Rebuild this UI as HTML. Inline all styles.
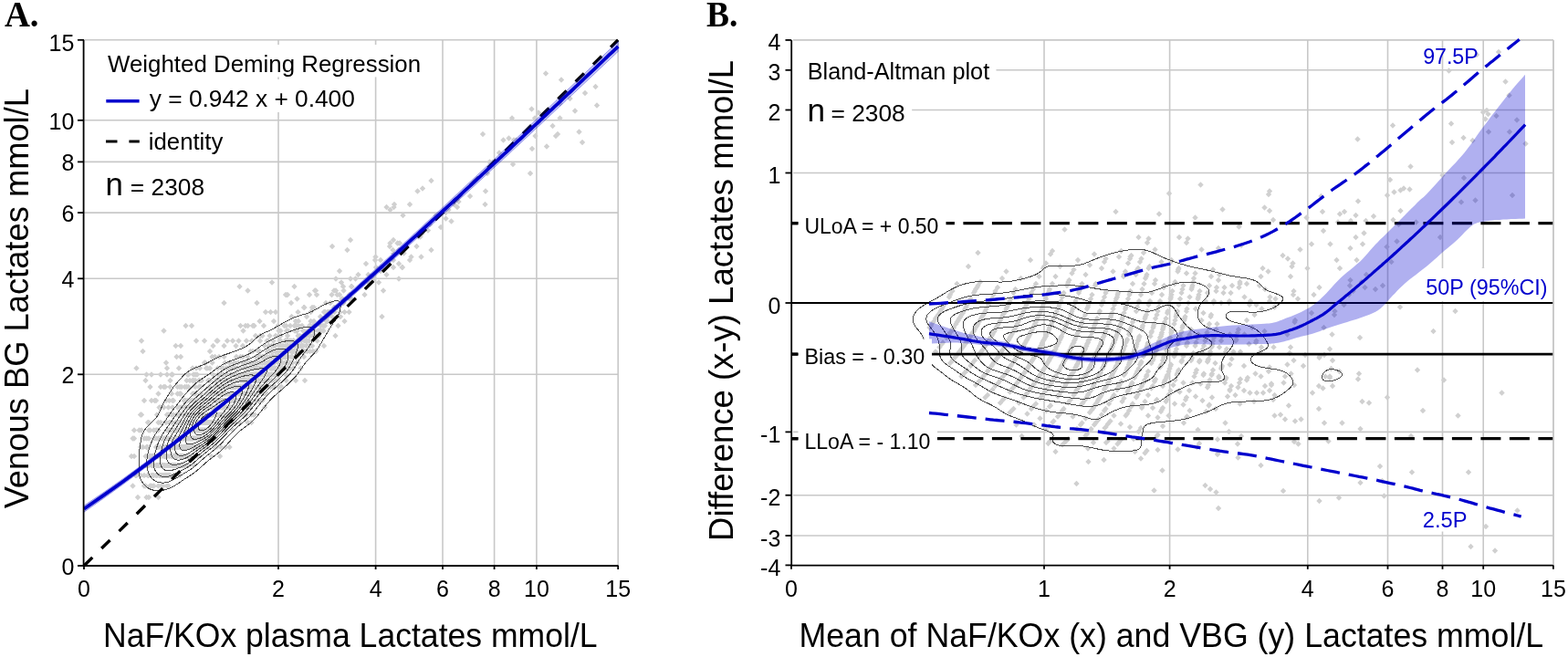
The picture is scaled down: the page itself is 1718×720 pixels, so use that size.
<!DOCTYPE html>
<html><head><meta charset="utf-8"><title>Lactates comparison</title>
<style>html,body{margin:0;padding:0;background:#fff;}svg{display:block;}</style></head>
<body><svg width="1718" height="720" viewBox="0 0 1718 720">
<rect width="1718" height="720" fill="#fff"/>
<g id="plotA">
<line x1="305" y1="44" x2="305" y2="620" stroke="#c8c8c8" stroke-width="1.6"/>
<line x1="92" y1="410.3" x2="677" y2="410.3" stroke="#c8c8c8" stroke-width="1.6"/>
<line x1="411.6" y1="44" x2="411.6" y2="620" stroke="#c8c8c8" stroke-width="1.6"/>
<line x1="92" y1="305.3" x2="677" y2="305.3" stroke="#c8c8c8" stroke-width="1.6"/>
<line x1="485" y1="44" x2="485" y2="620" stroke="#c8c8c8" stroke-width="1.6"/>
<line x1="92" y1="233.1" x2="677" y2="233.1" stroke="#c8c8c8" stroke-width="1.6"/>
<line x1="541.6" y1="44" x2="541.6" y2="620" stroke="#c8c8c8" stroke-width="1.6"/>
<line x1="92" y1="177.4" x2="677" y2="177.4" stroke="#c8c8c8" stroke-width="1.6"/>
<line x1="587.9" y1="44" x2="587.9" y2="620" stroke="#c8c8c8" stroke-width="1.6"/>
<line x1="92" y1="131.8" x2="677" y2="131.8" stroke="#c8c8c8" stroke-width="1.6"/>
<line x1="677.2" y1="44" x2="677.2" y2="620" stroke="#c8c8c8" stroke-width="1.6"/>
<line x1="92" y1="43.8" x2="677" y2="43.8" stroke="#c8c8c8" stroke-width="1.6"/>
<clipPath id="cA"><rect x="92" y="44" width="585" height="576"/></clipPath>
<g clip-path="url(#cA)"><path d="M144 496.8l3.2 3.2 -3.2 3.2 -3.2 -3.2zM145.5 477.3l3.2 3.2 -3.2 3.2 -3.2 -3.2zM145.5 529.3l3.2 3.2 -3.2 3.2 -3.2 -3.2zM147 468.3l3.2 3.2 -3.2 3.2 -3.2 -3.2zM147 477.3l3.2 3.2 -3.2 3.2 -3.2 -3.2zM147 496.8l3.2 3.2 -3.2 3.2 -3.2 -3.2zM148.5 517.8l3.2 3.2 -3.2 3.2 -3.2 -3.2zM149.5 400.3l3.2 3.2 -3.2 3.2 -3.2 -3.2zM149.5 517.8l3.2 3.2 -3.2 3.2 -3.2 -3.2zM151 541.8l3.2 3.2 -3.2 3.2 -3.2 -3.2zM152.5 468.3l3.2 3.2 -3.2 3.2 -3.2 -3.2zM152.5 517.8l3.2 3.2 -3.2 3.2 -3.2 -3.2zM154 451.3l3.2 3.2 -3.2 3.2 -3.2 -3.2zM154 486.8l3.2 3.2 -3.2 3.2 -3.2 -3.2zM154 517.8l3.2 3.2 -3.2 3.2 -3.2 -3.2zM155 370.3l3.2 3.2 -3.2 3.2 -3.2 -3.2zM155 451.3l3.2 3.2 -3.2 3.2 -3.2 -3.2zM155 468.3l3.2 3.2 -3.2 3.2 -3.2 -3.2zM156.5 381.8l3.2 3.2 -3.2 3.2 -3.2 -3.2zM156.5 486.8l3.2 3.2 -3.2 3.2 -3.2 -3.2zM158 435.8l3.2 3.2 -3.2 3.2 -3.2 -3.2zM158 477.3l3.2 3.2 -3.2 3.2 -3.2 -3.2zM158 517.8l3.2 3.2 -3.2 3.2 -3.2 -3.2zM158 529.3l3.2 3.2 -3.2 3.2 -3.2 -3.2zM159.5 413.8l3.2 3.2 -3.2 3.2 -3.2 -3.2zM159.5 496.8l3.2 3.2 -3.2 3.2 -3.2 -3.2zM159.5 506.8l3.2 3.2 -3.2 3.2 -3.2 -3.2zM159.5 529.3l3.2 3.2 -3.2 3.2 -3.2 -3.2zM160.5 407.3l3.2 3.2 -3.2 3.2 -3.2 -3.2zM160.5 477.3l3.2 3.2 -3.2 3.2 -3.2 -3.2zM160.5 486.8l3.2 3.2 -3.2 3.2 -3.2 -3.2zM160.5 506.8l3.2 3.2 -3.2 3.2 -3.2 -3.2zM160.5 541.8l3.2 3.2 -3.2 3.2 -3.2 -3.2zM162 459.8l3.2 3.2 -3.2 3.2 -3.2 -3.2zM162 486.8l3.2 3.2 -3.2 3.2 -3.2 -3.2zM162 506.8l3.2 3.2 -3.2 3.2 -3.2 -3.2zM162 517.8l3.2 3.2 -3.2 3.2 -3.2 -3.2zM163 459.8l3.2 3.2 -3.2 3.2 -3.2 -3.2zM163 468.3l3.2 3.2 -3.2 3.2 -3.2 -3.2zM163 477.3l3.2 3.2 -3.2 3.2 -3.2 -3.2zM163 496.8l3.2 3.2 -3.2 3.2 -3.2 -3.2zM163 506.8l3.2 3.2 -3.2 3.2 -3.2 -3.2zM163 517.8l3.2 3.2 -3.2 3.2 -3.2 -3.2zM163 541.8l3.2 3.2 -3.2 3.2 -3.2 -3.2zM164.5 420.8l3.2 3.2 -3.2 3.2 -3.2 -3.2zM164.5 468.3l3.2 3.2 -3.2 3.2 -3.2 -3.2zM164.5 496.8l3.2 3.2 -3.2 3.2 -3.2 -3.2zM164.5 529.3l3.2 3.2 -3.2 3.2 -3.2 -3.2zM166 407.3l3.2 3.2 -3.2 3.2 -3.2 -3.2zM166 435.8l3.2 3.2 -3.2 3.2 -3.2 -3.2zM166 496.8l3.2 3.2 -3.2 3.2 -3.2 -3.2zM166 506.8l3.2 3.2 -3.2 3.2 -3.2 -3.2zM166 517.8l3.2 3.2 -3.2 3.2 -3.2 -3.2zM166 529.3l3.2 3.2 -3.2 3.2 -3.2 -3.2zM167 496.8l3.2 3.2 -3.2 3.2 -3.2 -3.2zM167 506.8l3.2 3.2 -3.2 3.2 -3.2 -3.2zM167 517.8l3.2 3.2 -3.2 3.2 -3.2 -3.2zM168.5 468.3l3.2 3.2 -3.2 3.2 -3.2 -3.2zM168.5 477.3l3.2 3.2 -3.2 3.2 -3.2 -3.2zM168.5 496.8l3.2 3.2 -3.2 3.2 -3.2 -3.2zM168.5 506.8l3.2 3.2 -3.2 3.2 -3.2 -3.2zM168.5 517.8l3.2 3.2 -3.2 3.2 -3.2 -3.2zM168.5 529.3l3.2 3.2 -3.2 3.2 -3.2 -3.2zM169.5 435.8l3.2 3.2 -3.2 3.2 -3.2 -3.2zM169.5 496.8l3.2 3.2 -3.2 3.2 -3.2 -3.2zM171 435.8l3.2 3.2 -3.2 3.2 -3.2 -3.2zM171 468.3l3.2 3.2 -3.2 3.2 -3.2 -3.2zM171 477.3l3.2 3.2 -3.2 3.2 -3.2 -3.2zM171 486.8l3.2 3.2 -3.2 3.2 -3.2 -3.2zM171 506.8l3.2 3.2 -3.2 3.2 -3.2 -3.2zM171 517.8l3.2 3.2 -3.2 3.2 -3.2 -3.2zM172 451.3l3.2 3.2 -3.2 3.2 -3.2 -3.2zM172 468.3l3.2 3.2 -3.2 3.2 -3.2 -3.2zM172 486.8l3.2 3.2 -3.2 3.2 -3.2 -3.2zM172 496.8l3.2 3.2 -3.2 3.2 -3.2 -3.2zM172 506.8l3.2 3.2 -3.2 3.2 -3.2 -3.2zM172 517.8l3.2 3.2 -3.2 3.2 -3.2 -3.2zM173.5 428.3l3.2 3.2 -3.2 3.2 -3.2 -3.2zM173.5 459.8l3.2 3.2 -3.2 3.2 -3.2 -3.2zM173.5 468.3l3.2 3.2 -3.2 3.2 -3.2 -3.2zM173.5 477.3l3.2 3.2 -3.2 3.2 -3.2 -3.2zM173.5 486.8l3.2 3.2 -3.2 3.2 -3.2 -3.2zM173.5 496.8l3.2 3.2 -3.2 3.2 -3.2 -3.2zM173.5 506.8l3.2 3.2 -3.2 3.2 -3.2 -3.2zM173.5 529.3l3.2 3.2 -3.2 3.2 -3.2 -3.2zM173.5 541.8l3.2 3.2 -3.2 3.2 -3.2 -3.2zM174.5 443.3l3.2 3.2 -3.2 3.2 -3.2 -3.2zM174.5 477.3l3.2 3.2 -3.2 3.2 -3.2 -3.2zM174.5 506.8l3.2 3.2 -3.2 3.2 -3.2 -3.2zM174.5 517.8l3.2 3.2 -3.2 3.2 -3.2 -3.2zM176 407.3l3.2 3.2 -3.2 3.2 -3.2 -3.2zM176 420.8l3.2 3.2 -3.2 3.2 -3.2 -3.2zM176 443.3l3.2 3.2 -3.2 3.2 -3.2 -3.2zM176 459.8l3.2 3.2 -3.2 3.2 -3.2 -3.2zM176 486.8l3.2 3.2 -3.2 3.2 -3.2 -3.2zM176 506.8l3.2 3.2 -3.2 3.2 -3.2 -3.2zM176 517.8l3.2 3.2 -3.2 3.2 -3.2 -3.2zM177 477.3l3.2 3.2 -3.2 3.2 -3.2 -3.2zM177 496.8l3.2 3.2 -3.2 3.2 -3.2 -3.2zM177 506.8l3.2 3.2 -3.2 3.2 -3.2 -3.2zM177 517.8l3.2 3.2 -3.2 3.2 -3.2 -3.2zM177 529.3l3.2 3.2 -3.2 3.2 -3.2 -3.2zM178.5 486.8l3.2 3.2 -3.2 3.2 -3.2 -3.2zM178.5 506.8l3.2 3.2 -3.2 3.2 -3.2 -3.2zM178.5 517.8l3.2 3.2 -3.2 3.2 -3.2 -3.2zM178.5 529.3l3.2 3.2 -3.2 3.2 -3.2 -3.2zM179.5 359.3l3.2 3.2 -3.2 3.2 -3.2 -3.2zM179.5 420.8l3.2 3.2 -3.2 3.2 -3.2 -3.2zM179.5 443.3l3.2 3.2 -3.2 3.2 -3.2 -3.2zM179.5 477.3l3.2 3.2 -3.2 3.2 -3.2 -3.2zM179.5 486.8l3.2 3.2 -3.2 3.2 -3.2 -3.2zM179.5 496.8l3.2 3.2 -3.2 3.2 -3.2 -3.2zM179.5 506.8l3.2 3.2 -3.2 3.2 -3.2 -3.2zM179.5 517.8l3.2 3.2 -3.2 3.2 -3.2 -3.2zM181 420.8l3.2 3.2 -3.2 3.2 -3.2 -3.2zM181 477.3l3.2 3.2 -3.2 3.2 -3.2 -3.2zM181 486.8l3.2 3.2 -3.2 3.2 -3.2 -3.2zM181 496.8l3.2 3.2 -3.2 3.2 -3.2 -3.2zM181 506.8l3.2 3.2 -3.2 3.2 -3.2 -3.2zM181 517.8l3.2 3.2 -3.2 3.2 -3.2 -3.2zM182 394.3l3.2 3.2 -3.2 3.2 -3.2 -3.2zM182 435.8l3.2 3.2 -3.2 3.2 -3.2 -3.2zM182 459.8l3.2 3.2 -3.2 3.2 -3.2 -3.2zM182 477.3l3.2 3.2 -3.2 3.2 -3.2 -3.2zM182 486.8l3.2 3.2 -3.2 3.2 -3.2 -3.2zM182 496.8l3.2 3.2 -3.2 3.2 -3.2 -3.2zM182 517.8l3.2 3.2 -3.2 3.2 -3.2 -3.2zM183 400.3l3.2 3.2 -3.2 3.2 -3.2 -3.2zM183 407.3l3.2 3.2 -3.2 3.2 -3.2 -3.2zM183 451.3l3.2 3.2 -3.2 3.2 -3.2 -3.2zM183 468.3l3.2 3.2 -3.2 3.2 -3.2 -3.2zM183 477.3l3.2 3.2 -3.2 3.2 -3.2 -3.2zM183 486.8l3.2 3.2 -3.2 3.2 -3.2 -3.2zM183 496.8l3.2 3.2 -3.2 3.2 -3.2 -3.2zM183 506.8l3.2 3.2 -3.2 3.2 -3.2 -3.2zM183 517.8l3.2 3.2 -3.2 3.2 -3.2 -3.2zM183 529.3l3.2 3.2 -3.2 3.2 -3.2 -3.2zM184.5 443.3l3.2 3.2 -3.2 3.2 -3.2 -3.2zM184.5 451.3l3.2 3.2 -3.2 3.2 -3.2 -3.2zM184.5 477.3l3.2 3.2 -3.2 3.2 -3.2 -3.2zM184.5 486.8l3.2 3.2 -3.2 3.2 -3.2 -3.2zM184.5 506.8l3.2 3.2 -3.2 3.2 -3.2 -3.2zM184.5 517.8l3.2 3.2 -3.2 3.2 -3.2 -3.2zM184.5 529.3l3.2 3.2 -3.2 3.2 -3.2 -3.2zM185.5 435.8l3.2 3.2 -3.2 3.2 -3.2 -3.2zM185.5 459.8l3.2 3.2 -3.2 3.2 -3.2 -3.2zM185.5 468.3l3.2 3.2 -3.2 3.2 -3.2 -3.2zM185.5 486.8l3.2 3.2 -3.2 3.2 -3.2 -3.2zM185.5 496.8l3.2 3.2 -3.2 3.2 -3.2 -3.2zM185.5 506.8l3.2 3.2 -3.2 3.2 -3.2 -3.2zM185.5 517.8l3.2 3.2 -3.2 3.2 -3.2 -3.2zM186.5 413.8l3.2 3.2 -3.2 3.2 -3.2 -3.2zM186.5 420.8l3.2 3.2 -3.2 3.2 -3.2 -3.2zM186.5 459.8l3.2 3.2 -3.2 3.2 -3.2 -3.2zM186.5 468.3l3.2 3.2 -3.2 3.2 -3.2 -3.2zM186.5 477.3l3.2 3.2 -3.2 3.2 -3.2 -3.2zM186.5 486.8l3.2 3.2 -3.2 3.2 -3.2 -3.2zM186.5 506.8l3.2 3.2 -3.2 3.2 -3.2 -3.2zM186.5 517.8l3.2 3.2 -3.2 3.2 -3.2 -3.2zM188 407.3l3.2 3.2 -3.2 3.2 -3.2 -3.2zM188 428.3l3.2 3.2 -3.2 3.2 -3.2 -3.2zM188 451.3l3.2 3.2 -3.2 3.2 -3.2 -3.2zM188 468.3l3.2 3.2 -3.2 3.2 -3.2 -3.2zM188 477.3l3.2 3.2 -3.2 3.2 -3.2 -3.2zM188 486.8l3.2 3.2 -3.2 3.2 -3.2 -3.2zM188 496.8l3.2 3.2 -3.2 3.2 -3.2 -3.2zM188 506.8l3.2 3.2 -3.2 3.2 -3.2 -3.2zM189 407.3l3.2 3.2 -3.2 3.2 -3.2 -3.2zM189 435.8l3.2 3.2 -3.2 3.2 -3.2 -3.2zM189 443.3l3.2 3.2 -3.2 3.2 -3.2 -3.2zM189 459.8l3.2 3.2 -3.2 3.2 -3.2 -3.2zM189 477.3l3.2 3.2 -3.2 3.2 -3.2 -3.2zM189 486.8l3.2 3.2 -3.2 3.2 -3.2 -3.2zM189 496.8l3.2 3.2 -3.2 3.2 -3.2 -3.2zM189 506.8l3.2 3.2 -3.2 3.2 -3.2 -3.2zM190 435.8l3.2 3.2 -3.2 3.2 -3.2 -3.2zM190 451.3l3.2 3.2 -3.2 3.2 -3.2 -3.2zM190 468.3l3.2 3.2 -3.2 3.2 -3.2 -3.2zM190 486.8l3.2 3.2 -3.2 3.2 -3.2 -3.2zM190 496.8l3.2 3.2 -3.2 3.2 -3.2 -3.2zM190 506.8l3.2 3.2 -3.2 3.2 -3.2 -3.2zM190 517.8l3.2 3.2 -3.2 3.2 -3.2 -3.2zM191.5 468.3l3.2 3.2 -3.2 3.2 -3.2 -3.2zM191.5 486.8l3.2 3.2 -3.2 3.2 -3.2 -3.2zM191.5 496.8l3.2 3.2 -3.2 3.2 -3.2 -3.2zM191.5 506.8l3.2 3.2 -3.2 3.2 -3.2 -3.2zM191.5 517.8l3.2 3.2 -3.2 3.2 -3.2 -3.2zM192.5 375.8l3.2 3.2 -3.2 3.2 -3.2 -3.2zM192.5 459.8l3.2 3.2 -3.2 3.2 -3.2 -3.2zM192.5 468.3l3.2 3.2 -3.2 3.2 -3.2 -3.2zM192.5 477.3l3.2 3.2 -3.2 3.2 -3.2 -3.2zM192.5 486.8l3.2 3.2 -3.2 3.2 -3.2 -3.2zM192.5 496.8l3.2 3.2 -3.2 3.2 -3.2 -3.2zM192.5 506.8l3.2 3.2 -3.2 3.2 -3.2 -3.2zM193.5 387.8l3.2 3.2 -3.2 3.2 -3.2 -3.2zM193.5 451.3l3.2 3.2 -3.2 3.2 -3.2 -3.2zM193.5 477.3l3.2 3.2 -3.2 3.2 -3.2 -3.2zM193.5 486.8l3.2 3.2 -3.2 3.2 -3.2 -3.2zM193.5 496.8l3.2 3.2 -3.2 3.2 -3.2 -3.2zM194.5 420.8l3.2 3.2 -3.2 3.2 -3.2 -3.2zM194.5 428.3l3.2 3.2 -3.2 3.2 -3.2 -3.2zM194.5 443.3l3.2 3.2 -3.2 3.2 -3.2 -3.2zM194.5 459.8l3.2 3.2 -3.2 3.2 -3.2 -3.2zM194.5 468.3l3.2 3.2 -3.2 3.2 -3.2 -3.2zM194.5 477.3l3.2 3.2 -3.2 3.2 -3.2 -3.2zM194.5 486.8l3.2 3.2 -3.2 3.2 -3.2 -3.2zM194.5 496.8l3.2 3.2 -3.2 3.2 -3.2 -3.2zM194.5 506.8l3.2 3.2 -3.2 3.2 -3.2 -3.2zM196 400.3l3.2 3.2 -3.2 3.2 -3.2 -3.2zM196 451.3l3.2 3.2 -3.2 3.2 -3.2 -3.2zM196 459.8l3.2 3.2 -3.2 3.2 -3.2 -3.2zM196 468.3l3.2 3.2 -3.2 3.2 -3.2 -3.2zM196 477.3l3.2 3.2 -3.2 3.2 -3.2 -3.2zM196 486.8l3.2 3.2 -3.2 3.2 -3.2 -3.2zM196 506.8l3.2 3.2 -3.2 3.2 -3.2 -3.2zM197 420.8l3.2 3.2 -3.2 3.2 -3.2 -3.2zM197 428.3l3.2 3.2 -3.2 3.2 -3.2 -3.2zM197 443.3l3.2 3.2 -3.2 3.2 -3.2 -3.2zM197 451.3l3.2 3.2 -3.2 3.2 -3.2 -3.2zM197 459.8l3.2 3.2 -3.2 3.2 -3.2 -3.2zM197 477.3l3.2 3.2 -3.2 3.2 -3.2 -3.2zM197 486.8l3.2 3.2 -3.2 3.2 -3.2 -3.2zM197 496.8l3.2 3.2 -3.2 3.2 -3.2 -3.2zM197 506.8l3.2 3.2 -3.2 3.2 -3.2 -3.2zM197 517.8l3.2 3.2 -3.2 3.2 -3.2 -3.2zM198 375.8l3.2 3.2 -3.2 3.2 -3.2 -3.2zM198 387.8l3.2 3.2 -3.2 3.2 -3.2 -3.2zM198 428.3l3.2 3.2 -3.2 3.2 -3.2 -3.2zM198 451.3l3.2 3.2 -3.2 3.2 -3.2 -3.2zM198 468.3l3.2 3.2 -3.2 3.2 -3.2 -3.2zM198 477.3l3.2 3.2 -3.2 3.2 -3.2 -3.2zM198 486.8l3.2 3.2 -3.2 3.2 -3.2 -3.2zM198 496.8l3.2 3.2 -3.2 3.2 -3.2 -3.2zM198 506.8l3.2 3.2 -3.2 3.2 -3.2 -3.2zM199 420.8l3.2 3.2 -3.2 3.2 -3.2 -3.2zM199 443.3l3.2 3.2 -3.2 3.2 -3.2 -3.2zM199 459.8l3.2 3.2 -3.2 3.2 -3.2 -3.2zM199 468.3l3.2 3.2 -3.2 3.2 -3.2 -3.2zM199 477.3l3.2 3.2 -3.2 3.2 -3.2 -3.2zM199 486.8l3.2 3.2 -3.2 3.2 -3.2 -3.2zM199 496.8l3.2 3.2 -3.2 3.2 -3.2 -3.2zM199 506.8l3.2 3.2 -3.2 3.2 -3.2 -3.2zM200 459.8l3.2 3.2 -3.2 3.2 -3.2 -3.2zM200 468.3l3.2 3.2 -3.2 3.2 -3.2 -3.2zM200 477.3l3.2 3.2 -3.2 3.2 -3.2 -3.2zM200 486.8l3.2 3.2 -3.2 3.2 -3.2 -3.2zM200 496.8l3.2 3.2 -3.2 3.2 -3.2 -3.2zM200 506.8l3.2 3.2 -3.2 3.2 -3.2 -3.2zM201.5 435.8l3.2 3.2 -3.2 3.2 -3.2 -3.2zM201.5 451.3l3.2 3.2 -3.2 3.2 -3.2 -3.2zM201.5 459.8l3.2 3.2 -3.2 3.2 -3.2 -3.2zM201.5 468.3l3.2 3.2 -3.2 3.2 -3.2 -3.2zM201.5 477.3l3.2 3.2 -3.2 3.2 -3.2 -3.2zM201.5 486.8l3.2 3.2 -3.2 3.2 -3.2 -3.2zM201.5 496.8l3.2 3.2 -3.2 3.2 -3.2 -3.2zM201.5 506.8l3.2 3.2 -3.2 3.2 -3.2 -3.2zM202.5 420.8l3.2 3.2 -3.2 3.2 -3.2 -3.2zM202.5 435.8l3.2 3.2 -3.2 3.2 -3.2 -3.2zM202.5 443.3l3.2 3.2 -3.2 3.2 -3.2 -3.2zM202.5 451.3l3.2 3.2 -3.2 3.2 -3.2 -3.2zM202.5 459.8l3.2 3.2 -3.2 3.2 -3.2 -3.2zM202.5 468.3l3.2 3.2 -3.2 3.2 -3.2 -3.2zM202.5 486.8l3.2 3.2 -3.2 3.2 -3.2 -3.2zM202.5 496.8l3.2 3.2 -3.2 3.2 -3.2 -3.2zM202.5 506.8l3.2 3.2 -3.2 3.2 -3.2 -3.2zM203.5 353.8l3.2 3.2 -3.2 3.2 -3.2 -3.2zM203.5 435.8l3.2 3.2 -3.2 3.2 -3.2 -3.2zM203.5 451.3l3.2 3.2 -3.2 3.2 -3.2 -3.2zM203.5 468.3l3.2 3.2 -3.2 3.2 -3.2 -3.2zM203.5 477.3l3.2 3.2 -3.2 3.2 -3.2 -3.2zM203.5 486.8l3.2 3.2 -3.2 3.2 -3.2 -3.2zM203.5 496.8l3.2 3.2 -3.2 3.2 -3.2 -3.2zM203.5 506.8l3.2 3.2 -3.2 3.2 -3.2 -3.2zM204.5 413.8l3.2 3.2 -3.2 3.2 -3.2 -3.2zM204.5 420.8l3.2 3.2 -3.2 3.2 -3.2 -3.2zM204.5 443.3l3.2 3.2 -3.2 3.2 -3.2 -3.2zM204.5 459.8l3.2 3.2 -3.2 3.2 -3.2 -3.2zM204.5 468.3l3.2 3.2 -3.2 3.2 -3.2 -3.2zM204.5 477.3l3.2 3.2 -3.2 3.2 -3.2 -3.2zM204.5 486.8l3.2 3.2 -3.2 3.2 -3.2 -3.2zM204.5 496.8l3.2 3.2 -3.2 3.2 -3.2 -3.2zM204.5 506.8l3.2 3.2 -3.2 3.2 -3.2 -3.2zM205.5 407.3l3.2 3.2 -3.2 3.2 -3.2 -3.2zM205.5 435.8l3.2 3.2 -3.2 3.2 -3.2 -3.2zM205.5 451.3l3.2 3.2 -3.2 3.2 -3.2 -3.2zM205.5 459.8l3.2 3.2 -3.2 3.2 -3.2 -3.2zM205.5 468.3l3.2 3.2 -3.2 3.2 -3.2 -3.2zM205.5 477.3l3.2 3.2 -3.2 3.2 -3.2 -3.2zM205.5 486.8l3.2 3.2 -3.2 3.2 -3.2 -3.2zM205.5 496.8l3.2 3.2 -3.2 3.2 -3.2 -3.2zM205.5 506.8l3.2 3.2 -3.2 3.2 -3.2 -3.2zM206.5 407.3l3.2 3.2 -3.2 3.2 -3.2 -3.2zM206.5 420.8l3.2 3.2 -3.2 3.2 -3.2 -3.2zM206.5 443.3l3.2 3.2 -3.2 3.2 -3.2 -3.2zM206.5 451.3l3.2 3.2 -3.2 3.2 -3.2 -3.2zM206.5 459.8l3.2 3.2 -3.2 3.2 -3.2 -3.2zM206.5 468.3l3.2 3.2 -3.2 3.2 -3.2 -3.2zM206.5 477.3l3.2 3.2 -3.2 3.2 -3.2 -3.2zM206.5 486.8l3.2 3.2 -3.2 3.2 -3.2 -3.2zM206.5 496.8l3.2 3.2 -3.2 3.2 -3.2 -3.2zM206.5 506.8l3.2 3.2 -3.2 3.2 -3.2 -3.2zM208 413.8l3.2 3.2 -3.2 3.2 -3.2 -3.2zM208 435.8l3.2 3.2 -3.2 3.2 -3.2 -3.2zM208 443.3l3.2 3.2 -3.2 3.2 -3.2 -3.2zM208 451.3l3.2 3.2 -3.2 3.2 -3.2 -3.2zM208 468.3l3.2 3.2 -3.2 3.2 -3.2 -3.2zM208 477.3l3.2 3.2 -3.2 3.2 -3.2 -3.2zM208 486.8l3.2 3.2 -3.2 3.2 -3.2 -3.2zM208 496.8l3.2 3.2 -3.2 3.2 -3.2 -3.2zM209 435.8l3.2 3.2 -3.2 3.2 -3.2 -3.2zM209 443.3l3.2 3.2 -3.2 3.2 -3.2 -3.2zM209 451.3l3.2 3.2 -3.2 3.2 -3.2 -3.2zM209 459.8l3.2 3.2 -3.2 3.2 -3.2 -3.2zM209 477.3l3.2 3.2 -3.2 3.2 -3.2 -3.2zM209 486.8l3.2 3.2 -3.2 3.2 -3.2 -3.2zM210 353.8l3.2 3.2 -3.2 3.2 -3.2 -3.2zM210 451.3l3.2 3.2 -3.2 3.2 -3.2 -3.2zM210 459.8l3.2 3.2 -3.2 3.2 -3.2 -3.2zM210 468.3l3.2 3.2 -3.2 3.2 -3.2 -3.2zM210 477.3l3.2 3.2 -3.2 3.2 -3.2 -3.2zM210 486.8l3.2 3.2 -3.2 3.2 -3.2 -3.2zM210 496.8l3.2 3.2 -3.2 3.2 -3.2 -3.2zM211 400.3l3.2 3.2 -3.2 3.2 -3.2 -3.2zM211 413.8l3.2 3.2 -3.2 3.2 -3.2 -3.2zM211 428.3l3.2 3.2 -3.2 3.2 -3.2 -3.2zM211 435.8l3.2 3.2 -3.2 3.2 -3.2 -3.2zM211 443.3l3.2 3.2 -3.2 3.2 -3.2 -3.2zM211 451.3l3.2 3.2 -3.2 3.2 -3.2 -3.2zM211 459.8l3.2 3.2 -3.2 3.2 -3.2 -3.2zM211 468.3l3.2 3.2 -3.2 3.2 -3.2 -3.2zM211 477.3l3.2 3.2 -3.2 3.2 -3.2 -3.2zM211 486.8l3.2 3.2 -3.2 3.2 -3.2 -3.2zM211 496.8l3.2 3.2 -3.2 3.2 -3.2 -3.2zM212 407.3l3.2 3.2 -3.2 3.2 -3.2 -3.2zM212 413.8l3.2 3.2 -3.2 3.2 -3.2 -3.2zM212 428.3l3.2 3.2 -3.2 3.2 -3.2 -3.2zM212 435.8l3.2 3.2 -3.2 3.2 -3.2 -3.2zM212 451.3l3.2 3.2 -3.2 3.2 -3.2 -3.2zM212 459.8l3.2 3.2 -3.2 3.2 -3.2 -3.2zM212 468.3l3.2 3.2 -3.2 3.2 -3.2 -3.2zM212 477.3l3.2 3.2 -3.2 3.2 -3.2 -3.2zM212 486.8l3.2 3.2 -3.2 3.2 -3.2 -3.2zM212 496.8l3.2 3.2 -3.2 3.2 -3.2 -3.2zM212 506.8l3.2 3.2 -3.2 3.2 -3.2 -3.2zM213 435.8l3.2 3.2 -3.2 3.2 -3.2 -3.2zM213 451.3l3.2 3.2 -3.2 3.2 -3.2 -3.2zM213 459.8l3.2 3.2 -3.2 3.2 -3.2 -3.2zM213 468.3l3.2 3.2 -3.2 3.2 -3.2 -3.2zM213 477.3l3.2 3.2 -3.2 3.2 -3.2 -3.2zM213 486.8l3.2 3.2 -3.2 3.2 -3.2 -3.2zM214 407.3l3.2 3.2 -3.2 3.2 -3.2 -3.2zM214 413.8l3.2 3.2 -3.2 3.2 -3.2 -3.2zM214 420.8l3.2 3.2 -3.2 3.2 -3.2 -3.2zM214 428.3l3.2 3.2 -3.2 3.2 -3.2 -3.2zM214 443.3l3.2 3.2 -3.2 3.2 -3.2 -3.2zM214 451.3l3.2 3.2 -3.2 3.2 -3.2 -3.2zM214 459.8l3.2 3.2 -3.2 3.2 -3.2 -3.2zM214 468.3l3.2 3.2 -3.2 3.2 -3.2 -3.2zM214 477.3l3.2 3.2 -3.2 3.2 -3.2 -3.2zM214 486.8l3.2 3.2 -3.2 3.2 -3.2 -3.2zM215 370.3l3.2 3.2 -3.2 3.2 -3.2 -3.2zM215 400.3l3.2 3.2 -3.2 3.2 -3.2 -3.2zM215 435.8l3.2 3.2 -3.2 3.2 -3.2 -3.2zM215 459.8l3.2 3.2 -3.2 3.2 -3.2 -3.2zM215 468.3l3.2 3.2 -3.2 3.2 -3.2 -3.2zM215 477.3l3.2 3.2 -3.2 3.2 -3.2 -3.2zM215 486.8l3.2 3.2 -3.2 3.2 -3.2 -3.2zM216 407.3l3.2 3.2 -3.2 3.2 -3.2 -3.2zM216 435.8l3.2 3.2 -3.2 3.2 -3.2 -3.2zM216 451.3l3.2 3.2 -3.2 3.2 -3.2 -3.2zM216 459.8l3.2 3.2 -3.2 3.2 -3.2 -3.2zM216 468.3l3.2 3.2 -3.2 3.2 -3.2 -3.2zM216 477.3l3.2 3.2 -3.2 3.2 -3.2 -3.2zM216 486.8l3.2 3.2 -3.2 3.2 -3.2 -3.2zM216 496.8l3.2 3.2 -3.2 3.2 -3.2 -3.2zM217 443.3l3.2 3.2 -3.2 3.2 -3.2 -3.2zM217 451.3l3.2 3.2 -3.2 3.2 -3.2 -3.2zM217 459.8l3.2 3.2 -3.2 3.2 -3.2 -3.2zM217 468.3l3.2 3.2 -3.2 3.2 -3.2 -3.2zM217 477.3l3.2 3.2 -3.2 3.2 -3.2 -3.2zM217 486.8l3.2 3.2 -3.2 3.2 -3.2 -3.2zM217 496.8l3.2 3.2 -3.2 3.2 -3.2 -3.2zM218 413.8l3.2 3.2 -3.2 3.2 -3.2 -3.2zM218 420.8l3.2 3.2 -3.2 3.2 -3.2 -3.2zM218 435.8l3.2 3.2 -3.2 3.2 -3.2 -3.2zM218 443.3l3.2 3.2 -3.2 3.2 -3.2 -3.2zM218 451.3l3.2 3.2 -3.2 3.2 -3.2 -3.2zM218 459.8l3.2 3.2 -3.2 3.2 -3.2 -3.2zM218 468.3l3.2 3.2 -3.2 3.2 -3.2 -3.2zM218 477.3l3.2 3.2 -3.2 3.2 -3.2 -3.2zM218 496.8l3.2 3.2 -3.2 3.2 -3.2 -3.2zM219 400.3l3.2 3.2 -3.2 3.2 -3.2 -3.2zM219 413.8l3.2 3.2 -3.2 3.2 -3.2 -3.2zM219 420.8l3.2 3.2 -3.2 3.2 -3.2 -3.2zM219 435.8l3.2 3.2 -3.2 3.2 -3.2 -3.2zM219 443.3l3.2 3.2 -3.2 3.2 -3.2 -3.2zM219 451.3l3.2 3.2 -3.2 3.2 -3.2 -3.2zM219 459.8l3.2 3.2 -3.2 3.2 -3.2 -3.2zM219 468.3l3.2 3.2 -3.2 3.2 -3.2 -3.2zM219 477.3l3.2 3.2 -3.2 3.2 -3.2 -3.2zM219 486.8l3.2 3.2 -3.2 3.2 -3.2 -3.2zM220 420.8l3.2 3.2 -3.2 3.2 -3.2 -3.2zM220 428.3l3.2 3.2 -3.2 3.2 -3.2 -3.2zM220 435.8l3.2 3.2 -3.2 3.2 -3.2 -3.2zM220 443.3l3.2 3.2 -3.2 3.2 -3.2 -3.2zM220 451.3l3.2 3.2 -3.2 3.2 -3.2 -3.2zM220 459.8l3.2 3.2 -3.2 3.2 -3.2 -3.2zM220 468.3l3.2 3.2 -3.2 3.2 -3.2 -3.2zM220 477.3l3.2 3.2 -3.2 3.2 -3.2 -3.2zM220 486.8l3.2 3.2 -3.2 3.2 -3.2 -3.2zM221 413.8l3.2 3.2 -3.2 3.2 -3.2 -3.2zM221 451.3l3.2 3.2 -3.2 3.2 -3.2 -3.2zM221 459.8l3.2 3.2 -3.2 3.2 -3.2 -3.2zM221 468.3l3.2 3.2 -3.2 3.2 -3.2 -3.2zM221 477.3l3.2 3.2 -3.2 3.2 -3.2 -3.2zM221 486.8l3.2 3.2 -3.2 3.2 -3.2 -3.2zM222 435.8l3.2 3.2 -3.2 3.2 -3.2 -3.2zM222 443.3l3.2 3.2 -3.2 3.2 -3.2 -3.2zM222 451.3l3.2 3.2 -3.2 3.2 -3.2 -3.2zM222 459.8l3.2 3.2 -3.2 3.2 -3.2 -3.2zM222 468.3l3.2 3.2 -3.2 3.2 -3.2 -3.2zM222 477.3l3.2 3.2 -3.2 3.2 -3.2 -3.2zM223 435.8l3.2 3.2 -3.2 3.2 -3.2 -3.2zM223 443.3l3.2 3.2 -3.2 3.2 -3.2 -3.2zM223 451.3l3.2 3.2 -3.2 3.2 -3.2 -3.2zM223 459.8l3.2 3.2 -3.2 3.2 -3.2 -3.2zM223 468.3l3.2 3.2 -3.2 3.2 -3.2 -3.2zM223 477.3l3.2 3.2 -3.2 3.2 -3.2 -3.2zM223 486.8l3.2 3.2 -3.2 3.2 -3.2 -3.2zM224 370.3l3.2 3.2 -3.2 3.2 -3.2 -3.2zM224 394.3l3.2 3.2 -3.2 3.2 -3.2 -3.2zM224 435.8l3.2 3.2 -3.2 3.2 -3.2 -3.2zM224 443.3l3.2 3.2 -3.2 3.2 -3.2 -3.2zM224 451.3l3.2 3.2 -3.2 3.2 -3.2 -3.2zM224 459.8l3.2 3.2 -3.2 3.2 -3.2 -3.2zM224 468.3l3.2 3.2 -3.2 3.2 -3.2 -3.2zM224 477.3l3.2 3.2 -3.2 3.2 -3.2 -3.2zM224 486.8l3.2 3.2 -3.2 3.2 -3.2 -3.2zM225 394.3l3.2 3.2 -3.2 3.2 -3.2 -3.2zM225 435.8l3.2 3.2 -3.2 3.2 -3.2 -3.2zM225 443.3l3.2 3.2 -3.2 3.2 -3.2 -3.2zM225 451.3l3.2 3.2 -3.2 3.2 -3.2 -3.2zM225 459.8l3.2 3.2 -3.2 3.2 -3.2 -3.2zM225 468.3l3.2 3.2 -3.2 3.2 -3.2 -3.2zM225 477.3l3.2 3.2 -3.2 3.2 -3.2 -3.2zM225 486.8l3.2 3.2 -3.2 3.2 -3.2 -3.2zM226 400.3l3.2 3.2 -3.2 3.2 -3.2 -3.2zM226 428.3l3.2 3.2 -3.2 3.2 -3.2 -3.2zM226 435.8l3.2 3.2 -3.2 3.2 -3.2 -3.2zM226 443.3l3.2 3.2 -3.2 3.2 -3.2 -3.2zM226 451.3l3.2 3.2 -3.2 3.2 -3.2 -3.2zM226 459.8l3.2 3.2 -3.2 3.2 -3.2 -3.2zM226 468.3l3.2 3.2 -3.2 3.2 -3.2 -3.2zM226 477.3l3.2 3.2 -3.2 3.2 -3.2 -3.2zM226 486.8l3.2 3.2 -3.2 3.2 -3.2 -3.2zM227 400.3l3.2 3.2 -3.2 3.2 -3.2 -3.2zM227 428.3l3.2 3.2 -3.2 3.2 -3.2 -3.2zM227 435.8l3.2 3.2 -3.2 3.2 -3.2 -3.2zM227 443.3l3.2 3.2 -3.2 3.2 -3.2 -3.2zM227 451.3l3.2 3.2 -3.2 3.2 -3.2 -3.2zM227 459.8l3.2 3.2 -3.2 3.2 -3.2 -3.2zM227 468.3l3.2 3.2 -3.2 3.2 -3.2 -3.2zM227 477.3l3.2 3.2 -3.2 3.2 -3.2 -3.2zM228 413.8l3.2 3.2 -3.2 3.2 -3.2 -3.2zM228 428.3l3.2 3.2 -3.2 3.2 -3.2 -3.2zM228 435.8l3.2 3.2 -3.2 3.2 -3.2 -3.2zM228 443.3l3.2 3.2 -3.2 3.2 -3.2 -3.2zM228 451.3l3.2 3.2 -3.2 3.2 -3.2 -3.2zM228 459.8l3.2 3.2 -3.2 3.2 -3.2 -3.2zM228 468.3l3.2 3.2 -3.2 3.2 -3.2 -3.2zM228 477.3l3.2 3.2 -3.2 3.2 -3.2 -3.2zM228 486.8l3.2 3.2 -3.2 3.2 -3.2 -3.2zM229 413.8l3.2 3.2 -3.2 3.2 -3.2 -3.2zM229 420.8l3.2 3.2 -3.2 3.2 -3.2 -3.2zM229 428.3l3.2 3.2 -3.2 3.2 -3.2 -3.2zM229 443.3l3.2 3.2 -3.2 3.2 -3.2 -3.2zM229 451.3l3.2 3.2 -3.2 3.2 -3.2 -3.2zM229 459.8l3.2 3.2 -3.2 3.2 -3.2 -3.2zM229 468.3l3.2 3.2 -3.2 3.2 -3.2 -3.2zM229 477.3l3.2 3.2 -3.2 3.2 -3.2 -3.2zM230 381.8l3.2 3.2 -3.2 3.2 -3.2 -3.2zM230 400.3l3.2 3.2 -3.2 3.2 -3.2 -3.2zM230 413.8l3.2 3.2 -3.2 3.2 -3.2 -3.2zM230 420.8l3.2 3.2 -3.2 3.2 -3.2 -3.2zM230 435.8l3.2 3.2 -3.2 3.2 -3.2 -3.2zM230 443.3l3.2 3.2 -3.2 3.2 -3.2 -3.2zM230 451.3l3.2 3.2 -3.2 3.2 -3.2 -3.2zM230 459.8l3.2 3.2 -3.2 3.2 -3.2 -3.2zM230 468.3l3.2 3.2 -3.2 3.2 -3.2 -3.2zM231 428.3l3.2 3.2 -3.2 3.2 -3.2 -3.2zM231 443.3l3.2 3.2 -3.2 3.2 -3.2 -3.2zM231 451.3l3.2 3.2 -3.2 3.2 -3.2 -3.2zM231 459.8l3.2 3.2 -3.2 3.2 -3.2 -3.2zM231 468.3l3.2 3.2 -3.2 3.2 -3.2 -3.2zM231.5 428.3l3.2 3.2 -3.2 3.2 -3.2 -3.2zM231.5 435.8l3.2 3.2 -3.2 3.2 -3.2 -3.2zM231.5 443.3l3.2 3.2 -3.2 3.2 -3.2 -3.2zM231.5 451.3l3.2 3.2 -3.2 3.2 -3.2 -3.2zM231.5 459.8l3.2 3.2 -3.2 3.2 -3.2 -3.2zM231.5 468.3l3.2 3.2 -3.2 3.2 -3.2 -3.2zM231.5 496.8l3.2 3.2 -3.2 3.2 -3.2 -3.2zM232.5 387.8l3.2 3.2 -3.2 3.2 -3.2 -3.2zM232.5 394.3l3.2 3.2 -3.2 3.2 -3.2 -3.2zM232.5 428.3l3.2 3.2 -3.2 3.2 -3.2 -3.2zM232.5 435.8l3.2 3.2 -3.2 3.2 -3.2 -3.2zM232.5 443.3l3.2 3.2 -3.2 3.2 -3.2 -3.2zM232.5 451.3l3.2 3.2 -3.2 3.2 -3.2 -3.2zM232.5 459.8l3.2 3.2 -3.2 3.2 -3.2 -3.2zM232.5 468.3l3.2 3.2 -3.2 3.2 -3.2 -3.2zM233.5 375.8l3.2 3.2 -3.2 3.2 -3.2 -3.2zM233.5 407.3l3.2 3.2 -3.2 3.2 -3.2 -3.2zM233.5 428.3l3.2 3.2 -3.2 3.2 -3.2 -3.2zM233.5 435.8l3.2 3.2 -3.2 3.2 -3.2 -3.2zM233.5 443.3l3.2 3.2 -3.2 3.2 -3.2 -3.2zM233.5 451.3l3.2 3.2 -3.2 3.2 -3.2 -3.2zM233.5 459.8l3.2 3.2 -3.2 3.2 -3.2 -3.2zM233.5 468.3l3.2 3.2 -3.2 3.2 -3.2 -3.2zM234.5 428.3l3.2 3.2 -3.2 3.2 -3.2 -3.2zM234.5 435.8l3.2 3.2 -3.2 3.2 -3.2 -3.2zM234.5 443.3l3.2 3.2 -3.2 3.2 -3.2 -3.2zM234.5 451.3l3.2 3.2 -3.2 3.2 -3.2 -3.2zM234.5 459.8l3.2 3.2 -3.2 3.2 -3.2 -3.2zM234.5 468.3l3.2 3.2 -3.2 3.2 -3.2 -3.2zM234.5 477.3l3.2 3.2 -3.2 3.2 -3.2 -3.2zM234.5 486.8l3.2 3.2 -3.2 3.2 -3.2 -3.2zM235.5 387.8l3.2 3.2 -3.2 3.2 -3.2 -3.2zM235.5 420.8l3.2 3.2 -3.2 3.2 -3.2 -3.2zM235.5 428.3l3.2 3.2 -3.2 3.2 -3.2 -3.2zM235.5 435.8l3.2 3.2 -3.2 3.2 -3.2 -3.2zM235.5 451.3l3.2 3.2 -3.2 3.2 -3.2 -3.2zM235.5 459.8l3.2 3.2 -3.2 3.2 -3.2 -3.2zM235.5 468.3l3.2 3.2 -3.2 3.2 -3.2 -3.2zM236.5 413.8l3.2 3.2 -3.2 3.2 -3.2 -3.2zM236.5 428.3l3.2 3.2 -3.2 3.2 -3.2 -3.2zM236.5 435.8l3.2 3.2 -3.2 3.2 -3.2 -3.2zM236.5 443.3l3.2 3.2 -3.2 3.2 -3.2 -3.2zM236.5 451.3l3.2 3.2 -3.2 3.2 -3.2 -3.2zM236.5 459.8l3.2 3.2 -3.2 3.2 -3.2 -3.2zM236.5 468.3l3.2 3.2 -3.2 3.2 -3.2 -3.2zM236.5 477.3l3.2 3.2 -3.2 3.2 -3.2 -3.2zM237.5 370.3l3.2 3.2 -3.2 3.2 -3.2 -3.2zM237.5 413.8l3.2 3.2 -3.2 3.2 -3.2 -3.2zM237.5 428.3l3.2 3.2 -3.2 3.2 -3.2 -3.2zM237.5 435.8l3.2 3.2 -3.2 3.2 -3.2 -3.2zM237.5 443.3l3.2 3.2 -3.2 3.2 -3.2 -3.2zM237.5 451.3l3.2 3.2 -3.2 3.2 -3.2 -3.2zM237.5 459.8l3.2 3.2 -3.2 3.2 -3.2 -3.2zM237.5 468.3l3.2 3.2 -3.2 3.2 -3.2 -3.2zM237.5 486.8l3.2 3.2 -3.2 3.2 -3.2 -3.2zM238.5 370.3l3.2 3.2 -3.2 3.2 -3.2 -3.2zM238.5 400.3l3.2 3.2 -3.2 3.2 -3.2 -3.2zM238.5 420.8l3.2 3.2 -3.2 3.2 -3.2 -3.2zM238.5 428.3l3.2 3.2 -3.2 3.2 -3.2 -3.2zM238.5 435.8l3.2 3.2 -3.2 3.2 -3.2 -3.2zM238.5 443.3l3.2 3.2 -3.2 3.2 -3.2 -3.2zM238.5 451.3l3.2 3.2 -3.2 3.2 -3.2 -3.2zM238.5 459.8l3.2 3.2 -3.2 3.2 -3.2 -3.2zM238.5 468.3l3.2 3.2 -3.2 3.2 -3.2 -3.2zM239 407.3l3.2 3.2 -3.2 3.2 -3.2 -3.2zM239 420.8l3.2 3.2 -3.2 3.2 -3.2 -3.2zM239 428.3l3.2 3.2 -3.2 3.2 -3.2 -3.2zM239 435.8l3.2 3.2 -3.2 3.2 -3.2 -3.2zM239 459.8l3.2 3.2 -3.2 3.2 -3.2 -3.2zM239 468.3l3.2 3.2 -3.2 3.2 -3.2 -3.2zM240 387.8l3.2 3.2 -3.2 3.2 -3.2 -3.2zM240 407.3l3.2 3.2 -3.2 3.2 -3.2 -3.2zM240 420.8l3.2 3.2 -3.2 3.2 -3.2 -3.2zM240 428.3l3.2 3.2 -3.2 3.2 -3.2 -3.2zM240 435.8l3.2 3.2 -3.2 3.2 -3.2 -3.2zM240 443.3l3.2 3.2 -3.2 3.2 -3.2 -3.2zM240 451.3l3.2 3.2 -3.2 3.2 -3.2 -3.2zM240 459.8l3.2 3.2 -3.2 3.2 -3.2 -3.2zM241 407.3l3.2 3.2 -3.2 3.2 -3.2 -3.2zM241 413.8l3.2 3.2 -3.2 3.2 -3.2 -3.2zM241 428.3l3.2 3.2 -3.2 3.2 -3.2 -3.2zM241 435.8l3.2 3.2 -3.2 3.2 -3.2 -3.2zM241 443.3l3.2 3.2 -3.2 3.2 -3.2 -3.2zM241 451.3l3.2 3.2 -3.2 3.2 -3.2 -3.2zM241 459.8l3.2 3.2 -3.2 3.2 -3.2 -3.2zM241 468.3l3.2 3.2 -3.2 3.2 -3.2 -3.2zM241 496.8l3.2 3.2 -3.2 3.2 -3.2 -3.2zM242 420.8l3.2 3.2 -3.2 3.2 -3.2 -3.2zM242 428.3l3.2 3.2 -3.2 3.2 -3.2 -3.2zM242 435.8l3.2 3.2 -3.2 3.2 -3.2 -3.2zM242 443.3l3.2 3.2 -3.2 3.2 -3.2 -3.2zM242 451.3l3.2 3.2 -3.2 3.2 -3.2 -3.2zM242 459.8l3.2 3.2 -3.2 3.2 -3.2 -3.2zM242 468.3l3.2 3.2 -3.2 3.2 -3.2 -3.2zM242 486.8l3.2 3.2 -3.2 3.2 -3.2 -3.2zM243 400.3l3.2 3.2 -3.2 3.2 -3.2 -3.2zM243 407.3l3.2 3.2 -3.2 3.2 -3.2 -3.2zM243 420.8l3.2 3.2 -3.2 3.2 -3.2 -3.2zM243 428.3l3.2 3.2 -3.2 3.2 -3.2 -3.2zM243 435.8l3.2 3.2 -3.2 3.2 -3.2 -3.2zM243 443.3l3.2 3.2 -3.2 3.2 -3.2 -3.2zM243 451.3l3.2 3.2 -3.2 3.2 -3.2 -3.2zM243 459.8l3.2 3.2 -3.2 3.2 -3.2 -3.2zM243 468.3l3.2 3.2 -3.2 3.2 -3.2 -3.2zM243.5 413.8l3.2 3.2 -3.2 3.2 -3.2 -3.2zM243.5 420.8l3.2 3.2 -3.2 3.2 -3.2 -3.2zM243.5 435.8l3.2 3.2 -3.2 3.2 -3.2 -3.2zM243.5 443.3l3.2 3.2 -3.2 3.2 -3.2 -3.2zM243.5 451.3l3.2 3.2 -3.2 3.2 -3.2 -3.2zM243.5 459.8l3.2 3.2 -3.2 3.2 -3.2 -3.2zM244.5 400.3l3.2 3.2 -3.2 3.2 -3.2 -3.2zM244.5 407.3l3.2 3.2 -3.2 3.2 -3.2 -3.2zM244.5 428.3l3.2 3.2 -3.2 3.2 -3.2 -3.2zM244.5 435.8l3.2 3.2 -3.2 3.2 -3.2 -3.2zM244.5 443.3l3.2 3.2 -3.2 3.2 -3.2 -3.2zM244.5 451.3l3.2 3.2 -3.2 3.2 -3.2 -3.2zM244.5 459.8l3.2 3.2 -3.2 3.2 -3.2 -3.2zM244.5 468.3l3.2 3.2 -3.2 3.2 -3.2 -3.2zM245.5 328.8l3.2 3.2 -3.2 3.2 -3.2 -3.2zM245.5 375.8l3.2 3.2 -3.2 3.2 -3.2 -3.2zM245.5 387.8l3.2 3.2 -3.2 3.2 -3.2 -3.2zM245.5 413.8l3.2 3.2 -3.2 3.2 -3.2 -3.2zM245.5 420.8l3.2 3.2 -3.2 3.2 -3.2 -3.2zM245.5 428.3l3.2 3.2 -3.2 3.2 -3.2 -3.2zM245.5 435.8l3.2 3.2 -3.2 3.2 -3.2 -3.2zM245.5 443.3l3.2 3.2 -3.2 3.2 -3.2 -3.2zM245.5 451.3l3.2 3.2 -3.2 3.2 -3.2 -3.2zM245.5 459.8l3.2 3.2 -3.2 3.2 -3.2 -3.2zM245.5 468.3l3.2 3.2 -3.2 3.2 -3.2 -3.2zM246.5 394.3l3.2 3.2 -3.2 3.2 -3.2 -3.2zM246.5 413.8l3.2 3.2 -3.2 3.2 -3.2 -3.2zM246.5 420.8l3.2 3.2 -3.2 3.2 -3.2 -3.2zM246.5 428.3l3.2 3.2 -3.2 3.2 -3.2 -3.2zM246.5 435.8l3.2 3.2 -3.2 3.2 -3.2 -3.2zM246.5 443.3l3.2 3.2 -3.2 3.2 -3.2 -3.2zM246.5 451.3l3.2 3.2 -3.2 3.2 -3.2 -3.2zM246.5 459.8l3.2 3.2 -3.2 3.2 -3.2 -3.2zM246.5 468.3l3.2 3.2 -3.2 3.2 -3.2 -3.2zM247 413.8l3.2 3.2 -3.2 3.2 -3.2 -3.2zM247 420.8l3.2 3.2 -3.2 3.2 -3.2 -3.2zM247 428.3l3.2 3.2 -3.2 3.2 -3.2 -3.2zM247 435.8l3.2 3.2 -3.2 3.2 -3.2 -3.2zM247 443.3l3.2 3.2 -3.2 3.2 -3.2 -3.2zM247 451.3l3.2 3.2 -3.2 3.2 -3.2 -3.2zM247 486.8l3.2 3.2 -3.2 3.2 -3.2 -3.2zM248 400.3l3.2 3.2 -3.2 3.2 -3.2 -3.2zM248 407.3l3.2 3.2 -3.2 3.2 -3.2 -3.2zM248 413.8l3.2 3.2 -3.2 3.2 -3.2 -3.2zM248 428.3l3.2 3.2 -3.2 3.2 -3.2 -3.2zM248 435.8l3.2 3.2 -3.2 3.2 -3.2 -3.2zM248 443.3l3.2 3.2 -3.2 3.2 -3.2 -3.2zM248 451.3l3.2 3.2 -3.2 3.2 -3.2 -3.2zM248 459.8l3.2 3.2 -3.2 3.2 -3.2 -3.2zM249 370.3l3.2 3.2 -3.2 3.2 -3.2 -3.2zM249 400.3l3.2 3.2 -3.2 3.2 -3.2 -3.2zM249 413.8l3.2 3.2 -3.2 3.2 -3.2 -3.2zM249 420.8l3.2 3.2 -3.2 3.2 -3.2 -3.2zM249 428.3l3.2 3.2 -3.2 3.2 -3.2 -3.2zM249 435.8l3.2 3.2 -3.2 3.2 -3.2 -3.2zM249 443.3l3.2 3.2 -3.2 3.2 -3.2 -3.2zM249 451.3l3.2 3.2 -3.2 3.2 -3.2 -3.2zM250 413.8l3.2 3.2 -3.2 3.2 -3.2 -3.2zM250 420.8l3.2 3.2 -3.2 3.2 -3.2 -3.2zM250 428.3l3.2 3.2 -3.2 3.2 -3.2 -3.2zM250 435.8l3.2 3.2 -3.2 3.2 -3.2 -3.2zM250 443.3l3.2 3.2 -3.2 3.2 -3.2 -3.2zM250 451.3l3.2 3.2 -3.2 3.2 -3.2 -3.2zM250 459.8l3.2 3.2 -3.2 3.2 -3.2 -3.2zM250.5 400.3l3.2 3.2 -3.2 3.2 -3.2 -3.2zM250.5 420.8l3.2 3.2 -3.2 3.2 -3.2 -3.2zM250.5 428.3l3.2 3.2 -3.2 3.2 -3.2 -3.2zM250.5 435.8l3.2 3.2 -3.2 3.2 -3.2 -3.2zM250.5 443.3l3.2 3.2 -3.2 3.2 -3.2 -3.2zM250.5 451.3l3.2 3.2 -3.2 3.2 -3.2 -3.2zM250.5 459.8l3.2 3.2 -3.2 3.2 -3.2 -3.2zM251.5 394.3l3.2 3.2 -3.2 3.2 -3.2 -3.2zM251.5 400.3l3.2 3.2 -3.2 3.2 -3.2 -3.2zM251.5 413.8l3.2 3.2 -3.2 3.2 -3.2 -3.2zM251.5 428.3l3.2 3.2 -3.2 3.2 -3.2 -3.2zM251.5 435.8l3.2 3.2 -3.2 3.2 -3.2 -3.2zM251.5 443.3l3.2 3.2 -3.2 3.2 -3.2 -3.2zM251.5 451.3l3.2 3.2 -3.2 3.2 -3.2 -3.2zM251.5 459.8l3.2 3.2 -3.2 3.2 -3.2 -3.2zM251.5 486.8l3.2 3.2 -3.2 3.2 -3.2 -3.2zM252.5 400.3l3.2 3.2 -3.2 3.2 -3.2 -3.2zM252.5 407.3l3.2 3.2 -3.2 3.2 -3.2 -3.2zM252.5 413.8l3.2 3.2 -3.2 3.2 -3.2 -3.2zM252.5 420.8l3.2 3.2 -3.2 3.2 -3.2 -3.2zM252.5 428.3l3.2 3.2 -3.2 3.2 -3.2 -3.2zM252.5 435.8l3.2 3.2 -3.2 3.2 -3.2 -3.2zM252.5 443.3l3.2 3.2 -3.2 3.2 -3.2 -3.2zM252.5 451.3l3.2 3.2 -3.2 3.2 -3.2 -3.2zM253.5 400.3l3.2 3.2 -3.2 3.2 -3.2 -3.2zM253.5 407.3l3.2 3.2 -3.2 3.2 -3.2 -3.2zM253.5 413.8l3.2 3.2 -3.2 3.2 -3.2 -3.2zM253.5 420.8l3.2 3.2 -3.2 3.2 -3.2 -3.2zM253.5 428.3l3.2 3.2 -3.2 3.2 -3.2 -3.2zM253.5 435.8l3.2 3.2 -3.2 3.2 -3.2 -3.2zM253.5 443.3l3.2 3.2 -3.2 3.2 -3.2 -3.2zM253.5 451.3l3.2 3.2 -3.2 3.2 -3.2 -3.2zM254 407.3l3.2 3.2 -3.2 3.2 -3.2 -3.2zM254 413.8l3.2 3.2 -3.2 3.2 -3.2 -3.2zM254 420.8l3.2 3.2 -3.2 3.2 -3.2 -3.2zM254 428.3l3.2 3.2 -3.2 3.2 -3.2 -3.2zM254 435.8l3.2 3.2 -3.2 3.2 -3.2 -3.2zM254 443.3l3.2 3.2 -3.2 3.2 -3.2 -3.2zM255 370.3l3.2 3.2 -3.2 3.2 -3.2 -3.2zM255 413.8l3.2 3.2 -3.2 3.2 -3.2 -3.2zM255 420.8l3.2 3.2 -3.2 3.2 -3.2 -3.2zM255 428.3l3.2 3.2 -3.2 3.2 -3.2 -3.2zM255 435.8l3.2 3.2 -3.2 3.2 -3.2 -3.2zM255 443.3l3.2 3.2 -3.2 3.2 -3.2 -3.2zM255 451.3l3.2 3.2 -3.2 3.2 -3.2 -3.2zM255 468.3l3.2 3.2 -3.2 3.2 -3.2 -3.2zM256 420.8l3.2 3.2 -3.2 3.2 -3.2 -3.2zM256 428.3l3.2 3.2 -3.2 3.2 -3.2 -3.2zM256 435.8l3.2 3.2 -3.2 3.2 -3.2 -3.2zM256 443.3l3.2 3.2 -3.2 3.2 -3.2 -3.2zM256 451.3l3.2 3.2 -3.2 3.2 -3.2 -3.2zM256.5 394.3l3.2 3.2 -3.2 3.2 -3.2 -3.2zM256.5 400.3l3.2 3.2 -3.2 3.2 -3.2 -3.2zM256.5 420.8l3.2 3.2 -3.2 3.2 -3.2 -3.2zM256.5 435.8l3.2 3.2 -3.2 3.2 -3.2 -3.2zM256.5 443.3l3.2 3.2 -3.2 3.2 -3.2 -3.2zM256.5 451.3l3.2 3.2 -3.2 3.2 -3.2 -3.2zM257.5 394.3l3.2 3.2 -3.2 3.2 -3.2 -3.2zM257.5 407.3l3.2 3.2 -3.2 3.2 -3.2 -3.2zM257.5 413.8l3.2 3.2 -3.2 3.2 -3.2 -3.2zM257.5 420.8l3.2 3.2 -3.2 3.2 -3.2 -3.2zM257.5 428.3l3.2 3.2 -3.2 3.2 -3.2 -3.2zM257.5 435.8l3.2 3.2 -3.2 3.2 -3.2 -3.2zM257.5 443.3l3.2 3.2 -3.2 3.2 -3.2 -3.2zM257.5 459.8l3.2 3.2 -3.2 3.2 -3.2 -3.2zM258.5 375.8l3.2 3.2 -3.2 3.2 -3.2 -3.2zM258.5 400.3l3.2 3.2 -3.2 3.2 -3.2 -3.2zM258.5 413.8l3.2 3.2 -3.2 3.2 -3.2 -3.2zM258.5 420.8l3.2 3.2 -3.2 3.2 -3.2 -3.2zM258.5 435.8l3.2 3.2 -3.2 3.2 -3.2 -3.2zM259 387.8l3.2 3.2 -3.2 3.2 -3.2 -3.2zM259 407.3l3.2 3.2 -3.2 3.2 -3.2 -3.2zM259 413.8l3.2 3.2 -3.2 3.2 -3.2 -3.2zM259 428.3l3.2 3.2 -3.2 3.2 -3.2 -3.2zM259 435.8l3.2 3.2 -3.2 3.2 -3.2 -3.2zM259 443.3l3.2 3.2 -3.2 3.2 -3.2 -3.2zM259 451.3l3.2 3.2 -3.2 3.2 -3.2 -3.2zM260 400.3l3.2 3.2 -3.2 3.2 -3.2 -3.2zM260 428.3l3.2 3.2 -3.2 3.2 -3.2 -3.2zM260 443.3l3.2 3.2 -3.2 3.2 -3.2 -3.2zM261 394.3l3.2 3.2 -3.2 3.2 -3.2 -3.2zM261 407.3l3.2 3.2 -3.2 3.2 -3.2 -3.2zM261 413.8l3.2 3.2 -3.2 3.2 -3.2 -3.2zM261 420.8l3.2 3.2 -3.2 3.2 -3.2 -3.2zM261 428.3l3.2 3.2 -3.2 3.2 -3.2 -3.2zM261 435.8l3.2 3.2 -3.2 3.2 -3.2 -3.2zM261.5 370.3l3.2 3.2 -3.2 3.2 -3.2 -3.2zM261.5 420.8l3.2 3.2 -3.2 3.2 -3.2 -3.2zM261.5 428.3l3.2 3.2 -3.2 3.2 -3.2 -3.2zM262.5 310.8l3.2 3.2 -3.2 3.2 -3.2 -3.2zM262.5 407.3l3.2 3.2 -3.2 3.2 -3.2 -3.2zM262.5 420.8l3.2 3.2 -3.2 3.2 -3.2 -3.2zM262.5 428.3l3.2 3.2 -3.2 3.2 -3.2 -3.2zM262.5 435.8l3.2 3.2 -3.2 3.2 -3.2 -3.2zM262.5 443.3l3.2 3.2 -3.2 3.2 -3.2 -3.2zM262.5 451.3l3.2 3.2 -3.2 3.2 -3.2 -3.2zM262.5 459.8l3.2 3.2 -3.2 3.2 -3.2 -3.2zM263.5 353.8l3.2 3.2 -3.2 3.2 -3.2 -3.2zM263.5 387.8l3.2 3.2 -3.2 3.2 -3.2 -3.2zM263.5 400.3l3.2 3.2 -3.2 3.2 -3.2 -3.2zM263.5 407.3l3.2 3.2 -3.2 3.2 -3.2 -3.2zM263.5 413.8l3.2 3.2 -3.2 3.2 -3.2 -3.2zM263.5 420.8l3.2 3.2 -3.2 3.2 -3.2 -3.2zM263.5 435.8l3.2 3.2 -3.2 3.2 -3.2 -3.2zM263.5 443.3l3.2 3.2 -3.2 3.2 -3.2 -3.2zM264 407.3l3.2 3.2 -3.2 3.2 -3.2 -3.2zM264 413.8l3.2 3.2 -3.2 3.2 -3.2 -3.2zM264 428.3l3.2 3.2 -3.2 3.2 -3.2 -3.2zM264 435.8l3.2 3.2 -3.2 3.2 -3.2 -3.2zM264 443.3l3.2 3.2 -3.2 3.2 -3.2 -3.2zM264 451.3l3.2 3.2 -3.2 3.2 -3.2 -3.2zM265 407.3l3.2 3.2 -3.2 3.2 -3.2 -3.2zM265 413.8l3.2 3.2 -3.2 3.2 -3.2 -3.2zM265 420.8l3.2 3.2 -3.2 3.2 -3.2 -3.2zM265 428.3l3.2 3.2 -3.2 3.2 -3.2 -3.2zM265 443.3l3.2 3.2 -3.2 3.2 -3.2 -3.2zM265 451.3l3.2 3.2 -3.2 3.2 -3.2 -3.2zM266 375.8l3.2 3.2 -3.2 3.2 -3.2 -3.2zM266 387.8l3.2 3.2 -3.2 3.2 -3.2 -3.2zM266 394.3l3.2 3.2 -3.2 3.2 -3.2 -3.2zM266 407.3l3.2 3.2 -3.2 3.2 -3.2 -3.2zM266 413.8l3.2 3.2 -3.2 3.2 -3.2 -3.2zM266 420.8l3.2 3.2 -3.2 3.2 -3.2 -3.2zM266 428.3l3.2 3.2 -3.2 3.2 -3.2 -3.2zM266 435.8l3.2 3.2 -3.2 3.2 -3.2 -3.2zM266 443.3l3.2 3.2 -3.2 3.2 -3.2 -3.2zM266.5 359.3l3.2 3.2 -3.2 3.2 -3.2 -3.2zM266.5 407.3l3.2 3.2 -3.2 3.2 -3.2 -3.2zM266.5 413.8l3.2 3.2 -3.2 3.2 -3.2 -3.2zM266.5 420.8l3.2 3.2 -3.2 3.2 -3.2 -3.2zM266.5 435.8l3.2 3.2 -3.2 3.2 -3.2 -3.2zM267.5 394.3l3.2 3.2 -3.2 3.2 -3.2 -3.2zM267.5 400.3l3.2 3.2 -3.2 3.2 -3.2 -3.2zM267.5 407.3l3.2 3.2 -3.2 3.2 -3.2 -3.2zM267.5 413.8l3.2 3.2 -3.2 3.2 -3.2 -3.2zM267.5 420.8l3.2 3.2 -3.2 3.2 -3.2 -3.2zM267.5 428.3l3.2 3.2 -3.2 3.2 -3.2 -3.2zM267.5 435.8l3.2 3.2 -3.2 3.2 -3.2 -3.2zM268 400.3l3.2 3.2 -3.2 3.2 -3.2 -3.2zM268 407.3l3.2 3.2 -3.2 3.2 -3.2 -3.2zM268 413.8l3.2 3.2 -3.2 3.2 -3.2 -3.2zM268 428.3l3.2 3.2 -3.2 3.2 -3.2 -3.2zM268 435.8l3.2 3.2 -3.2 3.2 -3.2 -3.2zM269 353.8l3.2 3.2 -3.2 3.2 -3.2 -3.2zM269 394.3l3.2 3.2 -3.2 3.2 -3.2 -3.2zM269 400.3l3.2 3.2 -3.2 3.2 -3.2 -3.2zM269 407.3l3.2 3.2 -3.2 3.2 -3.2 -3.2zM269 413.8l3.2 3.2 -3.2 3.2 -3.2 -3.2zM269 420.8l3.2 3.2 -3.2 3.2 -3.2 -3.2zM269 428.3l3.2 3.2 -3.2 3.2 -3.2 -3.2zM269 435.8l3.2 3.2 -3.2 3.2 -3.2 -3.2zM269 451.3l3.2 3.2 -3.2 3.2 -3.2 -3.2zM270 370.3l3.2 3.2 -3.2 3.2 -3.2 -3.2zM270 394.3l3.2 3.2 -3.2 3.2 -3.2 -3.2zM270 400.3l3.2 3.2 -3.2 3.2 -3.2 -3.2zM270 413.8l3.2 3.2 -3.2 3.2 -3.2 -3.2zM270 428.3l3.2 3.2 -3.2 3.2 -3.2 -3.2zM270 435.8l3.2 3.2 -3.2 3.2 -3.2 -3.2zM270 443.3l3.2 3.2 -3.2 3.2 -3.2 -3.2zM270 451.3l3.2 3.2 -3.2 3.2 -3.2 -3.2zM270.5 400.3l3.2 3.2 -3.2 3.2 -3.2 -3.2zM270.5 407.3l3.2 3.2 -3.2 3.2 -3.2 -3.2zM270.5 420.8l3.2 3.2 -3.2 3.2 -3.2 -3.2zM270.5 428.3l3.2 3.2 -3.2 3.2 -3.2 -3.2zM270.5 435.8l3.2 3.2 -3.2 3.2 -3.2 -3.2zM271.5 315.3l3.2 3.2 -3.2 3.2 -3.2 -3.2zM271.5 353.8l3.2 3.2 -3.2 3.2 -3.2 -3.2zM271.5 387.8l3.2 3.2 -3.2 3.2 -3.2 -3.2zM271.5 407.3l3.2 3.2 -3.2 3.2 -3.2 -3.2zM271.5 420.8l3.2 3.2 -3.2 3.2 -3.2 -3.2zM271.5 435.8l3.2 3.2 -3.2 3.2 -3.2 -3.2zM271.5 443.3l3.2 3.2 -3.2 3.2 -3.2 -3.2zM271.5 459.8l3.2 3.2 -3.2 3.2 -3.2 -3.2zM272 400.3l3.2 3.2 -3.2 3.2 -3.2 -3.2zM272 407.3l3.2 3.2 -3.2 3.2 -3.2 -3.2zM272 413.8l3.2 3.2 -3.2 3.2 -3.2 -3.2zM272 420.8l3.2 3.2 -3.2 3.2 -3.2 -3.2zM272 428.3l3.2 3.2 -3.2 3.2 -3.2 -3.2zM272 435.8l3.2 3.2 -3.2 3.2 -3.2 -3.2zM273 407.3l3.2 3.2 -3.2 3.2 -3.2 -3.2zM273 413.8l3.2 3.2 -3.2 3.2 -3.2 -3.2zM273 428.3l3.2 3.2 -3.2 3.2 -3.2 -3.2zM273 443.3l3.2 3.2 -3.2 3.2 -3.2 -3.2zM273.5 394.3l3.2 3.2 -3.2 3.2 -3.2 -3.2zM273.5 407.3l3.2 3.2 -3.2 3.2 -3.2 -3.2zM273.5 413.8l3.2 3.2 -3.2 3.2 -3.2 -3.2zM273.5 420.8l3.2 3.2 -3.2 3.2 -3.2 -3.2zM273.5 428.3l3.2 3.2 -3.2 3.2 -3.2 -3.2zM273.5 435.8l3.2 3.2 -3.2 3.2 -3.2 -3.2zM274.5 381.8l3.2 3.2 -3.2 3.2 -3.2 -3.2zM274.5 400.3l3.2 3.2 -3.2 3.2 -3.2 -3.2zM274.5 413.8l3.2 3.2 -3.2 3.2 -3.2 -3.2zM274.5 420.8l3.2 3.2 -3.2 3.2 -3.2 -3.2zM274.5 428.3l3.2 3.2 -3.2 3.2 -3.2 -3.2zM274.5 443.3l3.2 3.2 -3.2 3.2 -3.2 -3.2zM275.5 394.3l3.2 3.2 -3.2 3.2 -3.2 -3.2zM275.5 407.3l3.2 3.2 -3.2 3.2 -3.2 -3.2zM275.5 413.8l3.2 3.2 -3.2 3.2 -3.2 -3.2zM275.5 420.8l3.2 3.2 -3.2 3.2 -3.2 -3.2zM275.5 428.3l3.2 3.2 -3.2 3.2 -3.2 -3.2zM275.5 451.3l3.2 3.2 -3.2 3.2 -3.2 -3.2zM275.5 459.8l3.2 3.2 -3.2 3.2 -3.2 -3.2zM276 370.3l3.2 3.2 -3.2 3.2 -3.2 -3.2zM276 420.8l3.2 3.2 -3.2 3.2 -3.2 -3.2zM276 428.3l3.2 3.2 -3.2 3.2 -3.2 -3.2zM276 435.8l3.2 3.2 -3.2 3.2 -3.2 -3.2zM277 353.8l3.2 3.2 -3.2 3.2 -3.2 -3.2zM277 381.8l3.2 3.2 -3.2 3.2 -3.2 -3.2zM277 407.3l3.2 3.2 -3.2 3.2 -3.2 -3.2zM277 413.8l3.2 3.2 -3.2 3.2 -3.2 -3.2zM277 428.3l3.2 3.2 -3.2 3.2 -3.2 -3.2zM277.5 400.3l3.2 3.2 -3.2 3.2 -3.2 -3.2zM277.5 407.3l3.2 3.2 -3.2 3.2 -3.2 -3.2zM277.5 413.8l3.2 3.2 -3.2 3.2 -3.2 -3.2zM277.5 428.3l3.2 3.2 -3.2 3.2 -3.2 -3.2zM277.5 451.3l3.2 3.2 -3.2 3.2 -3.2 -3.2zM278.5 353.8l3.2 3.2 -3.2 3.2 -3.2 -3.2zM278.5 394.3l3.2 3.2 -3.2 3.2 -3.2 -3.2zM278.5 400.3l3.2 3.2 -3.2 3.2 -3.2 -3.2zM278.5 413.8l3.2 3.2 -3.2 3.2 -3.2 -3.2zM278.5 420.8l3.2 3.2 -3.2 3.2 -3.2 -3.2zM279 400.3l3.2 3.2 -3.2 3.2 -3.2 -3.2zM279 407.3l3.2 3.2 -3.2 3.2 -3.2 -3.2zM279 413.8l3.2 3.2 -3.2 3.2 -3.2 -3.2zM279 420.8l3.2 3.2 -3.2 3.2 -3.2 -3.2zM279 428.3l3.2 3.2 -3.2 3.2 -3.2 -3.2zM279 451.3l3.2 3.2 -3.2 3.2 -3.2 -3.2zM280 364.8l3.2 3.2 -3.2 3.2 -3.2 -3.2zM280 394.3l3.2 3.2 -3.2 3.2 -3.2 -3.2zM280 400.3l3.2 3.2 -3.2 3.2 -3.2 -3.2zM280 407.3l3.2 3.2 -3.2 3.2 -3.2 -3.2zM280 413.8l3.2 3.2 -3.2 3.2 -3.2 -3.2zM280.5 387.8l3.2 3.2 -3.2 3.2 -3.2 -3.2zM280.5 394.3l3.2 3.2 -3.2 3.2 -3.2 -3.2zM280.5 407.3l3.2 3.2 -3.2 3.2 -3.2 -3.2zM280.5 413.8l3.2 3.2 -3.2 3.2 -3.2 -3.2zM280.5 435.8l3.2 3.2 -3.2 3.2 -3.2 -3.2zM281.5 328.8l3.2 3.2 -3.2 3.2 -3.2 -3.2zM281.5 394.3l3.2 3.2 -3.2 3.2 -3.2 -3.2zM281.5 400.3l3.2 3.2 -3.2 3.2 -3.2 -3.2zM281.5 407.3l3.2 3.2 -3.2 3.2 -3.2 -3.2zM281.5 413.8l3.2 3.2 -3.2 3.2 -3.2 -3.2zM281.5 428.3l3.2 3.2 -3.2 3.2 -3.2 -3.2zM282 413.8l3.2 3.2 -3.2 3.2 -3.2 -3.2zM282 420.8l3.2 3.2 -3.2 3.2 -3.2 -3.2zM283 381.8l3.2 3.2 -3.2 3.2 -3.2 -3.2zM283 394.3l3.2 3.2 -3.2 3.2 -3.2 -3.2zM283 400.3l3.2 3.2 -3.2 3.2 -3.2 -3.2zM283 407.3l3.2 3.2 -3.2 3.2 -3.2 -3.2zM283 413.8l3.2 3.2 -3.2 3.2 -3.2 -3.2zM283 420.8l3.2 3.2 -3.2 3.2 -3.2 -3.2zM283 435.8l3.2 3.2 -3.2 3.2 -3.2 -3.2zM283.5 387.8l3.2 3.2 -3.2 3.2 -3.2 -3.2zM283.5 407.3l3.2 3.2 -3.2 3.2 -3.2 -3.2zM283.5 413.8l3.2 3.2 -3.2 3.2 -3.2 -3.2zM283.5 428.3l3.2 3.2 -3.2 3.2 -3.2 -3.2zM283.5 435.8l3.2 3.2 -3.2 3.2 -3.2 -3.2zM284.5 348.8l3.2 3.2 -3.2 3.2 -3.2 -3.2zM284.5 381.8l3.2 3.2 -3.2 3.2 -3.2 -3.2zM284.5 407.3l3.2 3.2 -3.2 3.2 -3.2 -3.2zM285 364.8l3.2 3.2 -3.2 3.2 -3.2 -3.2zM285 370.3l3.2 3.2 -3.2 3.2 -3.2 -3.2zM285 387.8l3.2 3.2 -3.2 3.2 -3.2 -3.2zM285 394.3l3.2 3.2 -3.2 3.2 -3.2 -3.2zM285 400.3l3.2 3.2 -3.2 3.2 -3.2 -3.2zM285 407.3l3.2 3.2 -3.2 3.2 -3.2 -3.2zM285 420.8l3.2 3.2 -3.2 3.2 -3.2 -3.2zM285 435.8l3.2 3.2 -3.2 3.2 -3.2 -3.2zM286 407.3l3.2 3.2 -3.2 3.2 -3.2 -3.2zM286 413.8l3.2 3.2 -3.2 3.2 -3.2 -3.2zM286 420.8l3.2 3.2 -3.2 3.2 -3.2 -3.2zM286.5 394.3l3.2 3.2 -3.2 3.2 -3.2 -3.2zM286.5 420.8l3.2 3.2 -3.2 3.2 -3.2 -3.2zM287.5 364.8l3.2 3.2 -3.2 3.2 -3.2 -3.2zM287.5 387.8l3.2 3.2 -3.2 3.2 -3.2 -3.2zM287.5 394.3l3.2 3.2 -3.2 3.2 -3.2 -3.2zM287.5 400.3l3.2 3.2 -3.2 3.2 -3.2 -3.2zM287.5 407.3l3.2 3.2 -3.2 3.2 -3.2 -3.2zM287.5 420.8l3.2 3.2 -3.2 3.2 -3.2 -3.2zM287.5 435.8l3.2 3.2 -3.2 3.2 -3.2 -3.2zM288 387.8l3.2 3.2 -3.2 3.2 -3.2 -3.2zM288 394.3l3.2 3.2 -3.2 3.2 -3.2 -3.2zM288 407.3l3.2 3.2 -3.2 3.2 -3.2 -3.2zM288 413.8l3.2 3.2 -3.2 3.2 -3.2 -3.2zM288 420.8l3.2 3.2 -3.2 3.2 -3.2 -3.2zM289 353.8l3.2 3.2 -3.2 3.2 -3.2 -3.2zM289 407.3l3.2 3.2 -3.2 3.2 -3.2 -3.2zM289 413.8l3.2 3.2 -3.2 3.2 -3.2 -3.2zM289 420.8l3.2 3.2 -3.2 3.2 -3.2 -3.2zM289.5 387.8l3.2 3.2 -3.2 3.2 -3.2 -3.2zM289.5 394.3l3.2 3.2 -3.2 3.2 -3.2 -3.2zM289.5 407.3l3.2 3.2 -3.2 3.2 -3.2 -3.2zM289.5 428.3l3.2 3.2 -3.2 3.2 -3.2 -3.2zM290 375.8l3.2 3.2 -3.2 3.2 -3.2 -3.2zM290 400.3l3.2 3.2 -3.2 3.2 -3.2 -3.2zM290 407.3l3.2 3.2 -3.2 3.2 -3.2 -3.2zM290 413.8l3.2 3.2 -3.2 3.2 -3.2 -3.2zM290 443.3l3.2 3.2 -3.2 3.2 -3.2 -3.2zM291 338.8l3.2 3.2 -3.2 3.2 -3.2 -3.2zM291 387.8l3.2 3.2 -3.2 3.2 -3.2 -3.2zM291 394.3l3.2 3.2 -3.2 3.2 -3.2 -3.2zM291 407.3l3.2 3.2 -3.2 3.2 -3.2 -3.2zM291 420.8l3.2 3.2 -3.2 3.2 -3.2 -3.2zM291.5 387.8l3.2 3.2 -3.2 3.2 -3.2 -3.2zM291.5 400.3l3.2 3.2 -3.2 3.2 -3.2 -3.2zM291.5 407.3l3.2 3.2 -3.2 3.2 -3.2 -3.2zM291.5 428.3l3.2 3.2 -3.2 3.2 -3.2 -3.2zM292.5 370.3l3.2 3.2 -3.2 3.2 -3.2 -3.2zM292.5 381.8l3.2 3.2 -3.2 3.2 -3.2 -3.2zM292.5 387.8l3.2 3.2 -3.2 3.2 -3.2 -3.2zM292.5 400.3l3.2 3.2 -3.2 3.2 -3.2 -3.2zM292.5 413.8l3.2 3.2 -3.2 3.2 -3.2 -3.2zM292.5 428.3l3.2 3.2 -3.2 3.2 -3.2 -3.2zM293 394.3l3.2 3.2 -3.2 3.2 -3.2 -3.2zM293 400.3l3.2 3.2 -3.2 3.2 -3.2 -3.2zM293 407.3l3.2 3.2 -3.2 3.2 -3.2 -3.2zM294 370.3l3.2 3.2 -3.2 3.2 -3.2 -3.2zM294 381.8l3.2 3.2 -3.2 3.2 -3.2 -3.2zM294 394.3l3.2 3.2 -3.2 3.2 -3.2 -3.2zM294 407.3l3.2 3.2 -3.2 3.2 -3.2 -3.2zM294.5 375.8l3.2 3.2 -3.2 3.2 -3.2 -3.2zM294.5 394.3l3.2 3.2 -3.2 3.2 -3.2 -3.2zM294.5 407.3l3.2 3.2 -3.2 3.2 -3.2 -3.2zM294.5 420.8l3.2 3.2 -3.2 3.2 -3.2 -3.2zM295.5 364.8l3.2 3.2 -3.2 3.2 -3.2 -3.2zM295.5 381.8l3.2 3.2 -3.2 3.2 -3.2 -3.2zM295.5 387.8l3.2 3.2 -3.2 3.2 -3.2 -3.2zM295.5 394.3l3.2 3.2 -3.2 3.2 -3.2 -3.2zM295.5 413.8l3.2 3.2 -3.2 3.2 -3.2 -3.2zM296 394.3l3.2 3.2 -3.2 3.2 -3.2 -3.2zM296 400.3l3.2 3.2 -3.2 3.2 -3.2 -3.2zM296 407.3l3.2 3.2 -3.2 3.2 -3.2 -3.2zM296.5 338.8l3.2 3.2 -3.2 3.2 -3.2 -3.2zM296.5 400.3l3.2 3.2 -3.2 3.2 -3.2 -3.2zM296.5 420.8l3.2 3.2 -3.2 3.2 -3.2 -3.2zM297.5 375.8l3.2 3.2 -3.2 3.2 -3.2 -3.2zM297.5 381.8l3.2 3.2 -3.2 3.2 -3.2 -3.2zM297.5 387.8l3.2 3.2 -3.2 3.2 -3.2 -3.2zM297.5 394.3l3.2 3.2 -3.2 3.2 -3.2 -3.2zM297.5 400.3l3.2 3.2 -3.2 3.2 -3.2 -3.2zM297.5 407.3l3.2 3.2 -3.2 3.2 -3.2 -3.2zM297.5 413.8l3.2 3.2 -3.2 3.2 -3.2 -3.2zM298 306.3l3.2 3.2 -3.2 3.2 -3.2 -3.2zM298 387.8l3.2 3.2 -3.2 3.2 -3.2 -3.2zM298 400.3l3.2 3.2 -3.2 3.2 -3.2 -3.2zM298 407.3l3.2 3.2 -3.2 3.2 -3.2 -3.2zM298 413.8l3.2 3.2 -3.2 3.2 -3.2 -3.2zM299 381.8l3.2 3.2 -3.2 3.2 -3.2 -3.2zM299 400.3l3.2 3.2 -3.2 3.2 -3.2 -3.2zM299 420.8l3.2 3.2 -3.2 3.2 -3.2 -3.2zM299.5 370.3l3.2 3.2 -3.2 3.2 -3.2 -3.2zM299.5 387.8l3.2 3.2 -3.2 3.2 -3.2 -3.2zM299.5 407.3l3.2 3.2 -3.2 3.2 -3.2 -3.2zM300 348.8l3.2 3.2 -3.2 3.2 -3.2 -3.2zM300 375.8l3.2 3.2 -3.2 3.2 -3.2 -3.2zM300 387.8l3.2 3.2 -3.2 3.2 -3.2 -3.2zM300 394.3l3.2 3.2 -3.2 3.2 -3.2 -3.2zM300 400.3l3.2 3.2 -3.2 3.2 -3.2 -3.2zM300 407.3l3.2 3.2 -3.2 3.2 -3.2 -3.2zM301 394.3l3.2 3.2 -3.2 3.2 -3.2 -3.2zM301.5 375.8l3.2 3.2 -3.2 3.2 -3.2 -3.2zM301.5 381.8l3.2 3.2 -3.2 3.2 -3.2 -3.2zM301.5 400.3l3.2 3.2 -3.2 3.2 -3.2 -3.2zM301.5 407.3l3.2 3.2 -3.2 3.2 -3.2 -3.2zM301.5 413.8l3.2 3.2 -3.2 3.2 -3.2 -3.2zM301.5 420.8l3.2 3.2 -3.2 3.2 -3.2 -3.2zM302 338.8l3.2 3.2 -3.2 3.2 -3.2 -3.2zM302 364.8l3.2 3.2 -3.2 3.2 -3.2 -3.2zM302 387.8l3.2 3.2 -3.2 3.2 -3.2 -3.2zM302 413.8l3.2 3.2 -3.2 3.2 -3.2 -3.2zM303 381.8l3.2 3.2 -3.2 3.2 -3.2 -3.2zM303 387.8l3.2 3.2 -3.2 3.2 -3.2 -3.2zM303 407.3l3.2 3.2 -3.2 3.2 -3.2 -3.2zM303.5 400.3l3.2 3.2 -3.2 3.2 -3.2 -3.2zM303.5 407.3l3.2 3.2 -3.2 3.2 -3.2 -3.2zM304.5 353.8l3.2 3.2 -3.2 3.2 -3.2 -3.2zM304.5 381.8l3.2 3.2 -3.2 3.2 -3.2 -3.2zM304.5 387.8l3.2 3.2 -3.2 3.2 -3.2 -3.2zM304.5 407.3l3.2 3.2 -3.2 3.2 -3.2 -3.2zM305 381.8l3.2 3.2 -3.2 3.2 -3.2 -3.2zM305 387.8l3.2 3.2 -3.2 3.2 -3.2 -3.2zM305 394.3l3.2 3.2 -3.2 3.2 -3.2 -3.2zM305 400.3l3.2 3.2 -3.2 3.2 -3.2 -3.2zM305 413.8l3.2 3.2 -3.2 3.2 -3.2 -3.2zM305.5 359.3l3.2 3.2 -3.2 3.2 -3.2 -3.2zM305.5 394.3l3.2 3.2 -3.2 3.2 -3.2 -3.2zM305.5 400.3l3.2 3.2 -3.2 3.2 -3.2 -3.2zM305.5 407.3l3.2 3.2 -3.2 3.2 -3.2 -3.2zM306.5 370.3l3.2 3.2 -3.2 3.2 -3.2 -3.2zM306.5 387.8l3.2 3.2 -3.2 3.2 -3.2 -3.2zM306.5 400.3l3.2 3.2 -3.2 3.2 -3.2 -3.2zM307 375.8l3.2 3.2 -3.2 3.2 -3.2 -3.2zM307 387.8l3.2 3.2 -3.2 3.2 -3.2 -3.2zM307.5 359.3l3.2 3.2 -3.2 3.2 -3.2 -3.2zM307.5 364.8l3.2 3.2 -3.2 3.2 -3.2 -3.2zM307.5 370.3l3.2 3.2 -3.2 3.2 -3.2 -3.2zM307.5 381.8l3.2 3.2 -3.2 3.2 -3.2 -3.2zM307.5 387.8l3.2 3.2 -3.2 3.2 -3.2 -3.2zM307.5 400.3l3.2 3.2 -3.2 3.2 -3.2 -3.2zM307.5 420.8l3.2 3.2 -3.2 3.2 -3.2 -3.2zM308.5 381.8l3.2 3.2 -3.2 3.2 -3.2 -3.2zM308.5 387.8l3.2 3.2 -3.2 3.2 -3.2 -3.2zM308.5 394.3l3.2 3.2 -3.2 3.2 -3.2 -3.2zM308.5 400.3l3.2 3.2 -3.2 3.2 -3.2 -3.2zM308.5 420.8l3.2 3.2 -3.2 3.2 -3.2 -3.2zM309 375.8l3.2 3.2 -3.2 3.2 -3.2 -3.2zM309 381.8l3.2 3.2 -3.2 3.2 -3.2 -3.2zM309 394.3l3.2 3.2 -3.2 3.2 -3.2 -3.2zM309 400.3l3.2 3.2 -3.2 3.2 -3.2 -3.2zM309.5 375.8l3.2 3.2 -3.2 3.2 -3.2 -3.2zM309.5 381.8l3.2 3.2 -3.2 3.2 -3.2 -3.2zM309.5 387.8l3.2 3.2 -3.2 3.2 -3.2 -3.2zM309.5 394.3l3.2 3.2 -3.2 3.2 -3.2 -3.2zM309.5 400.3l3.2 3.2 -3.2 3.2 -3.2 -3.2zM310.5 375.8l3.2 3.2 -3.2 3.2 -3.2 -3.2zM310.5 387.8l3.2 3.2 -3.2 3.2 -3.2 -3.2zM311.5 353.8l3.2 3.2 -3.2 3.2 -3.2 -3.2zM311.5 387.8l3.2 3.2 -3.2 3.2 -3.2 -3.2zM311.5 400.3l3.2 3.2 -3.2 3.2 -3.2 -3.2zM312.5 370.3l3.2 3.2 -3.2 3.2 -3.2 -3.2zM312.5 375.8l3.2 3.2 -3.2 3.2 -3.2 -3.2zM312.5 394.3l3.2 3.2 -3.2 3.2 -3.2 -3.2zM313 319.8l3.2 3.2 -3.2 3.2 -3.2 -3.2zM313 370.3l3.2 3.2 -3.2 3.2 -3.2 -3.2zM313 400.3l3.2 3.2 -3.2 3.2 -3.2 -3.2zM313 407.3l3.2 3.2 -3.2 3.2 -3.2 -3.2zM313.5 353.8l3.2 3.2 -3.2 3.2 -3.2 -3.2zM313.5 381.8l3.2 3.2 -3.2 3.2 -3.2 -3.2zM313.5 387.8l3.2 3.2 -3.2 3.2 -3.2 -3.2zM313.5 413.8l3.2 3.2 -3.2 3.2 -3.2 -3.2zM314 359.3l3.2 3.2 -3.2 3.2 -3.2 -3.2zM314 370.3l3.2 3.2 -3.2 3.2 -3.2 -3.2zM314 394.3l3.2 3.2 -3.2 3.2 -3.2 -3.2zM314 400.3l3.2 3.2 -3.2 3.2 -3.2 -3.2zM315 319.8l3.2 3.2 -3.2 3.2 -3.2 -3.2zM315 364.8l3.2 3.2 -3.2 3.2 -3.2 -3.2zM315 375.8l3.2 3.2 -3.2 3.2 -3.2 -3.2zM315 387.8l3.2 3.2 -3.2 3.2 -3.2 -3.2zM315 400.3l3.2 3.2 -3.2 3.2 -3.2 -3.2zM315.5 359.3l3.2 3.2 -3.2 3.2 -3.2 -3.2zM315.5 370.3l3.2 3.2 -3.2 3.2 -3.2 -3.2zM315.5 375.8l3.2 3.2 -3.2 3.2 -3.2 -3.2zM315.5 381.8l3.2 3.2 -3.2 3.2 -3.2 -3.2zM315.5 387.8l3.2 3.2 -3.2 3.2 -3.2 -3.2zM316 394.3l3.2 3.2 -3.2 3.2 -3.2 -3.2zM316 400.3l3.2 3.2 -3.2 3.2 -3.2 -3.2zM317 394.3l3.2 3.2 -3.2 3.2 -3.2 -3.2zM317.5 370.3l3.2 3.2 -3.2 3.2 -3.2 -3.2zM317.5 375.8l3.2 3.2 -3.2 3.2 -3.2 -3.2zM317.5 400.3l3.2 3.2 -3.2 3.2 -3.2 -3.2zM318 353.8l3.2 3.2 -3.2 3.2 -3.2 -3.2zM318 394.3l3.2 3.2 -3.2 3.2 -3.2 -3.2zM319 328.8l3.2 3.2 -3.2 3.2 -3.2 -3.2zM319 370.3l3.2 3.2 -3.2 3.2 -3.2 -3.2zM319 381.8l3.2 3.2 -3.2 3.2 -3.2 -3.2zM319 387.8l3.2 3.2 -3.2 3.2 -3.2 -3.2zM319.5 343.8l3.2 3.2 -3.2 3.2 -3.2 -3.2zM320 381.8l3.2 3.2 -3.2 3.2 -3.2 -3.2zM320.5 381.8l3.2 3.2 -3.2 3.2 -3.2 -3.2zM320.5 387.8l3.2 3.2 -3.2 3.2 -3.2 -3.2zM320.5 394.3l3.2 3.2 -3.2 3.2 -3.2 -3.2zM321.5 370.3l3.2 3.2 -3.2 3.2 -3.2 -3.2zM321.5 381.8l3.2 3.2 -3.2 3.2 -3.2 -3.2zM321.5 400.3l3.2 3.2 -3.2 3.2 -3.2 -3.2zM322 370.3l3.2 3.2 -3.2 3.2 -3.2 -3.2zM322.5 310.8l3.2 3.2 -3.2 3.2 -3.2 -3.2zM322.5 353.8l3.2 3.2 -3.2 3.2 -3.2 -3.2zM322.5 375.8l3.2 3.2 -3.2 3.2 -3.2 -3.2zM322.5 381.8l3.2 3.2 -3.2 3.2 -3.2 -3.2zM323 353.8l3.2 3.2 -3.2 3.2 -3.2 -3.2zM323 359.3l3.2 3.2 -3.2 3.2 -3.2 -3.2zM324 348.8l3.2 3.2 -3.2 3.2 -3.2 -3.2zM324 381.8l3.2 3.2 -3.2 3.2 -3.2 -3.2zM324 387.8l3.2 3.2 -3.2 3.2 -3.2 -3.2zM324 413.8l3.2 3.2 -3.2 3.2 -3.2 -3.2zM324.5 359.3l3.2 3.2 -3.2 3.2 -3.2 -3.2zM324.5 375.8l3.2 3.2 -3.2 3.2 -3.2 -3.2zM325 353.8l3.2 3.2 -3.2 3.2 -3.2 -3.2zM325 375.8l3.2 3.2 -3.2 3.2 -3.2 -3.2zM325 394.3l3.2 3.2 -3.2 3.2 -3.2 -3.2zM325.5 324.3l3.2 3.2 -3.2 3.2 -3.2 -3.2zM325.5 359.3l3.2 3.2 -3.2 3.2 -3.2 -3.2zM325.5 370.3l3.2 3.2 -3.2 3.2 -3.2 -3.2zM326.5 338.8l3.2 3.2 -3.2 3.2 -3.2 -3.2zM326.5 364.8l3.2 3.2 -3.2 3.2 -3.2 -3.2zM326.5 375.8l3.2 3.2 -3.2 3.2 -3.2 -3.2zM326.5 394.3l3.2 3.2 -3.2 3.2 -3.2 -3.2zM327 348.8l3.2 3.2 -3.2 3.2 -3.2 -3.2zM327 375.8l3.2 3.2 -3.2 3.2 -3.2 -3.2zM327 381.8l3.2 3.2 -3.2 3.2 -3.2 -3.2zM327.5 353.8l3.2 3.2 -3.2 3.2 -3.2 -3.2zM328.5 364.8l3.2 3.2 -3.2 3.2 -3.2 -3.2zM328.5 375.8l3.2 3.2 -3.2 3.2 -3.2 -3.2zM329.5 400.3l3.2 3.2 -3.2 3.2 -3.2 -3.2zM330 370.3l3.2 3.2 -3.2 3.2 -3.2 -3.2zM330 375.8l3.2 3.2 -3.2 3.2 -3.2 -3.2zM331 353.8l3.2 3.2 -3.2 3.2 -3.2 -3.2zM331 375.8l3.2 3.2 -3.2 3.2 -3.2 -3.2zM332 359.3l3.2 3.2 -3.2 3.2 -3.2 -3.2zM332 364.8l3.2 3.2 -3.2 3.2 -3.2 -3.2zM332 375.8l3.2 3.2 -3.2 3.2 -3.2 -3.2zM332.5 381.8l3.2 3.2 -3.2 3.2 -3.2 -3.2zM333 333.8l3.2 3.2 -3.2 3.2 -3.2 -3.2zM333 359.3l3.2 3.2 -3.2 3.2 -3.2 -3.2zM333 364.8l3.2 3.2 -3.2 3.2 -3.2 -3.2zM333 387.8l3.2 3.2 -3.2 3.2 -3.2 -3.2zM333.5 333.8l3.2 3.2 -3.2 3.2 -3.2 -3.2zM333.5 370.3l3.2 3.2 -3.2 3.2 -3.2 -3.2zM334 381.8l3.2 3.2 -3.2 3.2 -3.2 -3.2zM334 413.8l3.2 3.2 -3.2 3.2 -3.2 -3.2zM335 364.8l3.2 3.2 -3.2 3.2 -3.2 -3.2zM335 370.3l3.2 3.2 -3.2 3.2 -3.2 -3.2zM335.5 375.8l3.2 3.2 -3.2 3.2 -3.2 -3.2zM336 343.8l3.2 3.2 -3.2 3.2 -3.2 -3.2zM336 364.8l3.2 3.2 -3.2 3.2 -3.2 -3.2zM336 370.3l3.2 3.2 -3.2 3.2 -3.2 -3.2zM336.5 375.8l3.2 3.2 -3.2 3.2 -3.2 -3.2zM336.5 381.8l3.2 3.2 -3.2 3.2 -3.2 -3.2zM337.5 359.3l3.2 3.2 -3.2 3.2 -3.2 -3.2zM338.5 364.8l3.2 3.2 -3.2 3.2 -3.2 -3.2zM338.5 370.3l3.2 3.2 -3.2 3.2 -3.2 -3.2zM339 319.8l3.2 3.2 -3.2 3.2 -3.2 -3.2zM339 353.8l3.2 3.2 -3.2 3.2 -3.2 -3.2zM339 359.3l3.2 3.2 -3.2 3.2 -3.2 -3.2zM339 364.8l3.2 3.2 -3.2 3.2 -3.2 -3.2zM339.5 364.8l3.2 3.2 -3.2 3.2 -3.2 -3.2zM339.5 375.8l3.2 3.2 -3.2 3.2 -3.2 -3.2zM339.5 381.8l3.2 3.2 -3.2 3.2 -3.2 -3.2zM340.5 338.8l3.2 3.2 -3.2 3.2 -3.2 -3.2zM340.5 348.8l3.2 3.2 -3.2 3.2 -3.2 -3.2zM340.5 359.3l3.2 3.2 -3.2 3.2 -3.2 -3.2zM341 359.3l3.2 3.2 -3.2 3.2 -3.2 -3.2zM342 333.8l3.2 3.2 -3.2 3.2 -3.2 -3.2zM342 375.8l3.2 3.2 -3.2 3.2 -3.2 -3.2zM342.5 353.8l3.2 3.2 -3.2 3.2 -3.2 -3.2zM343 364.8l3.2 3.2 -3.2 3.2 -3.2 -3.2zM343 381.8l3.2 3.2 -3.2 3.2 -3.2 -3.2zM343.5 359.3l3.2 3.2 -3.2 3.2 -3.2 -3.2zM344 333.8l3.2 3.2 -3.2 3.2 -3.2 -3.2zM344 348.8l3.2 3.2 -3.2 3.2 -3.2 -3.2zM344 359.3l3.2 3.2 -3.2 3.2 -3.2 -3.2zM344.5 353.8l3.2 3.2 -3.2 3.2 -3.2 -3.2zM345 315.3l3.2 3.2 -3.2 3.2 -3.2 -3.2zM346 315.3l3.2 3.2 -3.2 3.2 -3.2 -3.2zM346 364.8l3.2 3.2 -3.2 3.2 -3.2 -3.2zM346 381.8l3.2 3.2 -3.2 3.2 -3.2 -3.2zM347 319.8l3.2 3.2 -3.2 3.2 -3.2 -3.2zM347.5 370.3l3.2 3.2 -3.2 3.2 -3.2 -3.2zM348.5 359.3l3.2 3.2 -3.2 3.2 -3.2 -3.2zM349.5 359.3l3.2 3.2 -3.2 3.2 -3.2 -3.2zM349.5 364.8l3.2 3.2 -3.2 3.2 -3.2 -3.2zM350.5 359.3l3.2 3.2 -3.2 3.2 -3.2 -3.2zM351 343.8l3.2 3.2 -3.2 3.2 -3.2 -3.2zM351 348.8l3.2 3.2 -3.2 3.2 -3.2 -3.2zM351.5 348.8l3.2 3.2 -3.2 3.2 -3.2 -3.2zM351.5 353.8l3.2 3.2 -3.2 3.2 -3.2 -3.2zM352 359.3l3.2 3.2 -3.2 3.2 -3.2 -3.2zM354 353.8l3.2 3.2 -3.2 3.2 -3.2 -3.2zM354.5 359.3l3.2 3.2 -3.2 3.2 -3.2 -3.2zM355 338.8l3.2 3.2 -3.2 3.2 -3.2 -3.2zM355 375.8l3.2 3.2 -3.2 3.2 -3.2 -3.2zM356 338.8l3.2 3.2 -3.2 3.2 -3.2 -3.2zM356 353.8l3.2 3.2 -3.2 3.2 -3.2 -3.2zM356.5 338.8l3.2 3.2 -3.2 3.2 -3.2 -3.2zM357 328.8l3.2 3.2 -3.2 3.2 -3.2 -3.2zM357.5 343.8l3.2 3.2 -3.2 3.2 -3.2 -3.2zM357.5 348.8l3.2 3.2 -3.2 3.2 -3.2 -3.2zM359 338.8l3.2 3.2 -3.2 3.2 -3.2 -3.2zM359 348.8l3.2 3.2 -3.2 3.2 -3.2 -3.2zM359.5 343.8l3.2 3.2 -3.2 3.2 -3.2 -3.2zM360 338.8l3.2 3.2 -3.2 3.2 -3.2 -3.2zM362 328.8l3.2 3.2 -3.2 3.2 -3.2 -3.2zM362 338.8l3.2 3.2 -3.2 3.2 -3.2 -3.2zM363.5 319.8l3.2 3.2 -3.2 3.2 -3.2 -3.2zM364 266.8l3.2 3.2 -3.2 3.2 -3.2 -3.2zM364 343.8l3.2 3.2 -3.2 3.2 -3.2 -3.2zM366 315.3l3.2 3.2 -3.2 3.2 -3.2 -3.2zM366 333.8l3.2 3.2 -3.2 3.2 -3.2 -3.2zM366.5 333.8l3.2 3.2 -3.2 3.2 -3.2 -3.2zM366.5 338.8l3.2 3.2 -3.2 3.2 -3.2 -3.2zM367.5 364.8l3.2 3.2 -3.2 3.2 -3.2 -3.2zM368 302.3l3.2 3.2 -3.2 3.2 -3.2 -3.2zM368 315.3l3.2 3.2 -3.2 3.2 -3.2 -3.2zM369 333.8l3.2 3.2 -3.2 3.2 -3.2 -3.2zM369.5 319.8l3.2 3.2 -3.2 3.2 -3.2 -3.2zM370.5 353.8l3.2 3.2 -3.2 3.2 -3.2 -3.2zM372 293.8l3.2 3.2 -3.2 3.2 -3.2 -3.2zM372 319.8l3.2 3.2 -3.2 3.2 -3.2 -3.2zM372.5 338.8l3.2 3.2 -3.2 3.2 -3.2 -3.2zM373 343.8l3.2 3.2 -3.2 3.2 -3.2 -3.2zM374 306.3l3.2 3.2 -3.2 3.2 -3.2 -3.2zM374.5 324.3l3.2 3.2 -3.2 3.2 -3.2 -3.2zM375 328.8l3.2 3.2 -3.2 3.2 -3.2 -3.2zM375.5 324.3l3.2 3.2 -3.2 3.2 -3.2 -3.2zM376 310.8l3.2 3.2 -3.2 3.2 -3.2 -3.2zM376.5 315.3l3.2 3.2 -3.2 3.2 -3.2 -3.2zM376.5 328.8l3.2 3.2 -3.2 3.2 -3.2 -3.2zM377.5 338.8l3.2 3.2 -3.2 3.2 -3.2 -3.2zM377.5 348.8l3.2 3.2 -3.2 3.2 -3.2 -3.2zM380.5 270.8l3.2 3.2 -3.2 3.2 -3.2 -3.2zM382.5 338.8l3.2 3.2 -3.2 3.2 -3.2 -3.2zM383 319.8l3.2 3.2 -3.2 3.2 -3.2 -3.2zM383 324.3l3.2 3.2 -3.2 3.2 -3.2 -3.2zM384 259.8l3.2 3.2 -3.2 3.2 -3.2 -3.2zM384 302.3l3.2 3.2 -3.2 3.2 -3.2 -3.2zM385 310.8l3.2 3.2 -3.2 3.2 -3.2 -3.2zM385 324.3l3.2 3.2 -3.2 3.2 -3.2 -3.2zM385.5 310.8l3.2 3.2 -3.2 3.2 -3.2 -3.2zM389.5 302.3l3.2 3.2 -3.2 3.2 -3.2 -3.2zM392.5 297.8l3.2 3.2 -3.2 3.2 -3.2 -3.2zM399.5 319.8l3.2 3.2 -3.2 3.2 -3.2 -3.2zM401 285.8l3.2 3.2 -3.2 3.2 -3.2 -3.2zM403.5 297.8l3.2 3.2 -3.2 3.2 -3.2 -3.2zM403.5 306.3l3.2 3.2 -3.2 3.2 -3.2 -3.2zM410 302.3l3.2 3.2 -3.2 3.2 -3.2 -3.2zM411 281.8l3.2 3.2 -3.2 3.2 -3.2 -3.2zM411.5 278.3l3.2 3.2 -3.2 3.2 -3.2 -3.2zM412 289.8l3.2 3.2 -3.2 3.2 -3.2 -3.2zM415 306.3l3.2 3.2 -3.2 3.2 -3.2 -3.2zM417 281.8l3.2 3.2 -3.2 3.2 -3.2 -3.2zM417 293.8l3.2 3.2 -3.2 3.2 -3.2 -3.2zM418 289.8l3.2 3.2 -3.2 3.2 -3.2 -3.2zM418.5 343.8l3.2 3.2 -3.2 3.2 -3.2 -3.2zM420 315.3l3.2 3.2 -3.2 3.2 -3.2 -3.2zM423.5 223.8l3.2 3.2 -3.2 3.2 -3.2 -3.2zM423.5 297.8l3.2 3.2 -3.2 3.2 -3.2 -3.2zM425.5 285.8l3.2 3.2 -3.2 3.2 -3.2 -3.2zM427 266.8l3.2 3.2 -3.2 3.2 -3.2 -3.2zM427.5 226.8l3.2 3.2 -3.2 3.2 -3.2 -3.2zM427.5 263.3l3.2 3.2 -3.2 3.2 -3.2 -3.2zM430.5 270.8l3.2 3.2 -3.2 3.2 -3.2 -3.2zM431 259.8l3.2 3.2 -3.2 3.2 -3.2 -3.2zM431 274.3l3.2 3.2 -3.2 3.2 -3.2 -3.2zM431 281.8l3.2 3.2 -3.2 3.2 -3.2 -3.2zM431 289.8l3.2 3.2 -3.2 3.2 -3.2 -3.2zM431.5 223.8l3.2 3.2 -3.2 3.2 -3.2 -3.2zM432 220.8l3.2 3.2 -3.2 3.2 -3.2 -3.2zM435.5 263.3l3.2 3.2 -3.2 3.2 -3.2 -3.2zM437 270.8l3.2 3.2 -3.2 3.2 -3.2 -3.2zM437 285.8l3.2 3.2 -3.2 3.2 -3.2 -3.2zM437 302.3l3.2 3.2 -3.2 3.2 -3.2 -3.2zM438 263.3l3.2 3.2 -3.2 3.2 -3.2 -3.2zM440.5 289.8l3.2 3.2 -3.2 3.2 -3.2 -3.2zM441 289.8l3.2 3.2 -3.2 3.2 -3.2 -3.2zM441.5 232.8l3.2 3.2 -3.2 3.2 -3.2 -3.2zM442.5 274.3l3.2 3.2 -3.2 3.2 -3.2 -3.2zM449 220.8l3.2 3.2 -3.2 3.2 -3.2 -3.2zM449 281.8l3.2 3.2 -3.2 3.2 -3.2 -3.2zM450.5 278.3l3.2 3.2 -3.2 3.2 -3.2 -3.2zM456.5 266.8l3.2 3.2 -3.2 3.2 -3.2 -3.2zM457.5 206.3l3.2 3.2 -3.2 3.2 -3.2 -3.2zM458.5 256.3l3.2 3.2 -3.2 3.2 -3.2 -3.2zM460.5 256.3l3.2 3.2 -3.2 3.2 -3.2 -3.2zM461.5 252.8l3.2 3.2 -3.2 3.2 -3.2 -3.2zM461.5 278.3l3.2 3.2 -3.2 3.2 -3.2 -3.2zM462.5 252.8l3.2 3.2 -3.2 3.2 -3.2 -3.2zM463 203.3l3.2 3.2 -3.2 3.2 -3.2 -3.2zM469 249.3l3.2 3.2 -3.2 3.2 -3.2 -3.2zM471 242.8l3.2 3.2 -3.2 3.2 -3.2 -3.2zM472.5 194.8l3.2 3.2 -3.2 3.2 -3.2 -3.2zM472.5 270.8l3.2 3.2 -3.2 3.2 -3.2 -3.2zM477.5 232.8l3.2 3.2 -3.2 3.2 -3.2 -3.2zM483 245.8l3.2 3.2 -3.2 3.2 -3.2 -3.2zM488.5 229.8l3.2 3.2 -3.2 3.2 -3.2 -3.2zM488.5 236.3l3.2 3.2 -3.2 3.2 -3.2 -3.2zM491.5 226.8l3.2 3.2 -3.2 3.2 -3.2 -3.2zM494.5 239.3l3.2 3.2 -3.2 3.2 -3.2 -3.2zM497.5 220.8l3.2 3.2 -3.2 3.2 -3.2 -3.2zM501 223.8l3.2 3.2 -3.2 3.2 -3.2 -3.2zM502.5 217.8l3.2 3.2 -3.2 3.2 -3.2 -3.2zM515 211.8l3.2 3.2 -3.2 3.2 -3.2 -3.2zM529 143.8l3.2 3.2 -3.2 3.2 -3.2 -3.2zM531.5 220.8l3.2 3.2 -3.2 3.2 -3.2 -3.2zM532 206.3l3.2 3.2 -3.2 3.2 -3.2 -3.2zM534 186.8l3.2 3.2 -3.2 3.2 -3.2 -3.2zM536.5 174.3l3.2 3.2 -3.2 3.2 -3.2 -3.2zM540 174.3l3.2 3.2 -3.2 3.2 -3.2 -3.2zM547 164.3l3.2 3.2 -3.2 3.2 -3.2 -3.2zM551.5 150.3l3.2 3.2 -3.2 3.2 -3.2 -3.2zM557.5 148.3l3.2 3.2 -3.2 3.2 -3.2 -3.2zM561 126.3l3.2 3.2 -3.2 3.2 -3.2 -3.2zM562 176.8l3.2 3.2 -3.2 3.2 -3.2 -3.2zM563 150.3l3.2 3.2 -3.2 3.2 -3.2 -3.2zM565.5 150.3l3.2 3.2 -3.2 3.2 -3.2 -3.2zM581 186.8l3.2 3.2 -3.2 3.2 -3.2 -3.2zM582.5 116.3l3.2 3.2 -3.2 3.2 -3.2 -3.2zM583 159.8l3.2 3.2 -3.2 3.2 -3.2 -3.2zM586 126.3l3.2 3.2 -3.2 3.2 -3.2 -3.2zM586.5 145.8l3.2 3.2 -3.2 3.2 -3.2 -3.2zM590 120.3l3.2 3.2 -3.2 3.2 -3.2 -3.2zM590 130.8l3.2 3.2 -3.2 3.2 -3.2 -3.2zM598 77.3l3.2 3.2 -3.2 3.2 -3.2 -3.2zM599 157.3l3.2 3.2 -3.2 3.2 -3.2 -3.2zM605.5 134.8l3.2 3.2 -3.2 3.2 -3.2 -3.2zM609 145.8l3.2 3.2 -3.2 3.2 -3.2 -3.2zM611 143.8l3.2 3.2 -3.2 3.2 -3.2 -3.2zM613.5 110.3l3.2 3.2 -3.2 3.2 -3.2 -3.2zM613.5 126.3l3.2 3.2 -3.2 3.2 -3.2 -3.2zM615 84.3l3.2 3.2 -3.2 3.2 -3.2 -3.2zM624.5 104.8l3.2 3.2 -3.2 3.2 -3.2 -3.2zM630 118.3l3.2 3.2 -3.2 3.2 -3.2 -3.2zM634.5 141.3l3.2 3.2 -3.2 3.2 -3.2 -3.2zM638 152.8l3.2 3.2 -3.2 3.2 -3.2 -3.2zM641 98.8l3.2 3.2 -3.2 3.2 -3.2 -3.2zM652.5 91.8l3.2 3.2 -3.2 3.2 -3.2 -3.2zM654 112.3l3.2 3.2 -3.2 3.2 -3.2 -3.2z" fill="#d0d0d0"/>
<path d="M365.8 330 366 329.9 367 329.7 368 329.5 369 329.4 370 329.5 371 329.9 371.2 330 372 330.8 372.1 331 372.6 332 372.8 333 373 334 373 334.4 373 335 373 336 373 336.4 373 337 372.8 338 372.7 339 372.5 340 372.2 341 372 341.8 371.9 342 371.6 343 371.2 344 371 344.5 370.8 345 370.3 346 370 346.5 369.8 347 369.2 348 369 348.3 368.6 349 368 349.9 367.9 350 367.3 351 367 351.4 366.6 352 366 352.9 365.9 353 365.2 354 365 354.3 364.5 355 364 355.7 363.8 356 363.2 357 363 357.2 362.5 358 362 358.8 361.9 359 361.2 360 361 360.4 360.6 361 360 362 360 362 359.4 363 359 363.7 358.8 364 358.3 365 358 365.4 357.7 366 357.1 367 357 367.2 356.5 368 356 368.9 355.9 369 355.3 370 355 370.6 354.8 371 354.2 372 354 372.3 353.6 373 353 374 353 374 352.4 375 352 375.7 351.8 376 351.2 377 351 377.4 350.6 378 350 379 350 379.1 349.4 380 349 380.7 348.8 381 348.2 382 348 382.2 347.5 383 347 383.7 346.8 384 346 385 346 385 345.3 386 345 386.3 344.4 387 344 387.5 343.6 388 343 388.6 342.7 389 342 389.7 341.7 390 341 390.7 340.7 391 340 391.8 339.8 392 339 392.8 338.8 393 338 393.8 337.8 394 337 394.9 336.9 395 336 396 336 396 335.2 397 335 397.2 334.4 398 334 398.5 333.6 399 333 399.8 332.9 400 332.2 401 332 401.2 331.5 402 331 402.7 330.8 403 330.1 404 330 404.2 329.5 405 329 405.7 328.8 406 328.1 407 328 407.2 327.4 408 327 408.6 326.7 409 326 409.9 325.9 410 325.2 411 325 411.2 324.3 412 324 412.4 323.5 413 323 413.5 322.6 414 322 414.6 321.7 415 321 415.7 320.7 416 320 416.7 319.7 417 319 417.7 318.7 418 318 418.7 317.7 419 317 419.6 316.6 420 316 420.6 315.5 421 315 421.5 314.4 422 314 422.4 313.3 423 313 423.3 312.2 424 312 424.2 311.1 425 311 425.1 310 425.9 309.9 426 309 426.8 308.8 427 308 427.7 307.6 428 307 428.5 306.4 429 306 429.3 305.2 430 305 430.2 304 431 304 431 303 431.9 302.9 432 302 432.8 301.7 433 301 433.7 300.6 434 300 434.6 299.6 435 299 435.6 298.6 436 298 436.6 297.6 437 297 437.6 296.6 438 296 438.7 295.7 439 295 439.8 294.8 440 294 440.9 293.9 441 293.1 442 293 442.1 292.2 443 292 443.3 291.4 444 291 444.5 290.6 445 290 445.7 289.8 446 289 447 289 447 288.2 448 288 448.2 287.4 449 287 449.5 286.6 450 286 450.8 285.8 451 285 452 285 452 284.2 453 284 453.3 283.5 454 283 454.6 282.7 455 282 455.8 281.8 456 281 457 281 457 280.1 458 280 458.1 279.2 459 279 459.2 278.3 460 278 460.3 277.3 461 277 461.2 276.2 462 276 462.2 275.1 463 275 463 274 463.9 273.9 464 273 464.7 272.6 465 272 465.5 271.3 466 271 466.2 270 466.9 269.9 467 269 467.7 268.5 468 268 468.4 267.2 469 267 469.1 266 469.9 265.8 470 265 470.6 264.5 471 264 471.4 263.3 472 263 472.2 262.1 473 262 473 261 473.9 260.9 474 260 474.8 259.8 475 259 475.8 258.8 476 258 476.8 257.8 477 257 477.8 256.8 478 256 478.9 255.9 479 255 480 255 480 254.1 481 254 481.1 253.2 482 253 482.2 252.3 483 252 483.4 251.4 484 251 484.5 250.6 485 250 485.7 249.7 486 249 486.8 248.8 487 248 487.9 247.9 488 247 489 247 489 246.1 490 246 490.1 245.1 491 245 491.1 244.1 492 244 492.1 243.1 493 243 493.1 242 494 242 494 241 494.9 240.9 495 240 495.7 239.7 496 239 496.6 238.5 497 238 497.4 237.2 498 237 498.2 236 498.9 235.9 499 235 499.7 234.6 500 234 500.4 233.2 501 233 501.2 232 501.9 231.9 502 231 502.7 230.6 503 230 503.5 229.3 504 229 504.2 228 505 228 505 227 505.9 226.8 506 226 506.7 225.7 507 225 507.6 224.5 508 224 508.5 223.4 509 223 509.4 222.3 510 222 510.3 221.2 511 221 511.2 220.1 512 220 512.1 219 513 219 513 218 513.9 217.8 514 217 514.7 216.7 515 216 515.6 215.5 516 215 516.4 214.2 517 214 517.1 213 517.9 212.9 518 212 518.6 211.5 519 211 519.3 210 520 210 520 209 520.7 208.5 521 208 521.3 207 522 207 522 206 522.6 205.4 523 205 523.3 204 523.9 203.9 524 203 524.6 202.3 525 202 525.2 201 525.9 200.8 526 200 526.6 199.3 527 199 527.2 198 527.9 197.9 528 197 528.6 196.4 529 196 529.3 195 529.9 194.9 530 194 530.6 193.4 531 193 531.2 192 531.9 191.8 532 191 532.5 190 533 190 533 189 533.6 188.1 534 188 534.1 187 534.6 186 535 186 535 185 535.4 184 535.8 183.3 536 183 536.1 182 536.4 181 536.7 180 536.9 179.5 537 179 537.1 178 537.3 177 537.4 176 537.5 175 537.6 174 537.7 173 537.7 172 537.6 171 537.6 170 537.5 169 537.3 168 537.1 167.4 537 167 536.9 166 536.6 165 536.2 164.4 536 164 535.8 163 535.3 162.5 535 162 534.7 161 534 161 534 160 533.2 159.7 533 159 532.3 158.7 532 158 531.3 157.8 531 157 530 157 530 156.2 529 156 528.6 155.6 528 155 527 155 526.9 154.5 526 154.1 525 154 524.7 153.7 524 153.4 523 153.1 522 153 521.6 152.9 521 152.7 520 152.5 519 152.4 518 152.3 517 152.2 516 152.1 515 152.1 514 152 513 152 512 152 511 152 510.2 152 510 152 509 152 508 152 507 152 506.4 152 506 152 505 152 504 152.1 503 152.1 502 152.1 501 152.2 500 152.2 499 152.3 498 152.4 497 152.5 496 152.6 495 152.7 494 152.8 493 153 492 153 491.8 153.1 491 153.2 490 153.4 489 153.5 488 153.7 487 153.8 486 154 485 154 484.7 154.1 484 154.3 483 154.4 482 154.6 481 154.9 480 155 479.4 155.1 479 155.4 478 155.7 477 156 476 156 476 156.4 475 156.9 474 157 473.7 157.4 473 158 472 158 471.9 158.6 471 159 470.4 159.3 470 160 469.2 160.1 469 161 468 161 468 162 467 162 467 163 466 163 466 164 465 164 465 165 464.1 165.1 464 166 463.2 166.2 463 167 462.3 167.3 462 168 461.3 168.3 461 169 460.2 169.2 460 170 459.1 170.1 459 170.9 458 171 457.9 171.7 457 172 456.5 172.3 456 173 455 173 454.9 173.5 454 174 453.2 174.1 453 174.6 452 175 451.1 175.1 451 175.5 450 176 449 176 448.9 176.4 448 176.8 447 177 446.6 177.3 446 177.7 445 178 444.3 178.1 444 178.6 443 179 442.2 179.1 442 179.6 441 180 440.3 180.2 440 180.7 439 181 438.5 181.3 438 181.9 437 182 436.8 182.5 436 183 435.2 183.1 435 183.7 434 184 433.5 184.3 433 185 432 185 431.9 185.6 431 186 430.3 186.2 430 186.8 429 187 428.8 187.5 428 188 427.2 188.1 427 188.8 426 189 425.7 189.5 425 190 424.3 190.2 424 191 423 191 423 191.8 422 192 421.8 192.6 421 193 420.5 193.5 420 194 419.4 194.3 419 195 418.2 195.2 418 196 417.1 196.1 417 197 416 197 416 197.9 415 198 414.8 198.8 414 199 413.8 199.7 413 200 412.7 200.7 412 201 411.7 201.7 411 202 410.7 202.7 410 203 409.7 203.8 409 204 408.9 205 408 205 408 206 407.3 206.4 407 207 406.6 207.9 406 208 406 209 405.4 209.7 405 210 404.8 211 404.3 211.7 404 212 403.8 213 403.4 214 403 214 403 215 402.6 216 402.2 216.7 402 217 401.9 218 401.5 219 401.2 219.5 401 220 400.8 221 400.4 222 400 222.1 400 223 399.6 224 399.2 224.5 399 225 398.8 226 398.3 226.6 398 227 397.8 228 397.3 228.5 397 229 396.7 230 396.2 230.3 396 231 395.6 232 395 232.1 395 233 394.5 233.9 394 234 393.9 235 393.4 235.8 393 236 392.9 237 392.4 237.8 392 238 391.9 239 391.5 240 391 240.1 391 241 390.6 242 390.2 242.7 390 243 389.9 244 389.5 245 389.2 245.5 389 246 388.8 247 388.5 248 388.2 248.5 388 249 387.8 250 387.5 251 387.2 251.5 387 252 386.8 253 386.5 254 386.1 254.4 386 255 385.8 256 385.4 257 385.1 257.2 385 258 384.7 259 384.3 259.9 384 260 384 261 383.6 262 383.2 262.4 383 263 382.8 264 382.3 264.8 382 265 381.9 266 381.4 267 381 267 381 268 380.5 268.9 380 269 379.9 270 379.4 270.6 379 271 378.8 272 378.1 272.2 378 273 377.4 273.5 377 274 376.6 274.8 376 275 375.8 276 375 276 375 277 374.1 277.1 374 278 373.1 278.2 373 279 372.2 279.2 372 280 371.2 280.3 371 281 370.3 281.4 370 282 369.5 282.6 369 283 368.7 283.9 368 284 368 285 367.3 285.5 367 286 366.7 287 366.1 287.2 366 288 365.6 289 365.1 289.2 365 290 364.6 291 364.2 291.4 364 292 363.7 293 363.3 293.7 363 294 362.9 295 362.4 295.9 362 296 361.9 297 361.4 297.9 361 298 360.9 299 360.4 299.8 360 300 359.9 301 359.3 301.5 359 302 358.7 303 358.2 303.3 358 304 357.6 305 357 305 357 306 356.4 306.7 356 307 355.9 308 355.3 308.5 355 309 354.7 310 354.2 310.3 354 311 353.6 312 353.1 312.1 353 313 352.5 314 352 314 352 315 351.5 316 351 316 351 317 350.5 318 350 318 350 319 349.5 320 349 320.1 349 321 348.6 322 348.2 322.4 348 323 347.8 324 347.4 325 347 325 347 326 346.6 327 346.3 328 346 328 346 329 345.7 330 345.4 331 345.1 331.4 345 332 344.8 333 344.5 334 344.3 334.9 344 335 344 336 343.6 337 343.3 337.9 343 338 343 339 342.6 340 342.2 340.4 342 341 341.7 342 341.3 342.5 341 343 340.8 344 340.2 344.4 340 345 339.7 346 339.1 346.2 339 347 338.5 347.9 338 348 338 349 337.4 349.7 337 350 336.8 351 336.2 351.4 336 352 335.7 353 335.2 353.3 335 354 334.7 355 334.2 355.4 334 356 333.7 357 333.3 357.6 333 358 332.8 359 332.4 360 332 360 332 361 331.6 362 331.2 362.7 331 363 330.9 364 330.5 365 330.2 365.8 330 M332.1 359 333 358.9 334 358.7 335 358.6 336 358.6 337 358.6 338 358.6 339 358.7 340 358.8 340.6 359 341 359.1 342 359.5 342.7 360 343 360.2 343.7 361 344 361.6 344.2 362 344.4 363 344.5 364 344.5 365 344.4 366 344.2 367 344 368 344 368 343.7 369 343.4 370 343.1 371 343 371.1 342.7 372 342.3 373 342 373.6 341.8 374 341.3 375 341 375.7 340.9 376 340.3 377 340 377.6 339.8 378 339.2 379 339 379.3 338.6 380 338 380.8 337.9 381 337.2 382 337 382.2 336.4 383 336 383.6 335.7 384 335 384.8 334.9 385 334.1 386 334 386.1 333.3 387 333 387.3 332.5 388 332 388.6 331.7 389 331 389.9 330.9 390 330.2 391 330 391.2 329.5 392 329 392.7 328.8 393 328.1 394 328 394.2 327.5 395 327 395.8 326.9 396 326.3 397 326 397.5 325.7 398 325.1 399 325 399.2 324.5 400 324 400.9 323.9 401 323.3 402 323 402.5 322.7 403 322 404 322 404.1 321.4 405 321 405.5 320.7 406 320 406.9 319.9 407 319.1 408 319 408.2 318.3 409 318 409.4 317.5 410 317 410.5 316.6 411 316 411.6 315.7 412 315 412.7 314.7 413 314 413.7 313.7 414 313 414.7 312.7 415 312 415.7 311.7 416 311 416.6 310.6 417 310 417.6 309.5 418 309 418.5 308.4 419 308 419.4 307.3 420 307 420.3 306.2 421 306 421.2 305 422 305 422 304 422.9 303.9 423 303 423.8 302.7 424 302 424.6 301.6 425 301 425.5 300.4 426 300 426.4 299.3 427 299 427.3 298.2 428 298 428.2 297.1 429 297 429.1 296 430 296 430 295 431 295 431 294 432 294 432 293 433 293 433 292.1 434 292 434.1 291.2 435 291 435.2 290.3 436 290 436.4 289.5 437 289 437.5 288.6 438 288 438.7 287.8 439 287 440 287 440 286.2 441 286 441.2 285.4 442 285 442.5 284.6 443 284 443.7 283.8 444 283 445 283 445 282.2 446 282 446.2 281.4 447 281 447.5 280.6 448 280 448.7 279.8 449 279 449.9 278.9 450 278.1 451 278 451.2 277.3 452 277 452.4 276.5 453 276 453.5 275.6 454 275 454.7 274.7 455 274 455.7 273.8 456 273 456.8 272.8 457 272 457.8 271.8 458 271 458.7 270.7 459 270 459.7 269.6 460 269 460.6 268.5 461 268 461.4 267.3 462 267 462.3 266.1 463 266 463.1 265 463.9 264.9 464 264 464.7 263.7 465 263 465.6 262.5 466 262 466.4 261.3 467 261 467.2 260.1 468 260 468.1 259 469 259 469 258 469.9 257.9 470 257 470.8 256.8 471 256 471.8 255.8 472 255 472.8 254.8 473 254 473.8 253.8 474 253 474.8 252.8 475 252 475.8 251.9 476 251 476.9 250.9 477 250 478 250 478 249.1 479 249 479.1 248.1 480 248 480.1 247.2 481 247 481.2 246.3 482 246 482.3 245.3 483 245 483.3 244.4 484 244 484.4 243.4 485 243 485.4 242.4 486 242 486.4 241.4 487 241 487.4 240.3 488 240 488.3 239.3 489 239 489.2 238.2 490 238 490.2 237.1 491 237 491 236 491.9 235.9 492 235 492.8 234.7 493 234 493.6 233.5 494 233 494.4 232.3 495 232 495.2 231 496 231 496 230 496.8 229.7 497 229 497.6 228.5 498 228 498.4 227.2 499 227 499.2 226 500 226 500 225 500.8 224.8 501 224 501.6 223.6 502 223 502.5 222.4 503 222 503.4 221.3 504 221 504.2 220.2 505 220 505.1 219 506 219 506 218 507 217.9 507 217 507.9 216.8 508 216 508.7 215.7 509 215 509.6 214.5 510 214 510.5 213.3 511 213 511.3 212.1 512 212 512.1 211 512.8 210.8 513 210 513.6 209.4 514 209 514.3 208 514.9 207.9 515 207 515.6 206.3 516 206 516.2 205 516.8 204.7 517 204 517.4 203.1 518 203 518 202 518.6 201.4 519 201 519.2 200 519.8 199.7 520 199 520.4 198 521 198 521 197 521.6 196.3 522 196 522.2 195 522.8 194.7 523 194 523.4 193 524 193 524 192 524.6 191.2 525 191 525.1 190 525.7 189.4 526 189 526.2 188 526.7 187.3 527 187 527.1 186 527.5 185 527.9 184.6 528 184 528.2 183 528.5 182 528.7 181 528.9 180 529 179.6 529 179 529 178 529.1 177 529 176.8 529 176 528.9 175 528.8 174 528.6 173 528.3 172.2 528 172 527.9 171 527.5 170 527 170 527 169 526.4 168.5 526 168 525.6 167.2 525 167 524.8 166.2 524 166 523.8 165.4 523 165 522.5 164.6 522 164 521 164 521 163.5 520 163 519 163 519 162.6 518 162.2 517 162 516.2 162 516 161.7 515 161.5 514 161.3 513 161.2 512 161 511 161 510.5 161 510 160.9 509 160.8 508 160.8 507 160.8 506 160.9 505 160.9 504 161 503 161 502.9 161.1 502 161.2 501 161.4 500 161.6 499 161.8 498 162 497 162 497 162.2 496 162.5 495 162.8 494 163 493.3 163.1 493 163.4 492 163.7 491 164 490.2 164.1 490 164.4 489 164.8 488 165 487.3 165.1 487 165.5 486 165.8 485 166 484.6 166.2 484 166.6 483 167 482 167 482 167.5 481 167.9 480 168 479.8 168.4 479 169 478 169 477.9 169.5 477 170 476.2 170.1 476 170.8 475 171 474.7 171.5 474 172 473.3 172.2 473 172.9 472 173 471.9 173.7 471 174 470.6 174.5 470 175 469.3 175.2 469 176 468 176 468 176.8 467 177 466.7 177.5 466 178 465.4 178.3 465 179 464 179 464 179.7 463 180 462.6 180.4 462 181 461.2 181.1 461 181.8 460 182 459.7 182.5 459 183 458.3 183.2 458 183.9 457 184 456.8 184.6 456 185 455.4 185.3 455 186 454 186 454 186.7 453 187 452.6 187.5 452 188 451.3 188.2 451 189 450 189 449.9 189.7 449 190 448.6 190.5 448 191 447.3 191.2 447 192 446 192 446 192.8 445 193 444.7 193.6 444 194 443.4 194.3 443 195 442.1 195.1 442 195.9 441 196 440.8 196.6 440 197 439.5 197.4 439 198 438.2 198.2 438 198.9 437 199 436.9 199.7 436 200 435.7 200.5 435 201 434.4 201.4 434 202 433.2 202.2 433 203 432.1 203.1 432 203.9 431 204 430.9 204.8 430 205 429.8 205.7 429 206 428.7 206.7 428 207 427.6 207.6 427 208 426.6 208.6 426 209 425.5 209.5 425 210 424.5 210.5 424 211 423.5 211.5 423 212 422.5 212.5 422 213 421.5 213.6 421 214 420.6 214.7 420 215 419.7 215.9 419 216 418.9 217 418.1 217.1 418 218 417.4 218.5 417 219 416.6 219.9 416 220 416 221 415.3 221.5 415 222 414.7 223 414 223 414 224 413.4 224.6 413 225 412.7 226 412.1 226.1 412 227 411.4 227.6 411 228 410.8 229 410.1 229.1 410 230 409.4 230.5 409 231 408.7 231.9 408 232 407.9 233 407.2 233.2 407 234 406.4 234.6 406 235 405.7 235.9 405 236 405 237 404.2 237.3 404 238 403.5 238.7 403 239 402.8 240 402.1 240.1 402 241 401.4 241.7 401 242 400.8 243 400.2 243.3 400 244 399.6 245 399.1 245.1 399 246 398.5 247 398 247.1 398 248 397.5 249 397.1 249.2 397 250 396.6 251 396.2 251.6 396 252 395.8 253 395.4 254 395 254.1 395 255 394.7 256 394.3 256.8 394 257 393.9 258 393.6 259 393.2 259.6 393 260 392.9 261 392.5 262 392.1 262.4 392 263 391.8 264 391.4 265 391.1 265.2 391 266 390.7 267 390.3 267.8 390 268 389.9 269 389.5 270 389.1 270.3 389 271 388.7 272 388.2 272.5 388 273 387.8 274 387.2 274.5 387 275 386.7 276 386.1 276.3 386 277 385.5 277.9 385 278 384.9 279 384.3 279.4 384 280 383.6 280.8 383 281 382.9 282 382.2 282.2 382 283 381.4 283.6 381 284 380.7 284.9 380 285 380 286 379.2 286.3 379 287 378.5 287.7 378 288 377.8 289 377.1 289.2 377 290 376.5 290.7 376 291 375.8 292 375.2 292.4 375 293 374.6 294 374.1 294.1 374 295 373.5 296 373 296 373 297 372.4 297.9 372 298 371.9 299 371.4 299.9 371 300 371 301 370.5 302 370 302 370 303 369.5 304 369 304.1 369 305 368.6 306 368.1 306.2 368 307 367.6 308 367.2 308.5 367 309 366.8 310 366.3 310.8 366 311 365.9 312 365.5 313 365.1 313.2 365 314 364.7 315 364.3 315.8 364 316 363.9 317 363.5 318 363.2 318.5 363 319 362.8 320 362.4 321 362.1 321.2 362 322 361.7 323 361.4 324 361.1 324.2 361 325 360.7 326 360.4 327 360.1 327.5 360 328 359.9 329 359.6 330 359.4 331 359.2 332 359 332.1 359 M312.5 374 313 373.9 314 373.8 315 373.7 316 373.6 317 373.6 318 373.6 319 373.7 320 373.8 321 373.9 321.6 374 322 374.1 323 374.4 324 374.8 324.3 375 325 375.5 325.4 376 326 376.9 326 377 326.3 378 326.4 379 326.4 380 326.2 381 326 381.9 326 382 325.7 383 325.4 384 325 385 325 385.1 324.7 386 324.3 387 324 387.8 323.9 388 323.5 389 323.1 390 323 390.3 322.7 391 322.3 392 322 392.7 321.9 393 321.4 394 321 395 321 395 320.5 396 320.1 397 320 397.2 319.6 398 319.1 399 319 399.1 318.5 400 318 400.9 318 401 317.4 402 317 402.6 316.7 403 316.1 404 316 404.1 315.3 405 315 405.5 314.6 406 314 406.7 313.8 407 313 407.9 312.9 408 312.1 409 312 409.1 311.2 410 311 410.2 310.2 411 310 411.2 309.2 412 309 412.2 308.2 413 308 413.2 307.2 414 307 414.2 306.1 415 306 415.1 305 416 305 416 304 417 303.9 417 303 417.9 302.8 418 302 418.8 301.7 419 301 419.7 300.6 420 300 420.6 299.5 421 299 421.4 298.4 422 298 422.3 297.3 423 297 423.2 296.2 424 296 424.2 295.1 425 295 425.1 294 426 294 426 293 427 293 427 292 428 292 428 291 429 291 429 290.1 430 290 430.1 289.2 431 289 431.2 288.3 432 288 432.4 287.5 433 287 433.5 286.6 434 286 434.8 285.8 435 285 436 285 436 284.2 437 284 437.3 283.4 438 283 438.6 282.7 439 282 439.8 281.9 440 281.1 441 281 441.1 280.3 442 280 442.4 279.5 443 279 443.7 278.7 444 278 444.9 277.9 445 277.1 446 277 446.2 276.3 447 276 447.4 275.5 448 275 448.6 274.7 449 274 449.8 273.9 450 273 451 273 451 272.2 452 272 452.2 271.3 453 271 453.3 270.4 454 270 454.4 269.4 455 269 455.4 268.4 456 268 456.4 267.4 457 267 457.4 266.4 458 266 458.3 265.3 459 265 459.3 264.2 460 264 460.2 263 461 263 461 262 461.9 261.9 462 261 462.8 260.8 463 260 463.7 259.6 464 259 464.5 258.5 465 258 465.4 257.4 466 257 466.3 256.3 467 256 467.3 255.2 468 255 468.2 254.2 469 254 469.2 253.2 470 253 470.2 252.2 471 252 471.2 251.2 472 251 472.2 250.2 473 250 473.3 249.3 474 249 474.3 248.4 475 248 475.4 247.4 476 247 476.5 246.5 477 246 477.5 245.6 478 245 478.6 244.6 479 244 479.6 243.6 480 243 480.7 242.7 481 242 481.7 241.7 482 241 482.7 240.7 483 240 483.7 239.7 484 239 484.6 238.6 485 238 485.6 237.5 486 237 486.5 236.4 487 236 487.4 235.3 488 235 488.3 234.2 489 234 489.2 233 490 233 490 232 490.8 231.8 491 231 491.7 230.6 492 230 492.5 229.3 493 229 493.3 228 494 228 494 227 494.8 226.8 495 226 495.6 225.5 496 225 496.4 224.2 497 224 497.2 223 498 223 498 222 498.8 221.8 499 221 499.6 220.6 500 220 500.5 219.4 501 219 501.4 218.3 502 218 502.2 217.1 503 217 503.1 216 504 216 504 215 504.9 214.8 505 214 505.7 213.7 506 213 506.6 212.5 507 212 507.4 211.2 508 211 508.2 210 509 209.9 509 209 509.7 208.5 510 208 510.4 207.1 511 207 511 206 511.7 205.5 512 205 512.3 204 512.9 203.8 513 203 513.5 202 514 202 514 201 514.6 200.1 515 200 515.1 199 515.6 198.2 516 198 516.1 197 516.6 196.3 517 196 517.1 195 517.6 194.3 518 194 518.2 193 518.7 192.3 519 192 519.1 191 519.6 190.2 520 190 520.1 189 520.5 188 520.9 187.9 521 187 521.3 186 521.7 185 522 184.8 522 184 522.2 183 522.4 182 522.5 181 522.6 180 522.5 179 522.4 178 522.2 177.1 522 177 522 176 521.6 175 521.1 174.9 521 174 520.4 173.5 520 173 519.6 172.4 519 172 518.6 171.5 518 171 517.3 170.8 517 170.3 516 170 515.5 169.8 515 169.4 514 169.1 513 169 512.8 168.8 512 168.6 511 168.4 510 168.3 509 168.2 508 168.2 507 168.2 506 168.2 505 168.3 504 168.4 503 168.6 502 168.8 501 169 500 169 499.9 169.2 499 169.4 498 169.7 497 170 496 170 496 170.3 495 170.6 494 170.9 493 171 492.6 171.2 492 171.5 491 171.8 490 172 489.5 172.2 489 172.5 488 172.8 487 173 486.6 173.2 486 173.6 485 174 484 174 484 174.4 483 174.8 482 175 481.7 175.3 481 175.8 480 176 479.7 176.4 479 176.9 478 177 477.9 177.5 477 178 476.2 178.1 476 178.7 475 179 474.6 179.4 474 180 473 180 473 180.7 472 181 471.5 181.4 471 182 470.1 182 470 182.7 469 183 468.6 183.4 468 184 467.2 184.1 467 184.8 466 185 465.7 185.5 465 186 464.3 186.2 464 186.9 463 187 462.9 187.6 462 188 461.4 188.3 461 189 460 189 460 189.7 459 190 458.6 190.4 458 191 457.2 191.2 457 191.9 456 192 455.8 192.6 455 193 454.5 193.3 454 194 453.1 194.1 453 194.8 452 195 451.7 195.5 451 196 450.4 196.3 450 197 449 197 449 197.8 448 198 447.7 198.5 447 199 446.4 199.3 446 200 445.1 200.1 445 200.9 444 201 443.9 201.7 443 202 442.6 202.5 442 203 441.4 203.4 441 204 440.3 204.3 440 205 439.2 205.2 439 206 438.1 206.1 438 207 437.1 207 437 208 436 208 436 209 435.1 209.1 435 210 434.1 210.1 434 211 433.2 211.2 433 212 432.3 212.3 432 213 431.4 213.4 431 214 430.5 214.5 430 215 429.6 215.7 429 216 428.7 216.8 428 217 427.8 217.9 427 218 426.9 219 426 219.1 426 220 425.2 220.2 425 221 424.3 221.3 424 222 423.4 222.5 423 223 422.6 223.7 422 224 421.7 224.9 421 225 420.9 226 420 226.1 420 227 419.2 227.3 419 228 418.4 228.5 418 229 417.6 229.7 417 230 416.8 231 416 231 416 232 415.2 232.2 415 233 414.4 233.4 414 234 413.6 234.7 413 235 412.7 235.9 412 236 411.9 237 411.1 237.2 411 238 410.3 238.4 410 239 409.6 239.7 409 240 408.8 241 408.1 241.1 408 242 407.3 242.5 407 243 406.6 244 406 244 406 245 405.3 245.5 405 246 404.7 247 404.1 247.2 404 248 403.5 249 403 249 403 250 402.5 251 402 251 402 252 401.5 253 401.1 253.2 401 254 400.6 255 400.2 255.5 400 256 399.8 257 399.4 258 399 258 399 259 398.6 260 398.3 260.7 398 261 397.9 262 397.5 263 397.1 263.4 397 264 396.8 265 396.4 266 396.1 266.2 396 267 395.7 268 395.3 268.9 395 269 395 270 394.6 271 394.2 271.6 394 272 393.8 273 393.4 273.9 393 274 393 275 392.5 276 392 276.1 392 277 391.5 278 391 278 391 279 390.4 279.8 390 280 389.9 281 389.2 281.4 389 282 388.6 282.9 388 283 387.9 284 387.2 284.4 387 285 386.6 285.8 386 286 385.9 287 385.2 287.2 385 288 384.5 288.7 384 289 383.8 290 383.2 290.3 383 291 382.5 291.9 382 292 381.9 293 381.3 293.6 381 294 380.8 295 380.2 295.4 380 296 379.7 297 379.2 297.4 379 298 378.7 299 378.2 299.6 378 300 377.8 301 377.4 301.9 377 302 377 303 376.6 304 376.2 304.7 376 305 375.9 306 375.5 307 375.2 307.9 375 308 375 309 374.7 310 374.5 311 374.3 312 374.1 312.5 374 M302.3 383 303 382.8 304 382.6 305 382.4 306 382.3 307 382.2 308 382.1 309 382.2 310 382.3 311 382.5 312 382.8 312.4 383 313 383.3 313.9 384 314 384.1 314.7 385 315 385.4 315.3 386 315.6 387 315.8 388 315.9 389 315.9 390 315.8 391 315.7 392 315.5 393 315.2 394 315 394.9 315 395 314.6 396 314.3 397 314 397.6 313.8 398 313.4 399 313 399.8 312.9 400 312.3 401 312 401.5 311.7 402 311.1 403 311 403.1 310.4 404 310 404.5 309.6 405 309 405.8 308.8 406 308 407 308 407 307.1 408 307 408.1 306.2 409 306 409.2 305.3 410 305 410.3 304.3 411 304 411.3 303.3 412 303 412.3 302.3 413 302 413.3 301.2 414 301 414.2 300.2 415 300 415.2 299.1 416 299 416.1 298.1 417 298 417.1 297 418 297 418 296 419 296 419 295 419.9 294.9 420 294 420.9 293.9 421 293 421.8 292.8 422 292 422.8 291.8 423 291 423.8 290.9 424 290 424.9 289.9 425 289 425.9 289 426 288 427 288 427 287.2 428 287 428.2 286.3 429 286 429.4 285.5 430 285 430.6 284.7 431 284 431.9 283.9 432 283.1 433 283 433.2 282.4 434 282 434.5 281.6 435 281 435.8 280.9 436 280.1 437 280 437.1 279.3 438 279 438.5 278.6 439 278 439.8 277.8 440 277 441 277 441.1 276.3 442 276 442.4 275.5 443 275 443.6 274.7 444 274 444.9 273.9 445 273.1 446 273 446.2 272.3 447 272 447.4 271.5 448 271 448.6 270.7 449 270 449.8 269.9 450 269 451 269 451 268.1 452 268 452.1 267.2 453 267 453.2 266.3 454 266 454.3 265.3 455 265 455.3 264.3 456 264 456.3 263.3 457 263 457.3 262.2 458 262 458.2 261.1 459 261 459.1 260 460 260 460 259 460.9 258.9 461 258 461.9 257.8 462 257 462.8 256.7 463 256 463.7 255.7 464 255 464.6 254.6 465 254 465.6 253.5 466 253 466.5 252.5 467 252 467.5 251.5 468 251 468.5 250.5 469 250 469.5 249.6 470 249 470.6 248.6 471 248 471.7 247.7 472 247 472.7 246.7 473 246 473.8 245.8 474 245 474.9 244.9 475 244 475.9 243.9 476 243 477 243 477 242 478 242 478 241 479 241 479 240 480 240 480 239 481 239 481 238 482 238 482 237 483 236.9 483 236 483.9 235.9 484 235 484.8 234.8 485 234 485.7 233.6 486 233 486.5 232.5 487 232 487.4 231.3 488 231 488.2 230 489 230 489 229 489.8 228.8 490 228 490.6 227.5 491 227 491.4 226.2 492 226 492.2 225 492.9 224.9 493 224 493.7 223.6 494 223 494.5 222.3 495 222 495.2 221 496 221 496 220 496.8 219.8 497 219 497.6 218.5 498 218 498.4 217.3 499 217 499.3 216.1 500 216 500.1 215 501 215 501 214 501.8 213.8 502 213 502.7 212.6 503 212 503.5 211.4 504 211 504.3 210.1 505 210 505.1 209 505.8 208.7 506 208 506.5 207.3 507 207 507.2 206 507.8 205.7 508 205 508.4 204 509 204 509 203 509.6 202.2 510 202 510.1 201 510.6 200.1 511 200 511.1 199 511.5 198 511.9 197.8 512 197 512.4 196 512.8 195.4 513 195 513.1 194 513.5 193 513.9 192.6 514 192 514.2 191 514.6 190 514.9 189.5 515 189 515.1 188 515.4 187 515.6 186 515.7 185 515.8 184 515.9 183 515.8 182 515.6 181 515.3 180.4 515 180 514.8 179 514.1 178.9 514 178 513.1 177.9 513 177.2 512 177 511.5 176.7 511 176.4 510 176.1 509 176 508.7 175.9 508 175.7 507 175.7 506 175.6 505 175.6 504 175.7 503 175.7 502 175.8 501 176 500 176 499.7 176.1 499 176.2 498 176.4 497 176.5 496 176.7 495 176.9 494 177 493.5 177.1 493 177.3 492 177.5 491 177.8 490 178 489.1 178 489 178.3 488 178.6 487 179 486 179 485.9 179.3 485 179.7 484 180 483.3 180.1 483 180.6 482 181 481.1 181 481 181.5 480 182 479.1 182.1 479 182.6 478 183 477.3 183.2 477 183.8 476 184 475.7 184.4 475 185 474.1 185 474 185.7 473 186 472.5 186.3 472 187 471 187 471 187.7 470 188 469.5 188.3 469 189 468 189 468 189.7 467 190 466.6 190.4 466 191 465.1 191.1 465 191.8 464 192 463.6 192.4 463 193 462.2 193.1 462 193.8 461 194 460.7 194.4 460 195 459.1 195.1 459 195.8 458 196 457.6 196.4 457 197 456.1 197.1 456 197.7 455 198 454.6 198.4 454 199 453.2 199.1 453 199.8 452 200 451.8 200.5 451 201 450.4 201.3 450 202 449 202 449 202.8 448 203 447.7 203.6 447 204 446.5 204.4 446 205 445.3 205.2 445 206 444.1 206.1 444 207 443 207 443 207.9 442 208 441.9 208.9 441 209 440.9 209.9 440 210 439.9 210.9 439 211 438.9 212 438 212 438 213 437.1 213.1 437 214 436.2 214.2 436 215 435.3 215.4 435 216 434.5 216.5 434 217 433.6 217.7 433 218 432.7 218.8 432 219 431.8 220 431 220 431 221 430.1 221.1 430 222 429.2 222.2 429 223 428.3 223.3 428 224 427.4 224.4 427 225 426.5 225.6 426 226 425.6 226.7 425 227 424.7 227.8 424 228 423.8 229 423 229 423 230 422.1 230.1 422 231 421.3 231.3 421 232 420.4 232.5 420 233 419.6 233.7 419 234 418.7 234.9 418 235 417.9 236 417.1 236.1 417 237 416.3 237.3 416 238 415.4 238.6 415 239 414.6 239.8 414 240 413.9 241 413.1 241.1 413 242 412.4 242.5 412 243 411.6 243.9 411 244 410.9 245 410.2 245.4 410 246 409.6 247 409 247 409 248 408.4 248.6 408 249 407.8 250 407.2 250.4 407 251 406.7 252 406.2 252.4 406 253 405.7 254 405.2 254.5 405 255 404.8 256 404.3 256.8 404 257 403.9 258 403.5 259 403.1 259.2 403 260 402.7 261 402.3 261.7 402 262 401.9 263 401.5 264 401.1 264.4 401 265 400.8 266 400.4 267 400.1 267.2 400 268 399.7 269 399.3 270 399 270 399 271 398.6 272 398.3 272.8 398 273 397.9 274 397.6 275 397.2 275.4 397 276 396.8 277 396.3 277.8 396 278 395.9 279 395.4 279.9 395 280 394.9 281 394.4 281.7 394 282 393.9 283 393.3 283.5 393 284 392.7 285 392 285.1 392 286 391.4 286.6 391 287 390.7 288 390.1 288.1 390 289 389.4 289.7 389 290 388.8 291 388.2 291.3 388 292 387.6 293 387 293 387 294 386.4 294.8 386 295 385.9 296 385.4 296.9 385 297 384.9 298 384.5 299 384.1 299.3 384 300 383.7 301 383.4 302 383.1 302.3 383 M297.9 391 298 391 299 390.7 300 390.5 301 390.3 302 390.3 303 390.3 304 390.5 305 390.9 305.2 391 306 391.6 306.4 392 307 393 307 393 307.3 394 307.4 395 307.4 396 307.2 397 307 398 307 398 306.7 399 306.2 400 306 400.5 305.8 401 305.2 402 305 402.3 304.6 403 304 403.9 303.9 404 303.2 405 303 405.3 302.4 406 302 406.5 301.6 407 301 407.7 300.8 408 300 408.9 299.9 409 299 410 299 410 298.1 411 298 411.1 297.2 412 297 412.2 296.2 413 296 413.3 295.3 414 295 414.3 294.4 415 294 415.4 293.4 416 293 416.5 292.5 417 292 417.5 291.6 418 291 418.6 290.6 419 290 419.7 289.7 420 289 420.8 288.8 421 288 421.9 287.9 422 287.1 423 287 423.1 286.2 424 286 424.2 285.4 425 285 425.5 284.6 426 284 426.7 283.8 427 283 428 283 428 282.3 429 282 429.4 281.5 430 281 430.7 280.8 431 280.1 432 280 432.1 279.4 433 279 433.5 278.7 434 278 434.9 277.9 435 277.2 436 277 436.3 276.5 437 276 437.7 275.8 438 275 439 275 439 274.3 440 274 440.4 273.5 441 273 441.7 272.8 442 272 443 272 443 271.2 444 271 444.3 270.4 445 270 445.6 269.7 446 269 446.8 268.9 447 268.1 448 268 448.1 267.2 449 267 449.3 266.4 450 266 450.5 265.5 451 265 451.6 264.7 452 264 452.7 263.7 453 263 453.8 262.8 454 262 454.8 261.8 455 261 455.8 260.8 456 260 456.8 259.8 457 259 457.7 258.7 458 258 458.7 257.7 459 257 459.6 256.6 460 256 460.5 255.5 461 255 461.5 254.4 462 254 462.4 253.4 463 253 463.4 252.3 464 252 464.3 251.3 465 251 465.3 250.3 466 250 466.3 249.4 467 249 467.4 248.4 468 248 468.4 247.5 469 247 469.5 246.5 470 246 470.6 245.6 471 245 471.6 244.7 472 244 472.7 243.7 473 243 473.8 242.8 474 242 474.9 241.9 475 241 475.9 240.9 476 240 476.9 239.9 477 239 478 239 478 238 478.9 237.9 479 237 479.9 236.9 480 236 480.9 235.9 481 235 481.8 234.8 482 234 482.7 233.7 483 233 483.6 232.5 484 232 484.4 231.3 485 231 485.3 230.1 486 230 486.1 229 486.9 228.9 487 228 487.7 227.6 488 227 488.5 226.3 489 226 489.2 225 490 225 490 224 490.7 223.6 491 223 491.4 222.2 492 222 492.2 221 492.9 220.9 493 220 493.7 219.5 494 219 494.4 218.2 495 218 495.2 217 495.9 216.9 496 216 496.7 215.7 497 215 497.5 214.4 498 214 498.3 213.2 499 213 499.1 212 499.9 211.9 500 211 500.7 210.6 501 210 501.5 209.3 502 209 502.2 208 502.9 207.9 503 207 503.6 206.4 504 206 504.3 205 504.9 204.7 505 204 505.4 203 505.9 202.9 506 202 506.4 201 506.9 200.7 507 200 507.3 199 507.6 198 508 197.9 508 197 508.3 196 508.5 195 508.8 194 509 193.7 509 193 509.1 192 509.2 191 509.3 190 509.3 189 509.2 188.1 509 188 509 187 508.7 186 508.2 185.8 508 185 507.4 184.6 507 184 506.2 183.9 506 183.4 505 183 504.1 183 504 182.7 503 182.5 502 182.3 501 182.2 500 182.1 499 182.1 498 182 497 182 496 182.1 495 182.1 494 182.2 493 182.3 492 182.5 491 182.7 490 182.9 489 183 488.5 183.1 488 183.4 487 183.7 486 184 485.1 184 485 184.4 484 184.8 483 185 482.6 185.3 482 185.8 481 186 480.5 186.3 480 186.8 479 187 478.7 187.4 478 188 477 188 477 188.6 476 189 475.3 189.2 475 189.9 474 190 473.8 190.5 473 191 472.2 191.2 472 191.8 471 192 470.7 192.5 470 193 469.2 193.1 469 193.8 468 194 467.6 194.4 467 195 466 195 466 195.6 465 196 464.4 196.2 464 196.8 463 197 462.7 197.4 462 198 461.1 198 461 198.6 460 199 459.4 199.2 459 199.8 458 200 457.7 200.4 457 201 456.1 201.1 456 201.7 455 202 454.6 202.4 454 203 453.1 203.1 453 203.8 452 204 451.7 204.5 451 205 450.3 205.2 450 206 449 206 449 206.8 448 207 447.8 207.7 447 208 446.6 208.6 446 209 445.5 209.5 445 210 444.5 210.5 444 211 443.5 211.5 443 212 442.5 212.5 442 213 441.5 213.6 441 214 440.6 214.7 440 215 439.7 215.8 439 216 438.9 217 438 217 438 218 437.1 218.1 437 219 436.3 219.3 436 220 435.4 220.5 435 221 434.5 221.6 434 222 433.7 222.7 433 223 432.8 223.9 432 224 431.9 225 431 225 431 226 430.1 226.1 430 227 429.2 227.2 429 228 428.3 228.3 428 229 427.4 229.4 427 230 426.5 230.5 426 231 425.6 231.7 425 232 424.7 232.8 424 233 423.9 234 423 234 423 235 422.2 235.2 422 236 421.3 236.4 421 237 420.5 237.6 420 238 419.7 238.8 419 239 418.9 240 418.1 240.1 418 241 417.3 241.4 417 242 416.6 242.8 416 243 415.8 244 415.1 244.2 415 245 414.4 245.7 414 246 413.8 247 413.1 247.2 413 248 412.5 248.9 412 249 411.9 250 411.4 250.7 411 251 410.8 252 410.3 252.6 410 253 409.8 254 409.3 254.7 409 255 408.9 256 408.4 256.9 408 257 407.9 258 407.5 259 407.1 259.2 407 260 406.7 261 406.3 261.7 406 262 405.9 263 405.5 264 405.1 264.3 405 265 404.7 266 404.4 267 404 267 404 268 403.7 269 403.3 270 403 270 403 271 402.7 272 402.4 273 402 273.1 402 274 401.7 275 401.4 276 401.1 276.2 401 277 400.7 278 400.4 279 400 279.1 400 280 399.7 281 399.3 281.7 399 282 398.9 283 398.4 283.9 398 284 398 285 397.5 285.9 397 286 396.9 287 396.4 287.7 396 288 395.8 289 395.3 289.5 395 290 394.7 291 394.2 291.3 394 292 393.6 293 393.1 293.1 393 294 392.6 295 392.1 295.2 392 296 391.7 297 391.3 297.9 391 M283.7 404 284 403.9 285 403.8 286 403.6 287 403.5 288 403.4 289 403.3 290 403.3 291 403.5 292 404 292 404 292.5 405 292.6 406 292.4 407 292.1 408 292 408.2 291.7 409 291.2 410 291 410.4 290.7 411 290.1 412 290 412.2 289.5 413 289 413.8 288.9 414 288.2 415 288 415.3 287.5 416 287 416.8 286.8 417 286.1 418 286 418.2 285.4 419 285 419.6 284.7 420 284 421 284 421 283.3 422 283 422.4 282.6 423 282 423.8 281.9 424 281.2 425 281 425.3 280.5 426 280 426.8 279.8 427 279.2 428 279 428.3 278.5 429 278 429.8 277.9 430 277.2 431 277 431.3 276.5 432 276 432.8 275.9 433 275.2 434 275 434.3 274.5 435 274 435.8 273.8 436 273.1 437 273 437.2 272.4 438 272 438.6 271.7 439 271 440 271 440 270.2 441 270 441.3 269.5 442 269 442.7 268.8 443 268 444 268 444 267.3 445 267 445.4 266.5 446 266 446.7 265.7 447 265 447.9 264.9 448 264.1 449 264 449.1 263.3 450 263 450.3 262.4 451 262 451.5 261.5 452 261 452.6 260.6 453 260 453.6 259.6 454 259 454.6 258.7 455 258 455.6 257.6 456 257 456.6 256.6 457 256 457.6 255.6 458 255 458.5 254.5 459 254 459.5 253.5 460 253 460.4 252.4 461 252 461.4 251.4 462 251 462.4 250.4 463 250 463.4 249.4 464 249 464.4 248.4 465 248 465.4 247.5 466 247 466.5 246.5 467 246 467.6 245.6 468 245 468.7 244.7 469 244 469.8 243.8 470 243 470.9 242.9 471 242 471.9 241.9 472 241 473 241 473 240.1 474 240 474.1 239.1 475 239 475.1 238.1 476 238 476.2 237.1 477 237 477.1 236.1 478 236 478.1 235.1 479 235 479.1 234 480 234 480 233 480.9 232.9 481 232 481.8 231.7 482 231 482.6 230.5 483 230 483.4 229.3 484 229 484.3 228 485 228 485 227 485.8 226.7 486 226 486.6 225.4 487 225 487.3 224 488 224 488 223 488.7 222.6 489 222 489.4 221.1 490 221 490.1 220 490.8 219.7 491 219 491.5 218.3 492 218 492.2 217 492.9 216.9 493 216 493.6 215.5 494 215 494.4 214.1 495 214 495.1 213 495.8 212.8 496 212 496.6 211.4 497 211 497.3 210.1 498 210 498.1 209 498.8 208.7 499 208 499.5 207.2 500 207 500.1 206 500.7 205.5 501 205 501.3 204 501.8 203.6 502 203 502.3 202 502.7 201.3 503 201 503.1 200 503.4 199 503.7 198 503.9 197.3 504 197 504 196 504.1 195 504.1 194 504 193.9 504 193 503.8 192 503.5 191 503 191 503 190 502.2 189.8 502 189 501.1 188.9 501 188.3 500 188 499.3 187.9 499 187.5 498 187.3 497 187.1 496 187 495.3 187 495 186.9 494 186.9 493 186.9 492 187 491 187 490.6 187.1 490 187.2 489 187.4 488 187.7 487 188 486 188 486 188.3 485 188.7 484 189 483.3 189.1 483 189.6 482 190 481.2 190.1 481 190.6 480 191 479.3 191.2 479 191.8 478 192 477.6 192.4 477 193 476 193 475.9 193.6 475 194 474.3 194.2 474 194.8 473 195 472.7 195.4 472 196 471 196 471 196.6 470 197 469.3 197.2 469 197.7 468 198 467.5 198.3 467 198.8 466 199 465.7 199.4 465 199.9 464 200 463.8 200.4 463 201 462 201 462 201.5 461 202 460.1 202.1 460 202.6 459 203 458.4 203.2 458 203.8 457 204 456.7 204.4 456 205 455.1 205 455 205.7 454 206 453.6 206.4 453 207 452.2 207.1 452 207.9 451 208 450.9 208.7 450 209 449.7 209.6 449 210 448.5 210.4 448 211 447.4 211.4 447 212 446.4 212.3 446 213 445.4 213.4 445 214 444.4 214.4 444 215 443.5 215.5 443 216 442.6 216.7 442 217 441.7 217.8 441 218 440.9 219 440 219 440 220 439.2 220.2 439 221 438.3 221.4 438 222 437.5 222.5 437 223 436.6 223.7 436 224 435.7 224.8 435 225 434.9 226 434 226 434 227 433.1 227.1 433 228 432.2 228.2 432 229 431.3 229.3 431 230 430.4 230.4 430 231 429.5 231.5 429 232 428.6 232.7 428 233 427.7 233.8 427 234 426.8 235 426 235 426 236 425.1 236.1 425 237 424.3 237.3 424 238 423.5 238.6 423 239 422.6 239.8 422 240 421.9 241 421.1 241.1 421 242 420.3 242.4 420 243 419.6 243.8 419 244 418.9 245 418.2 245.3 418 246 417.5 246.8 417 247 416.9 248 416.3 248.5 416 249 415.7 250 415.1 250.3 415 251 414.6 252 414.1 252.2 414 253 413.6 254 413.1 254.2 413 255 412.7 256 412.2 256.5 412 257 411.8 258 411.3 258.8 411 259 410.9 260 410.5 261 410.1 261.3 410 262 409.7 263 409.3 263.9 409 264 409 265 408.6 266 408.3 266.8 408 267 407.9 268 407.6 269 407.3 270 407 270 407 271 406.7 272 406.4 273 406.2 273.8 406 274 405.9 275 405.7 276 405.5 277 405.3 278 405.1 278.4 405 279 404.9 280 404.7 281 404.5 282 404.3 283 404.1 283.7 404 M272.9 411 273 411 274 410.9 275 410.9 276 410.9 276.5 411 277 411.1 278 411.3 279 411.7 279.5 412 280 412.4 280.4 413 280.8 414 280.9 415 280.8 416 280.5 417 280.2 418 280 418.6 279.8 419 279.4 420 279 420.9 279 421 278.5 422 278 423 278 423 277.5 424 277 424.9 277 425 276.4 426 276 426.8 275.9 427 275.3 428 275 428.6 274.8 429 274.2 430 274 430.3 273.6 431 273 432 273 432 272.4 433 272 433.6 271.8 434 271.1 435 271 435.2 270.5 436 270 436.7 269.8 437 269.1 438 269 438.2 268.5 439 268 439.7 267.8 440 267.1 441 267 441.1 266.4 442 266 442.6 265.7 443 265 444 265 444 264.2 445 264 445.3 263.5 446 263 446.7 262.7 447 262 447.9 262 448 261.1 449 261 449.2 260.3 450 260 450.4 259.4 451 259 451.5 258.5 452 258 452.6 257.6 453 257 453.6 256.6 454 256 454.6 255.7 455 255 455.6 254.6 456 254 456.6 253.6 457 253 457.6 252.6 458 252 458.6 251.6 459 251 459.5 250.5 460 250 460.5 249.5 461 249 461.5 248.6 462 248 462.6 247.6 463 247 463.6 246.6 464 246 464.7 245.7 465 245 465.8 244.8 466 244 466.9 243.9 467 243 468 243 468 242.1 469 242 469.1 241.2 470 241 470.2 240.3 471 240 471.3 239.4 472 239 472.4 238.4 473 238 473.5 237.5 474 237 474.5 236.5 475 236 475.5 235.5 476 235 476.5 234.4 477 234 477.4 233.4 478 233 478.3 232.3 479 232 479.2 231.1 480 231 480.1 230 480.9 229.9 481 229 481.7 228.7 482 228 482.5 227.4 483 227 483.3 226 484 226 484 225 484.8 224.6 485 224 485.4 223.2 486 223 486.1 222 486.8 221.7 487 221 487.4 220.1 488 220 488.1 219 488.7 218.6 489 218 489.4 217 490 217 490 216 490.6 215.5 491 215 491.3 214 491.9 213.9 492 213 492.6 212.4 493 212 493.3 211 493.9 210.9 494 210 494.6 209.3 495 209 495.2 208 495.9 207.7 496 207 496.4 206 497 206 497 205 497.5 204 498 204 498 203 498.4 202 498.7 201 499 201 499 200 499.2 199 499.3 198 499.3 197 499.2 196.4 499 196 498.9 195 498.4 194.4 498 194 497.7 193.4 497 193 496.5 192.7 496 192.2 495 192 494.4 191.9 494 191.7 493 191.5 492 191.5 491 191.5 490 191.6 489 191.8 488 192 487 192 487 192.3 486 192.6 485 193 484 193 483.9 193.4 483 193.8 482 194 481.7 194.3 481 194.8 480 195 479.7 195.4 479 195.9 478 196 477.9 196.5 477 197 476.1 197 476 197.6 475 198 474.2 198.1 474 198.7 473 199 472.3 199.2 472 199.7 471 200 470.4 200.2 470 200.7 469 201 468.3 201.2 468 201.6 467 202 466.2 202.1 466 202.6 465 203 464.1 203.1 464 203.5 463 204 462.1 204 462 204.5 461 205 460.1 205.1 460 205.6 459 206 458.3 206.2 458 206.8 457 207 456.6 207.4 456 208 455.1 208 455 208.7 454 209 453.6 209.5 453 210 452.3 210.3 452 211 451.1 211.1 451 211.9 450 212 449.9 212.9 449 213 448.9 213.9 448 214 447.9 214.9 447 215 446.9 216 446 216 446 217 445.1 217.1 445 218 444.2 218.2 444 219 443.4 219.4 443 220 442.5 220.6 442 221 441.7 221.9 441 222 440.9 223 440.1 223.1 440 224 439.2 224.3 439 225 438.4 225.4 438 226 437.5 226.6 437 227 436.6 227.7 436 228 435.8 228.9 435 229 434.9 230 434 230 434 231 433.1 231.1 433 232 432.2 232.2 432 233 431.3 233.3 431 234 430.4 234.5 430 235 429.6 235.6 429 236 428.7 236.8 428 237 427.9 238 427 238 427 239 426.2 239.3 426 240 425.4 240.5 425 241 424.6 241.8 424 242 423.9 243 423.1 243.2 423 244 422.4 244.6 422 245 421.7 246 421.1 246.1 421 247 420.5 247.7 420 248 419.8 249 419.3 249.5 419 250 418.7 251 418.2 251.4 418 252 417.7 253 417.2 253.5 417 254 416.8 255 416.3 255.8 416 256 415.9 257 415.5 258 415.1 258.3 415 259 414.7 260 414.4 261 414 261 414 262 413.7 263 413.3 264 413 264 413 265 412.7 266 412.4 267 412.1 267.5 412 268 411.9 269 411.6 270 411.4 271 411.3 272 411.1 272.9 411 M261.9 418 262 418 263 417.8 264 417.6 265 417.4 266 417.3 267 417.3 268 417.3 269 417.4 270 417.6 271 418 271 418 272 418.9 272.1 419 272.5 420 272.7 421 272.7 422 272.6 423 272.4 424 272.2 425 272 425.5 271.9 426 271.5 427 271.1 428 271 428.3 270.7 429 270.2 430 270 430.5 269.8 431 269.2 432 269 432.5 268.7 433 268.2 434 268 434.3 267.6 435 267 436 267 436 266.4 437 266 437.7 265.8 438 265.2 439 265 439.3 264.6 440 264 440.9 263.9 441 263.3 442 263 442.4 262.6 443 262 443.9 262 444 261.3 445 261 445.3 260.5 446 260 446.7 259.8 447 259 448 259 448 258.2 449 258 449.2 257.4 450 257 450.4 256.5 451 256 451.5 255.6 452 255 452.6 254.6 453 254 453.7 253.7 454 253 454.7 252.7 455 252 455.7 251.7 456 251 456.7 250.7 457 250 457.7 249.7 458 249 458.7 248.7 459 248 459.7 247.7 460 247 460.7 246.7 461 246 461.8 245.8 462 245 462.9 244.9 463 244 464 244 464 243.1 465 243 465.1 242.2 466 242 466.3 241.4 467 241 467.4 240.5 468 240 468.5 239.6 469 239 469.7 238.7 470 238 470.8 237.8 471 237 471.8 236.9 472 236 472.9 235.9 473 235 473.9 234.9 474 234 474.9 233.9 475 233 475.8 232.8 476 232 476.7 231.7 477 231 477.6 230.6 478 230 478.5 229.4 479 229 479.3 228.1 480 228 480.1 227 480.8 226.8 481 226 481.6 225.4 482 225 482.3 224 483 223.9 483 223 483.6 222.4 484 222 484.2 221 484.8 220.7 485 220 485.4 219 486 219 486 218 486.6 217.2 487 217 487.1 216 487.7 215.4 488 215 488.2 214 488.8 213.6 489 213 489.3 212 489.8 211.7 490 211 490.4 210 490.9 209.8 491 209 491.4 208 491.9 207.8 492 207 492.3 206 492.8 205.4 493 205 493.1 204 493.4 203 493.7 202 493.8 201 493.7 200 493.5 199 493.1 198.8 493 198 492.2 197.8 492 197.3 491 197 490.2 197 490 196.8 489 196.8 488 196.9 487 197 486.4 197.1 486 197.3 485 197.6 484 197.9 483 198 482.8 198.3 482 198.7 481 199 480.3 199.1 480 199.6 479 200 478 200 478 200.4 477 200.9 476 201 475.7 201.3 475 201.7 474 202 473.4 202.2 473 202.6 472 203 471 203 471 203.4 470 203.8 469 204 468.6 204.2 468 204.6 467 205 466.1 205 466 205.5 465 205.9 464 206 463.8 206.3 463 206.8 462 207 461.6 207.3 461 207.8 460 208 459.7 208.4 459 208.9 458 209 457.9 209.5 457 210 456.3 210.2 456 210.9 455 211 454.8 211.6 454 212 453.5 212.4 453 213 452.3 213.3 452 214 451.2 214.2 451 215 450.1 215.1 450 216 449.2 216.2 449 217 448.2 217.3 448 218 447.3 218.4 447 219 446.5 219.6 446 220 445.7 220.8 445 221 444.8 222 444 222.1 444 223 443.3 223.3 443 224 442.5 224.6 442 225 441.6 225.8 441 226 440.8 227 440 227 440 228 439.2 228.2 439 229 438.3 229.4 438 230 437.4 230.5 437 231 436.6 231.7 436 232 435.7 232.8 435 233 434.8 233.9 434 234 433.9 235 433.1 235.1 433 236 432.2 236.3 432 237 431.4 237.5 431 238 430.5 238.7 430 239 429.7 239.9 429 240 428.9 241 428.2 241.2 428 242 427.4 242.5 427 243 426.7 243.9 426 244 426 245 425.3 245.4 425 246 424.6 247 424 247 424 248 423.4 248.7 423 249 422.8 250 422.3 250.6 422 251 421.8 252 421.3 252.8 421 253 420.9 254 420.5 255 420.1 255.3 420 256 419.7 257 419.4 258 419.1 258.2 419 259 418.8 260 418.5 261 418.2 261.9 418 M256 424 256 424 257 423.8 258 423.6 259 423.5 260 423.4 261 423.5 262 423.6 263 423.8 263.5 424 264 424.3 264.8 425 265 425.3 265.4 426 265.6 427 265.7 428 265.6 429 265.4 430 265.2 431 265 431.5 264.9 432 264.5 433 264.1 434 264 434.2 263.7 435 263.2 436 263 436.5 262.7 437 262.2 438 262 438.5 261.7 439 261.2 440 261 440.3 260.6 441 260 442 260 442.1 259.4 443 259 443.7 258.8 444 258.1 445 258 445.2 257.4 446 257 446.6 256.7 447 256 447.9 255.9 448 255.1 449 255 449.2 254.3 450 254 450.3 253.4 451 253 451.4 252.5 452 252 452.5 251.5 453 251 453.6 250.6 454 250 454.6 249.6 455 249 455.6 248.6 456 248 456.6 247.7 457 247 457.7 246.7 458 246 458.7 245.8 459 245 459.8 244.8 460 244 460.9 244 461 243.1 462 243 462.1 242.2 463 242 463.2 241.4 464 241 464.4 240.5 465 240 465.6 239.7 466 239 466.8 238.8 467 238 467.9 237.9 468 237.1 469 237 469.1 236.2 470 236 470.2 235.2 471 235 471.2 234.3 472 234 472.3 233.3 473 233 473.3 232.2 474 232 474.2 231.1 475 231 475.1 230 476 230 476 229 476.8 228.8 477 228 477.6 227.5 478 227 478.4 226.1 479 226 479.1 225 479.8 224.6 480 224 480.4 223.1 481 223 481 222 481.6 221.3 482 221 482.2 220 482.7 219.4 483 219 483.2 218 483.7 217.3 484 217 484.2 216 484.6 215 485 215 485 214 485.4 213 485.7 212.1 486 212 486 211 486.3 210 486.6 209 486.8 208 486.9 207 486.9 206 486.8 205 486.4 204.5 486 204 485.3 203.9 485 203.6 484 203.5 483 203.5 482 203.6 481 203.8 480 204 479 204 478.8 204.2 478 204.4 477 204.7 476 205 475 205 474.9 205.2 474 205.5 473 205.8 472 206 471.5 206.1 471 206.5 470 206.8 469 207 468.3 207.1 468 207.5 467 207.8 466 208 465.5 208.2 465 208.6 464 209 463.1 209 463 209.5 462 210 461 210 460.9 210.5 460 211 459.1 211 459 211.6 458 212 457.4 212.3 457 213 456 213 456 213.7 455 214 454.7 214.5 454 215 453.5 215.4 453 216 452.4 216.4 452 217 451.4 217.4 451 218 450.4 218.5 450 219 449.5 219.6 449 220 448.7 220.9 448 221 447.9 222 447.1 222.1 447 223 446.3 223.4 446 224 445.6 224.7 445 225 444.8 226 444 226 444 227 443.3 227.3 443 228 442.5 228.6 442 229 441.7 229.8 441 230 440.9 231 440.1 231.1 440 232 439.2 232.3 439 233 438.4 233.4 438 234 437.5 234.6 437 235 436.7 235.8 436 236 435.8 237 435 237 435 238 434.2 238.2 434 239 433.3 239.4 433 240 432.6 240.7 432 241 431.8 242 431 242.1 431 243 430.3 243.5 430 244 429.6 244.9 429 245 429 246 428.3 246.5 428 247 427.7 248 427.2 248.3 427 249 426.6 250 426.1 250.3 426 251 425.7 252 425.3 252.7 425 253 424.9 254 424.6 255 424.3 256 424 M252 430 253 429.8 254 429.7 255 429.7 256 429.9 256.4 430 257 430.2 258 431 258 431 258.5 432 258.8 433 258.8 434 258.8 435 258.6 436 258.3 437 258 438 258 438.1 257.7 439 257.3 440 257 440.6 256.8 441 256.3 442 256 442.7 255.8 443 255.2 444 255 444.4 254.6 445 254 445.9 254 446 253.2 447 253 447.3 252.5 448 252 448.6 251.7 449 251 449.8 250.8 450 250 450.9 250 451 249 452 249 452.1 248.1 453 248 453.1 247.2 454 247 454.2 246.3 455 246 455.3 245.3 456 245 456.4 244.4 457 244 457.5 243.6 458 243 458.7 242.7 459 242 459.8 241.9 460 241.1 461 241 461.1 240.2 462 240 462.3 239.4 463 239 463.5 238.6 464 238 464.8 237.8 465 237 466 237 466 236.2 467 236 467.2 235.3 468 235 468.3 234.4 469 234 469.4 233.5 470 233 470.5 232.5 471 232 471.5 231.5 472 231 472.4 230.4 473 230 473.3 229.2 474 229 474.2 228 475 228 475 227 475.7 226.6 476 226 476.5 225.2 477 225 477.1 224 477.8 223.6 478 223 478.3 222 478.9 221.7 479 221 479.4 220 479.8 219.5 480 219 480.2 218 480.6 217 480.9 216.4 481 216 481.1 215 481.3 214 481.4 213 481.4 212 481.2 211.4 481 211 480.8 210 480.1 209.9 480 209.3 479 209 478 209 478 208.8 477 208.8 476 208.8 475 208.9 474 209 473 209 472.8 209.1 472 209.3 471 209.5 470 209.7 469 210 468 210 468 210.3 467 210.6 466 210.9 465 211 464.9 211.3 464 211.7 463 212 462.4 212.2 462 212.7 461 213 460.4 213.2 460 213.8 459 214 458.7 214.4 458 215 457.2 215.1 457 215.9 456 216 455.9 216.8 455 217 454.7 217.7 454 218 453.7 218.7 453 219 452.7 219.8 452 220 451.8 220.9 451 221 450.9 222 450.2 222.2 450 223 449.4 223.5 449 224 448.7 224.9 448 225 447.9 226 447.2 226.3 447 227 446.5 227.7 446 228 445.8 229 445.1 229.1 445 230 444.4 230.5 444 231 443.6 231.8 443 232 442.8 233 442.1 233.1 442 234 441.3 234.3 441 235 440.5 235.6 440 236 439.7 236.8 439 237 438.9 238 438.1 238.1 438 239 437.3 239.4 437 240 436.5 240.7 436 241 435.8 242 435 242.1 435 243 434.4 243.5 434 244 433.7 245 433.1 245.1 433 246 432.5 246.9 432 247 431.9 248 431.5 249 431 249 431 250 430.6 251 430.3 252 430 252 430 M245.9 438 246 438 247 437.7 248 437.5 249 437.4 250 437.6 250.6 438 251 438.4 251.3 439 251.5 440 251.4 441 251.2 442 251 442.6 250.9 443 250.4 444 250 444.9 249.9 445 249.4 446 249 446.5 248.7 447 248 448 248 448 247.2 449 247 449.3 246.4 450 246 450.5 245.6 451 245 451.7 244.8 452 244 453 244 453 243.2 454 243 454.2 242.3 455 242 455.4 241.6 456 241 456.7 240.8 457 240.1 458 240 458.1 239.3 459 239 459.4 238.6 460 238 460.8 237.9 461 237.2 462 237 462.2 236.4 463 236 463.5 235.7 464 235 464.8 234.9 465 234.1 466 234 466.1 233.2 467 233 467.2 232.3 468 232 468.3 231.4 469 231 469.4 230.4 470 230 470.3 229.3 471 229 471.2 228.1 472 228 472.1 227 472.8 226.8 473 226 473.5 225.3 474 225 474.2 224 474.8 223.6 475 223 475.3 222 475.8 221.4 476 221 476.1 220 476.4 219 476.7 218 476.8 217 476.8 216 476.6 215 476.2 214.7 476 214 475.3 213.8 475 213.3 474 213 473 213 473 212.9 472 212.8 471 212.9 470 213 469 213 468.9 213.1 468 213.3 467 213.6 466 213.9 465 214 464.7 214.2 464 214.6 463 215 462.2 215.1 462 215.6 461 216 460.3 216.2 460 216.8 459 217 458.7 217.5 458 218 457.4 218.4 457 219 456.3 219.2 456 220 455.2 220.2 455 221 454.3 221.4 454 222 453.5 222.6 453 223 452.7 223.9 452 224 451.9 225 451.2 225.4 451 226 450.6 226.9 450 227 449.9 228 449.3 228.5 449 229 448.7 230 448.1 230.1 448 231 447.5 231.7 447 232 446.8 233 446.2 233.3 446 234 445.5 234.8 445 235 444.8 236 444.1 236.2 444 237 443.4 237.6 443 238 442.7 239 442 239 442 240 441.3 240.5 441 241 440.7 242 440 242 440 243 439.4 243.8 439 244 438.9 245 438.4 245.9 438 M231.6 452 232 451.9 233 451.6 234 451.4 235 451.3 236 451.4 237 452 237 452.1 237.2 453 237.1 454 237 454.3 236.8 455 236.5 456 236.1 457 236 457.2 235.6 458 235.1 459 235 459.2 234.6 460 234 461 234 461 233.4 462 233 462.6 232.7 463 232 464 232 464 231.2 465 231 465.3 230.4 466 230 466.4 229.5 467 229 467.4 228.4 468 228 468.4 227.2 469 227 469.2 226 469.9 225.8 470 225 470.5 224.1 471 224 471 223 471.4 222 471.7 221 471.9 220 471.8 219 471.5 218.3 471 218 470.7 217.6 470 217.3 469 217.1 468 217.2 467 217.3 466 217.5 465 217.8 464 218 463.4 218.2 463 218.6 462 219 461.4 219.2 461 219.9 460 220 459.8 220.7 459 221 458.6 221.6 458 222 457.6 222.6 457 223 456.7 223.8 456 224 455.9 225 455.2 225.3 455 226 454.5 226.9 454 227 454 228 453.5 229 453 229 453 230 452.6 231 452.2 231.6 452" fill="none" stroke="#4a4a4a" stroke-width="1" shape-rendering="crispEdges"/></g>
<line x1="92" y1="620" x2="677.2" y2="43.8" stroke="#000" stroke-width="3.4" stroke-dasharray="13 14"/>
<polygon points="92,554.2 114.1,539.2 134.1,525.2 152.2,512 168.9,499.7 184.4,488 198.7,476.9 212.2,466.4 224.9,456.4 236.8,446.8 248.2,437.7 258.9,428.9 269.2,420.2 279,411.9 288.4,403.9 297.4,396.2 306.1,388.7 314.4,381.4 322.5,374.4 330.3,367.6 337.8,361 345.1,354.6 352.1,348.3 359,342.3 365.6,336.3 372.1,330.5 378.4,324.9 384.5,319.4 390.5,314 396.3,308.7 402,303.6 407.6,298.6 413,293.6 418.3,288.8 423.5,284 428.6,279.4 433.6,274.8 438.5,270.4 443.2,266 447.9,261.7 452.5,257.4 457.1,253.3 461.5,249.2 465.9,245.1 470.1,241.2 474.3,237.3 478.5,233.4 482.6,229.7 486.6,225.9 490.5,222.3 494.4,218.6 498.2,215.1 502,211.6 505.7,208.1 509.3,204.7 512.9,201.3 516.5,198 520,194.7 523.4,191.5 526.9,188.3 530.2,185.1 533.5,182 536.8,178.9 540.1,175.9 543.3,172.9 546.4,169.9 549.5,167 552.6,164.1 555.7,161.2 558.7,158.3 561.6,155.5 564.6,152.8 567.5,150 570.4,147.3 573.2,144.6 576,141.9 578.8,139.3 581.6,136.7 584.3,134.1 587,131.5 589.7,129 592.3,126.5 594.9,124 597.5,121.5 600.1,119.1 602.6,116.7 605.1,114.3 607.6,111.9 610.1,109.6 612.5,107.2 615,104.9 617.4,102.6 619.8,100.4 622.1,98.1 624.5,95.9 626.8,93.7 629.1,91.5 631.4,89.3 633.6,87.2 635.9,85 638.1,82.9 640.3,80.8 642.5,78.7 644.6,76.6 646.8,74.6 648.9,72.5 651.1,70.5 653.2,68.5 655.2,66.5 657.3,64.5 659.4,62.5 661.4,60.6 663.4,58.6 665.4,56.7 667.4,54.8 669.4,52.9 671.4,51 673.3,49.1 675.3,47.3 677.2,45.4 677.2,56.4 675.3,58.3 673.3,60.1 671.4,61.9 669.4,63.8 667.4,65.7 665.4,67.5 663.4,69.4 661.4,71.4 659.4,73.3 657.3,75.2 655.2,77.2 653.2,79.1 651.1,81.1 648.9,83.1 646.8,85.1 644.6,87.2 642.5,89.2 640.3,91.3 638.1,93.3 635.9,95.4 633.6,97.5 631.4,99.7 629.1,101.8 626.8,104 624.5,106.1 622.1,108.3 619.8,110.6 617.4,112.8 615,115 612.5,117.3 610.1,119.6 607.6,121.9 605.1,124.3 602.6,126.6 600.1,129 597.5,131.4 594.9,133.8 592.3,136.3 589.7,138.7 587,141.2 584.3,143.7 581.6,146.3 578.8,148.9 576,151.4 573.2,154.1 570.4,156.7 567.5,159.4 564.6,162.1 561.6,164.8 558.7,167.6 555.7,170.4 552.6,173.2 549.5,176.1 546.4,179 543.3,181.9 540.1,184.8 536.8,187.8 533.5,190.9 530.2,193.9 526.9,197 523.4,200.2 520,203.4 516.5,206.6 512.9,209.9 509.3,213.2 505.7,216.5 502,219.9 498.2,223.4 494.4,226.9 490.5,230.5 486.6,234.1 482.6,237.7 478.5,241.4 474.3,245.2 470.1,249 465.9,252.9 461.5,256.9 457.1,260.9 452.5,265 447.9,269.2 443.2,273.4 438.5,277.7 433.6,282.1 428.6,286.6 423.5,291.1 418.3,295.8 413,300.5 407.6,305.4 402,310.3 396.3,315.4 390.5,320.5 384.5,325.8 378.4,331.2 372.1,336.7 365.6,342.4 359,348.2 352.1,354.2 345.1,360.3 337.8,366.6 330.3,373 322.5,379.7 314.4,386.5 306.1,393.6 297.4,400.9 288.4,408.5 279,416.3 269.2,424.4 258.9,432.9 248.2,441.8 236.8,451.2 224.9,460.9 212.2,471.1 198.7,481.9 184.4,493.2 168.9,505.1 152.2,517.8 134.1,531.3 114.1,545.7 92,561.2" fill="#0000cd" fill-opacity="0.22" stroke="#0000cd" stroke-opacity="0.35" stroke-width="1"/>
<polyline points="92,557.7 114.1,542.4 134.1,528.2 152.2,514.9 168.9,502.4 184.4,490.6 198.7,479.4 212.2,468.8 224.9,458.7 236.8,449 248.2,439.7 258.9,430.9 269.2,422.3 279,414.1 288.4,406.2 297.4,398.6 306.1,391.2 314.4,384 322.5,377.1 330.3,370.3 337.8,363.8 345.1,357.4 352.1,351.2 359,345.2 365.6,339.4 372.1,333.6 378.4,328 384.5,322.6 390.5,317.3 396.3,312 402,306.9 407.6,302 413,297.1 418.3,292.3 423.5,287.6 428.6,283 433.6,278.5 438.5,274 443.2,269.7 447.9,265.4 452.5,261.2 457.1,257.1 461.5,253 465.9,249 470.1,245.1 474.3,241.2 478.5,237.4 482.6,233.7 486.6,230 490.5,226.4 494.4,222.8 498.2,219.2 502,215.8 505.7,212.3 509.3,208.9 512.9,205.6 516.5,202.3 520,199 523.4,195.8 526.9,192.7 530.2,189.5 533.5,186.4 536.8,183.4 540.1,180.4 543.3,177.4 546.4,174.4 549.5,171.5 552.6,168.6 555.7,165.8 558.7,163 561.6,160.2 564.6,157.4 567.5,154.7 570.4,152 573.2,149.3 576,146.7 578.8,144.1 581.6,141.5 584.3,138.9 587,136.4 589.7,133.9 592.3,131.4 594.9,128.9 597.5,126.5 600.1,124.1 602.6,121.7 605.1,119.3 607.6,116.9 610.1,114.6 612.5,112.3 615,110 617.4,107.7 619.8,105.5 622.1,103.2 624.5,101 626.8,98.8 629.1,96.6 631.4,94.5 633.6,92.3 635.9,90.2 638.1,88.1 640.3,86 642.5,83.9 644.6,81.9 646.8,79.8 648.9,77.8 651.1,75.8 653.2,73.8 655.2,71.8 657.3,69.9 659.4,67.9 661.4,66 663.4,64 665.4,62.1 667.4,60.2 669.4,58.3 671.4,56.5 673.3,54.6 675.3,52.8 677.2,50.9" fill="none" stroke="#0000cd" stroke-width="3.8"/>
<rect x="93" y="49" width="375" height="35.4" fill="#fff"/>
<rect x="155" y="87" width="241" height="36" fill="#fff"/>
<text x="118.00" y="79.10" font-size="25.2" font-family="Liberation Sans, Arial, sans-serif" fill="#000" textLength="343.09" lengthAdjust="spacingAndGlyphs">Weighted Deming Regression</text>
<line x1="116.3" y1="110.8" x2="152.6" y2="110.8" stroke="#0000cd" stroke-width="3.4"/>
<text x="163.80" y="117.00" font-size="25.3" font-family="Liberation Sans, Arial, sans-serif" fill="#000" textLength="225.03" lengthAdjust="spacingAndGlyphs">y = 0.942 x + 0.400</text>
<line x1="116" y1="155" x2="128.5" y2="155" stroke="#000" stroke-width="3"/>
<line x1="141.4" y1="155" x2="152.8" y2="155" stroke="#000" stroke-width="3"/>
<text x="162.80" y="164.00" font-size="25.8" font-family="Liberation Sans, Arial, sans-serif" fill="#000" textLength="81.56" lengthAdjust="spacingAndGlyphs">identity</text>
<text x="115.57" y="214.00" font-size="34.5" font-family="Liberation Sans, Arial, sans-serif" fill="#000" textLength="19.33" lengthAdjust="spacingAndGlyphs">n</text>
<text x="142.88" y="214.00" font-size="25.3" font-family="Liberation Sans, Arial, sans-serif" fill="#000" textLength="81.23" lengthAdjust="spacingAndGlyphs">= 2308</text>
<line x1="91.6" y1="44" x2="91.6" y2="620.5" stroke="#000" stroke-width="1.8"/>
<line x1="91.6" y1="620" x2="677.5" y2="620" stroke="#000" stroke-width="1.8"/>
<line x1="85" y1="620" x2="92" y2="620" stroke="#000" stroke-width="1.8"/>
<text x="81.3" y="630" font-size="25" font-family="Liberation Sans, Arial, sans-serif" text-anchor="end" fill="#000" >0</text>
<line x1="92" y1="620" x2="92" y2="624" stroke="#000" stroke-width="1.8"/>
<text x="92" y="653.7" font-size="25" font-family="Liberation Sans, Arial, sans-serif" text-anchor="middle" fill="#000" >0</text>
<line x1="85" y1="410.3" x2="92" y2="410.3" stroke="#000" stroke-width="1.8"/>
<text x="81.3" y="420.3" font-size="25" font-family="Liberation Sans, Arial, sans-serif" text-anchor="end" fill="#000" >2</text>
<line x1="305" y1="620" x2="305" y2="624" stroke="#000" stroke-width="1.8"/>
<text x="305" y="653.7" font-size="25" font-family="Liberation Sans, Arial, sans-serif" text-anchor="middle" fill="#000" >2</text>
<line x1="85" y1="305.3" x2="92" y2="305.3" stroke="#000" stroke-width="1.8"/>
<text x="81.3" y="315.3" font-size="25" font-family="Liberation Sans, Arial, sans-serif" text-anchor="end" fill="#000" >4</text>
<line x1="411.6" y1="620" x2="411.6" y2="624" stroke="#000" stroke-width="1.8"/>
<text x="411.6" y="653.7" font-size="25" font-family="Liberation Sans, Arial, sans-serif" text-anchor="middle" fill="#000" >4</text>
<line x1="85" y1="233.1" x2="92" y2="233.1" stroke="#000" stroke-width="1.8"/>
<text x="81.3" y="243.1" font-size="25" font-family="Liberation Sans, Arial, sans-serif" text-anchor="end" fill="#000" >6</text>
<line x1="485" y1="620" x2="485" y2="624" stroke="#000" stroke-width="1.8"/>
<text x="485" y="653.7" font-size="25" font-family="Liberation Sans, Arial, sans-serif" text-anchor="middle" fill="#000" >6</text>
<line x1="85" y1="177.4" x2="92" y2="177.4" stroke="#000" stroke-width="1.8"/>
<text x="81.3" y="187.4" font-size="25" font-family="Liberation Sans, Arial, sans-serif" text-anchor="end" fill="#000" >8</text>
<line x1="541.6" y1="620" x2="541.6" y2="624" stroke="#000" stroke-width="1.8"/>
<text x="541.6" y="653.7" font-size="25" font-family="Liberation Sans, Arial, sans-serif" text-anchor="middle" fill="#000" >8</text>
<line x1="85" y1="131.8" x2="92" y2="131.8" stroke="#000" stroke-width="1.8"/>
<text x="81.3" y="141.8" font-size="25" font-family="Liberation Sans, Arial, sans-serif" text-anchor="end" fill="#000" >10</text>
<line x1="587.9" y1="620" x2="587.9" y2="624" stroke="#000" stroke-width="1.8"/>
<text x="587.9" y="653.7" font-size="25" font-family="Liberation Sans, Arial, sans-serif" text-anchor="middle" fill="#000" >10</text>
<line x1="85" y1="43.8" x2="92" y2="43.8" stroke="#000" stroke-width="1.8"/>
<text x="81.3" y="55.6" font-size="25" font-family="Liberation Sans, Arial, sans-serif" text-anchor="end" fill="#000" >15</text>
<line x1="677.2" y1="620" x2="677.2" y2="624" stroke="#000" stroke-width="1.8"/>
<text x="677.2" y="653.7" font-size="25" font-family="Liberation Sans, Arial, sans-serif" text-anchor="middle" fill="#000" >15</text>
<text x="112.95" y="708.70" font-size="36.9" font-family="Liberation Sans, Arial, sans-serif" fill="#000" textLength="541.65" lengthAdjust="spacingAndGlyphs">NaF/KOx plasma Lactates mmol/L</text>
<text transform="translate(31.20,557.36) rotate(-90)" font-size="36.8" font-family="Liberation Sans, Arial, sans-serif" fill="#000" textLength="460.35" lengthAdjust="spacingAndGlyphs">Venous BG Lactates mmol/L</text>
<text x="4.91" y="29.00" font-size="40.2" font-family="Liberation Serif, Times New Roman, serif" font-weight="bold" fill="#000" textLength="37.62" lengthAdjust="spacingAndGlyphs">A.</text>
</g>
<g id="plotB">
<line x1="1144" y1="44" x2="1144" y2="620" stroke="#c8c8c8" stroke-width="1.6"/>
<line x1="1281.6" y1="44" x2="1281.6" y2="620" stroke="#c8c8c8" stroke-width="1.6"/>
<line x1="1432.8" y1="44" x2="1432.8" y2="620" stroke="#c8c8c8" stroke-width="1.6"/>
<line x1="1520.5" y1="44" x2="1520.5" y2="620" stroke="#c8c8c8" stroke-width="1.6"/>
<line x1="1580.5" y1="44" x2="1580.5" y2="620" stroke="#c8c8c8" stroke-width="1.6"/>
<line x1="1625.2" y1="44" x2="1625.2" y2="620" stroke="#c8c8c8" stroke-width="1.6"/>
<line x1="1701.9" y1="44" x2="1701.9" y2="620" stroke="#c8c8c8" stroke-width="1.6"/>
<line x1="869" y1="43.9" x2="1702" y2="43.9" stroke="#c8c8c8" stroke-width="1.6"/>
<line x1="869" y1="76.8" x2="1702" y2="76.8" stroke="#c8c8c8" stroke-width="1.6"/>
<line x1="869" y1="120.5" x2="1702" y2="120.5" stroke="#c8c8c8" stroke-width="1.6"/>
<line x1="869" y1="189.5" x2="1702" y2="189.5" stroke="#c8c8c8" stroke-width="1.6"/>
<line x1="869" y1="473.4" x2="1702" y2="473.4" stroke="#c8c8c8" stroke-width="1.6"/>
<line x1="869" y1="542.7" x2="1702" y2="542.7" stroke="#c8c8c8" stroke-width="1.6"/>
<line x1="869" y1="587" x2="1702" y2="587" stroke="#c8c8c8" stroke-width="1.6"/>
<clipPath id="cB"><rect x="867" y="44" width="835" height="576"/></clipPath>
<g clip-path="url(#cB)"><path d="M1018.5 355.8l3.2 3.2 -3.2 3.2 -3.2 -3.2zM1020 353.8l3.2 3.2 -3.2 3.2 -3.2 -3.2zM1022.5 349.8l3.2 3.2 -3.2 3.2 -3.2 -3.2zM1025 345.8l3.2 3.2 -3.2 3.2 -3.2 -3.2zM1025 382.3l3.2 3.2 -3.2 3.2 -3.2 -3.2zM1026.5 343.8l3.2 3.2 -3.2 3.2 -3.2 -3.2zM1028 341.8l3.2 3.2 -3.2 3.2 -3.2 -3.2zM1029.5 339.8l3.2 3.2 -3.2 3.2 -3.2 -3.2zM1029.5 377.3l3.2 3.2 -3.2 3.2 -3.2 -3.2zM1030.5 337.8l3.2 3.2 -3.2 3.2 -3.2 -3.2zM1032 335.3l3.2 3.2 -3.2 3.2 -3.2 -3.2zM1032 373.8l3.2 3.2 -3.2 3.2 -3.2 -3.2zM1033 333.3l3.2 3.2 -3.2 3.2 -3.2 -3.2zM1033 372.3l3.2 3.2 -3.2 3.2 -3.2 -3.2zM1034.5 330.8l3.2 3.2 -3.2 3.2 -3.2 -3.2zM1037 366.8l3.2 3.2 -3.2 3.2 -3.2 -3.2zM1040 322.3l3.2 3.2 -3.2 3.2 -3.2 -3.2zM1040 363.3l3.2 3.2 -3.2 3.2 -3.2 -3.2zM1041 319.8l3.2 3.2 -3.2 3.2 -3.2 -3.2zM1041 361.3l3.2 3.2 -3.2 3.2 -3.2 -3.2zM1041 394.8l3.2 3.2 -3.2 3.2 -3.2 -3.2zM1042.5 359.8l3.2 3.2 -3.2 3.2 -3.2 -3.2zM1042.5 393.3l3.2 3.2 -3.2 3.2 -3.2 -3.2zM1043.5 315.8l3.2 3.2 -3.2 3.2 -3.2 -3.2zM1043.5 357.8l3.2 3.2 -3.2 3.2 -3.2 -3.2zM1043.5 391.8l3.2 3.2 -3.2 3.2 -3.2 -3.2zM1045 355.8l3.2 3.2 -3.2 3.2 -3.2 -3.2zM1046 388.8l3.2 3.2 -3.2 3.2 -3.2 -3.2zM1047.5 351.8l3.2 3.2 -3.2 3.2 -3.2 -3.2zM1047.5 387.3l3.2 3.2 -3.2 3.2 -3.2 -3.2zM1048.5 307.8l3.2 3.2 -3.2 3.2 -3.2 -3.2zM1048.5 349.8l3.2 3.2 -3.2 3.2 -3.2 -3.2zM1048.5 385.8l3.2 3.2 -3.2 3.2 -3.2 -3.2zM1050 347.8l3.2 3.2 -3.2 3.2 -3.2 -3.2zM1051 345.8l3.2 3.2 -3.2 3.2 -3.2 -3.2zM1051 382.3l3.2 3.2 -3.2 3.2 -3.2 -3.2zM1052.5 343.8l3.2 3.2 -3.2 3.2 -3.2 -3.2zM1052.5 380.8l3.2 3.2 -3.2 3.2 -3.2 -3.2zM1053.5 341.8l3.2 3.2 -3.2 3.2 -3.2 -3.2zM1053.5 379.3l3.2 3.2 -3.2 3.2 -3.2 -3.2zM1053.5 409.3l3.2 3.2 -3.2 3.2 -3.2 -3.2zM1055 339.8l3.2 3.2 -3.2 3.2 -3.2 -3.2zM1055 377.3l3.2 3.2 -3.2 3.2 -3.2 -3.2zM1055 407.8l3.2 3.2 -3.2 3.2 -3.2 -3.2zM1056 337.8l3.2 3.2 -3.2 3.2 -3.2 -3.2zM1056 375.8l3.2 3.2 -3.2 3.2 -3.2 -3.2zM1056 406.3l3.2 3.2 -3.2 3.2 -3.2 -3.2zM1057.5 335.3l3.2 3.2 -3.2 3.2 -3.2 -3.2zM1057.5 373.8l3.2 3.2 -3.2 3.2 -3.2 -3.2zM1058.5 333.3l3.2 3.2 -3.2 3.2 -3.2 -3.2zM1058.5 372.3l3.2 3.2 -3.2 3.2 -3.2 -3.2zM1058.5 403.8l3.2 3.2 -3.2 3.2 -3.2 -3.2zM1059.5 330.8l3.2 3.2 -3.2 3.2 -3.2 -3.2zM1059.5 370.3l3.2 3.2 -3.2 3.2 -3.2 -3.2zM1059.5 402.3l3.2 3.2 -3.2 3.2 -3.2 -3.2zM1061 288.8l3.2 3.2 -3.2 3.2 -3.2 -3.2zM1061 328.8l3.2 3.2 -3.2 3.2 -3.2 -3.2zM1061 368.8l3.2 3.2 -3.2 3.2 -3.2 -3.2zM1062 326.8l3.2 3.2 -3.2 3.2 -3.2 -3.2zM1062 366.8l3.2 3.2 -3.2 3.2 -3.2 -3.2zM1063.5 324.3l3.2 3.2 -3.2 3.2 -3.2 -3.2zM1063.5 365.3l3.2 3.2 -3.2 3.2 -3.2 -3.2zM1063.5 397.8l3.2 3.2 -3.2 3.2 -3.2 -3.2zM1064.5 363.3l3.2 3.2 -3.2 3.2 -3.2 -3.2zM1064.5 396.3l3.2 3.2 -3.2 3.2 -3.2 -3.2zM1065.5 361.3l3.2 3.2 -3.2 3.2 -3.2 -3.2zM1065.5 394.8l3.2 3.2 -3.2 3.2 -3.2 -3.2zM1067 317.8l3.2 3.2 -3.2 3.2 -3.2 -3.2zM1067 359.8l3.2 3.2 -3.2 3.2 -3.2 -3.2zM1068 315.8l3.2 3.2 -3.2 3.2 -3.2 -3.2zM1068 357.8l3.2 3.2 -3.2 3.2 -3.2 -3.2zM1068 391.8l3.2 3.2 -3.2 3.2 -3.2 -3.2zM1069 313.8l3.2 3.2 -3.2 3.2 -3.2 -3.2zM1069 355.8l3.2 3.2 -3.2 3.2 -3.2 -3.2zM1069 418.8l3.2 3.2 -3.2 3.2 -3.2 -3.2zM1070.5 311.8l3.2 3.2 -3.2 3.2 -3.2 -3.2zM1070.5 353.8l3.2 3.2 -3.2 3.2 -3.2 -3.2zM1071.5 273.8l3.2 3.2 -3.2 3.2 -3.2 -3.2zM1071.5 309.8l3.2 3.2 -3.2 3.2 -3.2 -3.2zM1071.5 351.8l3.2 3.2 -3.2 3.2 -3.2 -3.2zM1071.5 387.3l3.2 3.2 -3.2 3.2 -3.2 -3.2zM1072.5 349.8l3.2 3.2 -3.2 3.2 -3.2 -3.2zM1072.5 385.8l3.2 3.2 -3.2 3.2 -3.2 -3.2zM1072.5 414.8l3.2 3.2 -3.2 3.2 -3.2 -3.2zM1074 305.8l3.2 3.2 -3.2 3.2 -3.2 -3.2zM1074 347.8l3.2 3.2 -3.2 3.2 -3.2 -3.2zM1074 383.8l3.2 3.2 -3.2 3.2 -3.2 -3.2zM1075 345.8l3.2 3.2 -3.2 3.2 -3.2 -3.2zM1075 382.3l3.2 3.2 -3.2 3.2 -3.2 -3.2zM1075 412.3l3.2 3.2 -3.2 3.2 -3.2 -3.2zM1076 343.8l3.2 3.2 -3.2 3.2 -3.2 -3.2zM1076 380.8l3.2 3.2 -3.2 3.2 -3.2 -3.2zM1077.5 341.8l3.2 3.2 -3.2 3.2 -3.2 -3.2zM1077.5 379.3l3.2 3.2 -3.2 3.2 -3.2 -3.2zM1077.5 409.3l3.2 3.2 -3.2 3.2 -3.2 -3.2zM1078.5 339.8l3.2 3.2 -3.2 3.2 -3.2 -3.2zM1078.5 377.3l3.2 3.2 -3.2 3.2 -3.2 -3.2zM1078.5 407.8l3.2 3.2 -3.2 3.2 -3.2 -3.2zM1079.5 337.8l3.2 3.2 -3.2 3.2 -3.2 -3.2zM1079.5 375.8l3.2 3.2 -3.2 3.2 -3.2 -3.2zM1079.5 432.3l3.2 3.2 -3.2 3.2 -3.2 -3.2zM1080.5 335.3l3.2 3.2 -3.2 3.2 -3.2 -3.2zM1080.5 373.8l3.2 3.2 -3.2 3.2 -3.2 -3.2zM1082 372.3l3.2 3.2 -3.2 3.2 -3.2 -3.2zM1082 403.8l3.2 3.2 -3.2 3.2 -3.2 -3.2zM1082 429.8l3.2 3.2 -3.2 3.2 -3.2 -3.2zM1083 330.8l3.2 3.2 -3.2 3.2 -3.2 -3.2zM1083 370.3l3.2 3.2 -3.2 3.2 -3.2 -3.2zM1083 402.3l3.2 3.2 -3.2 3.2 -3.2 -3.2zM1084 328.8l3.2 3.2 -3.2 3.2 -3.2 -3.2zM1084 368.8l3.2 3.2 -3.2 3.2 -3.2 -3.2zM1084 400.8l3.2 3.2 -3.2 3.2 -3.2 -3.2zM1085 366.8l3.2 3.2 -3.2 3.2 -3.2 -3.2zM1086.5 324.3l3.2 3.2 -3.2 3.2 -3.2 -3.2zM1086.5 365.3l3.2 3.2 -3.2 3.2 -3.2 -3.2zM1086.5 397.8l3.2 3.2 -3.2 3.2 -3.2 -3.2zM1086.5 424.8l3.2 3.2 -3.2 3.2 -3.2 -3.2zM1087.5 363.3l3.2 3.2 -3.2 3.2 -3.2 -3.2zM1087.5 396.3l3.2 3.2 -3.2 3.2 -3.2 -3.2zM1087.5 423.8l3.2 3.2 -3.2 3.2 -3.2 -3.2zM1088.5 319.8l3.2 3.2 -3.2 3.2 -3.2 -3.2zM1088.5 361.3l3.2 3.2 -3.2 3.2 -3.2 -3.2zM1088.5 394.8l3.2 3.2 -3.2 3.2 -3.2 -3.2zM1089.5 359.8l3.2 3.2 -3.2 3.2 -3.2 -3.2zM1089.5 393.3l3.2 3.2 -3.2 3.2 -3.2 -3.2zM1090.5 315.8l3.2 3.2 -3.2 3.2 -3.2 -3.2zM1090.5 357.8l3.2 3.2 -3.2 3.2 -3.2 -3.2zM1090.5 391.8l3.2 3.2 -3.2 3.2 -3.2 -3.2zM1090.5 419.8l3.2 3.2 -3.2 3.2 -3.2 -3.2zM1091.5 355.8l3.2 3.2 -3.2 3.2 -3.2 -3.2zM1091.5 390.3l3.2 3.2 -3.2 3.2 -3.2 -3.2zM1093 311.8l3.2 3.2 -3.2 3.2 -3.2 -3.2zM1093 353.8l3.2 3.2 -3.2 3.2 -3.2 -3.2zM1093 388.8l3.2 3.2 -3.2 3.2 -3.2 -3.2zM1093 417.3l3.2 3.2 -3.2 3.2 -3.2 -3.2zM1094 351.8l3.2 3.2 -3.2 3.2 -3.2 -3.2zM1094 387.3l3.2 3.2 -3.2 3.2 -3.2 -3.2zM1094 416.3l3.2 3.2 -3.2 3.2 -3.2 -3.2zM1095 349.8l3.2 3.2 -3.2 3.2 -3.2 -3.2zM1095 385.8l3.2 3.2 -3.2 3.2 -3.2 -3.2zM1096 347.8l3.2 3.2 -3.2 3.2 -3.2 -3.2zM1096 383.8l3.2 3.2 -3.2 3.2 -3.2 -3.2zM1096 413.3l3.2 3.2 -3.2 3.2 -3.2 -3.2zM1096 438.3l3.2 3.2 -3.2 3.2 -3.2 -3.2zM1097 345.8l3.2 3.2 -3.2 3.2 -3.2 -3.2zM1097 382.3l3.2 3.2 -3.2 3.2 -3.2 -3.2zM1097 412.3l3.2 3.2 -3.2 3.2 -3.2 -3.2zM1098 301.8l3.2 3.2 -3.2 3.2 -3.2 -3.2zM1098 343.8l3.2 3.2 -3.2 3.2 -3.2 -3.2zM1098 380.8l3.2 3.2 -3.2 3.2 -3.2 -3.2zM1098 410.8l3.2 3.2 -3.2 3.2 -3.2 -3.2zM1099 341.8l3.2 3.2 -3.2 3.2 -3.2 -3.2zM1099 409.3l3.2 3.2 -3.2 3.2 -3.2 -3.2zM1099 434.8l3.2 3.2 -3.2 3.2 -3.2 -3.2zM1100.5 339.8l3.2 3.2 -3.2 3.2 -3.2 -3.2zM1100.5 377.3l3.2 3.2 -3.2 3.2 -3.2 -3.2zM1100.5 433.3l3.2 3.2 -3.2 3.2 -3.2 -3.2zM1101.5 375.8l3.2 3.2 -3.2 3.2 -3.2 -3.2zM1101.5 406.3l3.2 3.2 -3.2 3.2 -3.2 -3.2zM1102.5 294.3l3.2 3.2 -3.2 3.2 -3.2 -3.2zM1102.5 335.3l3.2 3.2 -3.2 3.2 -3.2 -3.2zM1102.5 373.8l3.2 3.2 -3.2 3.2 -3.2 -3.2zM1103.5 333.3l3.2 3.2 -3.2 3.2 -3.2 -3.2zM1103.5 403.8l3.2 3.2 -3.2 3.2 -3.2 -3.2zM1104.5 330.8l3.2 3.2 -3.2 3.2 -3.2 -3.2zM1104.5 370.3l3.2 3.2 -3.2 3.2 -3.2 -3.2zM1104.5 402.3l3.2 3.2 -3.2 3.2 -3.2 -3.2zM1105.5 328.8l3.2 3.2 -3.2 3.2 -3.2 -3.2zM1105.5 368.8l3.2 3.2 -3.2 3.2 -3.2 -3.2zM1105.5 400.8l3.2 3.2 -3.2 3.2 -3.2 -3.2zM1106.5 326.8l3.2 3.2 -3.2 3.2 -3.2 -3.2zM1106.5 366.8l3.2 3.2 -3.2 3.2 -3.2 -3.2zM1106.5 399.3l3.2 3.2 -3.2 3.2 -3.2 -3.2zM1106.5 426.3l3.2 3.2 -3.2 3.2 -3.2 -3.2zM1106.5 448.8l3.2 3.2 -3.2 3.2 -3.2 -3.2zM1107.5 324.3l3.2 3.2 -3.2 3.2 -3.2 -3.2zM1107.5 365.3l3.2 3.2 -3.2 3.2 -3.2 -3.2zM1107.5 397.8l3.2 3.2 -3.2 3.2 -3.2 -3.2zM1107.5 447.8l3.2 3.2 -3.2 3.2 -3.2 -3.2zM1108.5 363.3l3.2 3.2 -3.2 3.2 -3.2 -3.2zM1108.5 396.3l3.2 3.2 -3.2 3.2 -3.2 -3.2zM1108.5 423.8l3.2 3.2 -3.2 3.2 -3.2 -3.2zM1108.5 446.8l3.2 3.2 -3.2 3.2 -3.2 -3.2zM1109.5 361.3l3.2 3.2 -3.2 3.2 -3.2 -3.2zM1109.5 422.3l3.2 3.2 -3.2 3.2 -3.2 -3.2zM1110.5 317.8l3.2 3.2 -3.2 3.2 -3.2 -3.2zM1110.5 359.8l3.2 3.2 -3.2 3.2 -3.2 -3.2zM1110.5 393.3l3.2 3.2 -3.2 3.2 -3.2 -3.2zM1110.5 421.3l3.2 3.2 -3.2 3.2 -3.2 -3.2zM1110.5 444.8l3.2 3.2 -3.2 3.2 -3.2 -3.2zM1111.5 357.8l3.2 3.2 -3.2 3.2 -3.2 -3.2zM1111.5 391.8l3.2 3.2 -3.2 3.2 -3.2 -3.2zM1112.5 313.8l3.2 3.2 -3.2 3.2 -3.2 -3.2zM1112.5 355.8l3.2 3.2 -3.2 3.2 -3.2 -3.2zM1112.5 390.3l3.2 3.2 -3.2 3.2 -3.2 -3.2zM1112.5 418.8l3.2 3.2 -3.2 3.2 -3.2 -3.2zM1113.5 353.8l3.2 3.2 -3.2 3.2 -3.2 -3.2zM1113.5 388.8l3.2 3.2 -3.2 3.2 -3.2 -3.2zM1113.5 462.3l3.2 3.2 -3.2 3.2 -3.2 -3.2zM1114.5 351.8l3.2 3.2 -3.2 3.2 -3.2 -3.2zM1114.5 387.3l3.2 3.2 -3.2 3.2 -3.2 -3.2zM1114.5 416.3l3.2 3.2 -3.2 3.2 -3.2 -3.2zM1115.5 349.8l3.2 3.2 -3.2 3.2 -3.2 -3.2zM1115.5 385.8l3.2 3.2 -3.2 3.2 -3.2 -3.2zM1116.5 347.8l3.2 3.2 -3.2 3.2 -3.2 -3.2zM1116.5 383.8l3.2 3.2 -3.2 3.2 -3.2 -3.2zM1116.5 413.3l3.2 3.2 -3.2 3.2 -3.2 -3.2zM1116.5 438.3l3.2 3.2 -3.2 3.2 -3.2 -3.2zM1117.5 345.8l3.2 3.2 -3.2 3.2 -3.2 -3.2zM1117.5 382.3l3.2 3.2 -3.2 3.2 -3.2 -3.2zM1118.5 301.8l3.2 3.2 -3.2 3.2 -3.2 -3.2zM1118.5 343.8l3.2 3.2 -3.2 3.2 -3.2 -3.2zM1118.5 380.8l3.2 3.2 -3.2 3.2 -3.2 -3.2zM1118.5 410.8l3.2 3.2 -3.2 3.2 -3.2 -3.2zM1119.5 341.8l3.2 3.2 -3.2 3.2 -3.2 -3.2zM1119.5 379.3l3.2 3.2 -3.2 3.2 -3.2 -3.2zM1119.5 409.3l3.2 3.2 -3.2 3.2 -3.2 -3.2zM1119.5 474.8l3.2 3.2 -3.2 3.2 -3.2 -3.2zM1120.5 339.8l3.2 3.2 -3.2 3.2 -3.2 -3.2zM1120.5 377.3l3.2 3.2 -3.2 3.2 -3.2 -3.2zM1120.5 407.8l3.2 3.2 -3.2 3.2 -3.2 -3.2zM1121.5 337.8l3.2 3.2 -3.2 3.2 -3.2 -3.2zM1121.5 375.8l3.2 3.2 -3.2 3.2 -3.2 -3.2zM1121.5 406.3l3.2 3.2 -3.2 3.2 -3.2 -3.2zM1121.5 432.3l3.2 3.2 -3.2 3.2 -3.2 -3.2zM1122.5 335.3l3.2 3.2 -3.2 3.2 -3.2 -3.2zM1122.5 373.8l3.2 3.2 -3.2 3.2 -3.2 -3.2zM1122.5 405.3l3.2 3.2 -3.2 3.2 -3.2 -3.2zM1122.5 431.3l3.2 3.2 -3.2 3.2 -3.2 -3.2zM1123.5 333.3l3.2 3.2 -3.2 3.2 -3.2 -3.2zM1123.5 372.3l3.2 3.2 -3.2 3.2 -3.2 -3.2zM1123.5 403.8l3.2 3.2 -3.2 3.2 -3.2 -3.2zM1123.5 429.8l3.2 3.2 -3.2 3.2 -3.2 -3.2zM1124.5 330.8l3.2 3.2 -3.2 3.2 -3.2 -3.2zM1124.5 370.3l3.2 3.2 -3.2 3.2 -3.2 -3.2zM1124.5 402.3l3.2 3.2 -3.2 3.2 -3.2 -3.2zM1124.5 428.8l3.2 3.2 -3.2 3.2 -3.2 -3.2zM1125.5 328.8l3.2 3.2 -3.2 3.2 -3.2 -3.2zM1125.5 368.8l3.2 3.2 -3.2 3.2 -3.2 -3.2zM1125.5 400.8l3.2 3.2 -3.2 3.2 -3.2 -3.2zM1125.5 427.3l3.2 3.2 -3.2 3.2 -3.2 -3.2zM1125.5 450.3l3.2 3.2 -3.2 3.2 -3.2 -3.2zM1126.5 326.8l3.2 3.2 -3.2 3.2 -3.2 -3.2zM1126.5 366.8l3.2 3.2 -3.2 3.2 -3.2 -3.2zM1126.5 399.3l3.2 3.2 -3.2 3.2 -3.2 -3.2zM1126.5 426.3l3.2 3.2 -3.2 3.2 -3.2 -3.2zM1127.5 324.3l3.2 3.2 -3.2 3.2 -3.2 -3.2zM1127.5 365.3l3.2 3.2 -3.2 3.2 -3.2 -3.2zM1127.5 397.8l3.2 3.2 -3.2 3.2 -3.2 -3.2zM1128.5 322.3l3.2 3.2 -3.2 3.2 -3.2 -3.2zM1128.5 363.3l3.2 3.2 -3.2 3.2 -3.2 -3.2zM1128.5 396.3l3.2 3.2 -3.2 3.2 -3.2 -3.2zM1128.5 423.8l3.2 3.2 -3.2 3.2 -3.2 -3.2zM1129 281.8l3.2 3.2 -3.2 3.2 -3.2 -3.2zM1129 319.8l3.2 3.2 -3.2 3.2 -3.2 -3.2zM1129 361.3l3.2 3.2 -3.2 3.2 -3.2 -3.2zM1129 394.8l3.2 3.2 -3.2 3.2 -3.2 -3.2zM1129 422.3l3.2 3.2 -3.2 3.2 -3.2 -3.2zM1130 317.8l3.2 3.2 -3.2 3.2 -3.2 -3.2zM1130 359.8l3.2 3.2 -3.2 3.2 -3.2 -3.2zM1130 393.3l3.2 3.2 -3.2 3.2 -3.2 -3.2zM1130 421.3l3.2 3.2 -3.2 3.2 -3.2 -3.2zM1130 444.8l3.2 3.2 -3.2 3.2 -3.2 -3.2zM1131 357.8l3.2 3.2 -3.2 3.2 -3.2 -3.2zM1131 391.8l3.2 3.2 -3.2 3.2 -3.2 -3.2zM1131 419.8l3.2 3.2 -3.2 3.2 -3.2 -3.2zM1131 443.8l3.2 3.2 -3.2 3.2 -3.2 -3.2zM1132 313.8l3.2 3.2 -3.2 3.2 -3.2 -3.2zM1132 355.8l3.2 3.2 -3.2 3.2 -3.2 -3.2zM1132 390.3l3.2 3.2 -3.2 3.2 -3.2 -3.2zM1132 418.8l3.2 3.2 -3.2 3.2 -3.2 -3.2zM1133 311.8l3.2 3.2 -3.2 3.2 -3.2 -3.2zM1133 353.8l3.2 3.2 -3.2 3.2 -3.2 -3.2zM1133 388.8l3.2 3.2 -3.2 3.2 -3.2 -3.2zM1133 417.3l3.2 3.2 -3.2 3.2 -3.2 -3.2zM1133 441.3l3.2 3.2 -3.2 3.2 -3.2 -3.2zM1133 462.3l3.2 3.2 -3.2 3.2 -3.2 -3.2zM1134 351.8l3.2 3.2 -3.2 3.2 -3.2 -3.2zM1134 387.3l3.2 3.2 -3.2 3.2 -3.2 -3.2zM1134 416.3l3.2 3.2 -3.2 3.2 -3.2 -3.2zM1135 307.8l3.2 3.2 -3.2 3.2 -3.2 -3.2zM1135 349.8l3.2 3.2 -3.2 3.2 -3.2 -3.2zM1135 385.8l3.2 3.2 -3.2 3.2 -3.2 -3.2zM1135 414.8l3.2 3.2 -3.2 3.2 -3.2 -3.2zM1135 439.3l3.2 3.2 -3.2 3.2 -3.2 -3.2zM1136 347.8l3.2 3.2 -3.2 3.2 -3.2 -3.2zM1136 383.8l3.2 3.2 -3.2 3.2 -3.2 -3.2zM1136 413.3l3.2 3.2 -3.2 3.2 -3.2 -3.2zM1136.5 345.8l3.2 3.2 -3.2 3.2 -3.2 -3.2zM1136.5 382.3l3.2 3.2 -3.2 3.2 -3.2 -3.2zM1136.5 412.3l3.2 3.2 -3.2 3.2 -3.2 -3.2zM1137.5 343.8l3.2 3.2 -3.2 3.2 -3.2 -3.2zM1137.5 380.8l3.2 3.2 -3.2 3.2 -3.2 -3.2zM1137.5 410.8l3.2 3.2 -3.2 3.2 -3.2 -3.2zM1138.5 299.8l3.2 3.2 -3.2 3.2 -3.2 -3.2zM1138.5 341.8l3.2 3.2 -3.2 3.2 -3.2 -3.2zM1138.5 379.3l3.2 3.2 -3.2 3.2 -3.2 -3.2zM1138.5 409.3l3.2 3.2 -3.2 3.2 -3.2 -3.2zM1139.5 339.8l3.2 3.2 -3.2 3.2 -3.2 -3.2zM1139.5 377.3l3.2 3.2 -3.2 3.2 -3.2 -3.2zM1139.5 407.8l3.2 3.2 -3.2 3.2 -3.2 -3.2zM1139.5 433.3l3.2 3.2 -3.2 3.2 -3.2 -3.2zM1139.5 455.3l3.2 3.2 -3.2 3.2 -3.2 -3.2zM1140.5 337.8l3.2 3.2 -3.2 3.2 -3.2 -3.2zM1140.5 375.8l3.2 3.2 -3.2 3.2 -3.2 -3.2zM1140.5 406.3l3.2 3.2 -3.2 3.2 -3.2 -3.2zM1141.5 335.3l3.2 3.2 -3.2 3.2 -3.2 -3.2zM1141.5 373.8l3.2 3.2 -3.2 3.2 -3.2 -3.2zM1141.5 405.3l3.2 3.2 -3.2 3.2 -3.2 -3.2zM1142 333.3l3.2 3.2 -3.2 3.2 -3.2 -3.2zM1142 372.3l3.2 3.2 -3.2 3.2 -3.2 -3.2zM1142 403.8l3.2 3.2 -3.2 3.2 -3.2 -3.2zM1142 429.8l3.2 3.2 -3.2 3.2 -3.2 -3.2zM1143 290.8l3.2 3.2 -3.2 3.2 -3.2 -3.2zM1143 330.8l3.2 3.2 -3.2 3.2 -3.2 -3.2zM1143 370.3l3.2 3.2 -3.2 3.2 -3.2 -3.2zM1143 402.3l3.2 3.2 -3.2 3.2 -3.2 -3.2zM1143 428.8l3.2 3.2 -3.2 3.2 -3.2 -3.2zM1144 288.8l3.2 3.2 -3.2 3.2 -3.2 -3.2zM1144 368.8l3.2 3.2 -3.2 3.2 -3.2 -3.2zM1144 400.8l3.2 3.2 -3.2 3.2 -3.2 -3.2zM1144 427.3l3.2 3.2 -3.2 3.2 -3.2 -3.2zM1145 326.8l3.2 3.2 -3.2 3.2 -3.2 -3.2zM1145 366.8l3.2 3.2 -3.2 3.2 -3.2 -3.2zM1145 399.3l3.2 3.2 -3.2 3.2 -3.2 -3.2zM1146 285.3l3.2 3.2 -3.2 3.2 -3.2 -3.2zM1146 324.3l3.2 3.2 -3.2 3.2 -3.2 -3.2zM1146 365.3l3.2 3.2 -3.2 3.2 -3.2 -3.2zM1146 397.8l3.2 3.2 -3.2 3.2 -3.2 -3.2zM1146 424.8l3.2 3.2 -3.2 3.2 -3.2 -3.2zM1146 467.8l3.2 3.2 -3.2 3.2 -3.2 -3.2zM1146.5 363.3l3.2 3.2 -3.2 3.2 -3.2 -3.2zM1146.5 396.3l3.2 3.2 -3.2 3.2 -3.2 -3.2zM1146.5 423.8l3.2 3.2 -3.2 3.2 -3.2 -3.2zM1146.5 446.8l3.2 3.2 -3.2 3.2 -3.2 -3.2zM1147.5 319.8l3.2 3.2 -3.2 3.2 -3.2 -3.2zM1147.5 361.3l3.2 3.2 -3.2 3.2 -3.2 -3.2zM1147.5 394.8l3.2 3.2 -3.2 3.2 -3.2 -3.2zM1148.5 317.8l3.2 3.2 -3.2 3.2 -3.2 -3.2zM1148.5 359.8l3.2 3.2 -3.2 3.2 -3.2 -3.2zM1148.5 393.3l3.2 3.2 -3.2 3.2 -3.2 -3.2zM1148.5 482.8l3.2 3.2 -3.2 3.2 -3.2 -3.2zM1149.5 315.8l3.2 3.2 -3.2 3.2 -3.2 -3.2zM1149.5 357.8l3.2 3.2 -3.2 3.2 -3.2 -3.2zM1149.5 391.8l3.2 3.2 -3.2 3.2 -3.2 -3.2zM1149.5 419.8l3.2 3.2 -3.2 3.2 -3.2 -3.2zM1149.5 463.8l3.2 3.2 -3.2 3.2 -3.2 -3.2zM1150 313.8l3.2 3.2 -3.2 3.2 -3.2 -3.2zM1150 355.8l3.2 3.2 -3.2 3.2 -3.2 -3.2zM1150 390.3l3.2 3.2 -3.2 3.2 -3.2 -3.2zM1150 418.8l3.2 3.2 -3.2 3.2 -3.2 -3.2zM1150 442.3l3.2 3.2 -3.2 3.2 -3.2 -3.2zM1150 480.8l3.2 3.2 -3.2 3.2 -3.2 -3.2zM1151 275.3l3.2 3.2 -3.2 3.2 -3.2 -3.2zM1151 353.8l3.2 3.2 -3.2 3.2 -3.2 -3.2zM1151 388.8l3.2 3.2 -3.2 3.2 -3.2 -3.2zM1151 441.3l3.2 3.2 -3.2 3.2 -3.2 -3.2zM1152 351.8l3.2 3.2 -3.2 3.2 -3.2 -3.2zM1152 387.3l3.2 3.2 -3.2 3.2 -3.2 -3.2zM1152 416.3l3.2 3.2 -3.2 3.2 -3.2 -3.2zM1153 271.8l3.2 3.2 -3.2 3.2 -3.2 -3.2zM1153 307.8l3.2 3.2 -3.2 3.2 -3.2 -3.2zM1153 349.8l3.2 3.2 -3.2 3.2 -3.2 -3.2zM1153 385.8l3.2 3.2 -3.2 3.2 -3.2 -3.2zM1153 414.8l3.2 3.2 -3.2 3.2 -3.2 -3.2zM1153.5 347.8l3.2 3.2 -3.2 3.2 -3.2 -3.2zM1153.5 383.8l3.2 3.2 -3.2 3.2 -3.2 -3.2zM1153.5 413.3l3.2 3.2 -3.2 3.2 -3.2 -3.2zM1153.5 459.3l3.2 3.2 -3.2 3.2 -3.2 -3.2zM1154.5 345.8l3.2 3.2 -3.2 3.2 -3.2 -3.2zM1154.5 382.3l3.2 3.2 -3.2 3.2 -3.2 -3.2zM1154.5 412.3l3.2 3.2 -3.2 3.2 -3.2 -3.2zM1154.5 458.3l3.2 3.2 -3.2 3.2 -3.2 -3.2zM1155.5 343.8l3.2 3.2 -3.2 3.2 -3.2 -3.2zM1155.5 380.8l3.2 3.2 -3.2 3.2 -3.2 -3.2zM1155.5 410.8l3.2 3.2 -3.2 3.2 -3.2 -3.2zM1156.5 299.8l3.2 3.2 -3.2 3.2 -3.2 -3.2zM1156.5 341.8l3.2 3.2 -3.2 3.2 -3.2 -3.2zM1156.5 379.3l3.2 3.2 -3.2 3.2 -3.2 -3.2zM1156.5 409.3l3.2 3.2 -3.2 3.2 -3.2 -3.2zM1156.5 491.8l3.2 3.2 -3.2 3.2 -3.2 -3.2zM1157 377.3l3.2 3.2 -3.2 3.2 -3.2 -3.2zM1158 337.8l3.2 3.2 -3.2 3.2 -3.2 -3.2zM1158 375.8l3.2 3.2 -3.2 3.2 -3.2 -3.2zM1159 335.3l3.2 3.2 -3.2 3.2 -3.2 -3.2zM1159 373.8l3.2 3.2 -3.2 3.2 -3.2 -3.2zM1159 405.3l3.2 3.2 -3.2 3.2 -3.2 -3.2zM1159 431.3l3.2 3.2 -3.2 3.2 -3.2 -3.2zM1159 453.3l3.2 3.2 -3.2 3.2 -3.2 -3.2zM1160 333.3l3.2 3.2 -3.2 3.2 -3.2 -3.2zM1160 372.3l3.2 3.2 -3.2 3.2 -3.2 -3.2zM1160 403.8l3.2 3.2 -3.2 3.2 -3.2 -3.2zM1160 429.8l3.2 3.2 -3.2 3.2 -3.2 -3.2zM1160.5 330.8l3.2 3.2 -3.2 3.2 -3.2 -3.2zM1160.5 370.3l3.2 3.2 -3.2 3.2 -3.2 -3.2zM1160.5 402.3l3.2 3.2 -3.2 3.2 -3.2 -3.2zM1160.5 428.8l3.2 3.2 -3.2 3.2 -3.2 -3.2zM1161.5 288.8l3.2 3.2 -3.2 3.2 -3.2 -3.2zM1161.5 328.8l3.2 3.2 -3.2 3.2 -3.2 -3.2zM1161.5 368.8l3.2 3.2 -3.2 3.2 -3.2 -3.2zM1161.5 450.3l3.2 3.2 -3.2 3.2 -3.2 -3.2zM1162.5 326.8l3.2 3.2 -3.2 3.2 -3.2 -3.2zM1162.5 366.8l3.2 3.2 -3.2 3.2 -3.2 -3.2zM1162.5 399.3l3.2 3.2 -3.2 3.2 -3.2 -3.2zM1162.5 426.3l3.2 3.2 -3.2 3.2 -3.2 -3.2zM1163 365.3l3.2 3.2 -3.2 3.2 -3.2 -3.2zM1163 397.8l3.2 3.2 -3.2 3.2 -3.2 -3.2zM1164 322.3l3.2 3.2 -3.2 3.2 -3.2 -3.2zM1164 396.3l3.2 3.2 -3.2 3.2 -3.2 -3.2zM1164 423.8l3.2 3.2 -3.2 3.2 -3.2 -3.2zM1164 446.8l3.2 3.2 -3.2 3.2 -3.2 -3.2zM1164 484.3l3.2 3.2 -3.2 3.2 -3.2 -3.2zM1165 319.8l3.2 3.2 -3.2 3.2 -3.2 -3.2zM1165 361.3l3.2 3.2 -3.2 3.2 -3.2 -3.2zM1165 394.8l3.2 3.2 -3.2 3.2 -3.2 -3.2zM1165 422.3l3.2 3.2 -3.2 3.2 -3.2 -3.2zM1165.5 317.8l3.2 3.2 -3.2 3.2 -3.2 -3.2zM1165.5 359.8l3.2 3.2 -3.2 3.2 -3.2 -3.2zM1165.5 393.3l3.2 3.2 -3.2 3.2 -3.2 -3.2zM1165.5 444.8l3.2 3.2 -3.2 3.2 -3.2 -3.2zM1166.5 248.3l3.2 3.2 -3.2 3.2 -3.2 -3.2zM1166.5 357.8l3.2 3.2 -3.2 3.2 -3.2 -3.2zM1166.5 391.8l3.2 3.2 -3.2 3.2 -3.2 -3.2zM1166.5 481.8l3.2 3.2 -3.2 3.2 -3.2 -3.2zM1167.5 355.8l3.2 3.2 -3.2 3.2 -3.2 -3.2zM1167.5 390.3l3.2 3.2 -3.2 3.2 -3.2 -3.2zM1167.5 418.8l3.2 3.2 -3.2 3.2 -3.2 -3.2zM1168 353.8l3.2 3.2 -3.2 3.2 -3.2 -3.2zM1168 388.8l3.2 3.2 -3.2 3.2 -3.2 -3.2zM1168 417.3l3.2 3.2 -3.2 3.2 -3.2 -3.2zM1168 480.3l3.2 3.2 -3.2 3.2 -3.2 -3.2zM1169 309.8l3.2 3.2 -3.2 3.2 -3.2 -3.2zM1169 351.8l3.2 3.2 -3.2 3.2 -3.2 -3.2zM1169 387.3l3.2 3.2 -3.2 3.2 -3.2 -3.2zM1169 416.3l3.2 3.2 -3.2 3.2 -3.2 -3.2zM1170 307.8l3.2 3.2 -3.2 3.2 -3.2 -3.2zM1170 349.8l3.2 3.2 -3.2 3.2 -3.2 -3.2zM1170 385.8l3.2 3.2 -3.2 3.2 -3.2 -3.2zM1170.5 305.8l3.2 3.2 -3.2 3.2 -3.2 -3.2zM1170.5 347.8l3.2 3.2 -3.2 3.2 -3.2 -3.2zM1170.5 383.8l3.2 3.2 -3.2 3.2 -3.2 -3.2zM1170.5 413.3l3.2 3.2 -3.2 3.2 -3.2 -3.2zM1170.5 438.3l3.2 3.2 -3.2 3.2 -3.2 -3.2zM1170.5 477.8l3.2 3.2 -3.2 3.2 -3.2 -3.2zM1171.5 303.8l3.2 3.2 -3.2 3.2 -3.2 -3.2zM1171.5 345.8l3.2 3.2 -3.2 3.2 -3.2 -3.2zM1171.5 382.3l3.2 3.2 -3.2 3.2 -3.2 -3.2zM1171.5 412.3l3.2 3.2 -3.2 3.2 -3.2 -3.2zM1172 380.8l3.2 3.2 -3.2 3.2 -3.2 -3.2zM1172 410.8l3.2 3.2 -3.2 3.2 -3.2 -3.2zM1172 435.8l3.2 3.2 -3.2 3.2 -3.2 -3.2zM1173 341.8l3.2 3.2 -3.2 3.2 -3.2 -3.2zM1173 379.3l3.2 3.2 -3.2 3.2 -3.2 -3.2zM1173 409.3l3.2 3.2 -3.2 3.2 -3.2 -3.2zM1173 434.8l3.2 3.2 -3.2 3.2 -3.2 -3.2zM1174 339.8l3.2 3.2 -3.2 3.2 -3.2 -3.2zM1174 377.3l3.2 3.2 -3.2 3.2 -3.2 -3.2zM1174 407.8l3.2 3.2 -3.2 3.2 -3.2 -3.2zM1174.5 296.3l3.2 3.2 -3.2 3.2 -3.2 -3.2zM1174.5 337.8l3.2 3.2 -3.2 3.2 -3.2 -3.2zM1174.5 375.8l3.2 3.2 -3.2 3.2 -3.2 -3.2zM1174.5 406.3l3.2 3.2 -3.2 3.2 -3.2 -3.2zM1175.5 335.3l3.2 3.2 -3.2 3.2 -3.2 -3.2zM1175.5 373.8l3.2 3.2 -3.2 3.2 -3.2 -3.2zM1175.5 405.3l3.2 3.2 -3.2 3.2 -3.2 -3.2zM1175.5 453.3l3.2 3.2 -3.2 3.2 -3.2 -3.2zM1176.5 292.3l3.2 3.2 -3.2 3.2 -3.2 -3.2zM1176.5 333.3l3.2 3.2 -3.2 3.2 -3.2 -3.2zM1176.5 372.3l3.2 3.2 -3.2 3.2 -3.2 -3.2zM1176.5 403.8l3.2 3.2 -3.2 3.2 -3.2 -3.2zM1176.5 429.8l3.2 3.2 -3.2 3.2 -3.2 -3.2zM1177 370.3l3.2 3.2 -3.2 3.2 -3.2 -3.2zM1177 402.3l3.2 3.2 -3.2 3.2 -3.2 -3.2zM1177 428.8l3.2 3.2 -3.2 3.2 -3.2 -3.2zM1178 328.8l3.2 3.2 -3.2 3.2 -3.2 -3.2zM1178 368.8l3.2 3.2 -3.2 3.2 -3.2 -3.2zM1178 400.8l3.2 3.2 -3.2 3.2 -3.2 -3.2zM1178 427.3l3.2 3.2 -3.2 3.2 -3.2 -3.2zM1178.5 326.8l3.2 3.2 -3.2 3.2 -3.2 -3.2zM1178.5 366.8l3.2 3.2 -3.2 3.2 -3.2 -3.2zM1178.5 399.3l3.2 3.2 -3.2 3.2 -3.2 -3.2zM1178.5 426.3l3.2 3.2 -3.2 3.2 -3.2 -3.2zM1179.5 324.3l3.2 3.2 -3.2 3.2 -3.2 -3.2zM1179.5 365.3l3.2 3.2 -3.2 3.2 -3.2 -3.2zM1179.5 397.8l3.2 3.2 -3.2 3.2 -3.2 -3.2zM1179.5 424.8l3.2 3.2 -3.2 3.2 -3.2 -3.2zM1179.5 526.8l3.2 3.2 -3.2 3.2 -3.2 -3.2zM1180 363.3l3.2 3.2 -3.2 3.2 -3.2 -3.2zM1180 396.3l3.2 3.2 -3.2 3.2 -3.2 -3.2zM1180 423.8l3.2 3.2 -3.2 3.2 -3.2 -3.2zM1180 466.8l3.2 3.2 -3.2 3.2 -3.2 -3.2zM1181 281.8l3.2 3.2 -3.2 3.2 -3.2 -3.2zM1181 361.3l3.2 3.2 -3.2 3.2 -3.2 -3.2zM1181 394.8l3.2 3.2 -3.2 3.2 -3.2 -3.2zM1181 422.3l3.2 3.2 -3.2 3.2 -3.2 -3.2zM1182 317.8l3.2 3.2 -3.2 3.2 -3.2 -3.2zM1182 359.8l3.2 3.2 -3.2 3.2 -3.2 -3.2zM1182 393.3l3.2 3.2 -3.2 3.2 -3.2 -3.2zM1182 421.3l3.2 3.2 -3.2 3.2 -3.2 -3.2zM1182.5 315.8l3.2 3.2 -3.2 3.2 -3.2 -3.2zM1182.5 391.8l3.2 3.2 -3.2 3.2 -3.2 -3.2zM1182.5 419.8l3.2 3.2 -3.2 3.2 -3.2 -3.2zM1183.5 313.8l3.2 3.2 -3.2 3.2 -3.2 -3.2zM1183.5 355.8l3.2 3.2 -3.2 3.2 -3.2 -3.2zM1183.5 390.3l3.2 3.2 -3.2 3.2 -3.2 -3.2zM1184 311.8l3.2 3.2 -3.2 3.2 -3.2 -3.2zM1184 353.8l3.2 3.2 -3.2 3.2 -3.2 -3.2zM1184 388.8l3.2 3.2 -3.2 3.2 -3.2 -3.2zM1184 417.3l3.2 3.2 -3.2 3.2 -3.2 -3.2zM1184 462.3l3.2 3.2 -3.2 3.2 -3.2 -3.2zM1185 351.8l3.2 3.2 -3.2 3.2 -3.2 -3.2zM1185 387.3l3.2 3.2 -3.2 3.2 -3.2 -3.2zM1185 440.3l3.2 3.2 -3.2 3.2 -3.2 -3.2zM1185.5 307.8l3.2 3.2 -3.2 3.2 -3.2 -3.2zM1185.5 349.8l3.2 3.2 -3.2 3.2 -3.2 -3.2zM1185.5 385.8l3.2 3.2 -3.2 3.2 -3.2 -3.2zM1185.5 414.8l3.2 3.2 -3.2 3.2 -3.2 -3.2zM1185.5 439.3l3.2 3.2 -3.2 3.2 -3.2 -3.2zM1185.5 460.3l3.2 3.2 -3.2 3.2 -3.2 -3.2zM1186.5 383.8l3.2 3.2 -3.2 3.2 -3.2 -3.2zM1186.5 413.3l3.2 3.2 -3.2 3.2 -3.2 -3.2zM1186.5 438.3l3.2 3.2 -3.2 3.2 -3.2 -3.2zM1187 345.8l3.2 3.2 -3.2 3.2 -3.2 -3.2zM1187 382.3l3.2 3.2 -3.2 3.2 -3.2 -3.2zM1187 412.3l3.2 3.2 -3.2 3.2 -3.2 -3.2zM1188 380.8l3.2 3.2 -3.2 3.2 -3.2 -3.2zM1188 410.8l3.2 3.2 -3.2 3.2 -3.2 -3.2zM1188 435.8l3.2 3.2 -3.2 3.2 -3.2 -3.2zM1189 341.8l3.2 3.2 -3.2 3.2 -3.2 -3.2zM1189 379.3l3.2 3.2 -3.2 3.2 -3.2 -3.2zM1189 409.3l3.2 3.2 -3.2 3.2 -3.2 -3.2zM1189 434.8l3.2 3.2 -3.2 3.2 -3.2 -3.2zM1189.5 297.8l3.2 3.2 -3.2 3.2 -3.2 -3.2zM1189.5 377.3l3.2 3.2 -3.2 3.2 -3.2 -3.2zM1189.5 407.8l3.2 3.2 -3.2 3.2 -3.2 -3.2zM1189.5 455.3l3.2 3.2 -3.2 3.2 -3.2 -3.2zM1189.5 474.3l3.2 3.2 -3.2 3.2 -3.2 -3.2zM1190.5 375.8l3.2 3.2 -3.2 3.2 -3.2 -3.2zM1190.5 406.3l3.2 3.2 -3.2 3.2 -3.2 -3.2zM1190.5 432.3l3.2 3.2 -3.2 3.2 -3.2 -3.2zM1191 335.3l3.2 3.2 -3.2 3.2 -3.2 -3.2zM1191 373.8l3.2 3.2 -3.2 3.2 -3.2 -3.2zM1191 405.3l3.2 3.2 -3.2 3.2 -3.2 -3.2zM1191 472.3l3.2 3.2 -3.2 3.2 -3.2 -3.2zM1192 333.3l3.2 3.2 -3.2 3.2 -3.2 -3.2zM1192 372.3l3.2 3.2 -3.2 3.2 -3.2 -3.2zM1192 403.8l3.2 3.2 -3.2 3.2 -3.2 -3.2zM1192 429.8l3.2 3.2 -3.2 3.2 -3.2 -3.2zM1192 488.3l3.2 3.2 -3.2 3.2 -3.2 -3.2zM1192.5 330.8l3.2 3.2 -3.2 3.2 -3.2 -3.2zM1192.5 370.3l3.2 3.2 -3.2 3.2 -3.2 -3.2zM1192.5 402.3l3.2 3.2 -3.2 3.2 -3.2 -3.2zM1192.5 428.8l3.2 3.2 -3.2 3.2 -3.2 -3.2zM1192.5 502.8l3.2 3.2 -3.2 3.2 -3.2 -3.2zM1193.5 368.8l3.2 3.2 -3.2 3.2 -3.2 -3.2zM1193.5 400.8l3.2 3.2 -3.2 3.2 -3.2 -3.2zM1194 287.3l3.2 3.2 -3.2 3.2 -3.2 -3.2zM1194 366.8l3.2 3.2 -3.2 3.2 -3.2 -3.2zM1194 399.3l3.2 3.2 -3.2 3.2 -3.2 -3.2zM1194 426.3l3.2 3.2 -3.2 3.2 -3.2 -3.2zM1194 448.8l3.2 3.2 -3.2 3.2 -3.2 -3.2zM1195 324.3l3.2 3.2 -3.2 3.2 -3.2 -3.2zM1195 365.3l3.2 3.2 -3.2 3.2 -3.2 -3.2zM1195 397.8l3.2 3.2 -3.2 3.2 -3.2 -3.2zM1195 424.8l3.2 3.2 -3.2 3.2 -3.2 -3.2zM1195 467.8l3.2 3.2 -3.2 3.2 -3.2 -3.2zM1195.5 396.3l3.2 3.2 -3.2 3.2 -3.2 -3.2zM1195.5 423.8l3.2 3.2 -3.2 3.2 -3.2 -3.2zM1195.5 466.8l3.2 3.2 -3.2 3.2 -3.2 -3.2zM1196.5 319.8l3.2 3.2 -3.2 3.2 -3.2 -3.2zM1196.5 361.3l3.2 3.2 -3.2 3.2 -3.2 -3.2zM1196.5 394.8l3.2 3.2 -3.2 3.2 -3.2 -3.2zM1196.5 445.8l3.2 3.2 -3.2 3.2 -3.2 -3.2zM1197 359.8l3.2 3.2 -3.2 3.2 -3.2 -3.2zM1198 357.8l3.2 3.2 -3.2 3.2 -3.2 -3.2zM1198 419.8l3.2 3.2 -3.2 3.2 -3.2 -3.2zM1198 443.8l3.2 3.2 -3.2 3.2 -3.2 -3.2zM1198 481.8l3.2 3.2 -3.2 3.2 -3.2 -3.2zM1198.5 355.8l3.2 3.2 -3.2 3.2 -3.2 -3.2zM1198.5 390.3l3.2 3.2 -3.2 3.2 -3.2 -3.2zM1198.5 442.3l3.2 3.2 -3.2 3.2 -3.2 -3.2zM1199 275.3l3.2 3.2 -3.2 3.2 -3.2 -3.2zM1199 353.8l3.2 3.2 -3.2 3.2 -3.2 -3.2zM1199 388.8l3.2 3.2 -3.2 3.2 -3.2 -3.2zM1199 417.3l3.2 3.2 -3.2 3.2 -3.2 -3.2zM1199 462.3l3.2 3.2 -3.2 3.2 -3.2 -3.2zM1200 309.8l3.2 3.2 -3.2 3.2 -3.2 -3.2zM1200 351.8l3.2 3.2 -3.2 3.2 -3.2 -3.2zM1200 387.3l3.2 3.2 -3.2 3.2 -3.2 -3.2zM1200 440.3l3.2 3.2 -3.2 3.2 -3.2 -3.2zM1200.5 307.8l3.2 3.2 -3.2 3.2 -3.2 -3.2zM1200.5 349.8l3.2 3.2 -3.2 3.2 -3.2 -3.2zM1200.5 385.8l3.2 3.2 -3.2 3.2 -3.2 -3.2zM1200.5 460.3l3.2 3.2 -3.2 3.2 -3.2 -3.2zM1201.5 383.8l3.2 3.2 -3.2 3.2 -3.2 -3.2zM1201.5 438.3l3.2 3.2 -3.2 3.2 -3.2 -3.2zM1202 345.8l3.2 3.2 -3.2 3.2 -3.2 -3.2zM1202 382.3l3.2 3.2 -3.2 3.2 -3.2 -3.2zM1202 412.3l3.2 3.2 -3.2 3.2 -3.2 -3.2zM1203 380.8l3.2 3.2 -3.2 3.2 -3.2 -3.2zM1203 410.8l3.2 3.2 -3.2 3.2 -3.2 -3.2zM1203 435.8l3.2 3.2 -3.2 3.2 -3.2 -3.2zM1203 457.3l3.2 3.2 -3.2 3.2 -3.2 -3.2zM1203.5 379.3l3.2 3.2 -3.2 3.2 -3.2 -3.2zM1203.5 409.3l3.2 3.2 -3.2 3.2 -3.2 -3.2zM1203.5 434.8l3.2 3.2 -3.2 3.2 -3.2 -3.2zM1203.5 456.3l3.2 3.2 -3.2 3.2 -3.2 -3.2zM1204.5 339.8l3.2 3.2 -3.2 3.2 -3.2 -3.2zM1204.5 377.3l3.2 3.2 -3.2 3.2 -3.2 -3.2zM1204.5 407.8l3.2 3.2 -3.2 3.2 -3.2 -3.2zM1204.5 433.3l3.2 3.2 -3.2 3.2 -3.2 -3.2zM1205 337.8l3.2 3.2 -3.2 3.2 -3.2 -3.2zM1205 375.8l3.2 3.2 -3.2 3.2 -3.2 -3.2zM1205 406.3l3.2 3.2 -3.2 3.2 -3.2 -3.2zM1206 373.8l3.2 3.2 -3.2 3.2 -3.2 -3.2zM1206 405.3l3.2 3.2 -3.2 3.2 -3.2 -3.2zM1206 431.3l3.2 3.2 -3.2 3.2 -3.2 -3.2zM1206.5 372.3l3.2 3.2 -3.2 3.2 -3.2 -3.2zM1206.5 429.8l3.2 3.2 -3.2 3.2 -3.2 -3.2zM1207 290.8l3.2 3.2 -3.2 3.2 -3.2 -3.2zM1207 330.8l3.2 3.2 -3.2 3.2 -3.2 -3.2zM1207 370.3l3.2 3.2 -3.2 3.2 -3.2 -3.2zM1207 428.8l3.2 3.2 -3.2 3.2 -3.2 -3.2zM1207 451.3l3.2 3.2 -3.2 3.2 -3.2 -3.2zM1208 368.8l3.2 3.2 -3.2 3.2 -3.2 -3.2zM1208 400.8l3.2 3.2 -3.2 3.2 -3.2 -3.2zM1208.5 326.8l3.2 3.2 -3.2 3.2 -3.2 -3.2zM1208.5 366.8l3.2 3.2 -3.2 3.2 -3.2 -3.2zM1208.5 399.3l3.2 3.2 -3.2 3.2 -3.2 -3.2zM1209.5 365.3l3.2 3.2 -3.2 3.2 -3.2 -3.2zM1209.5 397.8l3.2 3.2 -3.2 3.2 -3.2 -3.2zM1209.5 500.8l3.2 3.2 -3.2 3.2 -3.2 -3.2zM1210 283.8l3.2 3.2 -3.2 3.2 -3.2 -3.2zM1210 322.3l3.2 3.2 -3.2 3.2 -3.2 -3.2zM1210 363.3l3.2 3.2 -3.2 3.2 -3.2 -3.2zM1210 396.3l3.2 3.2 -3.2 3.2 -3.2 -3.2zM1210 423.8l3.2 3.2 -3.2 3.2 -3.2 -3.2zM1210 446.8l3.2 3.2 -3.2 3.2 -3.2 -3.2zM1210.5 361.3l3.2 3.2 -3.2 3.2 -3.2 -3.2zM1210.5 394.8l3.2 3.2 -3.2 3.2 -3.2 -3.2zM1210.5 422.3l3.2 3.2 -3.2 3.2 -3.2 -3.2zM1210.5 465.8l3.2 3.2 -3.2 3.2 -3.2 -3.2zM1211.5 280.3l3.2 3.2 -3.2 3.2 -3.2 -3.2zM1211.5 317.8l3.2 3.2 -3.2 3.2 -3.2 -3.2zM1211.5 359.8l3.2 3.2 -3.2 3.2 -3.2 -3.2zM1211.5 393.3l3.2 3.2 -3.2 3.2 -3.2 -3.2zM1211.5 421.3l3.2 3.2 -3.2 3.2 -3.2 -3.2zM1211.5 444.8l3.2 3.2 -3.2 3.2 -3.2 -3.2zM1211.5 464.8l3.2 3.2 -3.2 3.2 -3.2 -3.2zM1212 315.8l3.2 3.2 -3.2 3.2 -3.2 -3.2zM1212 357.8l3.2 3.2 -3.2 3.2 -3.2 -3.2zM1212 391.8l3.2 3.2 -3.2 3.2 -3.2 -3.2zM1212 419.8l3.2 3.2 -3.2 3.2 -3.2 -3.2zM1212 481.8l3.2 3.2 -3.2 3.2 -3.2 -3.2zM1213 355.8l3.2 3.2 -3.2 3.2 -3.2 -3.2zM1213.5 388.8l3.2 3.2 -3.2 3.2 -3.2 -3.2zM1213.5 480.3l3.2 3.2 -3.2 3.2 -3.2 -3.2zM1214 351.8l3.2 3.2 -3.2 3.2 -3.2 -3.2zM1214 416.3l3.2 3.2 -3.2 3.2 -3.2 -3.2zM1214 461.3l3.2 3.2 -3.2 3.2 -3.2 -3.2zM1215 349.8l3.2 3.2 -3.2 3.2 -3.2 -3.2zM1215 385.8l3.2 3.2 -3.2 3.2 -3.2 -3.2zM1215 414.8l3.2 3.2 -3.2 3.2 -3.2 -3.2zM1215 439.3l3.2 3.2 -3.2 3.2 -3.2 -3.2zM1215.5 347.8l3.2 3.2 -3.2 3.2 -3.2 -3.2zM1215.5 383.8l3.2 3.2 -3.2 3.2 -3.2 -3.2zM1215.5 413.3l3.2 3.2 -3.2 3.2 -3.2 -3.2zM1216.5 345.8l3.2 3.2 -3.2 3.2 -3.2 -3.2zM1216.5 458.3l3.2 3.2 -3.2 3.2 -3.2 -3.2zM1217 343.8l3.2 3.2 -3.2 3.2 -3.2 -3.2zM1217 380.8l3.2 3.2 -3.2 3.2 -3.2 -3.2zM1217 410.8l3.2 3.2 -3.2 3.2 -3.2 -3.2zM1217.5 341.8l3.2 3.2 -3.2 3.2 -3.2 -3.2zM1217.5 379.3l3.2 3.2 -3.2 3.2 -3.2 -3.2zM1217.5 409.3l3.2 3.2 -3.2 3.2 -3.2 -3.2zM1217.5 434.8l3.2 3.2 -3.2 3.2 -3.2 -3.2zM1218.5 339.8l3.2 3.2 -3.2 3.2 -3.2 -3.2zM1218.5 377.3l3.2 3.2 -3.2 3.2 -3.2 -3.2zM1218.5 407.8l3.2 3.2 -3.2 3.2 -3.2 -3.2zM1219 375.8l3.2 3.2 -3.2 3.2 -3.2 -3.2zM1219 406.3l3.2 3.2 -3.2 3.2 -3.2 -3.2zM1219 432.3l3.2 3.2 -3.2 3.2 -3.2 -3.2zM1219.5 294.3l3.2 3.2 -3.2 3.2 -3.2 -3.2zM1219.5 335.3l3.2 3.2 -3.2 3.2 -3.2 -3.2zM1219.5 373.8l3.2 3.2 -3.2 3.2 -3.2 -3.2zM1220.5 372.3l3.2 3.2 -3.2 3.2 -3.2 -3.2zM1220.5 403.8l3.2 3.2 -3.2 3.2 -3.2 -3.2zM1220.5 429.8l3.2 3.2 -3.2 3.2 -3.2 -3.2zM1220.5 452.3l3.2 3.2 -3.2 3.2 -3.2 -3.2zM1220.5 488.3l3.2 3.2 -3.2 3.2 -3.2 -3.2zM1221 330.8l3.2 3.2 -3.2 3.2 -3.2 -3.2zM1221 370.3l3.2 3.2 -3.2 3.2 -3.2 -3.2zM1221 402.3l3.2 3.2 -3.2 3.2 -3.2 -3.2zM1222 368.8l3.2 3.2 -3.2 3.2 -3.2 -3.2zM1222 400.8l3.2 3.2 -3.2 3.2 -3.2 -3.2zM1222.5 228.8l3.2 3.2 -3.2 3.2 -3.2 -3.2zM1222.5 326.8l3.2 3.2 -3.2 3.2 -3.2 -3.2zM1222.5 366.8l3.2 3.2 -3.2 3.2 -3.2 -3.2zM1222.5 399.3l3.2 3.2 -3.2 3.2 -3.2 -3.2zM1223 324.3l3.2 3.2 -3.2 3.2 -3.2 -3.2zM1223 365.3l3.2 3.2 -3.2 3.2 -3.2 -3.2zM1223 397.8l3.2 3.2 -3.2 3.2 -3.2 -3.2zM1224 322.3l3.2 3.2 -3.2 3.2 -3.2 -3.2zM1224 363.3l3.2 3.2 -3.2 3.2 -3.2 -3.2zM1224 423.8l3.2 3.2 -3.2 3.2 -3.2 -3.2zM1224.5 319.8l3.2 3.2 -3.2 3.2 -3.2 -3.2zM1224.5 361.3l3.2 3.2 -3.2 3.2 -3.2 -3.2zM1224.5 394.8l3.2 3.2 -3.2 3.2 -3.2 -3.2zM1224.5 422.3l3.2 3.2 -3.2 3.2 -3.2 -3.2zM1224.5 483.3l3.2 3.2 -3.2 3.2 -3.2 -3.2zM1225 317.8l3.2 3.2 -3.2 3.2 -3.2 -3.2zM1225 359.8l3.2 3.2 -3.2 3.2 -3.2 -3.2zM1225 393.3l3.2 3.2 -3.2 3.2 -3.2 -3.2zM1225 482.8l3.2 3.2 -3.2 3.2 -3.2 -3.2zM1226 278.3l3.2 3.2 -3.2 3.2 -3.2 -3.2zM1226 357.8l3.2 3.2 -3.2 3.2 -3.2 -3.2zM1226 419.8l3.2 3.2 -3.2 3.2 -3.2 -3.2zM1226.5 355.8l3.2 3.2 -3.2 3.2 -3.2 -3.2zM1226.5 390.3l3.2 3.2 -3.2 3.2 -3.2 -3.2zM1226.5 418.8l3.2 3.2 -3.2 3.2 -3.2 -3.2zM1226.5 480.8l3.2 3.2 -3.2 3.2 -3.2 -3.2zM1227 353.8l3.2 3.2 -3.2 3.2 -3.2 -3.2zM1227 417.3l3.2 3.2 -3.2 3.2 -3.2 -3.2zM1228 351.8l3.2 3.2 -3.2 3.2 -3.2 -3.2zM1228 387.3l3.2 3.2 -3.2 3.2 -3.2 -3.2zM1228 416.3l3.2 3.2 -3.2 3.2 -3.2 -3.2zM1228 461.3l3.2 3.2 -3.2 3.2 -3.2 -3.2zM1228.5 271.8l3.2 3.2 -3.2 3.2 -3.2 -3.2zM1228.5 349.8l3.2 3.2 -3.2 3.2 -3.2 -3.2zM1228.5 385.8l3.2 3.2 -3.2 3.2 -3.2 -3.2zM1228.5 414.8l3.2 3.2 -3.2 3.2 -3.2 -3.2zM1228.5 478.3l3.2 3.2 -3.2 3.2 -3.2 -3.2zM1229 347.8l3.2 3.2 -3.2 3.2 -3.2 -3.2zM1229 383.8l3.2 3.2 -3.2 3.2 -3.2 -3.2zM1229.5 345.8l3.2 3.2 -3.2 3.2 -3.2 -3.2zM1229.5 382.3l3.2 3.2 -3.2 3.2 -3.2 -3.2zM1229.5 436.8l3.2 3.2 -3.2 3.2 -3.2 -3.2zM1230.5 343.8l3.2 3.2 -3.2 3.2 -3.2 -3.2zM1230.5 380.8l3.2 3.2 -3.2 3.2 -3.2 -3.2zM1231 299.8l3.2 3.2 -3.2 3.2 -3.2 -3.2zM1231 379.3l3.2 3.2 -3.2 3.2 -3.2 -3.2zM1231.5 297.8l3.2 3.2 -3.2 3.2 -3.2 -3.2zM1231.5 339.8l3.2 3.2 -3.2 3.2 -3.2 -3.2zM1231.5 377.3l3.2 3.2 -3.2 3.2 -3.2 -3.2zM1231.5 407.8l3.2 3.2 -3.2 3.2 -3.2 -3.2zM1231.5 433.3l3.2 3.2 -3.2 3.2 -3.2 -3.2zM1232.5 375.8l3.2 3.2 -3.2 3.2 -3.2 -3.2zM1232.5 406.3l3.2 3.2 -3.2 3.2 -3.2 -3.2zM1233 294.3l3.2 3.2 -3.2 3.2 -3.2 -3.2zM1233 335.3l3.2 3.2 -3.2 3.2 -3.2 -3.2zM1233 405.3l3.2 3.2 -3.2 3.2 -3.2 -3.2zM1233.5 333.3l3.2 3.2 -3.2 3.2 -3.2 -3.2zM1233.5 372.3l3.2 3.2 -3.2 3.2 -3.2 -3.2zM1233.5 452.3l3.2 3.2 -3.2 3.2 -3.2 -3.2zM1234.5 330.8l3.2 3.2 -3.2 3.2 -3.2 -3.2zM1234.5 370.3l3.2 3.2 -3.2 3.2 -3.2 -3.2zM1234.5 402.3l3.2 3.2 -3.2 3.2 -3.2 -3.2zM1235 328.8l3.2 3.2 -3.2 3.2 -3.2 -3.2zM1235 368.8l3.2 3.2 -3.2 3.2 -3.2 -3.2zM1235 400.8l3.2 3.2 -3.2 3.2 -3.2 -3.2zM1235 450.3l3.2 3.2 -3.2 3.2 -3.2 -3.2zM1235.5 399.3l3.2 3.2 -3.2 3.2 -3.2 -3.2zM1235.5 426.3l3.2 3.2 -3.2 3.2 -3.2 -3.2zM1236 285.3l3.2 3.2 -3.2 3.2 -3.2 -3.2zM1236 324.3l3.2 3.2 -3.2 3.2 -3.2 -3.2zM1236 424.8l3.2 3.2 -3.2 3.2 -3.2 -3.2zM1237 363.3l3.2 3.2 -3.2 3.2 -3.2 -3.2zM1237 396.3l3.2 3.2 -3.2 3.2 -3.2 -3.2zM1237 446.8l3.2 3.2 -3.2 3.2 -3.2 -3.2zM1237.5 319.8l3.2 3.2 -3.2 3.2 -3.2 -3.2zM1237.5 361.3l3.2 3.2 -3.2 3.2 -3.2 -3.2zM1237.5 394.8l3.2 3.2 -3.2 3.2 -3.2 -3.2zM1237.5 422.3l3.2 3.2 -3.2 3.2 -3.2 -3.2zM1238 280.3l3.2 3.2 -3.2 3.2 -3.2 -3.2zM1238 317.8l3.2 3.2 -3.2 3.2 -3.2 -3.2zM1238 359.8l3.2 3.2 -3.2 3.2 -3.2 -3.2zM1238 393.3l3.2 3.2 -3.2 3.2 -3.2 -3.2zM1238 464.8l3.2 3.2 -3.2 3.2 -3.2 -3.2zM1238.5 278.3l3.2 3.2 -3.2 3.2 -3.2 -3.2zM1238.5 315.8l3.2 3.2 -3.2 3.2 -3.2 -3.2zM1238.5 357.8l3.2 3.2 -3.2 3.2 -3.2 -3.2zM1238.5 391.8l3.2 3.2 -3.2 3.2 -3.2 -3.2zM1238.5 419.8l3.2 3.2 -3.2 3.2 -3.2 -3.2zM1239.5 276.8l3.2 3.2 -3.2 3.2 -3.2 -3.2zM1239.5 355.8l3.2 3.2 -3.2 3.2 -3.2 -3.2zM1239.5 390.3l3.2 3.2 -3.2 3.2 -3.2 -3.2zM1239.5 418.8l3.2 3.2 -3.2 3.2 -3.2 -3.2zM1239.5 442.3l3.2 3.2 -3.2 3.2 -3.2 -3.2zM1240 353.8l3.2 3.2 -3.2 3.2 -3.2 -3.2zM1240 388.8l3.2 3.2 -3.2 3.2 -3.2 -3.2zM1240 417.3l3.2 3.2 -3.2 3.2 -3.2 -3.2zM1240 441.3l3.2 3.2 -3.2 3.2 -3.2 -3.2zM1240.5 416.3l3.2 3.2 -3.2 3.2 -3.2 -3.2zM1241 307.8l3.2 3.2 -3.2 3.2 -3.2 -3.2zM1241 349.8l3.2 3.2 -3.2 3.2 -3.2 -3.2zM1241 385.8l3.2 3.2 -3.2 3.2 -3.2 -3.2zM1241 439.3l3.2 3.2 -3.2 3.2 -3.2 -3.2zM1242 347.8l3.2 3.2 -3.2 3.2 -3.2 -3.2zM1242 477.8l3.2 3.2 -3.2 3.2 -3.2 -3.2zM1242.5 382.3l3.2 3.2 -3.2 3.2 -3.2 -3.2zM1243 380.8l3.2 3.2 -3.2 3.2 -3.2 -3.2zM1243 410.8l3.2 3.2 -3.2 3.2 -3.2 -3.2zM1243.5 379.3l3.2 3.2 -3.2 3.2 -3.2 -3.2zM1243.5 409.3l3.2 3.2 -3.2 3.2 -3.2 -3.2zM1243.5 491.8l3.2 3.2 -3.2 3.2 -3.2 -3.2zM1244.5 297.8l3.2 3.2 -3.2 3.2 -3.2 -3.2zM1244.5 377.3l3.2 3.2 -3.2 3.2 -3.2 -3.2zM1244.5 407.8l3.2 3.2 -3.2 3.2 -3.2 -3.2zM1245 337.8l3.2 3.2 -3.2 3.2 -3.2 -3.2zM1245 375.8l3.2 3.2 -3.2 3.2 -3.2 -3.2zM1245 406.3l3.2 3.2 -3.2 3.2 -3.2 -3.2zM1245 432.3l3.2 3.2 -3.2 3.2 -3.2 -3.2zM1245.5 373.8l3.2 3.2 -3.2 3.2 -3.2 -3.2zM1245.5 431.3l3.2 3.2 -3.2 3.2 -3.2 -3.2zM1246 292.3l3.2 3.2 -3.2 3.2 -3.2 -3.2zM1246 333.3l3.2 3.2 -3.2 3.2 -3.2 -3.2zM1246 403.8l3.2 3.2 -3.2 3.2 -3.2 -3.2zM1247 290.8l3.2 3.2 -3.2 3.2 -3.2 -3.2zM1247 370.3l3.2 3.2 -3.2 3.2 -3.2 -3.2zM1247 428.8l3.2 3.2 -3.2 3.2 -3.2 -3.2zM1247.5 256.8l3.2 3.2 -3.2 3.2 -3.2 -3.2zM1247.5 328.8l3.2 3.2 -3.2 3.2 -3.2 -3.2zM1247.5 368.8l3.2 3.2 -3.2 3.2 -3.2 -3.2zM1247.5 400.8l3.2 3.2 -3.2 3.2 -3.2 -3.2zM1247.5 469.8l3.2 3.2 -3.2 3.2 -3.2 -3.2zM1248 326.8l3.2 3.2 -3.2 3.2 -3.2 -3.2zM1248 366.8l3.2 3.2 -3.2 3.2 -3.2 -3.2zM1248.5 365.3l3.2 3.2 -3.2 3.2 -3.2 -3.2zM1249 283.8l3.2 3.2 -3.2 3.2 -3.2 -3.2zM1249 396.3l3.2 3.2 -3.2 3.2 -3.2 -3.2zM1249 423.8l3.2 3.2 -3.2 3.2 -3.2 -3.2zM1250 319.8l3.2 3.2 -3.2 3.2 -3.2 -3.2zM1250 394.8l3.2 3.2 -3.2 3.2 -3.2 -3.2zM1250 465.8l3.2 3.2 -3.2 3.2 -3.2 -3.2zM1250 499.3l3.2 3.2 -3.2 3.2 -3.2 -3.2zM1250.5 280.3l3.2 3.2 -3.2 3.2 -3.2 -3.2zM1250.5 393.3l3.2 3.2 -3.2 3.2 -3.2 -3.2zM1251 357.8l3.2 3.2 -3.2 3.2 -3.2 -3.2zM1251 419.8l3.2 3.2 -3.2 3.2 -3.2 -3.2zM1251 443.8l3.2 3.2 -3.2 3.2 -3.2 -3.2zM1251.5 313.8l3.2 3.2 -3.2 3.2 -3.2 -3.2zM1251.5 355.8l3.2 3.2 -3.2 3.2 -3.2 -3.2zM1251.5 442.3l3.2 3.2 -3.2 3.2 -3.2 -3.2zM1252 353.8l3.2 3.2 -3.2 3.2 -3.2 -3.2zM1252 417.3l3.2 3.2 -3.2 3.2 -3.2 -3.2zM1253 273.8l3.2 3.2 -3.2 3.2 -3.2 -3.2zM1253 387.3l3.2 3.2 -3.2 3.2 -3.2 -3.2zM1253 416.3l3.2 3.2 -3.2 3.2 -3.2 -3.2zM1253.5 307.8l3.2 3.2 -3.2 3.2 -3.2 -3.2zM1253.5 349.8l3.2 3.2 -3.2 3.2 -3.2 -3.2zM1253.5 385.8l3.2 3.2 -3.2 3.2 -3.2 -3.2zM1254 383.8l3.2 3.2 -3.2 3.2 -3.2 -3.2zM1254 413.3l3.2 3.2 -3.2 3.2 -3.2 -3.2zM1254.5 345.8l3.2 3.2 -3.2 3.2 -3.2 -3.2zM1254.5 436.8l3.2 3.2 -3.2 3.2 -3.2 -3.2zM1254.5 493.3l3.2 3.2 -3.2 3.2 -3.2 -3.2zM1255 301.8l3.2 3.2 -3.2 3.2 -3.2 -3.2zM1255 343.8l3.2 3.2 -3.2 3.2 -3.2 -3.2zM1255 380.8l3.2 3.2 -3.2 3.2 -3.2 -3.2zM1256 299.8l3.2 3.2 -3.2 3.2 -3.2 -3.2zM1256 341.8l3.2 3.2 -3.2 3.2 -3.2 -3.2zM1256 379.3l3.2 3.2 -3.2 3.2 -3.2 -3.2zM1256 409.3l3.2 3.2 -3.2 3.2 -3.2 -3.2zM1256.5 297.8l3.2 3.2 -3.2 3.2 -3.2 -3.2zM1256.5 377.3l3.2 3.2 -3.2 3.2 -3.2 -3.2zM1256.5 407.8l3.2 3.2 -3.2 3.2 -3.2 -3.2zM1256.5 490.8l3.2 3.2 -3.2 3.2 -3.2 -3.2zM1257 262.8l3.2 3.2 -3.2 3.2 -3.2 -3.2zM1257 337.8l3.2 3.2 -3.2 3.2 -3.2 -3.2zM1257 375.8l3.2 3.2 -3.2 3.2 -3.2 -3.2zM1257.5 373.8l3.2 3.2 -3.2 3.2 -3.2 -3.2zM1258 372.3l3.2 3.2 -3.2 3.2 -3.2 -3.2zM1258 403.8l3.2 3.2 -3.2 3.2 -3.2 -3.2zM1258 429.8l3.2 3.2 -3.2 3.2 -3.2 -3.2zM1258 452.3l3.2 3.2 -3.2 3.2 -3.2 -3.2zM1258.5 258.3l3.2 3.2 -3.2 3.2 -3.2 -3.2zM1258.5 290.8l3.2 3.2 -3.2 3.2 -3.2 -3.2zM1258.5 330.8l3.2 3.2 -3.2 3.2 -3.2 -3.2zM1259.5 288.8l3.2 3.2 -3.2 3.2 -3.2 -3.2zM1260 326.8l3.2 3.2 -3.2 3.2 -3.2 -3.2zM1260.5 365.3l3.2 3.2 -3.2 3.2 -3.2 -3.2zM1261.5 361.3l3.2 3.2 -3.2 3.2 -3.2 -3.2zM1261.5 394.8l3.2 3.2 -3.2 3.2 -3.2 -3.2zM1261.5 422.3l3.2 3.2 -3.2 3.2 -3.2 -3.2zM1262 317.8l3.2 3.2 -3.2 3.2 -3.2 -3.2zM1262 359.8l3.2 3.2 -3.2 3.2 -3.2 -3.2zM1263 391.8l3.2 3.2 -3.2 3.2 -3.2 -3.2zM1263 419.8l3.2 3.2 -3.2 3.2 -3.2 -3.2zM1263 443.8l3.2 3.2 -3.2 3.2 -3.2 -3.2zM1263.5 355.8l3.2 3.2 -3.2 3.2 -3.2 -3.2zM1263.5 390.3l3.2 3.2 -3.2 3.2 -3.2 -3.2zM1264 353.8l3.2 3.2 -3.2 3.2 -3.2 -3.2zM1264.5 351.8l3.2 3.2 -3.2 3.2 -3.2 -3.2zM1264.5 387.3l3.2 3.2 -3.2 3.2 -3.2 -3.2zM1264.5 534.3l3.2 3.2 -3.2 3.2 -3.2 -3.2zM1265 307.8l3.2 3.2 -3.2 3.2 -3.2 -3.2zM1265 385.8l3.2 3.2 -3.2 3.2 -3.2 -3.2zM1265 414.8l3.2 3.2 -3.2 3.2 -3.2 -3.2zM1265.5 270.3l3.2 3.2 -3.2 3.2 -3.2 -3.2zM1265.5 383.8l3.2 3.2 -3.2 3.2 -3.2 -3.2zM1265.5 413.3l3.2 3.2 -3.2 3.2 -3.2 -3.2zM1266 303.8l3.2 3.2 -3.2 3.2 -3.2 -3.2zM1266 345.8l3.2 3.2 -3.2 3.2 -3.2 -3.2zM1266 412.3l3.2 3.2 -3.2 3.2 -3.2 -3.2zM1267 380.8l3.2 3.2 -3.2 3.2 -3.2 -3.2zM1267 435.8l3.2 3.2 -3.2 3.2 -3.2 -3.2zM1267.5 341.8l3.2 3.2 -3.2 3.2 -3.2 -3.2zM1267.5 434.8l3.2 3.2 -3.2 3.2 -3.2 -3.2zM1267.5 474.8l3.2 3.2 -3.2 3.2 -3.2 -3.2zM1268 377.3l3.2 3.2 -3.2 3.2 -3.2 -3.2zM1268.5 337.8l3.2 3.2 -3.2 3.2 -3.2 -3.2zM1268.5 375.8l3.2 3.2 -3.2 3.2 -3.2 -3.2zM1268.5 454.3l3.2 3.2 -3.2 3.2 -3.2 -3.2zM1268.5 473.3l3.2 3.2 -3.2 3.2 -3.2 -3.2zM1268.5 489.8l3.2 3.2 -3.2 3.2 -3.2 -3.2zM1269 373.8l3.2 3.2 -3.2 3.2 -3.2 -3.2zM1269.5 333.3l3.2 3.2 -3.2 3.2 -3.2 -3.2zM1269.5 372.3l3.2 3.2 -3.2 3.2 -3.2 -3.2zM1270 231.3l3.2 3.2 -3.2 3.2 -3.2 -3.2zM1270 370.3l3.2 3.2 -3.2 3.2 -3.2 -3.2zM1270.5 328.8l3.2 3.2 -3.2 3.2 -3.2 -3.2zM1271 326.8l3.2 3.2 -3.2 3.2 -3.2 -3.2zM1271 366.8l3.2 3.2 -3.2 3.2 -3.2 -3.2zM1271 399.3l3.2 3.2 -3.2 3.2 -3.2 -3.2zM1272 365.3l3.2 3.2 -3.2 3.2 -3.2 -3.2zM1272 397.8l3.2 3.2 -3.2 3.2 -3.2 -3.2zM1272 447.8l3.2 3.2 -3.2 3.2 -3.2 -3.2zM1272.5 283.8l3.2 3.2 -3.2 3.2 -3.2 -3.2zM1272.5 363.3l3.2 3.2 -3.2 3.2 -3.2 -3.2zM1272.5 396.3l3.2 3.2 -3.2 3.2 -3.2 -3.2zM1273 319.8l3.2 3.2 -3.2 3.2 -3.2 -3.2zM1273 361.3l3.2 3.2 -3.2 3.2 -3.2 -3.2zM1273 445.8l3.2 3.2 -3.2 3.2 -3.2 -3.2zM1273.5 512.3l3.2 3.2 -3.2 3.2 -3.2 -3.2zM1274 357.8l3.2 3.2 -3.2 3.2 -3.2 -3.2zM1274 391.8l3.2 3.2 -3.2 3.2 -3.2 -3.2zM1274 419.8l3.2 3.2 -3.2 3.2 -3.2 -3.2zM1274 443.8l3.2 3.2 -3.2 3.2 -3.2 -3.2zM1274 463.8l3.2 3.2 -3.2 3.2 -3.2 -3.2zM1274.5 355.8l3.2 3.2 -3.2 3.2 -3.2 -3.2zM1275 311.8l3.2 3.2 -3.2 3.2 -3.2 -3.2zM1275 353.8l3.2 3.2 -3.2 3.2 -3.2 -3.2zM1275 388.8l3.2 3.2 -3.2 3.2 -3.2 -3.2zM1275.5 309.8l3.2 3.2 -3.2 3.2 -3.2 -3.2zM1275.5 351.8l3.2 3.2 -3.2 3.2 -3.2 -3.2zM1275.5 387.3l3.2 3.2 -3.2 3.2 -3.2 -3.2zM1275.5 416.3l3.2 3.2 -3.2 3.2 -3.2 -3.2zM1276 349.8l3.2 3.2 -3.2 3.2 -3.2 -3.2zM1276 414.8l3.2 3.2 -3.2 3.2 -3.2 -3.2zM1276.5 413.3l3.2 3.2 -3.2 3.2 -3.2 -3.2zM1277.5 345.8l3.2 3.2 -3.2 3.2 -3.2 -3.2zM1277.5 436.8l3.2 3.2 -3.2 3.2 -3.2 -3.2zM1278 380.8l3.2 3.2 -3.2 3.2 -3.2 -3.2zM1278 410.8l3.2 3.2 -3.2 3.2 -3.2 -3.2zM1278.5 409.3l3.2 3.2 -3.2 3.2 -3.2 -3.2zM1278.5 434.8l3.2 3.2 -3.2 3.2 -3.2 -3.2zM1279 339.8l3.2 3.2 -3.2 3.2 -3.2 -3.2zM1279 407.8l3.2 3.2 -3.2 3.2 -3.2 -3.2zM1279.5 337.8l3.2 3.2 -3.2 3.2 -3.2 -3.2zM1279.5 375.8l3.2 3.2 -3.2 3.2 -3.2 -3.2zM1280 373.8l3.2 3.2 -3.2 3.2 -3.2 -3.2zM1280.5 372.3l3.2 3.2 -3.2 3.2 -3.2 -3.2zM1280.5 403.8l3.2 3.2 -3.2 3.2 -3.2 -3.2zM1280.5 429.8l3.2 3.2 -3.2 3.2 -3.2 -3.2zM1280.5 452.3l3.2 3.2 -3.2 3.2 -3.2 -3.2zM1281 208.8l3.2 3.2 -3.2 3.2 -3.2 -3.2zM1281 330.8l3.2 3.2 -3.2 3.2 -3.2 -3.2zM1281 370.3l3.2 3.2 -3.2 3.2 -3.2 -3.2zM1281 428.8l3.2 3.2 -3.2 3.2 -3.2 -3.2zM1281.5 328.8l3.2 3.2 -3.2 3.2 -3.2 -3.2zM1281.5 368.8l3.2 3.2 -3.2 3.2 -3.2 -3.2zM1281.5 400.8l3.2 3.2 -3.2 3.2 -3.2 -3.2zM1282 366.8l3.2 3.2 -3.2 3.2 -3.2 -3.2zM1282.5 324.3l3.2 3.2 -3.2 3.2 -3.2 -3.2zM1282.5 397.8l3.2 3.2 -3.2 3.2 -3.2 -3.2zM1282.5 424.8l3.2 3.2 -3.2 3.2 -3.2 -3.2zM1283 283.8l3.2 3.2 -3.2 3.2 -3.2 -3.2zM1283 322.3l3.2 3.2 -3.2 3.2 -3.2 -3.2zM1283 396.3l3.2 3.2 -3.2 3.2 -3.2 -3.2zM1283.5 281.8l3.2 3.2 -3.2 3.2 -3.2 -3.2zM1283.5 319.8l3.2 3.2 -3.2 3.2 -3.2 -3.2zM1283.5 361.3l3.2 3.2 -3.2 3.2 -3.2 -3.2zM1284 359.8l3.2 3.2 -3.2 3.2 -3.2 -3.2zM1284.5 315.8l3.2 3.2 -3.2 3.2 -3.2 -3.2zM1284.5 357.8l3.2 3.2 -3.2 3.2 -3.2 -3.2zM1285.5 418.8l3.2 3.2 -3.2 3.2 -3.2 -3.2zM1286.5 351.8l3.2 3.2 -3.2 3.2 -3.2 -3.2zM1286.5 387.3l3.2 3.2 -3.2 3.2 -3.2 -3.2zM1287 307.8l3.2 3.2 -3.2 3.2 -3.2 -3.2zM1287 385.8l3.2 3.2 -3.2 3.2 -3.2 -3.2zM1287 439.3l3.2 3.2 -3.2 3.2 -3.2 -3.2zM1287.5 305.8l3.2 3.2 -3.2 3.2 -3.2 -3.2zM1287.5 347.8l3.2 3.2 -3.2 3.2 -3.2 -3.2zM1287.5 413.3l3.2 3.2 -3.2 3.2 -3.2 -3.2zM1288 382.3l3.2 3.2 -3.2 3.2 -3.2 -3.2zM1288.5 343.8l3.2 3.2 -3.2 3.2 -3.2 -3.2zM1289 341.8l3.2 3.2 -3.2 3.2 -3.2 -3.2zM1289 379.3l3.2 3.2 -3.2 3.2 -3.2 -3.2zM1289.5 339.8l3.2 3.2 -3.2 3.2 -3.2 -3.2zM1289.5 407.8l3.2 3.2 -3.2 3.2 -3.2 -3.2zM1290 337.8l3.2 3.2 -3.2 3.2 -3.2 -3.2zM1290 406.3l3.2 3.2 -3.2 3.2 -3.2 -3.2zM1290.5 294.3l3.2 3.2 -3.2 3.2 -3.2 -3.2zM1290.5 373.8l3.2 3.2 -3.2 3.2 -3.2 -3.2zM1290.5 405.3l3.2 3.2 -3.2 3.2 -3.2 -3.2zM1290.5 489.3l3.2 3.2 -3.2 3.2 -3.2 -3.2zM1291 292.3l3.2 3.2 -3.2 3.2 -3.2 -3.2zM1291 403.8l3.2 3.2 -3.2 3.2 -3.2 -3.2zM1291.5 290.8l3.2 3.2 -3.2 3.2 -3.2 -3.2zM1291.5 330.8l3.2 3.2 -3.2 3.2 -3.2 -3.2zM1291.5 370.3l3.2 3.2 -3.2 3.2 -3.2 -3.2zM1291.5 402.3l3.2 3.2 -3.2 3.2 -3.2 -3.2zM1292 256.8l3.2 3.2 -3.2 3.2 -3.2 -3.2zM1292 368.8l3.2 3.2 -3.2 3.2 -3.2 -3.2zM1292.5 426.3l3.2 3.2 -3.2 3.2 -3.2 -3.2zM1293 324.3l3.2 3.2 -3.2 3.2 -3.2 -3.2zM1293 365.3l3.2 3.2 -3.2 3.2 -3.2 -3.2zM1294 361.3l3.2 3.2 -3.2 3.2 -3.2 -3.2zM1294.5 317.8l3.2 3.2 -3.2 3.2 -3.2 -3.2zM1294.5 359.8l3.2 3.2 -3.2 3.2 -3.2 -3.2zM1294.5 393.3l3.2 3.2 -3.2 3.2 -3.2 -3.2zM1295 391.8l3.2 3.2 -3.2 3.2 -3.2 -3.2zM1295.5 313.8l3.2 3.2 -3.2 3.2 -3.2 -3.2zM1295.5 355.8l3.2 3.2 -3.2 3.2 -3.2 -3.2zM1296 353.8l3.2 3.2 -3.2 3.2 -3.2 -3.2zM1296.5 309.8l3.2 3.2 -3.2 3.2 -3.2 -3.2zM1296.5 387.3l3.2 3.2 -3.2 3.2 -3.2 -3.2zM1296.5 416.3l3.2 3.2 -3.2 3.2 -3.2 -3.2zM1296.5 440.3l3.2 3.2 -3.2 3.2 -3.2 -3.2zM1297 460.3l3.2 3.2 -3.2 3.2 -3.2 -3.2zM1297.5 347.8l3.2 3.2 -3.2 3.2 -3.2 -3.2zM1298 345.8l3.2 3.2 -3.2 3.2 -3.2 -3.2zM1298.5 343.8l3.2 3.2 -3.2 3.2 -3.2 -3.2zM1299 434.8l3.2 3.2 -3.2 3.2 -3.2 -3.2zM1300 262.8l3.2 3.2 -3.2 3.2 -3.2 -3.2zM1300 296.3l3.2 3.2 -3.2 3.2 -3.2 -3.2zM1300 337.8l3.2 3.2 -3.2 3.2 -3.2 -3.2zM1300 375.8l3.2 3.2 -3.2 3.2 -3.2 -3.2zM1300 432.3l3.2 3.2 -3.2 3.2 -3.2 -3.2zM1300 454.3l3.2 3.2 -3.2 3.2 -3.2 -3.2zM1300.5 335.3l3.2 3.2 -3.2 3.2 -3.2 -3.2zM1300.5 373.8l3.2 3.2 -3.2 3.2 -3.2 -3.2zM1300.5 453.3l3.2 3.2 -3.2 3.2 -3.2 -3.2zM1301 372.3l3.2 3.2 -3.2 3.2 -3.2 -3.2zM1301.5 258.3l3.2 3.2 -3.2 3.2 -3.2 -3.2zM1302 328.8l3.2 3.2 -3.2 3.2 -3.2 -3.2zM1302.5 366.8l3.2 3.2 -3.2 3.2 -3.2 -3.2zM1303 365.3l3.2 3.2 -3.2 3.2 -3.2 -3.2zM1303 424.8l3.2 3.2 -3.2 3.2 -3.2 -3.2zM1303.5 322.3l3.2 3.2 -3.2 3.2 -3.2 -3.2zM1303.5 363.3l3.2 3.2 -3.2 3.2 -3.2 -3.2zM1303.5 446.8l3.2 3.2 -3.2 3.2 -3.2 -3.2zM1305 357.8l3.2 3.2 -3.2 3.2 -3.2 -3.2zM1305 391.8l3.2 3.2 -3.2 3.2 -3.2 -3.2zM1305.5 313.8l3.2 3.2 -3.2 3.2 -3.2 -3.2zM1305.5 390.3l3.2 3.2 -3.2 3.2 -3.2 -3.2zM1306 311.8l3.2 3.2 -3.2 3.2 -3.2 -3.2zM1306 388.8l3.2 3.2 -3.2 3.2 -3.2 -3.2zM1306.5 309.8l3.2 3.2 -3.2 3.2 -3.2 -3.2zM1306.5 416.3l3.2 3.2 -3.2 3.2 -3.2 -3.2zM1307.5 305.8l3.2 3.2 -3.2 3.2 -3.2 -3.2zM1307.5 383.8l3.2 3.2 -3.2 3.2 -3.2 -3.2zM1308 301.8l3.2 3.2 -3.2 3.2 -3.2 -3.2zM1308.5 409.3l3.2 3.2 -3.2 3.2 -3.2 -3.2zM1309.5 235.3l3.2 3.2 -3.2 3.2 -3.2 -3.2zM1309.5 296.3l3.2 3.2 -3.2 3.2 -3.2 -3.2zM1309.5 375.8l3.2 3.2 -3.2 3.2 -3.2 -3.2zM1310 335.3l3.2 3.2 -3.2 3.2 -3.2 -3.2zM1310 405.3l3.2 3.2 -3.2 3.2 -3.2 -3.2zM1310 431.3l3.2 3.2 -3.2 3.2 -3.2 -3.2zM1310.5 372.3l3.2 3.2 -3.2 3.2 -3.2 -3.2zM1311 402.3l3.2 3.2 -3.2 3.2 -3.2 -3.2zM1311.5 486.8l3.2 3.2 -3.2 3.2 -3.2 -3.2zM1312 366.8l3.2 3.2 -3.2 3.2 -3.2 -3.2zM1312.5 324.3l3.2 3.2 -3.2 3.2 -3.2 -3.2zM1312.5 467.8l3.2 3.2 -3.2 3.2 -3.2 -3.2zM1313 322.3l3.2 3.2 -3.2 3.2 -3.2 -3.2zM1313 363.3l3.2 3.2 -3.2 3.2 -3.2 -3.2zM1313.5 319.8l3.2 3.2 -3.2 3.2 -3.2 -3.2zM1314 393.3l3.2 3.2 -3.2 3.2 -3.2 -3.2zM1314 482.8l3.2 3.2 -3.2 3.2 -3.2 -3.2zM1314.5 315.8l3.2 3.2 -3.2 3.2 -3.2 -3.2zM1314.5 391.8l3.2 3.2 -3.2 3.2 -3.2 -3.2zM1315.5 199.3l3.2 3.2 -3.2 3.2 -3.2 -3.2zM1315.5 417.3l3.2 3.2 -3.2 3.2 -3.2 -3.2zM1316.5 270.3l3.2 3.2 -3.2 3.2 -3.2 -3.2zM1316.5 347.8l3.2 3.2 -3.2 3.2 -3.2 -3.2zM1317 382.3l3.2 3.2 -3.2 3.2 -3.2 -3.2zM1317.5 435.8l3.2 3.2 -3.2 3.2 -3.2 -3.2zM1318 379.3l3.2 3.2 -3.2 3.2 -3.2 -3.2zM1318.5 339.8l3.2 3.2 -3.2 3.2 -3.2 -3.2zM1318.5 407.8l3.2 3.2 -3.2 3.2 -3.2 -3.2zM1319 375.8l3.2 3.2 -3.2 3.2 -3.2 -3.2zM1319 406.3l3.2 3.2 -3.2 3.2 -3.2 -3.2zM1320.5 370.3l3.2 3.2 -3.2 3.2 -3.2 -3.2zM1320.5 528.8l3.2 3.2 -3.2 3.2 -3.2 -3.2zM1321 326.8l3.2 3.2 -3.2 3.2 -3.2 -3.2zM1321 366.8l3.2 3.2 -3.2 3.2 -3.2 -3.2zM1321.5 365.3l3.2 3.2 -3.2 3.2 -3.2 -3.2zM1321.5 447.8l3.2 3.2 -3.2 3.2 -3.2 -3.2zM1322.5 361.3l3.2 3.2 -3.2 3.2 -3.2 -3.2zM1323 317.8l3.2 3.2 -3.2 3.2 -3.2 -3.2zM1323 393.3l3.2 3.2 -3.2 3.2 -3.2 -3.2zM1323 421.3l3.2 3.2 -3.2 3.2 -3.2 -3.2zM1323.5 391.8l3.2 3.2 -3.2 3.2 -3.2 -3.2zM1324 355.8l3.2 3.2 -3.2 3.2 -3.2 -3.2zM1324 390.3l3.2 3.2 -3.2 3.2 -3.2 -3.2zM1324 418.8l3.2 3.2 -3.2 3.2 -3.2 -3.2zM1324.5 441.3l3.2 3.2 -3.2 3.2 -3.2 -3.2zM1325 309.8l3.2 3.2 -3.2 3.2 -3.2 -3.2zM1325 351.8l3.2 3.2 -3.2 3.2 -3.2 -3.2zM1325 440.3l3.2 3.2 -3.2 3.2 -3.2 -3.2zM1325.5 385.8l3.2 3.2 -3.2 3.2 -3.2 -3.2zM1325.5 413.3l3.2 3.2 -3.2 3.2 -3.2 -3.2zM1325.5 414.8l3.2 3.2 -3.2 3.2 -3.2 -3.2zM1326 382.3l3.2 3.2 -3.2 3.2 -3.2 -3.2zM1326 532.8l3.2 3.2 -3.2 3.2 -3.2 -3.2zM1326.5 343.8l3.2 3.2 -3.2 3.2 -3.2 -3.2zM1327 299.8l3.2 3.2 -3.2 3.2 -3.2 -3.2zM1327 341.8l3.2 3.2 -3.2 3.2 -3.2 -3.2zM1327.5 377.3l3.2 3.2 -3.2 3.2 -3.2 -3.2zM1327.5 407.8l3.2 3.2 -3.2 3.2 -3.2 -3.2zM1328 375.8l3.2 3.2 -3.2 3.2 -3.2 -3.2zM1328 406.3l3.2 3.2 -3.2 3.2 -3.2 -3.2zM1328 432.3l3.2 3.2 -3.2 3.2 -3.2 -3.2zM1328.5 373.8l3.2 3.2 -3.2 3.2 -3.2 -3.2zM1329 292.3l3.2 3.2 -3.2 3.2 -3.2 -3.2zM1329 370.3l3.2 3.2 -3.2 3.2 -3.2 -3.2zM1329 402.3l3.2 3.2 -3.2 3.2 -3.2 -3.2zM1329.5 328.8l3.2 3.2 -3.2 3.2 -3.2 -3.2zM1330 326.8l3.2 3.2 -3.2 3.2 -3.2 -3.2zM1330 366.8l3.2 3.2 -3.2 3.2 -3.2 -3.2zM1331.5 394.8l3.2 3.2 -3.2 3.2 -3.2 -3.2zM1332 444.8l3.2 3.2 -3.2 3.2 -3.2 -3.2zM1332.5 315.8l3.2 3.2 -3.2 3.2 -3.2 -3.2zM1332.5 357.8l3.2 3.2 -3.2 3.2 -3.2 -3.2zM1332.5 536.3l3.2 3.2 -3.2 3.2 -3.2 -3.2zM1333 311.8l3.2 3.2 -3.2 3.2 -3.2 -3.2zM1333.5 351.8l3.2 3.2 -3.2 3.2 -3.2 -3.2zM1334 478.3l3.2 3.2 -3.2 3.2 -3.2 -3.2zM1334 494.8l3.2 3.2 -3.2 3.2 -3.2 -3.2zM1334.5 493.8l3.2 3.2 -3.2 3.2 -3.2 -3.2zM1335 268.8l3.2 3.2 -3.2 3.2 -3.2 -3.2zM1335 303.8l3.2 3.2 -3.2 3.2 -3.2 -3.2zM1335 553.8l3.2 3.2 -3.2 3.2 -3.2 -3.2zM1335.5 409.3l3.2 3.2 -3.2 3.2 -3.2 -3.2zM1335.5 410.8l3.2 3.2 -3.2 3.2 -3.2 -3.2zM1336 297.8l3.2 3.2 -3.2 3.2 -3.2 -3.2zM1336 377.3l3.2 3.2 -3.2 3.2 -3.2 -3.2zM1338 328.8l3.2 3.2 -3.2 3.2 -3.2 -3.2zM1338 370.3l3.2 3.2 -3.2 3.2 -3.2 -3.2zM1338 400.8l3.2 3.2 -3.2 3.2 -3.2 -3.2zM1338.5 399.3l3.2 3.2 -3.2 3.2 -3.2 -3.2zM1339 365.3l3.2 3.2 -3.2 3.2 -3.2 -3.2zM1339 397.8l3.2 3.2 -3.2 3.2 -3.2 -3.2zM1339.5 226.3l3.2 3.2 -3.2 3.2 -3.2 -3.2zM1340.5 317.8l3.2 3.2 -3.2 3.2 -3.2 -3.2zM1341.5 311.8l3.2 3.2 -3.2 3.2 -3.2 -3.2zM1342 416.3l3.2 3.2 -3.2 3.2 -3.2 -3.2zM1342.5 460.3l3.2 3.2 -3.2 3.2 -3.2 -3.2zM1343 382.3l3.2 3.2 -3.2 3.2 -3.2 -3.2zM1343 412.3l3.2 3.2 -3.2 3.2 -3.2 -3.2zM1343.5 410.8l3.2 3.2 -3.2 3.2 -3.2 -3.2zM1344 379.3l3.2 3.2 -3.2 3.2 -3.2 -3.2zM1345 431.3l3.2 3.2 -3.2 3.2 -3.2 -3.2zM1346.5 328.8l3.2 3.2 -3.2 3.2 -3.2 -3.2zM1346.5 469.8l3.2 3.2 -3.2 3.2 -3.2 -3.2zM1347 326.8l3.2 3.2 -3.2 3.2 -3.2 -3.2zM1347.5 363.3l3.2 3.2 -3.2 3.2 -3.2 -3.2zM1347.5 396.3l3.2 3.2 -3.2 3.2 -3.2 -3.2zM1347.5 423.8l3.2 3.2 -3.2 3.2 -3.2 -3.2zM1347.5 424.8l3.2 3.2 -3.2 3.2 -3.2 -3.2zM1348.5 317.8l3.2 3.2 -3.2 3.2 -3.2 -3.2zM1349 419.8l3.2 3.2 -3.2 3.2 -3.2 -3.2zM1349.5 390.3l3.2 3.2 -3.2 3.2 -3.2 -3.2zM1350 309.8l3.2 3.2 -3.2 3.2 -3.2 -3.2zM1351.5 382.3l3.2 3.2 -3.2 3.2 -3.2 -3.2zM1353.5 429.8l3.2 3.2 -3.2 3.2 -3.2 -3.2zM1354 370.3l3.2 3.2 -3.2 3.2 -3.2 -3.2zM1354.5 368.8l3.2 3.2 -3.2 3.2 -3.2 -3.2zM1355 365.3l3.2 3.2 -3.2 3.2 -3.2 -3.2zM1356 361.3l3.2 3.2 -3.2 3.2 -3.2 -3.2zM1356 483.3l3.2 3.2 -3.2 3.2 -3.2 -3.2zM1356.5 421.3l3.2 3.2 -3.2 3.2 -3.2 -3.2zM1356.5 498.3l3.2 3.2 -3.2 3.2 -3.2 -3.2zM1357 357.8l3.2 3.2 -3.2 3.2 -3.2 -3.2zM1357.5 245.3l3.2 3.2 -3.2 3.2 -3.2 -3.2zM1357.5 311.8l3.2 3.2 -3.2 3.2 -3.2 -3.2zM1358 416.3l3.2 3.2 -3.2 3.2 -3.2 -3.2zM1358.5 305.8l3.2 3.2 -3.2 3.2 -3.2 -3.2zM1358.5 307.8l3.2 3.2 -3.2 3.2 -3.2 -3.2zM1358.5 439.3l3.2 3.2 -3.2 3.2 -3.2 -3.2zM1359 382.3l3.2 3.2 -3.2 3.2 -3.2 -3.2zM1359 412.3l3.2 3.2 -3.2 3.2 -3.2 -3.2zM1360 265.8l3.2 3.2 -3.2 3.2 -3.2 -3.2zM1360 474.8l3.2 3.2 -3.2 3.2 -3.2 -3.2zM1363 397.8l3.2 3.2 -3.2 3.2 -3.2 -3.2zM1363 424.8l3.2 3.2 -3.2 3.2 -3.2 -3.2zM1363.5 322.3l3.2 3.2 -3.2 3.2 -3.2 -3.2zM1363.5 363.3l3.2 3.2 -3.2 3.2 -3.2 -3.2zM1366 307.8l3.2 3.2 -3.2 3.2 -3.2 -3.2zM1366 347.8l3.2 3.2 -3.2 3.2 -3.2 -3.2zM1366 413.3l3.2 3.2 -3.2 3.2 -3.2 -3.2zM1367 410.8l3.2 3.2 -3.2 3.2 -3.2 -3.2zM1368.5 373.8l3.2 3.2 -3.2 3.2 -3.2 -3.2zM1369 330.8l3.2 3.2 -3.2 3.2 -3.2 -3.2zM1369.5 328.8l3.2 3.2 -3.2 3.2 -3.2 -3.2zM1369.5 427.3l3.2 3.2 -3.2 3.2 -3.2 -3.2zM1370 326.8l3.2 3.2 -3.2 3.2 -3.2 -3.2zM1372 355.8l3.2 3.2 -3.2 3.2 -3.2 -3.2zM1374 436.8l3.2 3.2 -3.2 3.2 -3.2 -3.2zM1374.5 341.8l3.2 3.2 -3.2 3.2 -3.2 -3.2zM1375.5 406.3l3.2 3.2 -3.2 3.2 -3.2 -3.2zM1376 372.3l3.2 3.2 -3.2 3.2 -3.2 -3.2zM1376.5 330.8l3.2 3.2 -3.2 3.2 -3.2 -3.2zM1376.5 370.3l3.2 3.2 -3.2 3.2 -3.2 -3.2zM1377 427.3l3.2 3.2 -3.2 3.2 -3.2 -3.2zM1380 309.8l3.2 3.2 -3.2 3.2 -3.2 -3.2zM1381 382.3l3.2 3.2 -3.2 3.2 -3.2 -3.2zM1381.5 299.8l3.2 3.2 -3.2 3.2 -3.2 -3.2zM1381.5 409.3l3.2 3.2 -3.2 3.2 -3.2 -3.2zM1381.5 506.8l3.2 3.2 -3.2 3.2 -3.2 -3.2zM1382 377.3l3.2 3.2 -3.2 3.2 -3.2 -3.2zM1382.5 335.3l3.2 3.2 -3.2 3.2 -3.2 -3.2zM1383.5 290.8l3.2 3.2 -3.2 3.2 -3.2 -3.2zM1384 427.3l3.2 3.2 -3.2 3.2 -3.2 -3.2zM1385.5 224.3l3.2 3.2 -3.2 3.2 -3.2 -3.2zM1385.5 359.8l3.2 3.2 -3.2 3.2 -3.2 -3.2zM1386 313.8l3.2 3.2 -3.2 3.2 -3.2 -3.2zM1386 419.8l3.2 3.2 -3.2 3.2 -3.2 -3.2zM1389.5 294.3l3.2 3.2 -3.2 3.2 -3.2 -3.2zM1390 209.8l3.2 3.2 -3.2 3.2 -3.2 -3.2zM1390 403.8l3.2 3.2 -3.2 3.2 -3.2 -3.2zM1391 206.3l3.2 3.2 -3.2 3.2 -3.2 -3.2zM1391 227.8l3.2 3.2 -3.2 3.2 -3.2 -3.2zM1391 326.8l3.2 3.2 -3.2 3.2 -3.2 -3.2zM1391 399.3l3.2 3.2 -3.2 3.2 -3.2 -3.2zM1391 424.8l3.2 3.2 -3.2 3.2 -3.2 -3.2zM1391.5 322.3l3.2 3.2 -3.2 3.2 -3.2 -3.2zM1393 417.3l3.2 3.2 -3.2 3.2 -3.2 -3.2zM1393 418.8l3.2 3.2 -3.2 3.2 -3.2 -3.2zM1395 237.8l3.2 3.2 -3.2 3.2 -3.2 -3.2zM1395 434.8l3.2 3.2 -3.2 3.2 -3.2 -3.2zM1395.5 377.3l3.2 3.2 -3.2 3.2 -3.2 -3.2zM1396.5 333.3l3.2 3.2 -3.2 3.2 -3.2 -3.2zM1396.5 429.8l3.2 3.2 -3.2 3.2 -3.2 -3.2zM1396.5 452.3l3.2 3.2 -3.2 3.2 -3.2 -3.2zM1397.5 324.3l3.2 3.2 -3.2 3.2 -3.2 -3.2zM1403 451.3l3.2 3.2 -3.2 3.2 -3.2 -3.2zM1405.5 276.8l3.2 3.2 -3.2 3.2 -3.2 -3.2zM1406 534.8l3.2 3.2 -3.2 3.2 -3.2 -3.2zM1406.5 416.3l3.2 3.2 -3.2 3.2 -3.2 -3.2zM1408 409.3l3.2 3.2 -3.2 3.2 -3.2 -3.2zM1408 456.3l3.2 3.2 -3.2 3.2 -3.2 -3.2zM1410.5 363.3l3.2 3.2 -3.2 3.2 -3.2 -3.2zM1410.5 396.3l3.2 3.2 -3.2 3.2 -3.2 -3.2zM1411 280.3l3.2 3.2 -3.2 3.2 -3.2 -3.2zM1412 441.3l3.2 3.2 -3.2 3.2 -3.2 -3.2zM1413 383.8l3.2 3.2 -3.2 3.2 -3.2 -3.2zM1414 299.8l3.2 3.2 -3.2 3.2 -3.2 -3.2zM1414 377.3l3.2 3.2 -3.2 3.2 -3.2 -3.2zM1414.5 406.3l3.2 3.2 -3.2 3.2 -3.2 -3.2zM1415.5 288.8l3.2 3.2 -3.2 3.2 -3.2 -3.2zM1416.5 285.3l3.2 3.2 -3.2 3.2 -3.2 -3.2zM1417 319.8l3.2 3.2 -3.2 3.2 -3.2 -3.2zM1417.5 315.8l3.2 3.2 -3.2 3.2 -3.2 -3.2zM1417.5 391.8l3.2 3.2 -3.2 3.2 -3.2 -3.2zM1418 418.8l3.2 3.2 -3.2 3.2 -3.2 -3.2zM1418 480.8l3.2 3.2 -3.2 3.2 -3.2 -3.2zM1418.5 349.8l3.2 3.2 -3.2 3.2 -3.2 -3.2zM1419 347.8l3.2 3.2 -3.2 3.2 -3.2 -3.2zM1419 458.3l3.2 3.2 -3.2 3.2 -3.2 -3.2zM1422 324.3l3.2 3.2 -3.2 3.2 -3.2 -3.2zM1422.5 483.3l3.2 3.2 -3.2 3.2 -3.2 -3.2zM1424.5 270.3l3.2 3.2 -3.2 3.2 -3.2 -3.2zM1425.5 456.3l3.2 3.2 -3.2 3.2 -3.2 -3.2zM1428 397.8l3.2 3.2 -3.2 3.2 -3.2 -3.2zM1430 385.8l3.2 3.2 -3.2 3.2 -3.2 -3.2zM1431.5 235.3l3.2 3.2 -3.2 3.2 -3.2 -3.2zM1432.5 290.8l3.2 3.2 -3.2 3.2 -3.2 -3.2zM1437 264.3l3.2 3.2 -3.2 3.2 -3.2 -3.2zM1437 339.8l3.2 3.2 -3.2 3.2 -3.2 -3.2zM1438 427.3l3.2 3.2 -3.2 3.2 -3.2 -3.2zM1439.5 319.8l3.2 3.2 -3.2 3.2 -3.2 -3.2zM1445 419.8l3.2 3.2 -3.2 3.2 -3.2 -3.2zM1445 444.8l3.2 3.2 -3.2 3.2 -3.2 -3.2zM1445.5 311.8l3.2 3.2 -3.2 3.2 -3.2 -3.2zM1445.5 388.8l3.2 3.2 -3.2 3.2 -3.2 -3.2zM1445.5 545.8l3.2 3.2 -3.2 3.2 -3.2 -3.2zM1446 387.3l3.2 3.2 -3.2 3.2 -3.2 -3.2zM1447.5 211.8l3.2 3.2 -3.2 3.2 -3.2 -3.2zM1449 228.8l3.2 3.2 -3.2 3.2 -3.2 -3.2zM1449.5 422.3l3.2 3.2 -3.2 3.2 -3.2 -3.2zM1450 249.8l3.2 3.2 -3.2 3.2 -3.2 -3.2zM1450.5 355.8l3.2 3.2 -3.2 3.2 -3.2 -3.2zM1451 385.8l3.2 3.2 -3.2 3.2 -3.2 -3.2zM1451 460.3l3.2 3.2 -3.2 3.2 -3.2 -3.2zM1452 409.3l3.2 3.2 -3.2 3.2 -3.2 -3.2zM1455.5 480.3l3.2 3.2 -3.2 3.2 -3.2 -3.2zM1457 379.3l3.2 3.2 -3.2 3.2 -3.2 -3.2zM1457 409.3l3.2 3.2 -3.2 3.2 -3.2 -3.2zM1457 410.8l3.2 3.2 -3.2 3.2 -3.2 -3.2zM1457.5 264.3l3.2 3.2 -3.2 3.2 -3.2 -3.2zM1458.5 400.8l3.2 3.2 -3.2 3.2 -3.2 -3.2zM1459.5 363.3l3.2 3.2 -3.2 3.2 -3.2 -3.2zM1460 391.8l3.2 3.2 -3.2 3.2 -3.2 -3.2zM1460 419.8l3.2 3.2 -3.2 3.2 -3.2 -3.2zM1462 341.8l3.2 3.2 -3.2 3.2 -3.2 -3.2zM1462.5 337.8l3.2 3.2 -3.2 3.2 -3.2 -3.2zM1464.5 281.8l3.2 3.2 -3.2 3.2 -3.2 -3.2zM1466 240.3l3.2 3.2 -3.2 3.2 -3.2 -3.2zM1467 542.3l3.2 3.2 -3.2 3.2 -3.2 -3.2zM1467.5 403.8l3.2 3.2 -3.2 3.2 -3.2 -3.2zM1468 231.3l3.2 3.2 -3.2 3.2 -3.2 -3.2zM1468 290.8l3.2 3.2 -3.2 3.2 -3.2 -3.2zM1470.5 460.3l3.2 3.2 -3.2 3.2 -3.2 -3.2zM1472.5 330.8l3.2 3.2 -3.2 3.2 -3.2 -3.2zM1473 228.8l3.2 3.2 -3.2 3.2 -3.2 -3.2zM1478 319.8l3.2 3.2 -3.2 3.2 -3.2 -3.2zM1479 309.8l3.2 3.2 -3.2 3.2 -3.2 -3.2zM1479.5 268.8l3.2 3.2 -3.2 3.2 -3.2 -3.2zM1479.5 303.8l3.2 3.2 -3.2 3.2 -3.2 -3.2zM1480 238.8l3.2 3.2 -3.2 3.2 -3.2 -3.2zM1482.5 315.8l3.2 3.2 -3.2 3.2 -3.2 -3.2zM1485.5 232.8l3.2 3.2 -3.2 3.2 -3.2 -3.2zM1485.5 256.8l3.2 3.2 -3.2 3.2 -3.2 -3.2zM1486.5 281.8l3.2 3.2 -3.2 3.2 -3.2 -3.2zM1487.5 149.3l3.2 3.2 -3.2 3.2 -3.2 -3.2zM1488 217.3l3.2 3.2 -3.2 3.2 -3.2 -3.2zM1488 412.3l3.2 3.2 -3.2 3.2 -3.2 -3.2zM1489 406.3l3.2 3.2 -3.2 3.2 -3.2 -3.2zM1490 366.8l3.2 3.2 -3.2 3.2 -3.2 -3.2zM1490.5 466.8l3.2 3.2 -3.2 3.2 -3.2 -3.2zM1490.5 525.8l3.2 3.2 -3.2 3.2 -3.2 -3.2zM1492 305.8l3.2 3.2 -3.2 3.2 -3.2 -3.2zM1492.5 436.8l3.2 3.2 -3.2 3.2 -3.2 -3.2zM1493 264.3l3.2 3.2 -3.2 3.2 -3.2 -3.2zM1494.5 252.3l3.2 3.2 -3.2 3.2 -3.2 -3.2zM1495.5 311.8l3.2 3.2 -3.2 3.2 -3.2 -3.2zM1496.5 238.8l3.2 3.2 -3.2 3.2 -3.2 -3.2zM1497 297.8l3.2 3.2 -3.2 3.2 -3.2 -3.2zM1500 438.3l3.2 3.2 -3.2 3.2 -3.2 -3.2zM1505 233.8l3.2 3.2 -3.2 3.2 -3.2 -3.2zM1507 313.8l3.2 3.2 -3.2 3.2 -3.2 -3.2zM1512 507.8l3.2 3.2 -3.2 3.2 -3.2 -3.2zM1514.5 523.8l3.2 3.2 -3.2 3.2 -3.2 -3.2zM1515 309.8l3.2 3.2 -3.2 3.2 -3.2 -3.2zM1516.5 540.3l3.2 3.2 -3.2 3.2 -3.2 -3.2zM1519.5 267.3l3.2 3.2 -3.2 3.2 -3.2 -3.2zM1520 210.8l3.2 3.2 -3.2 3.2 -3.2 -3.2zM1520 432.3l3.2 3.2 -3.2 3.2 -3.2 -3.2zM1523 193.8l3.2 3.2 -3.2 3.2 -3.2 -3.2zM1524.5 283.8l3.2 3.2 -3.2 3.2 -3.2 -3.2zM1526 134.3l3.2 3.2 -3.2 3.2 -3.2 -3.2zM1526.5 237.8l3.2 3.2 -3.2 3.2 -3.2 -3.2zM1527.5 207.3l3.2 3.2 -3.2 3.2 -3.2 -3.2zM1530.5 261.3l3.2 3.2 -3.2 3.2 -3.2 -3.2zM1532.5 242.8l3.2 3.2 -3.2 3.2 -3.2 -3.2zM1534 333.3l3.2 3.2 -3.2 3.2 -3.2 -3.2zM1534.5 205.3l3.2 3.2 -3.2 3.2 -3.2 -3.2zM1534.5 227.8l3.2 3.2 -3.2 3.2 -3.2 -3.2zM1538 203.3l3.2 3.2 -3.2 3.2 -3.2 -3.2zM1544.5 204.3l3.2 3.2 -3.2 3.2 -3.2 -3.2zM1545.5 179.3l3.2 3.2 -3.2 3.2 -3.2 -3.2zM1546 474.8l3.2 3.2 -3.2 3.2 -3.2 -3.2zM1547 514.3l3.2 3.2 -3.2 3.2 -3.2 -3.2zM1551.5 240.3l3.2 3.2 -3.2 3.2 -3.2 -3.2zM1553 402.3l3.2 3.2 -3.2 3.2 -3.2 -3.2zM1559 446.8l3.2 3.2 -3.2 3.2 -3.2 -3.2zM1570.5 359.8l3.2 3.2 -3.2 3.2 -3.2 -3.2zM1578 256.8l3.2 3.2 -3.2 3.2 -3.2 -3.2zM1580.5 188.8l3.2 3.2 -3.2 3.2 -3.2 -3.2zM1582 413.3l3.2 3.2 -3.2 3.2 -3.2 -3.2zM1587.5 74.3l3.2 3.2 -3.2 3.2 -3.2 -3.2zM1590 132.3l3.2 3.2 -3.2 3.2 -3.2 -3.2zM1591 152.8l3.2 3.2 -3.2 3.2 -3.2 -3.2zM1594.5 337.8l3.2 3.2 -3.2 3.2 -3.2 -3.2zM1597.5 452.3l3.2 3.2 -3.2 3.2 -3.2 -3.2zM1601 218.3l3.2 3.2 -3.2 3.2 -3.2 -3.2zM1603.5 147.8l3.2 3.2 -3.2 3.2 -3.2 -3.2zM1604 191.8l3.2 3.2 -3.2 3.2 -3.2 -3.2zM1609 514.3l3.2 3.2 -3.2 3.2 -3.2 -3.2zM1611.5 595.8l3.2 3.2 -3.2 3.2 -3.2 -3.2zM1613.5 150.8l3.2 3.2 -3.2 3.2 -3.2 -3.2zM1616.5 216.3l3.2 3.2 -3.2 3.2 -3.2 -3.2zM1618 56.8l3.2 3.2 -3.2 3.2 -3.2 -3.2zM1625 119.8l3.2 3.2 -3.2 3.2 -3.2 -3.2zM1625 292.3l3.2 3.2 -3.2 3.2 -3.2 -3.2zM1627.5 127.3l3.2 3.2 -3.2 3.2 -3.2 -3.2zM1628 573.8l3.2 3.2 -3.2 3.2 -3.2 -3.2zM1629 117.8l3.2 3.2 -3.2 3.2 -3.2 -3.2zM1630.5 121.8l3.2 3.2 -3.2 3.2 -3.2 -3.2zM1631 141.3l3.2 3.2 -3.2 3.2 -3.2 -3.2zM1638 600.3l3.2 3.2 -3.2 3.2 -3.2 -3.2zM1639.5 123.8l3.2 3.2 -3.2 3.2 -3.2 -3.2zM1642 53.8l3.2 3.2 -3.2 3.2 -3.2 -3.2zM1645.5 427.3l3.2 3.2 -3.2 3.2 -3.2 -3.2zM1649.5 86.3l3.2 3.2 -3.2 3.2 -3.2 -3.2zM1653.5 101.3l3.2 3.2 -3.2 3.2 -3.2 -3.2zM1654 141.3l3.2 3.2 -3.2 3.2 -3.2 -3.2zM1657 210.8l3.2 3.2 -3.2 3.2 -3.2 -3.2zM1662 128.3l3.2 3.2 -3.2 3.2 -3.2 -3.2zM1662.5 556.3l3.2 3.2 -3.2 3.2 -3.2 -3.2zM1671.5 154.3l3.2 3.2 -3.2 3.2 -3.2 -3.2z" fill="#d0d0d0"/>
<path d="M1235.8 274 1236 274 1237 273.8 1238 273.7 1239 273.6 1240 273.5 1241 273.4 1242 273.4 1243 273.3 1244 273.3 1245 273.2 1246 273.2 1247 273.2 1248 273.2 1249 273.3 1250 273.4 1251 273.5 1252 273.6 1253 273.7 1254 273.9 1254.4 274 1255 274.1 1256 274.4 1257 274.6 1258 274.9 1258.2 275 1259 275.3 1260 275.6 1261 276 1261 276 1262 276.4 1263 276.8 1263.4 277 1264 277.3 1265 277.7 1265.5 278 1266 278.2 1267 278.7 1267.7 279 1268 279.2 1269 279.6 1269.8 280 1270 280.1 1271 280.6 1272 281 1272 281 1273 281.5 1274 281.9 1274.2 282 1275 282.3 1276 282.7 1276.6 283 1277 283.2 1278 283.6 1279 283.9 1279.1 284 1280 284.3 1281 284.7 1281.8 285 1282 285.1 1283 285.4 1284 285.8 1284.5 286 1285 286.2 1286 286.5 1287 286.9 1287.4 287 1288 287.2 1289 287.6 1290 287.9 1290.3 288 1291 288.2 1292 288.6 1293 288.9 1293.4 289 1294 289.2 1295 289.5 1296 289.8 1296.6 290 1297 290.1 1298 290.4 1299 290.7 1300 291 1300.2 291 1301 291.2 1302 291.5 1303 291.7 1304 292 1304.1 292 1305 292.2 1306 292.5 1307 292.7 1308 292.9 1308.3 293 1309 293.2 1310 293.4 1311 293.6 1312 293.8 1312.9 294 1313 294 1314 294.2 1315 294.4 1316 294.6 1317 294.9 1317.7 295 1318 295.1 1319 295.3 1320 295.5 1321 295.7 1322 295.9 1322.4 296 1323 296.1 1324 296.3 1325 296.6 1326 296.8 1326.9 297 1327 297 1328 297.3 1329 297.5 1330 297.8 1331 298 1331 298 1332 298.3 1333 298.5 1334 298.8 1334.9 299 1335 299 1336 299.3 1337 299.6 1338 299.8 1338.7 300 1339 300.1 1340 300.3 1341 300.6 1342 300.8 1342.7 301 1343 301.1 1344 301.3 1345 301.5 1346 301.7 1347 301.9 1347.3 302 1348 302.1 1349 302.3 1350 302.5 1351 302.7 1352 302.9 1352.7 303 1353 303 1354 303.2 1355 303.4 1356 303.5 1357 303.7 1358 303.8 1359 304 1359.2 304 1360 304.1 1361 304.3 1362 304.4 1363 304.6 1364 304.7 1365 304.9 1365.6 305 1366 305.1 1367 305.3 1368 305.5 1369 305.7 1370 305.9 1370.3 306 1371 306.2 1372 306.5 1373 306.8 1373.4 307 1374 307.2 1375 307.7 1375.7 308 1376 308.2 1377 308.8 1377.4 309 1378 309.5 1378.7 310 1379 310.3 1379.8 311 1380 311.2 1380.8 312 1381 312.2 1381.8 313 1382 313.2 1382.7 314 1383 314.3 1383.8 315 1384 315.2 1384.9 316 1385 316 1386 316.8 1386.4 317 1387 317.4 1388 318 1388.1 318 1389 318.5 1390 318.9 1390.2 319 1391 319.3 1392 319.7 1392.7 320 1393 320.1 1394 320.5 1395 320.8 1395.6 321 1396 321.2 1397 321.5 1398 321.8 1398.4 322 1399 322.2 1400 322.6 1401 323 1401 323 1402 323.5 1403 324 1403.1 324 1404 324.6 1404.5 325 1405 325.6 1405.3 326 1405.7 327 1405.6 328 1405.3 329 1405 329.4 1404.7 330 1404 330.8 1403.9 331 1403 331.9 1402.9 332 1402 332.8 1401.8 333 1401 333.7 1400.6 334 1400 334.4 1399.2 335 1399 335.1 1398 335.7 1397.6 336 1397 336.3 1396 336.9 1395.8 337 1395 337.4 1394 337.9 1393.7 338 1393 338.3 1392 338.7 1391.2 339 1391 339.1 1390 339.4 1389 339.7 1388.1 340 1388 340 1387 340.3 1386 340.6 1385 340.8 1384.1 341 1384 341 1383 341.2 1382 341.4 1381 341.6 1380 341.7 1379 341.8 1378 341.9 1377 342 1376.8 342 1376 342.1 1375 342.1 1374 342.1 1373 342.1 1372 342.1 1371 342.1 1370 342.1 1369 342 1368.7 342 1368 342 1367 341.9 1366 341.8 1365 341.7 1364 341.6 1363 341.5 1362 341.4 1361 341.4 1360 341.3 1359 341.2 1358 341.1 1357 341.1 1356 341 1355 341 1354 341 1353 341.1 1352 341.1 1351 341.2 1350 341.4 1349 341.6 1348 341.8 1347.3 342 1347 342.1 1346 342.5 1345.1 343 1345 343.1 1344 343.9 1343.9 344 1343.2 345 1343 346 1343.1 347 1343.6 348 1344 348.5 1344.4 349 1345 349.6 1345.5 350 1346 350.3 1347 350.9 1347.1 351 1348 351.4 1349 351.9 1349.2 352 1350 352.3 1351 352.6 1352 353 1352 353 1353 353.3 1354 353.6 1355 353.8 1355.7 354 1356 354.1 1357 354.3 1358 354.6 1359 354.8 1359.8 355 1360 355 1361 355.3 1362 355.5 1363 355.8 1363.8 356 1364 356 1365 356.3 1366 356.6 1367 356.9 1367.2 357 1368 357.3 1369 357.6 1369.9 358 1370 358 1371 358.4 1372 358.9 1372.2 359 1373 359.4 1374 359.9 1374.2 360 1375 360.5 1375.9 361 1376 361.1 1377 361.7 1377.4 362 1378 362.5 1378.7 363 1379 363.3 1379.9 364 1380 364.1 1380.9 365 1381 365.1 1381.9 366 1382 366.1 1382.8 367 1383 367.3 1383.6 368 1384 368.5 1384.4 369 1385 369.8 1385.2 370 1385.9 371 1386 371.2 1386.6 372 1387 372.7 1387.2 373 1387.8 374 1388 374.4 1388.3 375 1388.8 376 1389 376.6 1389.2 377 1389.4 378 1389.4 379 1389.1 380 1389 380.3 1388.6 381 1388 381.6 1387.6 382 1387 382.5 1386.2 383 1386 383.1 1385 383.7 1384.4 384 1384 384.2 1383 384.6 1382.2 385 1382 385.1 1381 385.5 1380 385.9 1379.8 386 1379 386.4 1378 386.8 1377.6 387 1377 387.3 1376 387.8 1375.7 388 1375 388.4 1374 389 1374 389 1373 389.8 1372.7 390 1372 390.7 1371.7 391 1371 392 1371 392.1 1370.6 393 1370.5 394 1370.6 395 1371 396 1371 396.1 1371.6 397 1372 397.4 1372.6 398 1373 398.3 1373.9 399 1374 399.1 1375 399.7 1375.6 400 1376 400.2 1377 400.6 1377.9 401 1378 401 1379 401.4 1380 401.7 1381 402 1381.2 402 1382 402.2 1383 402.4 1384 402.7 1385 402.9 1385.7 403 1386 403 1387 403.2 1388 403.4 1389 403.5 1390 403.7 1391 403.8 1392 404 1392.3 404 1393 404.1 1394 404.2 1395 404.4 1396 404.5 1397 404.7 1398 404.8 1399 405 1399 405 1400 405.2 1401 405.4 1402 405.6 1403 405.9 1403.4 406 1404 406.2 1405 406.5 1406 406.9 1406.2 407 1407 407.4 1408 407.9 1408.2 408 1409 408.5 1409.8 409 1410 409.1 1411 409.9 1411.1 410 1412 410.8 1412.3 411 1413 411.7 1413.3 412 1414 412.8 1414.2 413 1414.9 414 1415 414.1 1415.6 415 1416 415.8 1416.1 416 1416.5 417 1416.7 418 1416.8 419 1416.7 420 1416.4 421 1416 421.8 1415.9 422 1415.3 423 1415 423.3 1414.4 424 1414 424.5 1413.5 425 1413 425.5 1412.4 426 1412 426.4 1411.3 427 1411 427.2 1410.1 428 1410 428.1 1409 428.9 1408.8 429 1408 429.6 1407.5 430 1407 430.4 1406.1 431 1406 431.1 1405 431.8 1404.7 432 1404 432.4 1403.1 433 1403 433.1 1402 433.7 1401.4 434 1401 434.3 1400 434.8 1399.6 435 1399 435.3 1398 435.7 1397.4 436 1397 436.2 1396 436.5 1395 436.9 1394.7 437 1394 437.2 1393 437.5 1392 437.8 1391 438 1391 438 1390 438.2 1389 438.4 1388 438.6 1387 438.7 1386 438.9 1385 439 1384.7 439 1384 439.1 1383 439.2 1382 439.3 1381 439.3 1380 439.4 1379 439.5 1378 439.5 1377 439.6 1376 439.6 1375 439.7 1374 439.7 1373 439.7 1372 439.8 1371 439.8 1370 439.8 1369 439.9 1368 439.9 1367 439.9 1366 439.9 1365 440 1364 440 1363.7 440 1363 440 1362 440.1 1361 440.1 1360 440.1 1359 440.2 1358 440.2 1357 440.3 1356 440.3 1355 440.4 1354 440.5 1353 440.5 1352 440.6 1351 440.7 1350 440.9 1349 441 1348.9 441 1348 441.1 1347 441.3 1346 441.5 1345 441.7 1344 441.9 1343.8 442 1343 442.2 1342 442.5 1341 442.9 1340.6 443 1340 443.2 1339 443.6 1338.2 444 1338 444.1 1337 444.6 1336.2 445 1336 445.1 1335 445.6 1334.3 446 1334 446.1 1333 446.7 1332.4 447 1332 447.2 1331 447.7 1330.5 448 1330 448.2 1329 448.7 1328.4 449 1328 449.2 1327 449.6 1326.1 450 1326 450 1325 450.4 1324 450.8 1323.5 451 1323 451.2 1322 451.6 1321 451.9 1320.8 452 1320 452.3 1319 452.6 1318 453 1317.9 453 1317 453.3 1316 453.7 1315 454 1315 454 1314 454.3 1313 454.7 1312 455 1312 455 1311 455.4 1310 455.7 1309.1 456 1309 456 1308 456.4 1307 456.7 1306.1 457 1306 457 1305 457.3 1304 457.6 1303 457.9 1302.8 458 1302 458.2 1301 458.5 1300 458.8 1299 459 1299 459 1298 459.2 1297 459.4 1296 459.6 1295 459.8 1294.1 460 1294 460 1293 460.2 1292 460.3 1291 460.5 1290 460.6 1289 460.8 1288 460.9 1287 461 1287 461 1286 461.1 1285 461.2 1284 461.3 1283 461.4 1282 461.5 1281 461.6 1280 461.7 1279 461.8 1278 461.9 1277 462 1276.7 462 1276 462.1 1275 462.2 1274 462.2 1273 462.3 1272 462.4 1271 462.5 1270 462.6 1269 462.7 1268 462.8 1267 462.9 1266.4 463 1266 463.1 1265 463.2 1264 463.3 1263 463.5 1262 463.7 1261 463.9 1260.5 464 1260 464.1 1259 464.4 1258 464.7 1257.3 465 1257 465.1 1256 465.7 1255.4 466 1255 466.3 1254.2 467 1254 467.3 1253.5 468 1253 469 1253 469 1252.7 470 1252.5 471 1252.3 472 1252.1 473 1252 473.7 1251.9 474 1251.7 475 1251.5 476 1251.2 477 1251 477.8 1251 478 1250.7 479 1250.6 480 1250.4 481 1250.3 482 1250.2 483 1250.2 484 1250.2 485 1250.2 486 1250.2 487 1250.1 488 1250 489 1250 489 1249.7 490 1249.2 491 1249 491.2 1248.2 492 1248 492.1 1247 492.6 1246.1 493 1246 493 1245 493.3 1244 493.5 1243 493.7 1242 493.9 1241 494 1240.9 494 1240 494.1 1239 494.2 1238 494.2 1237 494.3 1236 494.3 1235 494.4 1234 494.4 1233 494.4 1232 494.5 1231 494.5 1230 494.5 1229 494.5 1228 494.5 1227 494.5 1226 494.5 1225 494.5 1224 494.5 1223 494.4 1222 494.4 1221 494.4 1220 494.3 1219 494.3 1218 494.2 1217 494.2 1216 494.1 1215.1 494 1215 494 1214 493.9 1213 493.8 1212 493.7 1211 493.5 1210 493.4 1209 493.3 1208 493.1 1207.5 493 1207 492.9 1206 492.7 1205 492.5 1204 492.3 1203 492.1 1202.4 492 1202 491.9 1201 491.7 1200 491.5 1199 491.2 1198 491 1197.9 491 1197 490.8 1196 490.6 1195 490.4 1194 490.1 1193.3 490 1193 489.9 1192 489.7 1191 489.6 1190 489.4 1189 489.3 1188 489.1 1187 489 1187 489 1186 488.9 1185 488.8 1184 488.7 1183 488.7 1182 488.6 1181 488.6 1180 488.6 1179 488.6 1178 488.6 1177 488.6 1176 488.6 1175 488.6 1174 488.7 1173 488.7 1172 488.7 1171 488.7 1170 488.7 1169 488.8 1168 488.7 1167 488.7 1166 488.7 1165 488.6 1164 488.6 1163 488.4 1162 488.3 1161 488.2 1160.2 488 1160 487.9 1159 487.7 1158 487.3 1157.1 487 1157 486.9 1156 486.4 1155.4 486 1155 485.7 1154.3 485 1154 484.5 1153.7 484 1153.4 483 1153.3 482 1153.5 481 1153.7 480 1153.9 479 1154 478.3 1154 478 1154 477.5 1154 477 1153.6 476 1153 475.3 1152.8 475 1152 474.4 1151.4 474 1151 473.8 1150 473.3 1149.4 473 1149 472.9 1148 472.5 1147 472.1 1146.8 472 1146 471.7 1145 471.4 1144 471 1143.9 471 1143 470.7 1142 470.4 1141 470 1141 470 1140 469.7 1139 469.3 1138.2 469 1138 468.9 1137 468.5 1136 468.1 1135.7 468 1135 467.7 1134 467.3 1133.4 467 1133 466.8 1132 466.3 1131.3 466 1131 465.9 1130 465.4 1129.2 465 1129 464.9 1128 464.4 1127.2 464 1127 463.9 1126 463.4 1125.1 463 1125 462.9 1124 462.5 1123 462 1122.9 462 1122 461.6 1121 461.2 1120.6 461 1120 460.8 1119 460.4 1118 460 1118 460 1117 459.6 1116 459.2 1115.4 459 1115 458.9 1114 458.5 1113 458.1 1112.6 458 1112 457.8 1111 457.4 1110 457 1109.9 457 1109 456.6 1108 456.2 1107.4 456 1107 455.8 1106 455.4 1105.1 455 1105 455 1104 454.5 1103 454 1103 454 1102 453.5 1101.1 453 1101 452.9 1100 452.4 1099.4 452 1099 451.8 1098 451.1 1097.8 451 1097 450.5 1096.2 450 1096 449.8 1095 449.2 1094.7 449 1094 448.5 1093.2 448 1093 447.8 1092 447.2 1091.7 447 1091 446.6 1090.1 446 1090 446 1089 445.4 1088.3 445 1088 444.8 1087 444.3 1086.5 444 1086 443.8 1085 443.3 1084.5 443 1084 442.8 1083 442.3 1082.4 442 1082 441.8 1081 441.3 1080.3 441 1080 440.8 1079 440.4 1078.3 440 1078 439.9 1077 439.3 1076.3 439 1076 438.8 1075 438.3 1074.5 438 1074 437.7 1073 437.1 1072.8 437 1072 436.5 1071.3 436 1071 435.8 1070 435.1 1069.8 435 1069 434.4 1068.5 434 1068 433.6 1067.2 433 1067 432.8 1066.1 432 1066 432 1065 431.1 1064.9 431 1064 430.2 1063.7 430 1063 429.4 1062.5 429 1062 428.6 1061.3 428 1061 427.8 1060 427 1060 427 1059 426.3 1058.6 426 1058 425.6 1057.2 425 1057 424.9 1056 424.3 1055.6 424 1055 423.6 1054 423 1054 423 1053 422.5 1052.2 422 1052 421.9 1051 421.3 1050.4 421 1050 420.8 1049 420.2 1048.7 420 1048 419.6 1047 419 1046.9 419 1046 418.5 1045.2 418 1045 417.9 1044 417.3 1043.6 417 1043 416.6 1042.1 416 1042 416 1041 415.3 1040.6 415 1040 414.6 1039.2 414 1039 413.9 1038 413.1 1037.8 413 1037 412.4 1036.5 412 1036 411.6 1035.3 411 1035 410.8 1034 410 1034 410 1033 409.3 1032.7 409 1032 408.5 1031.4 408 1031 407.7 1030 407 1030 407 1029 406.2 1028.7 406 1028 405.5 1027.4 405 1027 404.7 1026.1 404 1026 403.9 1025 403.1 1024.8 403 1024 402.3 1023.6 402 1023 401.4 1022.5 401 1022 400.5 1021.5 400 1021 399.5 1020.5 399 1020 398.4 1019.7 398 1019 397.1 1018.9 397 1018.2 396 1018 395.6 1017.6 395 1017.1 394 1017 393.8 1016.6 393 1016.2 392 1016 391.5 1015.8 391 1015.5 390 1015.2 389 1015 388.2 1014.9 388 1014.7 387 1014.5 386 1014.3 385 1014.1 384 1014 383.3 1014 383 1013.8 382 1013.7 381 1013.5 380 1013.4 379 1013.3 378 1013.1 377 1013 376 1013 376 1012.8 375 1012.6 374 1012.4 373 1012.2 372 1012 371.5 1011.8 371 1011.5 370 1011 369 1011 368.9 1010.5 368 1010 367 1010 367 1009.3 366 1009 365.5 1008.6 365 1008 364.1 1007.9 364 1007.1 363 1007 362.9 1006.3 362 1006 361.6 1005.5 361 1005 360.4 1004.7 360 1004 359.1 1003.9 359 1003.2 358 1003 357.7 1002.5 357 1002 356.1 1002 356 1001.5 355 1001.1 354 1001 353.8 1000.7 353 1000.5 352 1000.4 351 1000.3 350 1000.4 349 1000.5 348 1000.7 347 1001 346.2 1001.1 346 1001.5 345 1002 344 1002 344 1002.6 343 1003 342.5 1003.3 342 1004 341.2 1004.2 341 1005 340.1 1005.1 340 1006 339.1 1006.1 339 1007 338.2 1007.3 338 1008 337.4 1008.6 337 1009 336.7 1009.9 336 1010 336 1011 335.3 1011.4 335 1012 334.6 1013 334 1013.1 334 1014 333.4 1014.8 333 1015 332.9 1016 332.3 1016.6 332 1017 331.8 1018 331.2 1018.4 331 1019 330.7 1020 330.2 1020.3 330 1021 329.6 1022 329.1 1022.2 329 1023 328.6 1024 328 1024.1 328 1025 327.5 1025.9 327 1026 326.9 1027 326.3 1027.6 326 1028 325.8 1029 325.2 1029.3 325 1030 324.6 1030.9 324 1031 324 1032 323.3 1032.5 323 1033 322.7 1034 322.1 1034.1 322 1035 321.4 1035.7 321 1036 320.8 1037 320.2 1037.4 320 1038 319.6 1039 319 1039 319 1040 318.4 1040.8 318 1041 317.9 1042 317.3 1042.6 317 1043 316.8 1044 316.3 1044.5 316 1045 315.8 1046 315.3 1046.6 315 1047 314.8 1048 314.4 1048.8 314 1049 313.9 1050 313.5 1051 313.1 1051.3 313 1052 312.7 1053 312.4 1054 312 1054.2 312 1055 311.7 1056 311.4 1057 311.1 1057.5 311 1058 310.9 1059 310.6 1060 310.4 1061 310.2 1061.8 310 1062 310 1063 309.8 1064 309.6 1065 309.4 1066 309.3 1067 309.2 1068 309 1068.3 309 1069 308.9 1070 308.8 1071 308.8 1072 308.7 1073 308.6 1074 308.6 1075 308.5 1076 308.5 1077 308.5 1078 308.5 1079 308.5 1080 308.5 1081 308.5 1082 308.5 1083 308.6 1084 308.6 1085 308.6 1086 308.7 1087 308.7 1088 308.8 1089 308.8 1090 308.8 1091 308.9 1092 308.9 1093 308.9 1094 309 1095 309 1096 309 1097 309 1098 309 1099 308.9 1100 308.9 1101 308.8 1102 308.8 1103 308.7 1104 308.6 1105 308.5 1106 308.4 1107 308.3 1108 308.1 1108.9 308 1109 308 1110 307.8 1111 307.6 1112 307.5 1113 307.3 1114 307.1 1114.4 307 1115 306.9 1116 306.6 1117 306.4 1118 306.2 1118.9 306 1119 306 1120 305.7 1121 305.5 1122 305.2 1122.8 305 1123 305 1124 304.7 1125 304.4 1126 304.1 1126.4 304 1127 303.8 1128 303.5 1129 303.2 1129.5 303 1130 302.8 1131 302.5 1132 302.1 1132.3 302 1133 301.7 1134 301.3 1134.6 301 1135 300.8 1136 300.3 1136.6 300 1137 299.7 1138 299.1 1138.2 299 1139 298.4 1139.6 298 1140 297.7 1140.8 297 1141 296.8 1141.9 296 1142 295.9 1143 295 1143 295 1144 294.2 1144.2 294 1145 293.5 1145.7 293 1146 292.9 1147 292.4 1148 292 1148 292 1149 291.7 1150 291.5 1151 291.3 1152 291.2 1153 291.1 1154 291 1154.2 291 1155 291 1156 291 1157 291 1158 291 1158.1 291 1159 291 1160 291.1 1161 291.1 1162 291.2 1163 291.2 1164 291.2 1165 291.3 1166 291.3 1167 291.4 1168 291.4 1169 291.4 1170 291.4 1171 291.4 1172 291.4 1173 291.4 1174 291.3 1175 291.3 1176 291.2 1177 291.1 1178 291 1178.2 291 1179 290.9 1180 290.8 1181 290.6 1182 290.5 1183 290.3 1184 290 1184.1 290 1185 289.8 1186 289.5 1187 289.2 1187.6 289 1188 288.9 1189 288.5 1190 288.2 1190.4 288 1191 287.8 1192 287.4 1192.9 287 1193 286.9 1194 286.5 1195 286.1 1195.2 286 1196 285.7 1197 285.3 1197.6 285 1198 284.8 1199 284.4 1200 284 1200 284 1201 283.6 1202 283.2 1202.5 283 1203 282.8 1204 282.4 1205 282.1 1205.1 282 1206 281.7 1207 281.3 1207.9 281 1208 281 1209 280.6 1210 280.3 1210.8 280 1211 280 1212 279.6 1213 279.3 1213.9 279 1214 279 1215 278.7 1216 278.4 1217 278.1 1217.3 278 1218 277.8 1219 277.5 1220 277.2 1220.9 277 1221 277 1222 276.7 1223 276.5 1224 276.2 1225 276 1225 276 1226 275.8 1227 275.6 1228 275.3 1229 275.1 1229.7 275 1230 274.9 1231 274.8 1232 274.6 1233 274.4 1234 274.3 1235 274.1 1235.8 274 M1456.3 405 1457 404.9 1458 404.8 1459 404.7 1460 404.8 1461 404.9 1461.8 405 1462 405 1463 405.2 1464 405.5 1465 405.8 1465.6 406 1466 406.2 1467 406.6 1467.7 407 1468 407.2 1469 407.9 1469.2 408 1470 408.9 1470.1 409 1470.5 410 1470.5 411 1470.1 412 1470 412.1 1469.2 413 1469 413.2 1468 414 1468 414 1467 414.6 1466.2 415 1466 415.1 1465 415.5 1464 416 1463.9 416 1463 416.3 1462 416.7 1461 417 1460.8 417 1460 417.2 1459 417.4 1458 417.6 1457 417.7 1456 417.8 1455 417.8 1454 417.8 1453 417.7 1452 417.4 1451 417.1 1450.9 417 1450 416.4 1449.5 416 1449 415.2 1448.9 415 1448.6 414 1448.6 413 1448.7 412 1449 411.1 1449 411 1449.5 410 1450 409.2 1450.1 409 1451 408 1451 408 1452 407 1452.1 407 1453 406.3 1453.6 406 1454 405.8 1455 405.4 1456 405.1 1456.3 405 M1292.1 310 1293 309.8 1294 309.7 1295 309.5 1296 309.4 1297 309.3 1298 309.2 1299 309.1 1300 309.1 1301 309 1302 309 1303 309 1304 309.1 1305 309.1 1306 309.2 1307 309.3 1308 309.5 1309 309.6 1310 309.8 1310.9 310 1311 310 1312 310.3 1313 310.5 1314 310.8 1314.5 311 1315 311.2 1316 311.6 1317 312 1317.1 312 1318 312.4 1319 312.9 1319.1 313 1320 313.5 1320.8 314 1321 314.2 1322 314.9 1322.1 315 1323 315.8 1323.2 316 1323.9 317 1324 317.1 1324.5 318 1324.8 319 1324.8 320 1324.7 321 1324.4 322 1324 322.9 1323.9 323 1323.3 324 1323 324.5 1322.6 325 1322 325.7 1321.8 326 1321 326.9 1320.9 327 1320 327.9 1319.9 328 1319 329 1319 329 1318.1 330 1318 330.1 1317.2 331 1317 331.2 1316.4 332 1316 332.5 1315.6 333 1315 334 1315 334 1314.4 335 1314 335.9 1314 336 1313.6 337 1313.2 338 1313 338.9 1313 339 1312.8 340 1312.6 341 1312.5 342 1312.4 343 1312.4 344 1312.4 345 1312.4 346 1312.6 347 1312.7 348 1313 349 1313 349 1313.4 350 1313.8 351 1314 351.3 1314.4 352 1315 352.9 1315.1 353 1315.9 354 1316 354.1 1317 355 1317 355 1318 355.9 1318.2 356 1319 356.6 1319.6 357 1320 357.3 1321 357.9 1321.2 358 1322 358.4 1323 358.9 1323.1 359 1324 359.4 1325 359.9 1325.3 360 1326 360.3 1327 360.7 1327.7 361 1328 361.1 1329 361.5 1330 361.8 1330.4 362 1331 362.2 1332 362.6 1333 362.9 1333.3 363 1334 363.2 1335 363.6 1336 363.9 1336.2 364 1337 364.3 1338 364.6 1339 365 1339.1 365 1340 365.3 1341 365.7 1341.7 366 1342 366.1 1343 366.5 1344 367 1344.1 367 1345 367.5 1346 368 1346 368 1347 368.6 1347.6 369 1348 369.3 1348.9 370 1349 370.1 1349.9 371 1350 371.2 1350.6 372 1351 372.9 1351 373 1351.3 374 1351.4 375 1351.3 376 1351.1 377 1351 377.2 1350.7 378 1350.3 379 1350 379.5 1349.7 380 1349.1 381 1349 381.2 1348.4 382 1348 382.6 1347.7 383 1347 383.8 1346.9 384 1346 385 1346 385 1345.2 386 1345 386.2 1344.4 387 1344 387.4 1343.5 388 1343 388.7 1342.7 389 1342 390 1342 390 1341.3 391 1341 391.6 1340.7 392 1340.2 393 1340 393.5 1339.8 394 1339.4 395 1339 396 1339 396.1 1338.8 397 1338.5 398 1338.3 399 1338.2 400 1338.1 401 1338.1 402 1338.2 403 1338.3 404 1338.5 405 1338.8 406 1339 406.6 1339.1 407 1339.6 408 1340 409 1340 409 1340.5 410 1340.9 411 1341 411.2 1341.3 412 1341.6 413 1341.6 414 1341.4 415 1341 415.7 1340.7 416 1340 416.5 1339.2 417 1339 417.1 1338 417.4 1337 417.7 1336 417.9 1335.7 418 1335 418.1 1334 418.2 1333 418.3 1332 418.4 1331 418.5 1330 418.5 1329 418.6 1328 418.6 1327 418.6 1326 418.6 1325 418.6 1324 418.6 1323 418.7 1322 418.7 1321 418.7 1320 418.7 1319 418.8 1318 418.8 1317 418.9 1316 419 1315.6 419 1315 419.1 1314 419.2 1313 419.3 1312 419.5 1311 419.7 1310 419.9 1309.4 420 1309 420.1 1308 420.4 1307 420.6 1306 420.9 1305.8 421 1305 421.3 1304 421.6 1303 422 1302.9 422 1302 422.3 1301 422.7 1300.4 423 1300 423.2 1299 423.6 1298 424 1298 424 1297 424.5 1296 424.9 1295.8 425 1295 425.4 1294 425.9 1293.7 426 1293 426.3 1292 426.8 1291.6 427 1291 427.3 1290 427.8 1289.6 428 1289 428.3 1288 428.8 1287.6 429 1287 429.3 1286 429.8 1285.7 430 1285 430.4 1284 430.9 1283.9 431 1283 431.5 1282.1 432 1282 432.1 1281 432.7 1280.5 433 1280 433.3 1279 434 1279 434 1278 434.7 1277.6 435 1277 435.4 1276.2 436 1276 436.1 1275 436.8 1274.8 437 1274 437.5 1273.3 438 1273 438.2 1272 438.8 1271.7 439 1271 439.4 1270 439.9 1269.8 440 1269 440.3 1268 440.8 1267.4 441 1267 441.1 1266 441.5 1265 441.8 1264.3 442 1264 442.1 1263 442.3 1262 442.5 1261 442.7 1260 442.9 1259.4 443 1259 443.1 1258 443.2 1257 443.3 1256 443.4 1255 443.5 1254 443.6 1253 443.7 1252 443.8 1251 443.9 1250 443.9 1249 444 1249 444 1248 444.1 1247 444.1 1246 444.2 1245 444.3 1244 444.3 1243 444.4 1242 444.5 1241 444.6 1240 444.7 1239 444.9 1238 445 1237.9 445 1237 445.1 1236 445.3 1235 445.5 1234 445.7 1233 445.9 1232.7 446 1232 446.2 1231 446.4 1230 446.7 1229 447 1229 447 1228 447.3 1227 447.7 1226.2 448 1226 448.1 1225 448.5 1224 448.9 1223.7 449 1223 449.3 1222 449.7 1221.4 450 1221 450.2 1220 450.7 1219.3 451 1219 451.1 1218 451.7 1217.3 452 1217 452.2 1216 452.7 1215.4 453 1215 453.2 1214 453.7 1213.5 454 1213 454.3 1212 454.8 1211.7 455 1211 455.4 1210 455.9 1209.9 456 1209 456.5 1208 457 1208 457 1207 457.6 1206 458 1206 458 1205 458.5 1204 458.9 1203.6 459 1203 459.2 1202 459.4 1201 459.6 1200 459.7 1199 459.7 1198 459.6 1197 459.5 1196 459.2 1195.1 459 1195 459 1194 458.7 1193 458.4 1192 458.1 1191.8 458 1191 457.8 1190 457.4 1189 457.1 1188.7 457 1188 456.8 1187 456.5 1186 456.2 1185.2 456 1185 456 1184 455.7 1183 455.5 1182 455.2 1181.1 455 1181 455 1180 454.8 1179 454.6 1178 454.4 1177 454.2 1176 454 1175.8 454 1175 453.9 1174 453.7 1173 453.6 1172 453.5 1171 453.3 1170 453.2 1169 453.1 1168 453 1168 453 1167 452.9 1166 452.8 1165 452.7 1164 452.6 1163 452.5 1162 452.5 1161 452.4 1160 452.3 1159 452.2 1158 452.1 1157.4 452 1157 452 1156 451.8 1155 451.7 1154 451.6 1153 451.5 1152 451.3 1151 451.2 1150.1 451 1150 451 1149 450.8 1148 450.6 1147 450.4 1146 450.2 1145 450 1145 450 1144 449.8 1143 449.5 1142 449.3 1141 449 1140.8 449 1140 448.8 1139 448.5 1138 448.2 1137.2 448 1137 448 1136 447.7 1135 447.4 1134 447.1 1133.8 447 1133 446.7 1132 446.4 1131 446.1 1130.8 446 1130 445.7 1129 445.4 1128 445 1127.9 445 1127 444.7 1126 444.3 1125.2 444 1125 443.9 1124 443.6 1123 443.2 1122.5 443 1122 442.8 1121 442.4 1120 442.1 1119.8 442 1119 441.7 1118 441.3 1117.2 441 1117 440.9 1116 440.6 1115 440.2 1114.5 440 1114 439.8 1113 439.5 1112 439.1 1111.7 439 1111 438.7 1110 438.4 1109 438 1108.9 438 1108 437.7 1107 437.3 1106 437 1106 437 1105 436.6 1104 436.3 1103.1 436 1103 436 1102 435.6 1101 435.3 1100.2 435 1100 434.9 1099 434.6 1098 434.3 1097.3 434 1097 433.9 1096 433.6 1095 433.2 1094.5 433 1094 432.8 1093 432.5 1092 432.1 1091.8 432 1091 431.7 1090 431.3 1089.4 431 1089 430.8 1088 430.4 1087.2 430 1087 429.9 1086 429.4 1085.2 429 1085 428.9 1084 428.4 1083.3 428 1083 427.9 1082 427.3 1081.5 427 1081 426.7 1080 426.1 1079.8 426 1079 425.5 1078.2 425 1078 424.9 1077 424.3 1076.5 424 1076 423.7 1075 423.1 1074.9 423 1074 422.5 1073.2 422 1073 421.9 1072 421.3 1071.4 421 1071 420.8 1070 420.2 1069.6 420 1069 419.7 1068 419.1 1067.7 419 1067 418.6 1066 418.1 1065.9 418 1065 417.5 1064 417 1064 417 1063 416.5 1062.1 416 1062 415.9 1061 415.4 1060.3 415 1060 414.8 1059 414.3 1058.6 414 1058 413.7 1057 413.1 1056.9 413 1056 412.4 1055.3 412 1055 411.8 1054 411.1 1053.8 411 1053 410.4 1052.4 410 1052 409.7 1051 409 1051 409 1050 408.3 1049.6 408 1049 407.6 1048.2 407 1048 406.9 1047 406.2 1046.8 406 1046 405.5 1045.3 405 1045 404.8 1044 404.1 1043.8 404 1043 403.5 1042.3 403 1042 402.8 1041 402.1 1040.8 402 1040 401.5 1039.3 401 1039 400.8 1038 400.1 1037.8 400 1037 399.4 1036.5 399 1036 398.6 1035.3 398 1035 397.8 1034.2 397 1034 396.8 1033.2 396 1033 395.8 1032.4 395 1032 394.5 1031.7 394 1031.1 393 1031 392.9 1030.6 392 1030.2 391 1030 390.5 1029.9 390 1029.6 389 1029.4 388 1029.3 387 1029.3 386 1029.2 385 1029.2 384 1029.2 383 1029.2 382 1029.2 381 1029.2 380 1029.2 379 1029.1 378 1029 377 1029 377 1028.9 376 1028.7 375 1028.4 374 1028.1 373 1028 372.6 1027.8 372 1027.4 371 1027 370.1 1027 370 1026.5 369 1026 368.1 1025.9 368 1025.4 367 1025 366.4 1024.8 366 1024.1 365 1024 364.8 1023.5 364 1023 363.4 1022.7 363 1022 362 1022 362 1021.2 361 1021 360.7 1020.4 360 1020 359.5 1019.6 359 1019 358.2 1018.8 358 1018.1 357 1018 356.9 1017.4 356 1017 355.5 1016.7 355 1016.1 354 1016 353.7 1015.6 353 1015.3 352 1015 351 1015 350.8 1014.9 350 1014.9 349 1015 348.1 1015 348 1015.3 347 1015.7 346 1016 345.4 1016.2 345 1017 344 1017 343.9 1017.8 343 1018 342.8 1018.9 342 1019 341.9 1020 341.1 1020.1 341 1021 340.3 1021.5 340 1022 339.7 1023 339.1 1023.1 339 1024 338.5 1025 338 1025 338 1026 337.5 1027 337 1027 337 1028 336.5 1029 336.1 1029.2 336 1030 335.7 1031 335.2 1031.6 335 1032 334.8 1033 334.4 1034 334 1034 334 1035 333.6 1036 333.2 1036.6 333 1037 332.8 1038 332.4 1039 332 1039.1 332 1040 331.6 1041 331.2 1041.6 331 1042 330.9 1043 330.5 1044 330.1 1044.2 330 1045 329.7 1046 329.3 1046.9 329 1047 328.9 1048 328.6 1049 328.2 1049.6 328 1050 327.9 1051 327.5 1052 327.2 1052.6 327 1053 326.9 1054 326.6 1055 326.3 1056 326 1056 326 1057 325.7 1058 325.5 1059 325.2 1060 325 1060 325 1061 324.8 1062 324.6 1063 324.4 1064 324.2 1065 324 1065.2 324 1066 323.9 1067 323.7 1068 323.6 1069 323.4 1070 323.3 1071 323.2 1072 323.1 1073 323 1073.4 323 1074 322.9 1075 322.9 1076 322.8 1077 322.7 1078 322.6 1079 322.6 1080 322.5 1081 322.5 1082 322.4 1083 322.3 1084 322.3 1085 322.2 1086 322.2 1087 322.1 1088 322 1088.3 322 1089 321.9 1090 321.9 1091 321.8 1092 321.7 1093 321.6 1094 321.5 1095 321.4 1096 321.3 1097 321.2 1098 321.1 1098.7 321 1099 321 1100 320.8 1101 320.7 1102 320.6 1103 320.4 1104 320.3 1105 320.1 1105.8 320 1106 320 1107 319.8 1108 319.6 1109 319.5 1110 319.3 1111 319.1 1111.7 319 1112 318.9 1113 318.8 1114 318.6 1115 318.4 1116 318.2 1117 318 1117 318 1118 317.8 1119 317.6 1120 317.4 1121 317.2 1122 317 1122.1 317 1123 316.8 1124 316.6 1125 316.4 1126 316.3 1127 316.1 1127.4 316 1128 315.9 1129 315.7 1130 315.5 1131 315.4 1132 315.2 1133 315.1 1133.4 315 1134 314.9 1135 314.8 1136 314.6 1137 314.5 1138 314.4 1139 314.2 1140 314.1 1141 314 1141.3 314 1142 313.9 1143 313.8 1144 313.7 1145 313.7 1146 313.6 1147 313.5 1148 313.4 1149 313.4 1150 313.3 1151 313.3 1152 313.2 1153 313.2 1154 313.1 1155 313.1 1156 313.1 1157 313 1158 313 1158 313 1159 313 1160 312.9 1161 312.9 1162 312.9 1163 312.9 1164 312.8 1165 312.8 1166 312.8 1167 312.8 1168 312.8 1169 312.8 1170 312.8 1171 312.8 1172 312.8 1173 312.8 1174 312.8 1175 312.8 1176 312.9 1177 312.9 1178 313 1178.7 313 1179 313 1180 313.1 1181 313.2 1182 313.3 1183 313.4 1184 313.5 1185 313.6 1186 313.7 1187 313.9 1187.9 314 1188 314 1189 314.2 1190 314.3 1191 314.5 1192 314.7 1193 314.8 1193.9 315 1194 315 1195 315.2 1196 315.4 1197 315.6 1198 315.8 1199 315.9 1199.4 316 1200 316.1 1201 316.3 1202 316.5 1203 316.6 1204 316.8 1205 316.9 1205.5 317 1206 317.1 1207 317.2 1208 317.3 1209 317.5 1210 317.6 1211 317.7 1212 317.8 1213 317.9 1213.7 318 1214 318 1215 318.1 1216 318.2 1217 318.3 1218 318.4 1219 318.5 1220 318.5 1221 318.6 1222 318.7 1223 318.8 1224 318.8 1225 318.9 1226 319 1226.4 319 1227 319 1228 319.1 1229 319.2 1230 319.3 1231 319.3 1232 319.4 1233 319.5 1234 319.6 1235 319.6 1236 319.7 1237 319.8 1238 319.9 1239 320 1239.3 320 1240 320.1 1241 320.1 1242 320.2 1243 320.3 1244 320.4 1245 320.4 1246 320.5 1247 320.6 1248 320.6 1249 320.6 1250 320.7 1251 320.7 1252 320.6 1253 320.6 1254 320.6 1255 320.5 1256 320.4 1257 320.3 1258 320.1 1258.7 320 1259 319.9 1260 319.7 1261 319.5 1262 319.3 1263 319 1263.1 319 1264 318.7 1265 318.4 1266 318.1 1266.3 318 1267 317.8 1268 317.4 1269 317 1269.1 317 1270 316.7 1271 316.3 1271.7 316 1272 315.9 1273 315.5 1274 315.1 1274.4 315 1275 314.8 1276 314.4 1277 314.1 1277.2 314 1278 313.7 1279 313.4 1280 313.1 1280.2 313 1281 312.8 1282 312.5 1283 312.2 1283.6 312 1284 311.9 1285 311.6 1286 311.4 1287 311.1 1287.4 311 1288 310.9 1289 310.6 1290 310.4 1291 310.2 1292 310 1292.1 310 M1140.5 322 1141 322 1142 322 1143 322 1144 322 1145 322 1146 322 1146.8 322 1147 322 1148 322 1149 322.1 1150 322.1 1151 322.2 1152 322.3 1153 322.3 1154 322.4 1155 322.5 1156 322.6 1157 322.7 1158 322.8 1159 322.9 1159.6 323 1160 323 1161 323.2 1162 323.3 1163 323.4 1164 323.5 1165 323.7 1166 323.8 1167 324 1167.2 324 1168 324.1 1169 324.3 1170 324.4 1171 324.6 1172 324.8 1173 325 1173.2 325 1174 325.1 1175 325.3 1176 325.5 1177 325.7 1178 326 1178.1 326 1179 326.2 1180 326.4 1181 326.7 1182 326.9 1182.2 327 1183 327.2 1184 327.5 1185 327.8 1185.8 328 1186 328.1 1187 328.4 1188 328.7 1189 329 1189.1 329 1190 329.3 1191 329.6 1192 329.9 1192.3 330 1193 330.2 1194 330.5 1195 330.8 1196 331 1196 331 1197 331.2 1198 331.5 1199 331.6 1200 331.8 1201 331.9 1201.7 332 1202 332 1203 332.1 1204 332.2 1205 332.2 1206 332.3 1207 332.3 1208 332.3 1209 332.3 1210 332.3 1211 332.2 1212 332.2 1213 332.2 1214 332.2 1215 332.2 1216 332.2 1217 332.2 1218 332.2 1219 332.2 1220 332.2 1221 332.3 1222 332.3 1223 332.4 1224 332.5 1225 332.6 1226 332.7 1227 332.8 1228 333 1228.2 333 1229 333.1 1230 333.3 1231 333.5 1232 333.7 1233 334 1233.1 334 1234 334.2 1235 334.5 1236 334.8 1236.7 335 1237 335.1 1238 335.4 1239 335.8 1239.6 336 1240 336.1 1241 336.5 1242 336.9 1242.2 337 1243 337.3 1244 337.7 1244.7 338 1245 338.1 1246 338.6 1247 339 1247.1 339 1248 339.3 1249 339.7 1249.9 340 1250 340 1251 340.3 1252 340.6 1253 340.8 1254 341 1254.3 341 1255 341.1 1256 341.2 1257 341.2 1258 341.2 1259 341.1 1260 341 1260.1 341 1261 340.8 1262 340.6 1263 340.4 1264 340.1 1264.4 340 1265 339.8 1266 339.4 1266.9 339 1267 339 1268 338.5 1269 338 1269 338 1270 337.5 1271 337 1271.1 337 1272 336.6 1273 336.1 1273.4 336 1274 335.8 1275 335.4 1276 335.1 1276.4 335 1277 334.9 1278 334.7 1279 334.6 1280 334.6 1281 334.6 1282 334.8 1282.5 335 1283 335.2 1284 335.7 1284.4 336 1285 336.5 1285.4 337 1286 337.6 1286.3 338 1286.9 339 1287 339.1 1287.6 340 1288 340.6 1288.2 341 1288.8 342 1289 342.3 1289.5 343 1290 343.8 1290.1 344 1290.8 345 1291 345.4 1291.4 346 1292 346.8 1292.1 347 1292.8 348 1293 348.3 1293.5 349 1294 349.6 1294.2 350 1295 351 1295 351 1295.8 352 1296 352.2 1296.6 353 1297 353.4 1297.5 354 1298 354.6 1298.4 355 1299 355.7 1299.3 356 1300 356.8 1300.2 357 1301 357.8 1301.2 358 1302 358.7 1302.3 359 1303 359.7 1303.4 360 1304 360.5 1304.6 361 1305 361.4 1305.8 362 1306 362.2 1307 362.9 1307.2 363 1308 363.6 1308.6 364 1309 364.3 1310 364.9 1310.2 365 1311 365.5 1311.9 366 1312 366 1313 366.6 1313.8 367 1314 367.1 1315 367.6 1315.9 368 1316 368.1 1317 368.5 1318 369 1318 369 1319 369.5 1320 369.9 1320.2 370 1321 370.4 1322 370.9 1322.2 371 1323 371.4 1324 372 1324 372 1325 372.7 1325.5 373 1326 373.4 1326.6 374 1327 374.5 1327.4 375 1327.8 376 1327.9 377 1327.7 378 1327.2 379 1327 379.2 1326.3 380 1326 380.2 1325.1 381 1325 381 1324 381.7 1323.4 382 1323 382.2 1322 382.7 1321.4 383 1321 383.2 1320 383.5 1319 383.9 1318.7 384 1318 384.3 1317 384.6 1316 384.9 1315.7 385 1315 385.2 1314 385.5 1313 385.9 1312.5 386 1312 386.2 1311 386.6 1310.1 387 1310 387 1309 387.6 1308.4 388 1308 388.3 1307.2 389 1307 389.2 1306.4 390 1306 390.5 1305.7 391 1305.1 392 1305 392.1 1304.5 393 1304 393.7 1303.8 394 1303 395 1303 395.1 1302.2 396 1302 396.3 1301.4 397 1301 397.4 1300.5 398 1300 398.5 1299.6 399 1299 399.6 1298.7 400 1298 400.8 1297.8 401 1297 402 1297 402 1296.2 403 1296 403.2 1295.5 404 1295 404.7 1294.8 405 1294.1 406 1294 406.2 1293.5 407 1293 407.9 1292.9 408 1292.3 409 1292 409.5 1291.7 410 1291 411 1291 411 1290.3 412 1290 412.3 1289.4 413 1289 413.4 1288.4 414 1288 414.3 1287.2 415 1287 415.2 1286 415.9 1285.9 416 1285 416.6 1284.4 417 1284 417.2 1283 417.8 1282.6 418 1282 418.3 1281 418.8 1280.6 419 1280 419.3 1279 419.7 1278.3 420 1278 420.1 1277 420.5 1276 420.9 1275.6 421 1275 421.2 1274 421.5 1273 421.9 1272.6 422 1272 422.2 1271 422.5 1270 422.8 1269.3 423 1269 423.1 1268 423.4 1267 423.7 1266 423.9 1265.8 424 1265 424.2 1264 424.5 1263 424.8 1262.3 425 1262 425.1 1261 425.4 1260 425.7 1259 426 1258.8 426 1258 426.2 1257 426.5 1256 426.8 1255.4 427 1255 427.1 1254 427.4 1253 427.7 1252 428 1251.9 428 1251 428.3 1250 428.5 1249 428.8 1248.2 429 1248 429.1 1247 429.3 1246 429.6 1245 429.8 1244.1 430 1244 430 1243 430.3 1242 430.5 1241 430.7 1240 430.9 1239.5 431 1239 431.1 1238 431.3 1237 431.5 1236 431.7 1235 431.9 1234.6 432 1234 432.1 1233 432.3 1232 432.5 1231 432.7 1230 433 1229.9 433 1229 433.2 1228 433.5 1227 433.7 1226 434 1225.9 434 1225 434.3 1224 434.6 1223 434.9 1222.8 435 1222 435.3 1221 435.7 1220.3 436 1220 436.1 1219 436.6 1218.1 437 1218 437 1217 437.6 1216.1 438 1216 438.1 1215 438.6 1214.3 439 1214 439.2 1213 439.7 1212.5 440 1212 440.2 1211 440.8 1210.5 441 1210 441.3 1209 441.7 1208.4 442 1208 442.2 1207 442.6 1206 443 1206 443 1205 443.4 1204 443.7 1203 444 1202.9 444 1202 444.2 1201 444.5 1200 444.7 1199 444.8 1198 445 1197.8 445 1197 445.1 1196 445.2 1195 445.3 1194 445.3 1193 445.3 1192 445.3 1191 445.3 1190 445.3 1189 445.2 1188 445.1 1187 445.1 1186.4 445 1186 445 1185 444.8 1184 444.7 1183 444.6 1182 444.5 1181 444.3 1180 444.2 1179.1 444 1179 444 1178 443.8 1177 443.7 1176 443.5 1175 443.3 1174 443.1 1173.2 443 1173 443 1172 442.8 1171 442.6 1170 442.4 1169 442.3 1168 442.1 1167.5 442 1167 441.9 1166 441.7 1165 441.6 1164 441.4 1163 441.2 1162 441.1 1161.6 441 1161 440.9 1160 440.7 1159 440.6 1158 440.4 1157 440.3 1156 440.1 1155.4 440 1155 439.9 1154 439.8 1153 439.6 1152 439.5 1151 439.3 1150 439.1 1149.4 439 1149 438.9 1148 438.8 1147 438.6 1146 438.4 1145 438.3 1144 438.1 1143.6 438 1143 437.9 1142 437.7 1141 437.5 1140 437.3 1139 437.2 1138.2 437 1138 437 1137 436.8 1136 436.6 1135 436.4 1134 436.2 1133.2 436 1133 436 1132 435.8 1131 435.5 1130 435.3 1129 435.1 1128.6 435 1128 434.9 1127 434.6 1126 434.4 1125 434.1 1124.5 434 1124 433.9 1123 433.6 1122 433.4 1121 433.1 1120.8 433 1120 432.8 1119 432.5 1118 432.2 1117.4 432 1117 431.9 1116 431.6 1115 431.2 1114.3 431 1114 430.9 1113 430.6 1112 430.2 1111.4 430 1111 429.9 1110 429.5 1109 429.1 1108.6 429 1108 428.8 1107 428.4 1106 428 1106 428 1105 427.6 1104 427.2 1103.5 427 1103 426.8 1102 426.4 1101 426 1101 426 1100 425.6 1099 425.1 1098.7 425 1098 424.7 1097 424.3 1096.4 424 1096 423.8 1095 423.4 1094.1 423 1094 422.9 1093 422.5 1092 422 1091.9 422 1091 421.6 1090 421.1 1089.8 421 1089 420.6 1088 420.2 1087.6 420 1087 419.7 1086 419.3 1085.4 419 1085 418.8 1084 418.4 1083.2 418 1083 417.9 1082 417.5 1081 417 1081 417 1080 416.6 1079 416.1 1078.7 416 1078 415.7 1077 415.2 1076.5 415 1076 414.8 1075 414.3 1074.3 414 1074 413.8 1073 413.4 1072.3 413 1072 412.9 1071 412.4 1070.3 412 1070 411.9 1069 411.3 1068.4 411 1068 410.8 1067 410.2 1066.7 410 1066 409.6 1065.1 409 1065 408.9 1064 408.3 1063.6 408 1063 407.6 1062.1 407 1062 406.9 1061 406.2 1060.7 406 1060 405.5 1059.4 405 1059 404.7 1058 404 1058 404 1057 403.3 1056.6 403 1056 402.6 1055.1 402 1055 401.9 1054 401.3 1053.6 401 1053 400.6 1052.1 400 1052 400 1051 399.3 1050.5 399 1050 398.7 1049 398 1049 398 1048 397.3 1047.5 397 1047 396.6 1046.1 396 1046 395.9 1045 395.1 1044.9 395 1044 394.1 1043.9 394 1043 393 1043 393 1042.3 392 1042 391.4 1041.8 391 1041.3 390 1041.1 389 1041 388.7 1040.9 388 1040.8 387 1040.8 386 1040.8 385 1040.9 384 1041 383.3 1041 383 1041.2 382 1041.3 381 1041.4 380 1041.5 379 1041.5 378 1041.4 377 1041.3 376 1041.2 375 1041 374.4 1040.9 374 1040.5 373 1040.1 372 1040 371.7 1039.7 371 1039.1 370 1039 369.8 1038.6 369 1038 368.1 1038 368 1037.3 367 1037 366.5 1036.7 366 1036 365 1036 365 1035.4 364 1035 363.5 1034.7 363 1034 362 1034 362 1033.3 361 1033 360.6 1032.6 360 1032 359.1 1031.9 359 1031.2 358 1031 357.7 1030.5 357 1030 356.3 1029.8 356 1029.2 355 1029 354.7 1028.6 354 1028.1 353 1028 352.9 1027.7 352 1027.4 351 1027.2 350 1027.3 349 1027.5 348 1027.9 347 1028 346.8 1028.5 346 1029 345.4 1029.3 345 1030 344.4 1030.4 344 1031 343.6 1031.8 343 1032 342.9 1033 342.3 1033.4 342 1034 341.7 1035 341.2 1035.4 341 1036 340.7 1037 340.3 1037.6 340 1038 339.8 1039 339.4 1040 339 1040 339 1041 338.6 1042 338.3 1042.7 338 1043 337.9 1044 337.5 1045 337.2 1045.5 337 1046 336.8 1047 336.5 1048 336.2 1048.5 336 1049 335.8 1050 335.5 1051 335.2 1051.5 335 1052 334.9 1053 334.5 1054 334.2 1054.8 334 1055 334 1056 333.7 1057 333.4 1058 333.1 1058.5 333 1059 332.9 1060 332.6 1061 332.4 1062 332.2 1062.9 332 1063 332 1064 331.8 1065 331.6 1066 331.4 1067 331.3 1068 331.1 1068.8 331 1069 331 1070 330.8 1071 330.7 1072 330.6 1073 330.5 1074 330.4 1075 330.3 1076 330.2 1077 330.1 1077.8 330 1078 330 1079 329.9 1080 329.8 1081 329.7 1082 329.6 1083 329.5 1084 329.4 1085 329.3 1086 329.2 1087 329.1 1088 329 1088.3 329 1089 328.9 1090 328.8 1091 328.7 1092 328.6 1093 328.5 1094 328.3 1095 328.2 1096 328.1 1096.6 328 1097 327.9 1098 327.8 1099 327.7 1100 327.5 1101 327.4 1102 327.2 1103 327 1103.3 327 1104 326.9 1105 326.7 1106 326.6 1107 326.4 1108 326.2 1109 326.1 1109.4 326 1110 325.9 1111 325.7 1112 325.6 1113 325.4 1114 325.2 1115 325 1115.3 325 1116 324.9 1117 324.7 1118 324.5 1119 324.4 1120 324.2 1121 324.1 1121.4 324 1122 323.9 1123 323.8 1124 323.6 1125 323.5 1126 323.3 1127 323.2 1128 323 1128.4 323 1129 322.9 1130 322.8 1131 322.7 1132 322.6 1133 322.5 1134 322.4 1135 322.3 1136 322.2 1137 322.2 1138 322.1 1139 322.1 1140 322 1140.5 322 M1132.8 330 1133 330 1134 330 1135 329.9 1136 329.9 1137 329.9 1138 329.9 1139 329.9 1140 329.9 1141 329.9 1142 329.9 1143 329.9 1144 329.9 1145 330 1146 330 1146.2 330 1147 330 1148 330.1 1149 330.1 1150 330.2 1151 330.2 1152 330.3 1153 330.4 1154 330.4 1155 330.5 1156 330.6 1157 330.7 1158 330.8 1159 330.9 1159.5 331 1160 331.1 1161 331.2 1162 331.3 1163 331.5 1164 331.7 1165 331.9 1165.5 332 1166 332.1 1167 332.3 1168 332.6 1169 332.9 1169.5 333 1170 333.2 1171 333.5 1172 333.8 1172.4 334 1173 334.2 1174 334.7 1174.8 335 1175 335.1 1176 335.6 1176.7 336 1177 336.2 1178 336.8 1178.4 337 1179 337.4 1180 338 1180 338 1181 338.7 1181.5 339 1182 339.3 1183 340 1183.1 340 1184 340.5 1184.9 341 1185 341.1 1186 341.5 1187 342 1187 342 1188 342.3 1189 342.7 1190 343 1190.2 343 1191 343.2 1192 343.4 1193 343.5 1194 343.6 1195 343.7 1196 343.8 1197 343.8 1198 343.8 1199 343.8 1200 343.8 1201 343.8 1202 343.7 1203 343.7 1204 343.6 1205 343.5 1206 343.4 1207 343.3 1208 343.3 1209 343.2 1210 343.1 1211 343.1 1212 343 1212.7 343 1213 343 1214 343 1215 343 1216 343 1217 343 1217.2 343 1218 343 1219 343.1 1220 343.2 1221 343.3 1222 343.5 1223 343.6 1224 343.8 1224.8 344 1225 344 1226 344.3 1227 344.5 1228 344.8 1228.5 345 1229 345.2 1230 345.5 1231 345.9 1231.3 346 1232 346.2 1233 346.6 1233.9 347 1234 347 1235 347.4 1236 347.8 1236.4 348 1237 348.2 1238 348.6 1238.9 349 1239 349 1240 349.4 1241 349.8 1241.6 350 1242 350.1 1243 350.5 1244 350.8 1244.7 351 1245 351.1 1246 351.4 1247 351.6 1248 351.9 1248.5 352 1249 352.1 1250 352.3 1251 352.5 1252 352.7 1253 352.9 1253.9 353 1254 353 1255 353.1 1256 353.3 1257 353.4 1258 353.4 1259 353.5 1260 353.6 1261 353.7 1262 353.7 1263 353.8 1264 353.8 1265 353.9 1266 353.9 1267 354 1267.7 354 1268 354 1269 354.1 1270 354.2 1271 354.3 1272 354.4 1273 354.5 1274 354.7 1275 354.9 1275.5 355 1276 355.1 1277 355.4 1278 355.7 1278.9 356 1279 356 1280 356.4 1281 356.9 1281.3 357 1282 357.4 1283 358 1283 358 1284 358.7 1284.5 359 1285 359.4 1285.7 360 1286 360.3 1286.7 361 1287 361.4 1287.6 362 1288 362.6 1288.3 363 1288.9 364 1289 364.2 1289.4 365 1289.8 366 1290 367 1290 367 1290.1 368 1290 368.9 1290 369 1289.7 370 1289.2 371 1289 371.3 1288.5 372 1288 372.6 1287.6 373 1287 373.6 1286.6 374 1286 374.5 1285.5 375 1285 375.5 1284.4 376 1284 376.4 1283.4 377 1283 377.4 1282.5 378 1282 378.6 1281.7 379 1281 380 1281 380 1280.4 381 1280 382 1280 382 1279.7 383 1279.4 384 1279.2 385 1279.1 386 1279.1 387 1279 388 1279 389 1279 389.3 1279 390 1278.9 391 1278.7 392 1278.5 393 1278.2 394 1278 394.4 1277.7 395 1277.2 396 1277 396.3 1276.5 397 1276 397.7 1275.7 398 1275 398.8 1274.8 399 1274 399.8 1273.8 400 1273 400.8 1272.8 401 1272 401.7 1271.7 402 1271 402.7 1270.7 403 1270 403.7 1269.7 404 1269 404.8 1268.8 405 1268 406 1268 406 1267.3 407 1267 407.5 1266.7 408 1266.2 409 1266 409.3 1265.6 410 1265 411 1265 411.1 1264.3 412 1264 412.4 1263.5 413 1263 413.4 1262.4 414 1262 414.3 1261.1 415 1261 415 1260 415.7 1259.5 416 1259 416.3 1258 416.8 1257.6 417 1257 417.3 1256 417.8 1255.5 418 1255 418.2 1254 418.6 1253.1 419 1253 419 1252 419.4 1251 419.8 1250.6 420 1250 420.2 1249 420.6 1248 420.9 1247.8 421 1247 421.3 1246 421.6 1245 421.9 1244.8 422 1244 422.2 1243 422.5 1242 422.8 1241.4 423 1241 423.1 1240 423.4 1239 423.6 1238 423.9 1237.5 424 1237 424.1 1236 424.4 1235 424.6 1234 424.8 1233 425 1232.9 425 1232 425.2 1231 425.4 1230 425.5 1229 425.7 1228 425.9 1227.3 426 1227 426 1226 426.2 1225 426.4 1224 426.5 1223 426.7 1222 426.9 1221.4 427 1221 427.1 1220 427.3 1219 427.5 1218 427.7 1217 427.9 1216.4 428 1216 428.1 1215 428.4 1214 428.6 1213 428.9 1212.7 429 1212 429.2 1211 429.5 1210 429.9 1209.7 430 1209 430.3 1208 430.7 1207.3 431 1207 431.1 1206 431.6 1205.1 432 1205 432 1204 432.5 1203 433 1203 433 1202 433.5 1201 433.9 1200.9 434 1200 434.4 1199 434.8 1198.5 435 1198 435.2 1197 435.5 1196 435.8 1195.3 436 1195 436.1 1194 436.3 1193 436.5 1192 436.7 1191 436.8 1190 436.9 1189 437 1188.7 437 1188 437 1187 437.1 1186 437.1 1185 437.1 1184 437 1183.3 437 1183 437 1182 436.9 1181 436.9 1180 436.8 1179 436.7 1178 436.6 1177 436.5 1176 436.4 1175 436.3 1174 436.2 1173 436.1 1172.6 436 1172 435.9 1171 435.8 1170 435.7 1169 435.5 1168 435.4 1167 435.3 1166 435.1 1165 435 1165 435 1164 434.9 1163 434.7 1162 434.6 1161 434.4 1160 434.3 1159 434.1 1158.1 434 1158 434 1157 433.8 1156 433.7 1155 433.5 1154 433.4 1153 433.2 1152 433.1 1151.5 433 1151 432.9 1150 432.8 1149 432.6 1148 432.4 1147 432.3 1146 432.1 1145.2 432 1145 432 1144 431.8 1143 431.6 1142 431.5 1141 431.3 1140 431.1 1139.3 431 1139 430.9 1138 430.8 1137 430.6 1136 430.4 1135 430.2 1134.1 430 1134 430 1133 429.8 1132 429.5 1131 429.3 1130 429.1 1129.8 429 1129 428.8 1128 428.5 1127 428.3 1126.1 428 1126 428 1125 427.7 1124 427.3 1123 427 1123 427 1122 426.7 1121 426.3 1120.3 426 1120 425.9 1119 425.5 1118 425.1 1117.8 425 1117 424.7 1116 424.2 1115.5 424 1115 423.8 1114 423.3 1113.4 423 1113 422.8 1112 422.3 1111.4 422 1111 421.8 1110 421.3 1109.3 421 1109 420.8 1108 420.3 1107.3 420 1107 419.8 1106 419.4 1105.3 419 1105 418.9 1104 418.4 1103.1 418 1103 418 1102 417.5 1101 417.1 1100.8 417 1100 416.7 1099 416.3 1098.3 416 1098 415.9 1097 415.5 1096 415.1 1095.7 415 1095 414.8 1094 414.4 1093 414.1 1092.8 414 1092 413.7 1091 413.4 1090 413 1089.9 413 1089 412.7 1088 412.4 1087 412 1087 412 1086 411.7 1085 411.3 1084.2 411 1084 410.9 1083 410.6 1082 410.2 1081.6 410 1081 409.8 1080 409.3 1079.2 409 1079 408.9 1078 408.4 1077.1 408 1077 407.9 1076 407.4 1075.3 407 1075 406.8 1074 406.2 1073.6 406 1073 405.6 1072.1 405 1072 404.9 1071 404.2 1070.7 404 1070 403.5 1069.4 403 1069 402.7 1068.1 402 1068 401.9 1067 401.1 1066.9 401 1066 400.3 1065.6 400 1065 399.5 1064.4 399 1064 398.7 1063.2 398 1063 397.9 1062 397.1 1061.9 397 1061 396.3 1060.7 396 1060 395.5 1059.4 395 1059 394.7 1058.2 394 1058 393.8 1057.1 393 1057 392.9 1056.1 392 1056 391.8 1055.3 391 1055 390.5 1054.6 390 1054.1 389 1054 388.6 1053.8 388 1053.5 387 1053.4 386 1053.4 385 1053.4 384 1053.4 383 1053.5 382 1053.5 381 1053.5 380 1053.5 379 1053.4 378 1053.3 377 1053.1 376 1053 375.7 1052.8 375 1052.5 374 1052.1 373 1052 372.8 1051.6 372 1051.1 371 1051 370.8 1050.5 370 1050 369.1 1050 369 1049.3 368 1049 367.5 1048.7 367 1048.1 366 1048 365.9 1047.4 365 1047 364.3 1046.8 364 1046.2 363 1046 362.6 1045.6 362 1045 361 1045 360.9 1044.5 360 1044 359.1 1044 359 1043.4 358 1043 357.1 1042.9 357 1042.5 356 1042 355 1042 354.9 1041.7 354 1041.4 353 1041.2 352 1041.1 351 1041.3 350 1041.6 349 1042 348.2 1042.1 348 1043 347 1043 347 1044 346.1 1044.1 346 1045 345.4 1045.6 345 1046 344.8 1047 344.2 1047.4 344 1048 343.7 1049 343.2 1049.5 343 1050 342.8 1051 342.4 1052 342 1052 342 1053 341.6 1054 341.3 1054.8 341 1055 340.9 1056 340.6 1057 340.3 1058 340 1058.1 340 1059 339.7 1060 339.5 1061 339.2 1061.8 339 1062 339 1063 338.7 1064 338.5 1065 338.3 1066 338.1 1066.4 338 1067 337.9 1068 337.7 1069 337.5 1070 337.4 1071 337.2 1072 337.1 1072.7 337 1073 337 1074 336.8 1075 336.7 1076 336.6 1077 336.5 1078 336.4 1079 336.4 1080 336.3 1081 336.2 1082 336.1 1083 336 1083.4 336 1084 336 1085 335.9 1086 335.8 1087 335.7 1088 335.6 1089 335.6 1090 335.5 1091 335.4 1092 335.3 1093 335.2 1094 335.1 1094.6 335 1095 335 1096 334.8 1097 334.7 1098 334.6 1099 334.4 1100 334.3 1101 334.1 1101.8 334 1102 334 1103 333.8 1104 333.6 1105 333.5 1106 333.3 1107 333.1 1107.7 333 1108 332.9 1109 332.8 1110 332.6 1111 332.4 1112 332.3 1113 332.1 1113.6 332 1114 331.9 1115 331.8 1116 331.6 1117 331.5 1118 331.3 1119 331.2 1120 331.1 1120.6 331 1121 330.9 1122 330.8 1123 330.7 1124 330.6 1125 330.5 1126 330.4 1127 330.3 1128 330.3 1129 330.2 1130 330.1 1131 330.1 1132 330 1132.8 330 M1127.9 337 1128 337 1129 336.9 1130 336.8 1131 336.7 1132 336.7 1133 336.6 1134 336.6 1135 336.5 1136 336.5 1137 336.5 1138 336.5 1139 336.5 1140 336.5 1141 336.5 1142 336.5 1143 336.5 1144 336.5 1145 336.6 1146 336.6 1147 336.6 1148 336.7 1149 336.8 1150 336.9 1151 336.9 1151.5 337 1152 337 1153 337.2 1154 337.3 1155 337.4 1156 337.6 1157 337.8 1158 338 1158.1 338 1159 338.2 1160 338.4 1161 338.7 1161.9 339 1162 339 1163 339.3 1164 339.7 1164.7 340 1165 340.1 1166 340.5 1167 341 1167 341 1168 341.5 1169 342 1169 342 1170 342.5 1170.9 343 1171 343 1172 343.6 1172.8 344 1173 344.1 1174 344.6 1174.7 345 1175 345.1 1176 345.6 1176.8 346 1177 346.1 1178 346.5 1179 346.9 1179.1 347 1180 347.3 1181 347.7 1181.9 348 1182 348 1183 348.3 1184 348.6 1185 348.8 1185.7 349 1186 349.1 1187 349.3 1188 349.4 1189 349.6 1190 349.7 1191 349.8 1192 349.9 1192.7 350 1193 350 1194 350.1 1195 350.1 1196 350.1 1197 350.2 1198 350.2 1199 350.2 1200 350.1 1201 350.1 1202 350.1 1203 350 1204 350 1204.3 350 1205 350 1206 349.9 1207 349.9 1208 349.9 1209 349.8 1210 349.8 1211 349.8 1212 349.8 1213 349.8 1214 349.8 1215 349.9 1216 350 1216.5 350 1217 350 1218 350.1 1219 350.3 1220 350.4 1221 350.6 1222 350.8 1223 351 1223 351 1224 351.2 1225 351.5 1226 351.8 1226.8 352 1227 352.1 1228 352.4 1229 352.7 1229.9 353 1230 353 1231 353.4 1232 353.7 1232.7 354 1233 354.1 1234 354.5 1235 354.9 1235.3 355 1236 355.3 1237 355.7 1237.8 356 1238 356.1 1239 356.5 1240 356.9 1240.3 357 1241 357.3 1242 357.7 1242.7 358 1243 358.1 1244 358.6 1245 359 1245 359 1246 359.4 1247 359.9 1247.3 360 1248 360.4 1249 360.8 1249.3 361 1250 361.4 1251 361.9 1251.2 362 1252 362.5 1252.8 363 1253 363.1 1254 363.9 1254.2 364 1255 364.8 1255.2 365 1256 366 1256 366 1256.6 367 1257 368 1257 368.1 1257.3 369 1257.5 370 1257.8 371 1258 372 1258 372.1 1258.2 373 1258.5 374 1258.8 375 1259 375.7 1259.1 376 1259.4 377 1259.8 378 1260 378.5 1260.2 379 1260.6 380 1260.9 381 1261 381.2 1261.3 382 1261.7 383 1262 384 1262 384 1262.3 385 1262.5 386 1262.7 387 1262.8 388 1262.8 389 1262.8 390 1262.6 391 1262.2 392 1262 392.5 1261.8 393 1261.1 394 1261 394.2 1260.4 395 1260 395.4 1259.5 396 1259 396.5 1258.5 397 1258 397.5 1257.5 398 1257 398.4 1256.4 399 1256 399.3 1255.3 400 1255 400.3 1254.2 401 1254 401.2 1253.1 402 1253 402.1 1252.1 403 1252 403.2 1251.2 404 1251 404.2 1250.3 405 1250 405.4 1249.5 406 1249 406.6 1248.7 407 1248 407.8 1247.8 408 1247 409 1247 409 1246.1 410 1246 410.1 1245.1 411 1245 411.1 1244 412 1244 412 1243 412.8 1242.7 413 1242 413.5 1241.2 414 1241 414.1 1240 414.7 1239.4 415 1239 415.2 1238 415.7 1237.4 416 1237 416.2 1236 416.6 1235 417 1234.9 417 1234 417.3 1233 417.7 1232 418 1232 418 1231 418.3 1230 418.6 1229 418.8 1228.3 419 1228 419.1 1227 419.3 1226 419.5 1225 419.7 1224 419.9 1223.5 420 1223 420.1 1222 420.3 1221 420.5 1220 420.6 1219 420.8 1218 421 1217.7 421 1217 421.1 1216 421.3 1215 421.5 1214 421.6 1213 421.8 1212 422 1212 422 1211 422.2 1210 422.4 1209 422.6 1208 422.8 1207.3 423 1207 423.1 1206 423.3 1205 423.6 1204 423.9 1203.5 424 1203 424.1 1202 424.4 1201 424.8 1200.2 425 1200 425.1 1199 425.4 1198 425.8 1197.3 426 1197 426.1 1196 426.5 1195 426.8 1194.4 427 1194 427.1 1193 427.5 1192 427.8 1191.4 428 1191 428.1 1190 428.4 1189 428.7 1188 428.9 1187.7 429 1187 429.1 1186 429.4 1185 429.5 1184 429.7 1183 429.8 1182 429.9 1181.2 430 1181 430 1180 430.1 1179 430.1 1178 430.2 1177 430.2 1176 430.2 1175 430.2 1174 430.2 1173 430.1 1172 430.1 1171 430 1170.5 430 1170 430 1169 429.9 1168 429.8 1167 429.7 1166 429.6 1165 429.5 1164 429.4 1163 429.3 1162 429.2 1161 429.1 1160.5 429 1160 428.9 1159 428.8 1158 428.7 1157 428.5 1156 428.4 1155 428.2 1154 428.1 1153.4 428 1153 427.9 1152 427.8 1151 427.6 1150 427.5 1149 427.3 1148 427.2 1147.1 427 1147 427 1146 426.8 1145 426.6 1144 426.5 1143 426.3 1142 426.1 1141.6 426 1141 425.9 1140 425.7 1139 425.5 1138 425.2 1137 425 1137 425 1136 424.7 1135 424.5 1134 424.2 1133.3 424 1133 423.9 1132 423.6 1131 423.3 1130.2 423 1130 422.9 1129 422.6 1128 422.2 1127.5 422 1127 421.8 1126 421.4 1125.2 421 1125 420.9 1124 420.4 1123.1 420 1123 420 1122 419.5 1121.1 419 1121 418.9 1120 418.4 1119.3 418 1119 417.9 1118 417.3 1117.4 417 1117 416.8 1116 416.2 1115.6 416 1115 415.7 1114 415.1 1113.8 415 1113 414.6 1112 414.1 1111.9 414 1111 413.6 1110 413.1 1109.8 413 1109 412.6 1108 412.2 1107.6 412 1107 411.7 1106 411.3 1105.2 411 1105 410.9 1104 410.5 1103 410.2 1102.5 410 1102 409.8 1101 409.5 1100 409.2 1099.4 409 1099 408.9 1098 408.6 1097 408.3 1096.1 408 1096 408 1095 407.7 1094 407.4 1093 407.1 1092.8 407 1092 406.8 1091 406.4 1090 406.1 1089.7 406 1089 405.7 1088 405.4 1087.1 405 1087 405 1086 404.5 1085 404.1 1084.8 404 1084 403.6 1083 403 1082.9 403 1082 402.4 1081.3 402 1081 401.8 1080 401.1 1079.9 401 1079 400.3 1078.6 400 1078 399.4 1077.5 399 1077 398.5 1076.5 398 1076 397.5 1075.5 397 1075 396.4 1074.7 396 1074 395.2 1073.8 395 1073 394 1073 394 1072.3 393 1072 392.6 1071.5 392 1071 391.2 1070.9 391 1070.3 390 1070 389.5 1069.7 389 1069.2 388 1069 387.6 1068.7 387 1068.3 386 1068 385.3 1067.9 385 1067.5 384 1067.1 383 1067 382.8 1066.7 382 1066.3 381 1066 380.4 1065.8 380 1065.4 379 1065 378.3 1064.9 378 1064.4 377 1064 376.3 1063.9 376 1063.3 375 1063 374.4 1062.8 374 1062.2 373 1062 372.6 1061.6 372 1061.1 371 1061 370.9 1060.5 370 1060 369.1 1059.9 369 1059.4 368 1059 367.3 1058.8 367 1058.3 366 1058 365.4 1057.8 365 1057.4 364 1057 363.1 1056.9 363 1056.6 362 1056.2 361 1056 360.2 1055.9 360 1055.7 359 1055.5 358 1055.4 357 1055.3 356 1055.4 355 1055.5 354 1055.7 353 1056 352.3 1056.1 352 1056.7 351 1057 350.6 1057.5 350 1058 349.5 1058.6 349 1059 348.7 1060 348 1060.1 348 1061 347.5 1061.9 347 1062 347 1063 346.5 1064 346.1 1064.4 346 1065 345.8 1066 345.5 1067 345.2 1067.6 345 1068 344.9 1069 344.6 1070 344.4 1071 344.2 1072 344 1072.2 344 1073 343.9 1074 343.7 1075 343.6 1076 343.4 1077 343.3 1078 343.2 1079 343.1 1080 343.1 1080.7 343 1081 343 1082 342.9 1083 342.9 1084 342.8 1085 342.8 1086 342.7 1087 342.7 1088 342.6 1089 342.6 1090 342.5 1091 342.5 1092 342.4 1093 342.4 1094 342.3 1095 342.2 1096 342.2 1097 342.1 1097.9 342 1098 342 1099 341.9 1100 341.8 1101 341.6 1102 341.5 1103 341.3 1104 341.2 1104.9 341 1105 341 1106 340.8 1107 340.6 1108 340.4 1109 340.2 1110 340 1110 340 1111 339.8 1112 339.6 1113 339.4 1114 339.1 1114.7 339 1115 338.9 1116 338.7 1117 338.5 1118 338.4 1119 338.2 1120 338 1120.1 338 1121 337.9 1122 337.7 1123 337.6 1124 337.4 1125 337.3 1126 337.2 1127 337.1 1127.9 337 M1129.1 342 1130 341.9 1131 341.8 1132 341.7 1133 341.6 1134 341.5 1135 341.5 1136 341.4 1137 341.4 1138 341.4 1139 341.4 1140 341.4 1141 341.4 1142 341.4 1143 341.5 1144 341.5 1145 341.6 1146 341.7 1147 341.8 1148 341.9 1148.9 342 1149 342 1150 342.1 1151 342.3 1152 342.5 1153 342.7 1154 342.9 1154.4 343 1155 343.1 1156 343.4 1157 343.7 1158 344 1158.1 344 1159 344.3 1160 344.6 1161 345 1161.1 345 1162 345.3 1163 345.7 1163.6 346 1164 346.2 1165 346.6 1166 347 1166 347 1167 347.4 1168 347.9 1168.3 348 1169 348.3 1170 348.8 1170.6 349 1171 349.2 1172 349.6 1172.9 350 1173 350 1174 350.4 1175 350.8 1175.5 351 1176 351.2 1177 351.5 1178 351.9 1178.4 352 1179 352.2 1180 352.5 1181 352.8 1181.9 353 1182 353 1183 353.3 1184 353.5 1185 353.7 1186 353.8 1186.9 354 1187 354 1188 354.2 1189 354.3 1190 354.4 1191 354.5 1192 354.6 1193 354.6 1194 354.7 1195 354.8 1196 354.8 1197 354.8 1198 354.8 1199 354.9 1200 354.9 1201 354.9 1202 354.9 1203 354.9 1204 354.9 1205 354.9 1206 354.9 1207 354.9 1208 354.9 1209 355 1209.6 355 1210 355 1211 355.1 1212 355.1 1213 355.2 1214 355.3 1215 355.4 1216 355.5 1217 355.7 1218 355.8 1218.9 356 1219 356 1220 356.2 1221 356.5 1222 356.7 1223 357 1223.1 357 1224 357.3 1225 357.6 1226 357.9 1226.2 358 1227 358.3 1228 358.7 1228.7 359 1229 359.1 1230 359.6 1230.9 360 1231 360.1 1232 360.6 1232.7 361 1233 361.2 1234 361.8 1234.3 362 1235 362.5 1235.7 363 1236 363.3 1236.8 364 1237 364.2 1237.8 365 1238 365.3 1238.6 366 1239 366.7 1239.2 367 1239.7 368 1240 368.6 1240.2 369 1240.5 370 1240.8 371 1241 371.9 1241 372 1241.2 373 1241.4 374 1241.6 375 1241.8 376 1241.9 377 1242 377.3 1242.1 378 1242.4 379 1242.6 380 1242.9 381 1243 381.2 1243.3 382 1243.7 383 1244 383.6 1244.2 384 1244.6 385 1245 385.7 1245.1 386 1245.6 387 1246 388 1246 388.1 1246.3 389 1246.4 390 1246.5 391 1246.4 392 1246.1 393 1246 393.2 1245.7 394 1245.1 395 1245 395.2 1244.5 396 1244 396.6 1243.7 397 1243 397.9 1242.9 398 1242 399 1242 399 1241.1 400 1241 400.1 1240.2 401 1240 401.2 1239.2 402 1239 402.2 1238.2 403 1238 403.2 1237.2 404 1237 404.2 1236.2 405 1236 405.2 1235.1 406 1235 406.1 1234 407 1234 407 1233 407.8 1232.7 408 1232 408.5 1231.3 409 1231 409.2 1230 409.8 1229.7 410 1229 410.4 1228 411 1228 411 1227 411.5 1226 411.9 1225.9 412 1225 412.4 1224 412.8 1223.4 413 1223 413.1 1222 413.5 1221 413.8 1220.5 414 1220 414.1 1219 414.4 1218 414.7 1217 415 1217 415 1216 415.3 1215 415.5 1214 415.8 1213.2 416 1213 416 1212 416.3 1211 416.5 1210 416.8 1209.1 417 1209 417 1208 417.3 1207 417.5 1206 417.8 1205 418 1205 418 1204 418.3 1203 418.5 1202 418.8 1201.2 419 1201 419 1200 419.3 1199 419.6 1198 419.9 1197.5 420 1197 420.1 1196 420.4 1195 420.7 1194 421 1193.8 421 1193 421.2 1192 421.5 1191 421.8 1190.1 422 1190 422 1189 422.3 1188 422.5 1187 422.8 1186 423 1185.9 423 1185 423.2 1184 423.4 1183 423.6 1182 423.8 1181 423.9 1180.3 424 1180 424 1179 424.2 1178 424.3 1177 424.3 1176 424.4 1175 424.5 1174 424.5 1173 424.5 1172 424.5 1171 424.5 1170 424.5 1169 424.5 1168 424.4 1167 424.4 1166 424.3 1165 424.2 1164 424.1 1163 424 1162.8 424 1162 423.9 1161 423.8 1160 423.7 1159 423.6 1158 423.4 1157 423.3 1156 423.2 1155 423 1154.9 423 1154 422.9 1153 422.7 1152 422.6 1151 422.4 1150 422.2 1149 422 1148.8 422 1148 421.8 1147 421.7 1146 421.4 1145 421.2 1144 421 1143.9 421 1143 420.8 1142 420.5 1141 420.3 1140 420 1140 420 1139 419.7 1138 419.4 1137 419.1 1136.7 419 1136 418.8 1135 418.4 1134 418 1133.9 418 1133 417.6 1132 417.2 1131.5 417 1131 416.8 1130 416.3 1129.4 416 1129 415.8 1128 415.3 1127.4 415 1127 414.8 1126 414.3 1125.5 414 1125 413.7 1124 413.1 1123.7 413 1123 412.6 1122 412 1122 412 1121 411.4 1120.3 411 1120 410.8 1119 410.2 1118.6 410 1118 409.6 1117 409 1116.9 409 1116 408.5 1115.2 408 1115 407.9 1114 407.3 1113.4 407 1113 406.8 1112 406.3 1111.4 406 1111 405.8 1110 405.3 1109.3 405 1109 404.9 1108 404.4 1107 404 1107 404 1106 403.6 1105 403.2 1104.4 403 1104 402.8 1103 402.5 1102 402.1 1101.7 402 1101 401.8 1100 401.4 1099 401 1098.9 401 1098 400.6 1097 400.3 1096.4 400 1096 399.8 1095 399.4 1094.2 399 1094 398.9 1093 398.4 1092.3 398 1092 397.8 1091 397.2 1090.7 397 1090 396.5 1089.4 396 1089 395.6 1088.3 395 1088 394.7 1087.3 394 1087 393.6 1086.5 393 1086 392.4 1085.7 392 1085.1 391 1085 390.9 1084.5 390 1084 389.2 1083.9 389 1083.3 388 1083 387.4 1082.8 387 1082.2 386 1082 385.7 1081.6 385 1081 384.1 1080.9 384 1080.2 383 1080 382.8 1079.4 382 1079 381.6 1078.5 381 1078 380.5 1077.6 380 1077 379.4 1076.6 379 1076 378.3 1075.7 378 1075 377.3 1074.7 377 1074 376.2 1073.8 376 1073 375.1 1072.9 375 1072.1 374 1072 373.9 1071.2 373 1071 372.7 1070.5 372 1070 371.3 1069.8 371 1069.1 370 1069 369.8 1068.5 369 1068 368.1 1068 368 1067.5 367 1067.1 366 1067 365.8 1066.7 365 1066.4 364 1066.3 363 1066.1 362 1066.1 361 1066.2 360 1066.4 359 1066.7 358 1067 357.2 1067.1 357 1067.7 356 1068 355.5 1068.4 355 1069 354.4 1069.4 354 1070 353.5 1070.7 353 1071 352.8 1072 352.3 1072.5 352 1073 351.8 1074 351.3 1074.9 351 1075 351 1076 350.7 1077 350.4 1078 350.1 1078.6 350 1079 349.9 1080 349.7 1081 349.5 1082 349.4 1083 349.3 1084 349.1 1085 349 1085.4 349 1086 348.9 1087 348.9 1088 348.8 1089 348.7 1090 348.6 1091 348.6 1092 348.5 1093 348.5 1094 348.4 1095 348.3 1096 348.3 1097 348.2 1098 348.1 1099 348 1099.3 348 1100 347.9 1101 347.8 1102 347.7 1103 347.6 1104 347.4 1105 347.3 1106 347.1 1106.4 347 1107 346.9 1108 346.7 1109 346.5 1110 346.2 1110.9 346 1111 346 1112 345.7 1113 345.5 1114 345.2 1114.8 345 1115 344.9 1116 344.7 1117 344.4 1118 344.2 1118.7 344 1119 343.9 1120 343.7 1121 343.4 1122 343.2 1123 343 1123 343 1124 342.8 1125 342.6 1126 342.5 1127 342.3 1128 342.1 1129 342 1129.1 342 M1134 346 1134 346 1135 345.9 1136 345.8 1137 345.8 1138 345.7 1139 345.7 1140 345.7 1141 345.7 1142 345.8 1143 345.8 1144 345.9 1145 346 1145.4 346 1146 346.1 1147 346.2 1148 346.3 1149 346.5 1150 346.7 1151 346.9 1151.7 347 1152 347.1 1153 347.3 1154 347.6 1155 347.8 1155.5 348 1156 348.1 1157 348.5 1158 348.8 1158.6 349 1159 349.1 1160 349.5 1161 349.9 1161.3 350 1162 350.3 1163 350.7 1163.8 351 1164 351.1 1165 351.5 1166 351.9 1166.2 352 1167 352.3 1168 352.8 1168.5 353 1169 353.2 1170 353.6 1170.9 354 1171 354 1172 354.4 1173 354.8 1173.5 355 1174 355.2 1175 355.6 1176 355.9 1176.3 356 1177 356.2 1178 356.6 1179 356.8 1179.6 357 1180 357.1 1181 357.4 1182 357.6 1183 357.8 1184 358 1184 358 1185 358.2 1186 358.3 1187 358.5 1188 358.6 1189 358.7 1190 358.8 1191 358.9 1192 359 1192.5 359 1193 359 1194 359.1 1195 359.1 1196 359.2 1197 359.2 1198 359.3 1199 359.3 1200 359.3 1201 359.3 1202 359.4 1203 359.4 1204 359.4 1205 359.5 1206 359.5 1207 359.6 1208 359.7 1209 359.8 1210 359.9 1211 360 1211.3 360 1212 360.1 1213 360.2 1214 360.4 1215 360.6 1216 360.8 1216.9 361 1217 361 1218 361.3 1219 361.6 1220 361.9 1220.2 362 1221 362.3 1222 362.7 1222.6 363 1223 363.2 1224 363.7 1224.4 364 1225 364.4 1225.9 365 1226 365.1 1227 365.9 1227.1 366 1228 367 1228 367 1228.8 368 1229 368.4 1229.4 369 1229.8 370 1230 370.6 1230.1 371 1230.4 372 1230.5 373 1230.6 374 1230.5 375 1230.5 376 1230.3 377 1230.2 378 1230 378.9 1230 379 1229.8 380 1229.5 381 1229.3 382 1229.1 383 1229 383.3 1228.9 384 1228.7 385 1228.6 386 1228.6 387 1228.6 388 1228.7 389 1228.8 390 1228.9 391 1229 392 1228.9 393 1228.8 394 1228.6 395 1228.3 396 1228 396.8 1227.9 397 1227.4 398 1227 398.6 1226.7 399 1226 400 1226 400 1225.2 401 1225 401.2 1224.3 402 1224 402.3 1223.3 403 1223 403.3 1222.2 404 1222 404.2 1221 405 1221 405 1220 405.8 1219.7 406 1219 406.5 1218.3 407 1218 407.2 1217 407.8 1216.7 408 1216 408.4 1215 408.9 1214.9 409 1214 409.4 1213 409.9 1212.9 410 1212 410.4 1211 410.8 1210.6 411 1210 411.3 1209 411.7 1208.1 412 1208 412 1207 412.4 1206 412.8 1205.4 413 1205 413.1 1204 413.5 1203 413.8 1202.4 414 1202 414.1 1201 414.5 1200 414.8 1199.2 415 1199 415.1 1198 415.4 1197 415.7 1196 415.9 1195.8 416 1195 416.2 1194 416.5 1193 416.8 1192 417 1192 417 1191 417.3 1190 417.5 1189 417.7 1188 417.9 1187.7 418 1187 418.2 1186 418.4 1185 418.5 1184 418.7 1183 418.9 1182.1 419 1182 419 1181 419.1 1180 419.3 1179 419.4 1178 419.5 1177 419.5 1176 419.6 1175 419.6 1174 419.7 1173 419.7 1172 419.7 1171 419.6 1170 419.6 1169 419.6 1168 419.5 1167 419.5 1166 419.4 1165 419.3 1164 419.2 1163 419.1 1162.4 419 1162 419 1161 418.8 1160 418.7 1159 418.5 1158 418.4 1157 418.2 1156 418.1 1155.6 418 1155 417.9 1154 417.7 1153 417.5 1152 417.3 1151 417.1 1150.5 417 1150 416.9 1149 416.7 1148 416.4 1147 416.2 1146.3 416 1146 415.9 1145 415.6 1144 415.4 1143 415.1 1142.8 415 1142 414.7 1141 414.4 1140 414.1 1139.8 414 1139 413.7 1138 413.3 1137.3 413 1137 412.9 1136 412.4 1135 412 1135 412 1134 411.5 1133 411 1133 411 1132 410.5 1131.2 410 1131 409.9 1130 409.3 1129.5 409 1129 408.7 1128 408 1127.9 408 1127 407.4 1126.5 407 1126 406.7 1125 406 1125 406 1124 405.2 1123.7 405 1123 404.5 1122.3 404 1122 403.7 1121 403 1121 403 1120 402.3 1119.6 402 1119 401.6 1118.1 401 1118 400.9 1117 400.3 1116.5 400 1116 399.7 1115 399.2 1114.6 399 1114 398.7 1113 398.2 1112.7 398 1112 397.7 1111 397.2 1110.5 397 1110 396.8 1109 396.3 1108.2 396 1108 395.9 1107 395.5 1106 395 1106 395 1105 394.5 1104 394 1103.9 394 1103 393.5 1102.1 393 1102 392.9 1101 392.3 1100.5 392 1100 391.7 1099.1 391 1099 390.9 1098 390 1098 390 1097 389.1 1096.9 389 1096 388 1096 388 1095.2 387 1095 386.8 1094.4 386 1094 385.5 1093.6 385 1093 384.2 1092.8 384 1092 383 1092 383 1091 382 1091 382 1090 381 1090 381 1089 380.1 1088.9 380 1088 379.2 1087.7 379 1087 378.4 1086.5 378 1086 377.6 1085.2 377 1085 376.9 1084 376.1 1083.9 376 1083 375.3 1082.6 375 1082 374.5 1081.4 374 1081 373.7 1080.2 373 1080 372.8 1079.2 372 1079 371.8 1078.2 371 1078 370.7 1077.4 370 1077 369.4 1076.7 369 1076.1 368 1076 367.7 1075.7 367 1075.3 366 1075.1 365 1075 364 1075.1 363 1075.3 362 1075.7 361 1076 360.5 1076.3 360 1077 359.2 1077.2 359 1078 358.3 1078.4 358 1079 357.6 1079.9 357 1080 357 1081 356.5 1082 356.1 1082.2 356 1083 355.7 1084 355.4 1085 355.2 1085.7 355 1086 354.9 1087 354.7 1088 354.6 1089 354.4 1090 354.3 1091 354.2 1092 354.1 1092.6 354 1093 354 1094 353.9 1095 353.8 1096 353.7 1097 353.7 1098 353.6 1099 353.5 1100 353.5 1101 353.4 1102 353.3 1103 353.2 1104 353.1 1105 353 1105.2 353 1106 352.9 1107 352.8 1108 352.6 1109 352.4 1110 352.2 1111 352 1111.1 352 1112 351.8 1113 351.5 1114 351.2 1114.8 351 1115 350.9 1116 350.6 1117 350.3 1117.9 350 1118 350 1119 349.6 1120 349.3 1120.9 349 1121 349 1122 348.6 1123 348.3 1124 348 1124 348 1125 347.7 1126 347.5 1127 347.2 1127.9 347 1128 347 1129 346.8 1130 346.6 1131 346.4 1132 346.2 1133 346.1 1134 346 M1134 351 1135 350.8 1136 350.7 1137 350.5 1138 350.4 1139 350.3 1140 350.3 1141 350.3 1142 350.3 1143 350.3 1144 350.3 1145 350.4 1146 350.5 1147 350.6 1148 350.8 1149 350.9 1149.3 351 1150 351.1 1151 351.4 1152 351.6 1153 351.9 1153.5 352 1154 352.1 1155 352.5 1156 352.8 1156.6 353 1157 353.1 1158 353.5 1159 353.9 1159.3 354 1160 354.3 1161 354.7 1161.6 355 1162 355.2 1163 355.6 1163.8 356 1164 356.1 1165 356.6 1166 357 1166 357 1167 357.5 1168 358 1168.1 358 1169 358.4 1170 358.9 1170.3 359 1171 359.3 1172 359.7 1172.7 360 1173 360.1 1174 360.5 1175 360.9 1175.4 361 1176 361.2 1177 361.5 1178 361.8 1178.9 362 1179 362 1180 362.3 1181 362.5 1182 362.7 1183 362.8 1184 363 1184.1 363 1185 363.1 1186 363.2 1187 363.3 1188 363.4 1189 363.5 1190 363.6 1191 363.6 1192 363.7 1193 363.7 1194 363.8 1195 363.8 1196 363.9 1197 363.9 1198 363.9 1199 364 1199.4 364 1200 364 1201 364.1 1202 364.1 1203 364.2 1204 364.3 1205 364.4 1206 364.5 1207 364.6 1208 364.8 1209 364.9 1209.4 365 1210 365.1 1211 365.4 1212 365.6 1213 365.9 1213.2 366 1214 366.3 1215 366.7 1215.6 367 1216 367.2 1217 367.8 1217.3 368 1218 368.6 1218.5 369 1219 369.6 1219.3 370 1220 371 1220 371.1 1220.4 372 1220.6 373 1220.7 374 1220.6 375 1220.4 376 1220.1 377 1220 377.3 1219.7 378 1219.2 379 1219 379.4 1218.6 380 1218 381 1218 381 1217.3 382 1217 382.5 1216.6 383 1216 383.9 1215.9 384 1215.2 385 1215 385.4 1214.6 386 1214 387 1214 387.1 1213.5 388 1213.1 389 1213 389.4 1212.8 390 1212.5 391 1212.3 392 1212.2 393 1212.1 394 1212 394.5 1211.9 395 1211.8 396 1211.7 397 1211.4 398 1211.2 399 1211 399.4 1210.8 400 1210.3 401 1210 401.6 1209.8 402 1209.1 403 1209 403.1 1208.3 404 1208 404.3 1207.4 405 1207 405.4 1206.3 406 1206 406.2 1205 407 1205 407 1204 407.7 1203.6 408 1203 408.3 1202 408.9 1201.9 409 1201 409.5 1200 410 1199.9 410 1199 410.4 1198 410.9 1197.7 411 1197 411.3 1196 411.6 1195 412 1195 412 1194 412.3 1193 412.7 1192 413 1191.9 413 1191 413.3 1190 413.5 1189 413.8 1188.1 414 1188 414 1187 414.2 1186 414.4 1185 414.6 1184 414.8 1183 414.9 1182.6 415 1182 415.1 1181 415.2 1180 415.3 1179 415.4 1178 415.4 1177 415.5 1176 415.5 1175 415.5 1174 415.5 1173 415.5 1172 415.5 1171 415.4 1170 415.4 1169 415.3 1168 415.2 1167 415.1 1166.3 415 1166 415 1165 414.8 1164 414.7 1163 414.5 1162 414.3 1161 414.2 1160.1 414 1160 414 1159 413.8 1158 413.5 1157 413.3 1156 413.1 1155.6 413 1155 412.8 1154 412.6 1153 412.3 1152 412 1151.9 412 1151 411.7 1150 411.4 1149 411.1 1148.6 411 1148 410.8 1147 410.4 1146 410.1 1145.8 410 1145 409.7 1144 409.3 1143.3 409 1143 408.9 1142 408.4 1141.1 408 1141 407.9 1140 407.4 1139.2 407 1139 406.9 1138 406.3 1137.5 406 1137 405.6 1136.1 405 1136 405 1135 404.2 1134.7 404 1134 403.4 1133.5 403 1133 402.5 1132.4 402 1132 401.6 1131.3 401 1131 400.7 1130.2 400 1130 399.8 1129.1 399 1129 398.9 1128 398.1 1127.9 398 1127 397.3 1126.6 397 1126 396.6 1125 396 1125 396 1124 395.4 1123.2 395 1123 394.9 1122 394.4 1121.1 394 1121 394 1120 393.5 1119 393.1 1118.7 393 1118 392.7 1117 392.3 1116.3 392 1116 391.9 1115 391.5 1114 391 1113.9 391 1113 390.6 1112 390.1 1111.7 390 1111 389.6 1110 389.1 1109.9 389 1109 388.5 1108.2 388 1108 387.9 1107 387.1 1106.8 387 1106 386.4 1105.6 386 1105 385.5 1104.4 385 1104 384.6 1103.4 384 1103 383.6 1102.4 383 1102 382.6 1101.4 382 1101 381.6 1100.4 381 1100 380.6 1099.4 380 1099 379.7 1098.3 379 1098 378.8 1097.1 378 1097 377.9 1096 377.1 1095.8 377 1095 376.4 1094.5 376 1094 375.6 1093.1 375 1093 374.9 1092 374.2 1091.7 374 1091 373.5 1090.4 373 1090 372.7 1089.1 372 1089 371.9 1088 371.1 1087.9 371 1087 370.1 1086.9 370 1086.1 369 1086 368.9 1085.4 368 1085 367 1085 367 1084.8 366 1084.8 365 1085 364.5 1085.2 364 1085.9 363 1086 362.9 1087 362 1087 362 1088 361.4 1088.8 361 1089 360.9 1090 360.6 1091 360.2 1091.9 360 1092 360 1093 359.8 1094 359.6 1095 359.4 1096 359.3 1097 359.2 1098 359.1 1099 359 1099.2 359 1100 358.9 1101 358.9 1102 358.8 1103 358.7 1104 358.7 1105 358.6 1106 358.5 1107 358.4 1108 358.3 1109 358.2 1110 358.1 1110.9 358 1111 358 1112 357.8 1113 357.7 1114 357.5 1115 357.3 1116 357 1116.1 357 1117 356.8 1118 356.5 1119 356.2 1119.6 356 1120 355.9 1121 355.5 1122 355.1 1122.4 355 1123 354.8 1124 354.4 1124.9 354 1125 354 1126 353.6 1127 353.2 1127.4 353 1128 352.8 1129 352.4 1130 352.1 1130.2 352 1131 351.8 1132 351.5 1133 351.2 1134 351 1134 351 M1141.1 356 1142 355.9 1143 355.9 1144 355.9 1145 355.9 1146 356 1146.2 356 1147 356.1 1148 356.2 1149 356.4 1150 356.6 1151 356.9 1151.5 357 1152 357.1 1153 357.5 1154 357.8 1154.5 358 1155 358.2 1156 358.6 1156.8 359 1157 359.1 1158 359.6 1158.9 360 1159 360.1 1160 360.6 1160.7 361 1161 361.1 1162 361.7 1162.5 362 1163 362.3 1164 362.8 1164.3 363 1165 363.4 1166 364 1166.1 364 1167 364.5 1168 365 1168 365 1169 365.5 1170 365.9 1170.2 366 1171 366.3 1172 366.7 1172.8 367 1173 367.1 1174 367.4 1175 367.6 1176 367.9 1176.6 368 1177 368.1 1178 368.3 1179 368.5 1180 368.6 1181 368.7 1182 368.8 1183 368.9 1184 369 1184 369 1185 369.1 1186 369.1 1187 369.2 1188 369.2 1189 369.3 1190 369.3 1191 369.4 1192 369.4 1193 369.5 1194 369.5 1195 369.6 1196 369.7 1197 369.7 1198 369.8 1199 370 1199.4 370 1200 370.1 1201 370.3 1202 370.5 1203 370.7 1204 371 1204 371 1205 371.4 1206 371.9 1206.2 372 1207 372.6 1207.4 373 1208 373.8 1208.1 374 1208.4 375 1208.5 376 1208.3 377 1208 377.7 1207.9 378 1207.4 379 1207 379.6 1206.7 380 1206.1 381 1206 381.1 1205.3 382 1205 382.4 1204.6 383 1204 383.8 1203.8 384 1203.1 385 1203 385.2 1202.5 386 1202 386.8 1201.9 387 1201.3 388 1201 388.7 1200.8 389 1200.4 390 1200.1 391 1200 391.4 1199.8 392 1199.6 393 1199.5 394 1199.4 395 1199.4 396 1199.3 397 1199.2 398 1199.1 399 1199 399.8 1199 400 1198.7 401 1198.4 402 1198 402.7 1197.9 403 1197.2 404 1197 404.3 1196.4 405 1196 405.3 1195.3 406 1195 406.2 1194 407 1193.9 407 1193 407.6 1192.2 408 1192 408.1 1191 408.6 1190 409 1190 409 1189 409.4 1188 409.7 1187.1 410 1187 410 1186 410.3 1185 410.5 1184 410.7 1183 410.9 1182.6 411 1182 411.1 1181 411.2 1180 411.3 1179 411.4 1178 411.5 1177 411.5 1176 411.5 1175 411.5 1174 411.5 1173 411.4 1172 411.3 1171 411.2 1170 411.1 1169.2 411 1169 411 1168 410.8 1167 410.6 1166 410.4 1165 410.2 1164.2 410 1164 410 1163 409.7 1162 409.4 1161 409.1 1160.6 409 1160 408.8 1159 408.5 1158 408.1 1157.7 408 1157 407.7 1156 407.3 1155.2 407 1155 406.9 1154 406.5 1153 406 1153 406 1152 405.5 1151.1 405 1151 405 1150 404.4 1149.4 404 1149 403.7 1148 403 1148 403 1147 402.2 1146.8 402 1146 401.2 1145.8 401 1145 400 1145 400 1144.3 399 1144 398.5 1143.7 398 1143.1 397 1143 396.7 1142.6 396 1142 395 1142 395 1141.3 394 1141 393.6 1140.4 393 1140 392.7 1139 392 1139 392 1138 391.5 1137 391.1 1136.8 391 1136 390.7 1135 390.4 1134 390.1 1133.4 390 1133 389.9 1132 389.7 1131 389.4 1130 389.2 1129.1 389 1129 389 1128 388.8 1127 388.5 1126 388.3 1125 388.1 1124.8 388 1124 387.8 1123 387.5 1122 387.2 1121.3 387 1121 386.9 1120 386.6 1119 386.2 1118.5 386 1118 385.8 1117 385.3 1116.3 385 1116 384.9 1115 384.3 1114.5 384 1114 383.7 1113 383.1 1112.9 383 1112 382.3 1111.6 382 1111 381.6 1110.3 381 1110 380.7 1109.2 380 1109 379.8 1108.1 379 1108 378.9 1107.1 378 1107 377.9 1106 377 1106 377 1105 376 1105 376 1104 375 1104 375 1103 374 1103 373.9 1102.1 373 1102 372.9 1101.2 372 1101 371.7 1100.5 371 1100 370.2 1099.9 370 1099.6 369 1099.6 368 1100 367.4 1100.2 367 1101 366.4 1101.7 366 1102 365.9 1103 365.5 1104 365.2 1104.5 365 1105 364.9 1106 364.7 1107 364.4 1108 364.2 1109 364 1109.2 364 1110 363.9 1111 363.7 1112 363.5 1113 363.3 1114 363.1 1114.6 363 1115 362.9 1116 362.7 1117 362.5 1118 362.3 1119 362.1 1119.4 362 1120 361.9 1121 361.6 1122 361.4 1123 361.1 1123.3 361 1124 360.8 1125 360.5 1126 360.2 1126.6 360 1127 359.9 1128 359.6 1129 359.2 1129.6 359 1130 358.9 1131 358.5 1132 358.2 1132.6 358 1133 357.9 1134 357.5 1135 357.2 1135.8 357 1136 356.9 1137 356.7 1138 356.5 1139 356.3 1140 356.1 1141 356 1141.1 356 M1135.5 364 1136 363.9 1137 363.8 1138 363.6 1139 363.5 1140 363.4 1141 363.4 1142 363.4 1143 363.4 1144 363.4 1145 363.5 1146 363.7 1147 363.9 1147.4 364 1148 364.1 1149 364.5 1150 364.8 1150.4 365 1151 365.3 1152 365.8 1152.4 366 1153 366.4 1153.9 367 1154 367 1155 367.8 1155.2 368 1156 368.8 1156.3 369 1157 369.9 1157.1 370 1157.8 371 1158 371.5 1158.3 372 1158.5 373 1158.5 374 1158.2 375 1158 375.3 1157.4 376 1157 376.4 1156.1 377 1156 377.1 1155 377.6 1154.2 378 1154 378.1 1153 378.5 1152 378.8 1151.5 379 1151 379.2 1150 379.5 1149 379.8 1148.1 380 1148 380 1147 380.3 1146 380.5 1145 380.7 1144 380.9 1143.7 381 1143 381.1 1142 381.3 1141 381.5 1140 381.6 1139 381.8 1138 381.9 1137 382 1136.8 382 1136 382.1 1135 382.1 1134 382.1 1133 382.2 1132 382.1 1131 382.1 1130 382 1129.6 382 1129 381.9 1128 381.8 1127 381.7 1126 381.5 1125 381.2 1124.2 381 1124 380.9 1123 380.6 1122 380.2 1121.5 380 1121 379.8 1120 379.2 1119.6 379 1119 378.6 1118.1 378 1118 377.9 1117 377.1 1116.9 377 1116 376 1116 376 1115.3 375 1115 374.5 1114.8 374 1114.5 373 1114.6 372 1115 371 1115 371 1115.9 370 1116 369.9 1117 369.2 1117.4 369 1118 368.7 1119 368.3 1119.6 368 1120 367.9 1121 367.5 1122 367.2 1122.6 367 1123 366.9 1124 366.6 1125 366.3 1126 366.1 1126.2 366 1127 365.8 1128 365.6 1129 365.3 1130 365.1 1130.4 365 1131 364.9 1132 364.7 1133 364.5 1134 364.3 1135 364.1 1135.5 364 M1177.4 380 1178 379.9 1179 379.7 1180 379.6 1181 379.6 1182 379.6 1183 379.7 1184 379.8 1184.7 380 1185 380.1 1186 380.6 1186.6 381 1187 381.5 1187.3 382 1187.5 383 1187.4 384 1187.2 385 1187 385.5 1186.8 386 1186.4 387 1186 388 1186 388 1185.6 389 1185.3 390 1185 391 1185 391.1 1184.9 392 1184.8 393 1184.9 394 1185 394.5 1185.1 395 1185.3 396 1185.5 397 1185.8 398 1185.9 399 1186 400 1185.8 401 1185.5 402 1185 402.7 1184.8 403 1184 403.7 1183.6 404 1183 404.3 1182 404.8 1181.5 405 1181 405.2 1180 405.4 1179 405.6 1178 405.7 1177 405.8 1176 405.8 1175 405.7 1174 405.6 1173 405.4 1172 405.2 1171.1 405 1171 405 1170 404.6 1169 404.2 1168.6 404 1168 403.7 1167 403 1167 403 1166 402.1 1165.9 402 1165.2 401 1165 400.5 1164.8 400 1164.7 399 1164.9 398 1165 397.7 1165.3 397 1165.8 396 1166 395.7 1166.4 395 1167 394.2 1167.1 394 1167.8 393 1168 392.7 1168.4 392 1169 391 1169 390.9 1169.5 390 1169.8 389 1170 388.5 1170.2 388 1170.5 387 1170.8 386 1171 385.4 1171.2 385 1171.6 384 1172 383.3 1172.2 383 1173 382.1 1173.1 382 1174 381.4 1174.6 381 1175 380.8 1176 380.4 1177 380.1 1177.4 380" fill="none" stroke="#4a4a4a" stroke-width="1" shape-rendering="crispEdges"/></g>
<line x1="867" y1="332" x2="1702" y2="332" stroke="#000" stroke-width="1.8"/>
<line x1="867" y1="388.1" x2="1702" y2="388.1" stroke="#000" stroke-width="2.6"/>
<line x1="867" y1="244.6" x2="1702" y2="244.6" stroke="#000" stroke-width="3.3" stroke-dasharray="22 9.5" stroke-dashoffset="0.6"/>
<line x1="867" y1="480.7" x2="1702" y2="480.7" stroke="#000" stroke-width="3.3" stroke-dasharray="22 9.5" stroke-dashoffset="0.6"/>
<rect x="1555" y="294" width="145" height="36" fill="#fff"/>
<rect x="1552" y="544.5" width="62" height="38" fill="#fff"/>
<polygon points="1018,352.2 1021.3,353.4 1025.9,355 1031.4,357 1037.3,359.1 1043.3,361 1049,362.8 1054.7,364.4 1060.7,365.9 1066.9,367.3 1072.8,368.7 1078.3,369.9 1083,371 1086.7,371.8 1089.6,372.4 1092,372.9 1094.3,373.4 1096.8,373.9 1100,374.5 1103.8,375.3 1108,376.2 1112.4,377.1 1117,378 1121.6,379 1126,379.8 1130.3,380.6 1134.7,381.3 1139,382 1143.3,382.6 1147.7,383.3 1152,384.1 1156.3,385 1160.7,385.9 1165,386.9 1169.3,387.9 1173.7,388.7 1178,389.4 1182.3,389.9 1186.6,390.4 1190.9,390.7 1195.3,390.9 1199.6,391.1 1204,391.1 1208.6,391.1 1213.3,390.9 1218,390.7 1222.7,390.4 1227,390 1231,389.4 1234.5,388.7 1237.5,387.9 1240.3,386.9 1242.9,385.9 1245.6,384.8 1248.4,383.6 1251.2,382.4 1253.9,381 1256.6,379.6 1259.4,378.1 1262.5,376.6 1265.9,375 1269.8,373.3 1274,371.4 1278.4,369.4 1283,367.5 1287.5,365.8 1292,364.4 1296.4,363.3 1300.8,362.4 1305.1,361.7 1309.5,361.1 1313.9,360.6 1318.3,360 1322.5,359.4 1326.6,358.9 1330.7,358.4 1335,357.9 1339.5,357.4 1344.5,357 1350.3,356.6 1356.9,356.2 1363.9,355.9 1370.6,355.5 1376.7,355.2 1381.7,354.9 1385.4,354.7 1388.1,354.5 1390.1,354.4 1391.8,354.2 1393.6,353.9 1395.6,353.5 1397.9,352.9 1400.2,352.2 1402.5,351.3 1404.8,350.4 1407.1,349.5 1409.4,348.6 1411.7,347.7 1414,346.9 1416.3,346 1418.7,345 1421,344.1 1423.3,343 1425.6,341.9 1427.9,340.8 1430.2,339.6 1432.6,338.3 1434.9,336.9 1437.2,335.4 1439.5,333.8 1441.7,332.1 1443.9,330.2 1446.2,328.3 1448.5,326.1 1451.1,323.6 1453.8,320.8 1456.7,317.6 1459.7,314.3 1462.8,310.8 1466,307.4 1469.2,304.2 1472.6,301.2 1476.1,298.3 1479.7,295.4 1483.3,292.5 1486.7,289.6 1490,286.7 1493,283.7 1495.9,280.6 1498.6,277.4 1501.3,274.3 1504,271.3 1506.7,268.3 1509.5,265.4 1512.2,262.6 1515,259.9 1517.8,257.2 1520.5,254.5 1523.3,251.7 1526.1,248.9 1528.9,246.1 1531.8,243.2 1534.6,240.4 1537.3,237.7 1540,235 1542.7,232.3 1545.4,229.6 1548,226.9 1550.6,224.4 1552.9,222 1555,220 1556.6,218.5 1557.8,217.5 1558.8,216.7 1559.8,215.9 1561.3,214.6 1563.3,212.5 1566.1,209.6 1569.3,206 1573,202 1576.8,197.8 1580.6,193.6 1584.2,189.6 1587.7,185.8 1591.2,182.1 1594.7,178.4 1598.2,174.6 1601.6,170.7 1605,166.7 1608.2,162.6 1611.3,158.4 1614.3,154.2 1617.4,149.7 1620.7,145 1624.4,140 1628.7,134.4 1633.4,128.1 1638.3,121.7 1643.3,115.3 1648,109.2 1652.2,103.9 1656.1,99.1 1659.8,94.6 1663.3,90.5 1666.5,86.9 1669.1,84 1671,81.7 1671,239.6 1668.4,239.7 1664.7,239.8 1660.3,240 1655.7,240.1 1651.1,240.4 1647,240.6 1643.2,240.9 1639.5,241.1 1635.8,241.4 1632.3,241.8 1629,242.2 1626,242.7 1623.4,243.2 1621.2,243.6 1619.2,244 1617.3,244.7 1615.2,245.6 1613,247 1610.5,248.9 1607.9,251.4 1605.2,254.1 1602.5,257 1599.8,259.8 1597,262.5 1594.2,265 1591.4,267.4 1588.6,269.8 1585.7,272.2 1582.8,274.6 1580,277 1577.2,279.4 1574.6,281.9 1571.9,284.3 1569.1,286.8 1566.2,289.3 1563,292 1559.4,294.8 1555.5,297.8 1551.5,300.9 1547.4,304 1543.5,307 1540,310 1536.8,312.9 1533.8,315.8 1531,318.6 1528.4,321.4 1525.8,324.1 1523.3,326.7 1521,329.2 1518.9,331.6 1516.9,333.9 1514.8,336 1512.6,338.1 1510,340 1507.1,341.7 1503.9,343.3 1500.5,344.7 1497,346 1493.5,347.3 1490,348.5 1486.5,349.7 1483,350.8 1479.5,351.8 1476,352.9 1472.5,353.9 1469.2,354.9 1466,356 1462.8,357 1459.7,358.1 1456.7,359.1 1453.8,360.1 1451.1,361.1 1448.5,362 1446.2,362.9 1443.9,363.7 1441.7,364.5 1439.5,365.3 1437.2,366 1434.9,366.6 1432.6,367.2 1430.2,367.7 1427.9,368.3 1425.6,368.8 1423.3,369.4 1421,370.1 1418.7,370.8 1416.3,371.5 1414,372.3 1411.7,373 1409.4,373.6 1407.1,374.2 1404.8,374.7 1402.5,375.2 1400.2,375.7 1397.9,376.1 1395.6,376.4 1393.6,376.6 1392,376.8 1390.4,376.8 1388.4,376.9 1385.6,376.9 1381.7,377 1376.3,377.1 1369.8,377.3 1362.4,377.5 1354.7,377.6 1347.1,377.7 1340,377.8 1333.2,377.7 1326.3,377.5 1319.4,377.3 1312.8,377.2 1306.6,377.2 1300.8,377.5 1295.7,378.1 1291.1,379 1286.9,380 1282.9,381.1 1278.8,382.4 1274.6,383.6 1270.1,385 1265.5,386.5 1261,388.2 1256.5,389.8 1252.3,391.2 1248.4,392.4 1245.1,393.3 1242.3,393.9 1239.7,394.3 1237.1,394.7 1234.3,395 1231,395.4 1227.1,395.8 1222.9,396.2 1218.4,396.5 1213.9,396.8 1209.3,397 1204.8,397.1 1200.4,397.1 1196.1,396.9 1191.7,396.7 1187.3,396.4 1183,395.9 1178.6,395.4 1174.2,394.7 1169.9,393.9 1165.5,392.9 1161.1,391.9 1156.8,391 1152.4,390.1 1148,389.3 1143.7,388.6 1139.3,388 1134.9,387.3 1130.6,386.6 1126.2,385.8 1121.7,384.9 1117.1,384 1112.5,383 1108.1,382 1103.8,381.2 1100,380.5 1096.8,380 1094.3,379.8 1092,379.6 1089.6,379.4 1086.7,379.2 1083,378.9 1078.3,378.4 1072.8,377.8 1066.9,377.1 1060.7,376.4 1054.7,375.9 1049,375.6 1043.3,375.5 1037.3,375.7 1031.4,375.9 1025.9,376.3 1021.3,376.5 1018,376.7" fill="#0000cd" fill-opacity="0.31"/>
<polyline points="1018,333.1 1021.2,332.9 1025.4,332.6 1030.5,332.3 1036.1,331.9 1042,331.6 1047.8,331.2 1053.2,330.8 1058,330.5 1062.2,330.2 1066.3,329.9 1070.1,329.7 1073.8,329.4 1077.4,329.1 1080.9,328.9 1084.5,328.6 1088,328.3 1091.5,328 1094.8,327.7 1098,327.4 1101.2,327.1 1104.4,326.8 1107.8,326.5 1111.3,326.2 1115,325.8 1119,325.4 1123.3,325 1127.7,324.6 1132.2,324.1 1136.8,323.7 1141.3,323.2 1145.8,322.7 1150,322.1 1154.1,321.5 1158.1,320.9 1162.1,320.3 1166,319.7 1169.9,319 1173.7,318.3 1177.4,317.5 1181.1,316.7 1184.7,315.8 1188.3,314.9 1191.8,313.9 1195.2,312.9 1198.5,311.9 1201.9,310.8 1205.1,309.8 1208.3,308.9 1211.4,308 1214.3,307.2 1217.2,306.3 1220,305.5 1222.8,304.7 1225.7,303.8 1228.6,303 1231.7,302.1 1234.9,301.2 1238.3,300.2 1241.7,299.2 1245.2,298.1 1248.7,297.1 1252.1,296.1 1255.6,295.2 1258.9,294.3 1262.2,293.5 1265.4,292.7 1268.5,292 1271.7,291.3 1274.8,290.7 1277.9,290 1281.1,289.3 1284.2,288.5 1287.4,287.7 1290.5,286.8 1293.7,286 1296.9,285.1 1300.1,284.2 1303.2,283.4 1306.3,282.5 1309.4,281.7 1312.4,280.9 1315.3,280.2 1318.1,279.5 1321,278.8 1323.8,278.1 1326.7,277.4 1329.7,276.6 1332.8,275.8 1336,274.9 1339.4,274 1342.9,273.1 1346.4,272.1 1349.9,271.1 1353.4,270.1 1356.8,269 1360,268 1363.1,267 1366.1,266 1369,265 1371.9,263.9 1374.7,262.9 1377.6,261.8 1380.4,260.6 1383.3,259.3 1386.2,257.9 1389.1,256.6 1391.9,255.1 1394.8,253.6 1397.7,252 1400.7,250.3 1403.6,248.6 1406.7,246.7 1409.8,244.7 1413.1,242.6 1416.3,240.3 1419.7,238 1423,235.6 1426.3,233.2 1429.6,230.9 1432.8,228.5 1436,226.2 1439.1,223.8 1442.1,221.4 1445.2,219 1448.3,216.6 1451.4,214.2 1454.5,211.8 1457.8,209.4 1461.1,207 1464.6,204.6 1468,202.3 1471.5,199.9 1475.1,197.5 1478.6,195.1 1482.1,192.6 1485.6,190 1489.1,187.4 1492.5,184.7 1496,181.9 1499.5,179.2 1502.9,176.4 1506.4,173.5 1509.8,170.7 1513.3,167.8 1516.8,164.9 1520.3,161.9 1523.8,158.9 1527.4,155.9 1530.9,152.9 1534.3,149.9 1537.8,147 1541.1,144.2 1544.4,141.4 1547.5,138.7 1550.7,136.1 1553.8,133.5 1556.8,130.9 1559.9,128.4 1563,125.8 1566.1,123.3 1569.2,120.8 1572.3,118.4 1575.4,116.1 1578.4,113.8 1581.5,111.4 1584.7,109 1587.8,106.5 1591.1,103.9 1594.5,101.1 1598,98.2 1601.6,95.1 1605.2,92 1608.8,88.9 1612.3,85.9 1615.7,83 1618.9,80.3 1621.9,77.8 1624.8,75.4 1627.6,73.1 1630.3,71 1632.9,68.8 1635.6,66.7 1638.3,64.5 1641.1,62.2 1644.1,59.7 1647.5,57.1 1650.9,54.3 1654.3,51.6 1657.5,49 1660.4,46.7 1662.9,44.8 1664.7,43.3" fill="none" stroke="#0000cd" stroke-width="3.3" stroke-dasharray="21 10"/>
<polyline points="1018,452.5 1021,452.8 1025,453.2 1029.9,453.7 1035.2,454.3 1040.7,454.9 1046.2,455.5 1051.4,456 1056,456.5 1060.1,457 1063.9,457.4 1067.6,457.8 1071.1,458.2 1074.6,458.6 1078,459 1081.5,459.4 1085,459.8 1088.5,460.2 1092.1,460.5 1095.6,460.8 1099.1,461.1 1102.5,461.5 1106,461.8 1109.5,462.1 1113,462.5 1116.5,462.9 1120.1,463.3 1123.7,463.7 1127.2,464.1 1130.8,464.6 1134.3,465 1137.7,465.4 1141,465.8 1144.1,466.2 1147.1,466.6 1150,466.9 1152.8,467.3 1155.6,467.7 1158.6,468 1161.7,468.4 1165,468.8 1168.6,469.2 1172.3,469.6 1176.1,469.9 1180.1,470.3 1184.2,470.7 1188.3,471.1 1192.4,471.6 1196.6,472.1 1200.8,472.7 1205.1,473.3 1209.4,474 1213.8,474.7 1218.3,475.4 1222.7,476.1 1227.1,476.8 1231.5,477.5 1235.9,478.1 1240.2,478.8 1244.6,479.4 1249,480 1253.3,480.6 1257.7,481.3 1262,481.9 1266.4,482.6 1270.8,483.3 1275.1,484 1279.5,484.7 1283.8,485.5 1288.2,486.2 1292.6,486.9 1296.9,487.7 1301.3,488.4 1305.7,489.1 1310,489.9 1314.4,490.6 1318.8,491.4 1323.2,492.1 1327.6,492.8 1331.9,493.5 1336.3,494.2 1340.7,494.8 1345,495.4 1349.4,495.9 1353.8,496.5 1358.1,497 1362.5,497.6 1366.8,498.2 1371.2,498.9 1375.6,499.7 1379.9,500.5 1384.3,501.4 1388.7,502.3 1393,503.2 1397.4,504.1 1401.7,505 1406.1,505.9 1410.5,506.8 1414.8,507.7 1419.2,508.5 1423.5,509.4 1427.9,510.3 1432.3,511.2 1436.6,512 1441,512.9 1445.4,513.8 1449.7,514.6 1454.1,515.5 1458.5,516.3 1462.9,517.2 1467.3,518.1 1471.6,518.9 1476,519.8 1480.4,520.7 1484.8,521.5 1489.1,522.4 1493.5,523.2 1497.9,524.1 1502.2,525 1506.6,525.9 1510.9,526.8 1515.3,527.8 1519.9,528.8 1524.5,529.8 1529,530.8 1533.4,531.8 1537.6,532.8 1541.5,533.7 1545,534.5 1547.9,535.2 1550.3,535.8 1552.4,536.3 1554.2,536.8 1556,537.3 1558,537.8 1560.2,538.3 1563,539 1566.3,539.7 1569.9,540.5 1573.7,541.4 1577.8,542.2 1581.9,543.2 1586,544.1 1590.1,545 1594,546 1597.8,547 1601.5,548 1605.3,549.1 1609,550.2 1612.7,551.2 1616.5,552.3 1620.2,553.4 1624,554.5 1628,555.6 1632.1,556.8 1636.4,557.9 1640.6,559.1 1644.7,560.2 1648.6,561.3 1652,562.2 1655,563 1657.5,563.7 1659.6,564.2 1661.3,564.7 1662.8,565 1664,565.3 1665,565.6 1665.9,565.8 1666.7,566" fill="none" stroke="#0000cd" stroke-width="3.3" stroke-dasharray="21 10"/>
<polyline points="1018,365.7 1020.4,366.1 1023.7,366.6 1027.6,367.2 1031.9,367.8 1036.4,368.5 1040.9,369.2 1045.2,369.9 1049,370.5 1052.5,371.1 1055.9,371.7 1059.2,372.3 1062.4,372.9 1065.5,373.5 1068.7,374 1071.8,374.5 1075,375 1078.2,375.4 1081.3,375.7 1084.4,376 1087.5,376.2 1090.6,376.4 1093.7,376.7 1096.8,377.1 1100,377.5 1103.2,378 1106.5,378.7 1109.7,379.3 1113,380 1116.3,380.8 1119.6,381.5 1122.9,382.2 1126.2,382.8 1129.5,383.4 1132.8,383.9 1136,384.4 1139.3,385 1142.6,385.5 1145.9,386 1149.1,386.5 1152.4,387.1 1155.7,387.7 1159,388.4 1162.2,389.2 1165.5,389.9 1168.8,390.6 1172,391.3 1175.3,391.9 1178.6,392.4 1181.9,392.8 1185.1,393.2 1188.4,393.5 1191.7,393.7 1195,393.9 1198.2,394 1201.5,394.1 1204.8,394.1 1208.1,394.1 1211.6,394 1215,393.8 1218.5,393.6 1221.8,393.4 1225.1,393.1 1228.1,392.8 1231,392.4 1233.6,392 1236,391.6 1238.2,391.1 1240.2,390.5 1242.3,390 1244.2,389.3 1246.3,388.7 1248.4,388 1250.6,387.2 1252.8,386.4 1255,385.6 1257.2,384.7 1259.3,383.7 1261.5,382.8 1263.7,381.9 1265.9,381 1268.1,380.1 1270.3,379.2 1272.4,378.2 1274.6,377.3 1276.8,376.4 1278.9,375.5 1281.1,374.7 1283.3,374 1285.5,373.4 1287.7,372.9 1289.9,372.4 1292,372 1294.2,371.7 1296.4,371.3 1298.6,371 1300.8,370.6 1302.9,370.2 1305,369.8 1307,369.5 1309,369.1 1311.1,368.8 1313.3,368.5 1315.7,368.2 1318.3,368 1321.2,367.9 1324.3,367.8 1327.6,367.7 1331,367.7 1334.5,367.7 1337.9,367.8 1341.3,367.8 1344.5,367.8 1347.5,367.8 1350.4,367.9 1353.3,367.9 1356.1,368 1358.9,368 1361.7,368 1364.7,368 1367.8,368 1371.2,367.9 1374.8,367.8 1378.5,367.7 1382.3,367.6 1386,367.4 1389.5,367.2 1392.8,367 1395.6,366.7 1398,366.4 1400,366 1401.8,365.6 1403.4,365.2 1404.8,364.7 1406.3,364.2 1407.8,363.7 1409.4,363.2 1411.1,362.7 1412.9,362.1 1414.6,361.5 1416.3,361 1418.1,360.3 1419.8,359.7 1421.6,359 1423.3,358.3 1425,357.5 1426.8,356.8 1428.5,355.9 1430.3,355.1 1432,354.2 1433.7,353.3 1435.5,352.4 1437.2,351.5 1438.9,350.6 1440.7,349.7 1442.4,348.8 1444.1,347.8 1445.8,346.9 1447.5,345.8 1449.3,344.8 1451,343.6 1452.7,342.4 1454.5,341 1456.2,339.7 1457.9,338.2 1459.7,336.8 1461.4,335.3 1463.2,333.8 1465,332.3 1466.8,330.8 1468.7,329.3 1470.6,327.7 1472.4,326.2 1474.3,324.6 1476.2,323.1 1478.1,321.5 1480,319.9 1481.9,318.3 1483.8,316.7 1485.6,315.1 1487.5,313.5 1489.4,311.9 1491.2,310.3 1493.1,308.7 1495,307.1 1496.9,305.5 1498.8,303.9 1500.6,302.2 1502.5,300.6 1504.4,298.9 1506.2,297.3 1508.1,295.6 1510,294 1511.9,292.3 1513.8,290.7 1515.6,289 1517.5,287.4 1519.4,285.7 1521.2,284.1 1523.1,282.4 1525,280.7 1526.9,279 1528.8,277.3 1530.6,275.6 1532.5,273.9 1534.4,272.2 1536.2,270.4 1538.1,268.7 1540,267 1541.9,265.3 1543.8,263.5 1545.6,261.8 1547.5,260.1 1549.4,258.4 1551.2,256.6 1553.1,254.9 1555,253.1 1556.8,251.4 1558.6,249.7 1560.4,248 1562.2,246.3 1564,244.5 1565.9,242.7 1567.9,240.8 1570,238.8 1572.3,236.6 1574.6,234.3 1577.1,232 1579.7,229.5 1582.3,227 1584.9,224.5 1587.5,222 1590,219.5 1592.5,217 1595,214.6 1597.5,212.1 1600,209.6 1602.5,207.1 1605,204.6 1607.5,202.1 1610,199.6 1612.5,197.1 1615,194.6 1617.5,192.1 1620,189.5 1622.5,187 1625,184.5 1627.5,181.9 1630,179.4 1632.5,176.9 1635,174.3 1637.5,171.8 1639.9,169.2 1642.4,166.7 1644.9,164.1 1647.4,161.4 1650,158.8 1652.7,156 1655.7,152.9 1658.8,149.7 1661.8,146.5 1664.7,143.4 1667.3,140.7 1669.5,138.4 1671.1,136.7" fill="none" stroke="#0000cd" stroke-width="3.2"/>
<rect x="874.5" y="228" width="162" height="32.5" fill="#fff"/>
<rect x="874.5" y="371.4" width="146.5" height="32.6" fill="#fff"/>
<rect x="874.5" y="464.4" width="152.5" height="32.6" fill="#fff"/>
<text x="881.46" y="255.50" font-size="23.9" font-family="Liberation Sans, Arial, sans-serif" fill="#000" textLength="146.92" lengthAdjust="spacingAndGlyphs">ULoA = + 0.50</text>
<text x="881.43" y="399.00" font-size="23.9" font-family="Liberation Sans, Arial, sans-serif" fill="#000" textLength="131.81" lengthAdjust="spacingAndGlyphs">Bias = - 0.30</text>
<text x="881.45" y="492.00" font-size="24" font-family="Liberation Sans, Arial, sans-serif" fill="#000" textLength="137.99" lengthAdjust="spacingAndGlyphs">LLoA = - 1.10</text>
<rect x="868.2" y="57" width="223.3" height="35.6" fill="#fff"/>
<rect x="868.2" y="102.6" width="131" height="35.4" fill="#fff"/>
<text x="884.68" y="87.10" font-size="26" font-family="Liberation Sans, Arial, sans-serif" fill="#000" textLength="199.54" lengthAdjust="spacingAndGlyphs">Bland-Altman plot</text>
<text x="884.63" y="132.60" font-size="34.7" font-family="Liberation Sans, Arial, sans-serif" fill="#000" textLength="19.60" lengthAdjust="spacingAndGlyphs">n</text>
<text x="910.48" y="132.60" font-size="26" font-family="Liberation Sans, Arial, sans-serif" fill="#000" textLength="81.23" lengthAdjust="spacingAndGlyphs">= 2308</text>
<text x="1559.14" y="69.70" font-size="24.2" font-family="Liberation Sans, Arial, sans-serif" fill="#0000cd" textLength="60.56" lengthAdjust="spacingAndGlyphs">97.5P</text>
<text x="1562.37" y="322.70" font-size="23.6" font-family="Liberation Sans, Arial, sans-serif" fill="#0000cd" textLength="133.18" lengthAdjust="spacingAndGlyphs">50P (95%CI)</text>
<text x="1558.82" y="578.30" font-size="23.7" font-family="Liberation Sans, Arial, sans-serif" fill="#0000cd" textLength="48.70" lengthAdjust="spacingAndGlyphs">2.5P</text>
<line x1="867.2" y1="44" x2="867.2" y2="620" stroke="#000" stroke-width="1.8"/>
<line x1="867.2" y1="619.6" x2="1702" y2="619.6" stroke="#000" stroke-width="1.8"/>
<line x1="1702" y1="44" x2="1702" y2="619" stroke="#c8c8c8" stroke-width="1.6"/>
<line x1="860.5" y1="43.9" x2="867.2" y2="43.9" stroke="#000" stroke-width="1.8"/>
<text x="855.3" y="55.4" font-size="25" font-family="Liberation Sans, Arial, sans-serif" text-anchor="end" fill="#000" >4</text>
<line x1="860.5" y1="76.8" x2="867.2" y2="76.8" stroke="#000" stroke-width="1.8"/>
<text x="855.3" y="88.2" font-size="25" font-family="Liberation Sans, Arial, sans-serif" text-anchor="end" fill="#000" >3</text>
<line x1="860.5" y1="120.5" x2="867.2" y2="120.5" stroke="#000" stroke-width="1.8"/>
<text x="855.3" y="132" font-size="25" font-family="Liberation Sans, Arial, sans-serif" text-anchor="end" fill="#000" >2</text>
<line x1="860.5" y1="189.5" x2="867.2" y2="189.5" stroke="#000" stroke-width="1.8"/>
<text x="855.3" y="201" font-size="25" font-family="Liberation Sans, Arial, sans-serif" text-anchor="end" fill="#000" >1</text>
<line x1="860.5" y1="332" x2="867.2" y2="332" stroke="#000" stroke-width="1.8"/>
<text x="855.3" y="343.5" font-size="25" font-family="Liberation Sans, Arial, sans-serif" text-anchor="end" fill="#000" >0</text>
<line x1="860.5" y1="473.4" x2="867.2" y2="473.4" stroke="#000" stroke-width="1.8"/>
<text x="855.3" y="484.9" font-size="25" font-family="Liberation Sans, Arial, sans-serif" text-anchor="end" fill="#000" >-1</text>
<line x1="860.5" y1="542.7" x2="867.2" y2="542.7" stroke="#000" stroke-width="1.8"/>
<text x="855.3" y="554.2" font-size="25" font-family="Liberation Sans, Arial, sans-serif" text-anchor="end" fill="#000" >-2</text>
<line x1="860.5" y1="587" x2="867.2" y2="587" stroke="#000" stroke-width="1.8"/>
<text x="855.3" y="598.5" font-size="25" font-family="Liberation Sans, Arial, sans-serif" text-anchor="end" fill="#000" >-3</text>
<line x1="860.5" y1="619.4" x2="867.2" y2="619.4" stroke="#000" stroke-width="1.8"/>
<text x="855.3" y="630.9" font-size="25" font-family="Liberation Sans, Arial, sans-serif" text-anchor="end" fill="#000" >-4</text>
<line x1="867" y1="244.6" x2="874.3" y2="244.6" stroke="#000" stroke-width="3.3"/>
<line x1="867" y1="388.1" x2="874.3" y2="388.1" stroke="#000" stroke-width="3.3"/>
<line x1="867" y1="480.7" x2="874.3" y2="480.7" stroke="#000" stroke-width="3.3"/>
<line x1="867" y1="619.6" x2="867" y2="623.8" stroke="#000" stroke-width="1.8"/>
<text x="867" y="653.7" font-size="25" font-family="Liberation Sans, Arial, sans-serif" text-anchor="middle" fill="#000" >0</text>
<line x1="1144" y1="619.6" x2="1144" y2="623.8" stroke="#000" stroke-width="1.8"/>
<text x="1144" y="653.7" font-size="25" font-family="Liberation Sans, Arial, sans-serif" text-anchor="middle" fill="#000" >1</text>
<line x1="1281.6" y1="619.6" x2="1281.6" y2="623.8" stroke="#000" stroke-width="1.8"/>
<text x="1281.6" y="653.7" font-size="25" font-family="Liberation Sans, Arial, sans-serif" text-anchor="middle" fill="#000" >2</text>
<line x1="1432.8" y1="619.6" x2="1432.8" y2="623.8" stroke="#000" stroke-width="1.8"/>
<text x="1432.8" y="653.7" font-size="25" font-family="Liberation Sans, Arial, sans-serif" text-anchor="middle" fill="#000" >4</text>
<line x1="1520.5" y1="619.6" x2="1520.5" y2="623.8" stroke="#000" stroke-width="1.8"/>
<text x="1520.5" y="653.7" font-size="25" font-family="Liberation Sans, Arial, sans-serif" text-anchor="middle" fill="#000" >6</text>
<line x1="1580.5" y1="619.6" x2="1580.5" y2="623.8" stroke="#000" stroke-width="1.8"/>
<text x="1580.5" y="653.7" font-size="25" font-family="Liberation Sans, Arial, sans-serif" text-anchor="middle" fill="#000" >8</text>
<line x1="1625.2" y1="619.6" x2="1625.2" y2="623.8" stroke="#000" stroke-width="1.8"/>
<text x="1625.2" y="653.7" font-size="25" font-family="Liberation Sans, Arial, sans-serif" text-anchor="middle" fill="#000" >10</text>
<line x1="1701.9" y1="619.6" x2="1701.9" y2="623.8" stroke="#000" stroke-width="1.8"/>
<text x="1701.9" y="653.7" font-size="25" font-family="Liberation Sans, Arial, sans-serif" text-anchor="middle" fill="#000" >15</text>
<text x="875.44" y="708.50" font-size="36.4" font-family="Liberation Sans, Arial, sans-serif" fill="#000" textLength="815.77" lengthAdjust="spacingAndGlyphs">Mean of NaF/KOx (x) and VBG (y) Lactates mmol/L</text>
<text transform="translate(803.30,592.92) rotate(-90)" font-size="36.5" font-family="Liberation Sans, Arial, sans-serif" fill="#000" textLength="526.87" lengthAdjust="spacingAndGlyphs">Difference (x-y) Lactates mmol/L</text>
<text x="773.95" y="28.70" font-size="39" font-family="Liberation Serif, Times New Roman, serif" font-weight="bold" fill="#000" textLength="34.44" lengthAdjust="spacingAndGlyphs">B.</text>
</g>
</svg></body></html>
